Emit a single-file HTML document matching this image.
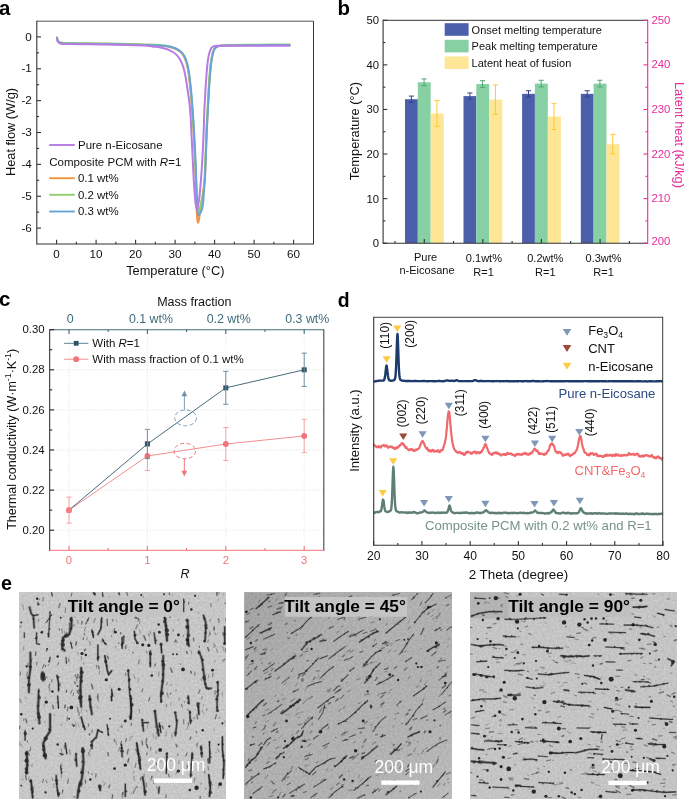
<!DOCTYPE html>
<html><head><meta charset="utf-8"><title>Figure</title>
<style>
html,body{margin:0;padding:0;background:#fff}
svg{display:block}
text{font-family:"Liberation Sans",sans-serif}
</style></head><body>
<svg width="685" height="800" viewBox="0 0 685 800">
<rect x="0" y="0" width="685" height="800" fill="#fff"/>
<g id="panel-a">
<text x="-1.10" y="14.60" font-size="20.4" fill="#000" text-anchor="start" font-weight="bold" font-style="normal" >a</text>
<path d="M56.90,37.70 C57.03,38.30 57.11,38.91 57.30,39.50 C57.50,40.11 57.72,40.79 58.10,41.30 C58.46,41.79 58.91,42.19 59.50,42.50 C60.24,42.88 61.12,43.03 62.30,43.20 C64.27,43.48 67.03,43.42 70.30,43.50 C75.47,43.62 83.63,43.62 90.30,43.70 C96.97,43.78 103.63,43.87 110.30,44.00 C116.97,44.13 124.11,44.34 130.30,44.50 C135.66,44.64 140.34,44.70 145.30,44.90 C150.18,45.10 155.42,45.31 159.80,45.70 C163.45,46.03 166.89,46.25 169.80,46.95 C172.16,47.52 174.14,48.23 176.05,49.20 C177.87,50.13 179.67,51.26 181.05,52.60 C182.35,53.86 183.30,55.26 184.20,56.95 C185.24,58.91 186.00,61.31 186.70,63.80 C187.50,66.66 188.04,70.01 188.55,73.20 C189.08,76.47 189.40,79.68 189.80,83.20 C190.24,87.13 190.67,91.53 191.05,95.70 C191.42,99.86 191.74,104.03 192.05,108.20 C192.36,112.37 192.64,116.77 192.90,120.70 C193.13,124.22 193.32,126.62 193.55,130.70 C193.92,137.16 194.42,147.37 194.80,155.70 C195.17,164.03 195.50,172.83 195.80,180.70 C196.07,187.74 196.38,194.91 196.55,200.70 C196.68,205.15 196.64,209.08 196.80,212.50 C196.92,215.14 197.06,217.61 197.30,219.50 C197.47,220.81 197.62,222.77 197.90,222.80 C198.12,222.83 198.47,221.81 198.70,221.00 C199.12,219.53 199.27,216.84 199.60,214.50 C199.99,211.74 200.45,208.50 200.90,205.50 C201.35,202.50 201.78,199.92 202.30,196.50 C203.00,191.95 204.13,186.51 204.70,180.60 C205.42,173.22 205.47,163.93 205.80,155.60 C206.13,147.27 206.35,138.33 206.70,130.60 C207.00,123.90 207.37,118.10 207.70,111.85 C208.03,105.60 208.33,99.35 208.70,93.10 C209.08,86.85 209.44,80.11 209.95,74.35 C210.38,69.41 210.80,64.65 211.45,60.60 C211.97,57.34 212.50,54.12 213.30,51.85 C213.85,50.30 214.37,49.02 215.20,48.10 C215.90,47.33 216.74,46.88 217.70,46.50 C218.79,46.07 219.93,45.98 221.45,45.80 C223.77,45.52 226.76,45.43 230.30,45.30 C235.62,45.11 243.63,45.07 250.30,45.00 C256.97,44.93 263.69,44.92 270.30,44.90 C276.79,44.88 283.17,44.90 289.60,44.90" stroke="#F5943A" stroke-width="2.0" fill="none" stroke-linejoin="round" stroke-linecap="round"/>
<path d="M56.90,37.30 C57.03,37.90 57.11,38.51 57.30,39.10 C57.50,39.71 57.72,40.39 58.10,40.90 C58.46,41.39 58.91,41.79 59.50,42.10 C60.24,42.48 61.12,42.63 62.30,42.80 C64.27,43.08 67.03,43.02 70.30,43.10 C75.47,43.22 83.63,43.22 90.30,43.30 C96.97,43.38 103.63,43.47 110.30,43.60 C116.97,43.73 124.11,43.94 130.30,44.10 C135.66,44.24 140.33,44.33 145.30,44.50 C150.23,44.67 155.58,44.73 160.00,45.10 C163.66,45.40 167.09,45.65 170.00,46.35 C172.36,46.92 174.34,47.63 176.25,48.60 C178.07,49.53 179.87,50.66 181.25,52.00 C182.55,53.26 183.50,54.66 184.40,56.35 C185.44,58.31 186.20,60.71 186.90,63.20 C187.70,66.06 188.24,69.41 188.75,72.60 C189.28,75.87 189.60,79.08 190.00,82.60 C190.44,86.53 190.87,90.93 191.25,95.10 C191.62,99.26 191.94,103.43 192.25,107.60 C192.56,111.77 192.84,116.17 193.10,120.10 C193.33,123.62 193.52,126.02 193.75,130.10 C194.12,136.56 194.62,146.77 195.00,155.10 C195.37,163.43 195.70,172.23 196.00,180.10 C196.27,187.14 196.43,195.06 196.75,200.10 C196.94,203.17 197.08,205.50 197.40,207.50 C197.62,208.89 197.74,210.80 198.20,211.00 C198.45,211.11 198.83,210.83 199.10,210.50 C199.64,209.83 199.92,207.98 200.30,206.50 C200.76,204.71 201.12,202.62 201.60,200.50 C202.14,198.11 202.95,195.77 203.40,192.90 C203.97,189.27 204.10,185.28 204.40,180.40 C204.83,173.50 205.17,163.73 205.50,155.40 C205.83,147.07 206.05,138.13 206.40,130.40 C206.70,123.70 207.07,117.90 207.40,111.65 C207.73,105.40 208.03,99.15 208.40,92.90 C208.78,86.65 209.14,79.91 209.65,74.15 C210.08,69.21 210.50,64.45 211.15,60.40 C211.67,57.14 212.20,53.92 213.00,51.65 C213.55,50.10 214.07,48.82 214.90,47.90 C215.60,47.13 216.44,46.68 217.40,46.30 C218.49,45.87 219.62,45.78 221.15,45.60 C223.52,45.31 226.66,45.23 230.30,45.10 C235.68,44.91 243.63,44.88 250.30,44.80 C256.97,44.72 263.69,44.65 270.30,44.60 C276.79,44.55 283.17,44.53 289.60,44.50" stroke="#8FCF6E" stroke-width="2.0" fill="none" stroke-linejoin="round" stroke-linecap="round"/>
<path d="M56.90,37.90 C57.03,38.50 57.11,39.11 57.30,39.70 C57.50,40.31 57.72,40.99 58.10,41.50 C58.46,41.99 58.91,42.39 59.50,42.70 C60.24,43.08 61.12,43.23 62.30,43.40 C64.27,43.68 67.03,43.62 70.30,43.70 C75.47,43.82 83.63,43.82 90.30,43.90 C96.97,43.98 103.63,44.07 110.30,44.20 C116.97,44.33 124.11,44.54 130.30,44.70 C135.66,44.84 140.30,44.97 145.30,45.10 C150.30,45.23 155.81,45.16 160.30,45.50 C163.98,45.78 167.39,46.05 170.30,46.75 C172.66,47.32 174.64,48.03 176.55,49.00 C178.37,49.93 180.17,51.06 181.55,52.40 C182.85,53.66 183.80,55.06 184.70,56.75 C185.74,58.71 186.50,61.11 187.20,63.60 C188.00,66.46 188.54,69.81 189.05,73.00 C189.58,76.27 189.90,79.48 190.30,83.00 C190.74,86.93 191.17,91.33 191.55,95.50 C191.92,99.66 192.24,103.83 192.55,108.00 C192.86,112.17 193.14,116.57 193.40,120.50 C193.63,124.02 193.82,126.42 194.05,130.50 C194.42,136.96 194.92,147.17 195.30,155.50 C195.67,163.83 196.00,172.63 196.30,180.50 C196.57,187.54 196.81,194.98 197.05,200.50 C197.22,204.41 197.25,207.75 197.55,210.50 C197.76,212.46 197.83,215.35 198.40,215.50 C198.81,215.61 199.55,214.27 200.05,213.50 C200.62,212.63 201.12,211.65 201.55,210.50 C202.08,209.07 202.46,207.56 202.80,205.50 C203.33,202.29 203.47,197.17 203.80,193.00 C204.13,188.83 204.50,185.38 204.80,180.50 C205.23,173.60 205.57,163.83 205.90,155.50 C206.23,147.17 206.45,138.23 206.80,130.50 C207.10,123.80 207.47,118.00 207.80,111.75 C208.13,105.50 208.43,99.25 208.80,93.00 C209.18,86.75 209.54,80.01 210.05,74.25 C210.48,69.31 210.90,64.55 211.55,60.50 C212.07,57.24 212.60,54.02 213.40,51.75 C213.95,50.20 214.47,48.92 215.30,48.00 C216.00,47.23 216.84,46.78 217.80,46.40 C218.89,45.97 220.03,45.87 221.55,45.70 C223.85,45.45 226.79,45.48 230.30,45.40 C235.61,45.28 243.63,45.25 250.30,45.20 C256.97,45.15 263.69,45.12 270.30,45.10 C276.79,45.08 283.17,45.10 289.60,45.10" stroke="#6AA3D8" stroke-width="2.0" fill="none" stroke-linejoin="round" stroke-linecap="round"/>
<path d="M56.90,38.30 C57.03,38.90 57.11,39.51 57.30,40.10 C57.50,40.71 57.72,41.39 58.10,41.90 C58.46,42.39 58.91,42.79 59.50,43.10 C60.24,43.48 61.12,43.63 62.30,43.80 C64.27,44.08 67.03,44.02 70.30,44.10 C75.47,44.22 83.63,44.22 90.30,44.30 C96.97,44.38 103.63,44.47 110.30,44.60 C116.97,44.73 124.11,44.94 130.30,45.10 C135.66,45.24 141.25,45.16 145.30,45.50 C148.08,45.73 149.89,46.19 152.30,46.50 C154.88,46.83 157.81,46.94 160.30,47.40 C162.53,47.81 164.50,48.25 166.55,49.00 C168.67,49.77 171.03,50.91 172.80,52.00 C174.26,52.90 175.38,53.71 176.55,54.90 C177.90,56.27 179.21,57.99 180.30,59.90 C181.54,62.08 182.57,64.82 183.40,67.40 C184.24,70.02 184.74,72.74 185.30,75.50 C185.88,78.35 186.31,81.15 186.80,84.25 C187.35,87.76 187.90,91.86 188.40,95.50 C188.87,98.93 189.33,101.98 189.70,105.50 C190.11,109.43 190.43,113.83 190.70,118.00 C190.97,122.16 191.06,125.62 191.30,130.50 C191.64,137.40 192.13,147.17 192.55,155.50 C192.97,163.83 193.34,172.91 193.80,180.50 C194.19,186.85 194.62,193.39 195.05,198.00 C195.33,201.03 195.52,203.40 195.90,205.50 C196.18,207.05 196.54,209.49 196.90,209.50 C197.26,209.51 197.70,207.05 198.05,205.50 C198.52,203.40 198.91,201.03 199.30,198.00 C199.89,193.39 200.40,186.86 200.90,180.50 C201.50,172.91 202.08,163.84 202.55,155.50 C203.02,147.17 203.40,138.24 203.70,130.50 C203.96,123.80 204.03,118.00 204.30,111.75 C204.57,105.50 204.93,99.25 205.30,93.00 C205.68,86.75 206.06,80.15 206.55,74.25 C206.99,68.97 207.39,63.38 208.05,59.25 C208.52,56.30 209.00,53.83 209.70,51.75 C210.23,50.18 210.72,48.72 211.55,47.75 C212.24,46.95 213.08,46.45 214.05,46.10 C215.13,45.71 216.18,45.79 217.80,45.70 C220.75,45.54 225.65,45.70 230.30,45.70 C236.19,45.70 243.63,45.70 250.30,45.70 C256.97,45.70 263.69,45.70 270.30,45.70 C276.79,45.70 283.17,45.70 289.60,45.70" stroke="#B77BE3" stroke-width="2.0" fill="none" stroke-linejoin="round" stroke-linecap="round"/>
<line x1="36.80" y1="21.20" x2="313.50" y2="21.20" stroke="#555" stroke-width="1" />
<line x1="313.50" y1="21.20" x2="313.50" y2="244.00" stroke="#333" stroke-width="1" />
<line x1="36.80" y1="20.70" x2="36.80" y2="244.50" stroke="#333333" stroke-width="1.1" />
<line x1="36.80" y1="244.00" x2="314.00" y2="244.00" stroke="#333333" stroke-width="1.1" />
<line x1="36.80" y1="228.12" x2="41.00" y2="228.12" stroke="#333333" stroke-width="1.1" />
<text x="31.80" y="231.72" font-size="11.7" fill="#111" text-anchor="end" font-weight="normal" font-style="normal" >-6</text>
<line x1="36.80" y1="196.25" x2="41.00" y2="196.25" stroke="#333333" stroke-width="1.1" />
<text x="31.80" y="199.85" font-size="11.7" fill="#111" text-anchor="end" font-weight="normal" font-style="normal" >-5</text>
<line x1="36.80" y1="164.38" x2="41.00" y2="164.38" stroke="#333333" stroke-width="1.1" />
<text x="31.80" y="167.98" font-size="11.7" fill="#111" text-anchor="end" font-weight="normal" font-style="normal" >-4</text>
<line x1="36.80" y1="132.51" x2="41.00" y2="132.51" stroke="#333333" stroke-width="1.1" />
<text x="31.80" y="136.11" font-size="11.7" fill="#111" text-anchor="end" font-weight="normal" font-style="normal" >-3</text>
<line x1="36.80" y1="100.64" x2="41.00" y2="100.64" stroke="#333333" stroke-width="1.1" />
<text x="31.80" y="104.24" font-size="11.7" fill="#111" text-anchor="end" font-weight="normal" font-style="normal" >-2</text>
<line x1="36.80" y1="68.77" x2="41.00" y2="68.77" stroke="#333333" stroke-width="1.1" />
<text x="31.80" y="72.37" font-size="11.7" fill="#111" text-anchor="end" font-weight="normal" font-style="normal" >-1</text>
<line x1="36.80" y1="36.90" x2="41.00" y2="36.90" stroke="#333333" stroke-width="1.1" />
<text x="31.80" y="40.50" font-size="11.7" fill="#111" text-anchor="end" font-weight="normal" font-style="normal" >0</text>
<line x1="36.80" y1="212.19" x2="39.10" y2="212.19" stroke="#333333" stroke-width="1.1" />
<line x1="36.80" y1="180.31" x2="39.10" y2="180.31" stroke="#333333" stroke-width="1.1" />
<line x1="36.80" y1="148.44" x2="39.10" y2="148.44" stroke="#333333" stroke-width="1.1" />
<line x1="36.80" y1="116.57" x2="39.10" y2="116.57" stroke="#333333" stroke-width="1.1" />
<line x1="36.80" y1="84.70" x2="39.10" y2="84.70" stroke="#333333" stroke-width="1.1" />
<line x1="36.80" y1="52.84" x2="39.10" y2="52.84" stroke="#333333" stroke-width="1.1" />
<line x1="56.60" y1="244.00" x2="56.60" y2="239.80" stroke="#333333" stroke-width="1.1" />
<text x="56.60" y="258.00" font-size="11.7" fill="#111" text-anchor="middle" font-weight="normal" font-style="normal" >0</text>
<line x1="96.10" y1="244.00" x2="96.10" y2="239.80" stroke="#333333" stroke-width="1.1" />
<text x="96.10" y="258.00" font-size="11.7" fill="#111" text-anchor="middle" font-weight="normal" font-style="normal" >10</text>
<line x1="135.60" y1="244.00" x2="135.60" y2="239.80" stroke="#333333" stroke-width="1.1" />
<text x="135.60" y="258.00" font-size="11.7" fill="#111" text-anchor="middle" font-weight="normal" font-style="normal" >20</text>
<line x1="175.10" y1="244.00" x2="175.10" y2="239.80" stroke="#333333" stroke-width="1.1" />
<text x="175.10" y="258.00" font-size="11.7" fill="#111" text-anchor="middle" font-weight="normal" font-style="normal" >30</text>
<line x1="214.60" y1="244.00" x2="214.60" y2="239.80" stroke="#333333" stroke-width="1.1" />
<text x="214.60" y="258.00" font-size="11.7" fill="#111" text-anchor="middle" font-weight="normal" font-style="normal" >40</text>
<line x1="254.10" y1="244.00" x2="254.10" y2="239.80" stroke="#333333" stroke-width="1.1" />
<text x="254.10" y="258.00" font-size="11.7" fill="#111" text-anchor="middle" font-weight="normal" font-style="normal" >50</text>
<line x1="293.60" y1="244.00" x2="293.60" y2="239.80" stroke="#333333" stroke-width="1.1" />
<text x="293.60" y="258.00" font-size="11.7" fill="#111" text-anchor="middle" font-weight="normal" font-style="normal" >60</text>
<line x1="76.35" y1="244.00" x2="76.35" y2="241.70" stroke="#333333" stroke-width="1.1" />
<line x1="115.85" y1="244.00" x2="115.85" y2="241.70" stroke="#333333" stroke-width="1.1" />
<line x1="155.35" y1="244.00" x2="155.35" y2="241.70" stroke="#333333" stroke-width="1.1" />
<line x1="194.85" y1="244.00" x2="194.85" y2="241.70" stroke="#333333" stroke-width="1.1" />
<line x1="234.35" y1="244.00" x2="234.35" y2="241.70" stroke="#333333" stroke-width="1.1" />
<line x1="273.85" y1="244.00" x2="273.85" y2="241.70" stroke="#333333" stroke-width="1.1" />
<text x="175.30" y="274.70" font-size="12.8" fill="#111" text-anchor="middle" font-weight="normal" font-style="normal" >Temperature (°C)</text>
<text x="14.60" y="132.00" font-size="12.8" fill="#111" text-anchor="middle" font-weight="normal" font-style="normal" transform="rotate(-90 14.60 132.00)" >Heat flow (W/g)</text>
<line x1="49.20" y1="145.00" x2="74.80" y2="145.00" stroke="#B77BE3" stroke-width="1.9" />
<text x="78.00" y="148.70" font-size="11.45" fill="#111" text-anchor="start" font-weight="normal" font-style="normal" >Pure n-Eicosane</text>
<line x1="49.20" y1="178.20" x2="74.80" y2="178.20" stroke="#F5943A" stroke-width="1.9" />
<text x="78.00" y="181.90" font-size="11.45" fill="#111" text-anchor="start" font-weight="normal" font-style="normal" >0.1 wt%</text>
<line x1="49.20" y1="194.80" x2="74.80" y2="194.80" stroke="#8FCF6E" stroke-width="1.9" />
<text x="78.00" y="198.50" font-size="11.45" fill="#111" text-anchor="start" font-weight="normal" font-style="normal" >0.2 wt%</text>
<line x1="49.20" y1="211.50" x2="74.80" y2="211.50" stroke="#6AA3D8" stroke-width="1.9" />
<text x="78.00" y="215.20" font-size="11.45" fill="#111" text-anchor="start" font-weight="normal" font-style="normal" >0.3 wt%</text>
<text x="49.30" y="165.50" font-size="11.5" fill="#111" text-anchor="start" font-weight="normal" font-style="normal" >Composite PCM with <tspan font-style="italic">R</tspan>=1</text>
</g>
<g id="panel-b">
<text x="337.60" y="14.80" font-size="20.4" fill="#000" text-anchor="start" font-weight="bold" font-style="normal" >b</text>
<rect x="405.00" y="99.21" width="12.80" height="143.99" fill="#4C5FAB" />
<rect x="417.80" y="82.27" width="12.90" height="160.93" fill="#86D0A4" />
<rect x="430.70" y="113.47" width="13.10" height="129.73" fill="#FDE695" />
<line x1="411.40" y1="96.09" x2="411.40" y2="102.33" stroke="#2F4583" stroke-width="1" />
<line x1="408.80" y1="96.09" x2="414.00" y2="96.09" stroke="#2F4583" stroke-width="1" />
<line x1="408.80" y1="102.33" x2="414.00" y2="102.33" stroke="#2F4583" stroke-width="1" />
<line x1="424.10" y1="78.92" x2="424.10" y2="85.61" stroke="#4FA877" stroke-width="1" />
<line x1="421.50" y1="78.92" x2="426.70" y2="78.92" stroke="#4FA877" stroke-width="1" />
<line x1="421.50" y1="85.61" x2="426.70" y2="85.61" stroke="#4FA877" stroke-width="1" />
<line x1="436.90" y1="100.54" x2="436.90" y2="126.40" stroke="#FFC832" stroke-width="1" />
<line x1="434.30" y1="100.54" x2="439.50" y2="100.54" stroke="#FFC832" stroke-width="1" />
<line x1="434.30" y1="126.40" x2="439.50" y2="126.40" stroke="#FFC832" stroke-width="1" />
<rect x="463.50" y="96.09" width="12.80" height="147.11" fill="#4C5FAB" />
<rect x="476.30" y="84.05" width="12.90" height="159.15" fill="#86D0A4" />
<rect x="489.20" y="99.65" width="13.10" height="143.55" fill="#FDE695" />
<line x1="469.90" y1="92.97" x2="469.90" y2="99.21" stroke="#2F4583" stroke-width="1" />
<line x1="467.30" y1="92.97" x2="472.50" y2="92.97" stroke="#2F4583" stroke-width="1" />
<line x1="467.30" y1="99.21" x2="472.50" y2="99.21" stroke="#2F4583" stroke-width="1" />
<line x1="482.60" y1="80.71" x2="482.60" y2="87.39" stroke="#4FA877" stroke-width="1" />
<line x1="480.00" y1="80.71" x2="485.20" y2="80.71" stroke="#4FA877" stroke-width="1" />
<line x1="480.00" y1="87.39" x2="485.20" y2="87.39" stroke="#4FA877" stroke-width="1" />
<line x1="495.40" y1="84.94" x2="495.40" y2="114.36" stroke="#FFC832" stroke-width="1" />
<line x1="492.80" y1="84.94" x2="498.00" y2="84.94" stroke="#FFC832" stroke-width="1" />
<line x1="492.80" y1="114.36" x2="498.00" y2="114.36" stroke="#FFC832" stroke-width="1" />
<rect x="522.10" y="93.86" width="12.80" height="149.34" fill="#4C5FAB" />
<rect x="534.90" y="83.60" width="12.90" height="159.60" fill="#86D0A4" />
<rect x="547.80" y="116.59" width="13.10" height="126.61" fill="#FDE695" />
<line x1="528.50" y1="90.74" x2="528.50" y2="96.98" stroke="#2F4583" stroke-width="1" />
<line x1="525.90" y1="90.74" x2="531.10" y2="90.74" stroke="#2F4583" stroke-width="1" />
<line x1="525.90" y1="96.98" x2="531.10" y2="96.98" stroke="#2F4583" stroke-width="1" />
<line x1="541.20" y1="80.26" x2="541.20" y2="86.95" stroke="#4FA877" stroke-width="1" />
<line x1="538.60" y1="80.26" x2="543.80" y2="80.26" stroke="#4FA877" stroke-width="1" />
<line x1="538.60" y1="86.95" x2="543.80" y2="86.95" stroke="#4FA877" stroke-width="1" />
<line x1="554.00" y1="103.66" x2="554.00" y2="129.52" stroke="#FFC832" stroke-width="1" />
<line x1="551.40" y1="103.66" x2="556.60" y2="103.66" stroke="#FFC832" stroke-width="1" />
<line x1="551.40" y1="129.52" x2="556.60" y2="129.52" stroke="#FFC832" stroke-width="1" />
<rect x="580.80" y="93.86" width="12.80" height="149.34" fill="#4C5FAB" />
<rect x="593.60" y="83.60" width="12.90" height="159.60" fill="#86D0A4" />
<rect x="606.50" y="144.23" width="13.10" height="98.97" fill="#FDE695" />
<line x1="587.20" y1="90.74" x2="587.20" y2="96.98" stroke="#2F4583" stroke-width="1" />
<line x1="584.60" y1="90.74" x2="589.80" y2="90.74" stroke="#2F4583" stroke-width="1" />
<line x1="584.60" y1="96.98" x2="589.80" y2="96.98" stroke="#2F4583" stroke-width="1" />
<line x1="599.90" y1="80.26" x2="599.90" y2="86.95" stroke="#4FA877" stroke-width="1" />
<line x1="597.30" y1="80.26" x2="602.50" y2="80.26" stroke="#4FA877" stroke-width="1" />
<line x1="597.30" y1="86.95" x2="602.50" y2="86.95" stroke="#4FA877" stroke-width="1" />
<line x1="612.70" y1="134.42" x2="612.70" y2="154.04" stroke="#FFC832" stroke-width="1" />
<line x1="610.10" y1="134.42" x2="615.30" y2="134.42" stroke="#FFC832" stroke-width="1" />
<line x1="610.10" y1="154.04" x2="615.30" y2="154.04" stroke="#FFC832" stroke-width="1" />
<line x1="383.10" y1="20.30" x2="647.70" y2="20.30" stroke="#333" stroke-width="1" />
<line x1="383.10" y1="19.80" x2="383.10" y2="243.70" stroke="#333333" stroke-width="1.1" />
<line x1="383.10" y1="243.20" x2="647.70" y2="243.20" stroke="#333333" stroke-width="1.1" />
<line x1="647.70" y1="19.80" x2="647.70" y2="243.70" stroke="#E62E9A" stroke-width="1.1" />
<line x1="383.10" y1="243.20" x2="387.30" y2="243.20" stroke="#333333" stroke-width="1.1" />
<text x="379.00" y="247.20" font-size="11.3" fill="#111" text-anchor="end" font-weight="normal" font-style="normal" >0</text>
<line x1="647.70" y1="243.20" x2="643.50" y2="243.20" stroke="#E62E9A" stroke-width="1.1" />
<text x="651.40" y="244.60" font-size="11.3" fill="#E62E9A" text-anchor="start" font-weight="normal" font-style="normal" >200</text>
<line x1="383.10" y1="198.62" x2="387.30" y2="198.62" stroke="#333333" stroke-width="1.1" />
<text x="379.00" y="202.62" font-size="11.3" fill="#111" text-anchor="end" font-weight="normal" font-style="normal" >10</text>
<line x1="647.70" y1="198.62" x2="643.50" y2="198.62" stroke="#E62E9A" stroke-width="1.1" />
<text x="651.40" y="201.80" font-size="11.3" fill="#E62E9A" text-anchor="start" font-weight="normal" font-style="normal" >210</text>
<line x1="383.10" y1="154.04" x2="387.30" y2="154.04" stroke="#333333" stroke-width="1.1" />
<text x="379.00" y="158.04" font-size="11.3" fill="#111" text-anchor="end" font-weight="normal" font-style="normal" >20</text>
<line x1="647.70" y1="154.04" x2="643.50" y2="154.04" stroke="#E62E9A" stroke-width="1.1" />
<text x="651.40" y="158.40" font-size="11.3" fill="#E62E9A" text-anchor="start" font-weight="normal" font-style="normal" >220</text>
<line x1="383.10" y1="109.46" x2="387.30" y2="109.46" stroke="#333333" stroke-width="1.1" />
<text x="379.00" y="113.46" font-size="11.3" fill="#111" text-anchor="end" font-weight="normal" font-style="normal" >30</text>
<line x1="647.70" y1="109.46" x2="643.50" y2="109.46" stroke="#E62E9A" stroke-width="1.1" />
<text x="651.40" y="113.00" font-size="11.3" fill="#E62E9A" text-anchor="start" font-weight="normal" font-style="normal" >230</text>
<line x1="383.10" y1="64.88" x2="387.30" y2="64.88" stroke="#333333" stroke-width="1.1" />
<text x="379.00" y="68.88" font-size="11.3" fill="#111" text-anchor="end" font-weight="normal" font-style="normal" >40</text>
<line x1="647.70" y1="64.88" x2="643.50" y2="64.88" stroke="#E62E9A" stroke-width="1.1" />
<text x="651.40" y="68.40" font-size="11.3" fill="#E62E9A" text-anchor="start" font-weight="normal" font-style="normal" >240</text>
<line x1="383.10" y1="20.30" x2="387.30" y2="20.30" stroke="#333333" stroke-width="1.1" />
<text x="379.00" y="24.30" font-size="11.3" fill="#111" text-anchor="end" font-weight="normal" font-style="normal" >50</text>
<line x1="647.70" y1="20.30" x2="643.50" y2="20.30" stroke="#E62E9A" stroke-width="1.1" />
<text x="651.40" y="24.10" font-size="11.3" fill="#E62E9A" text-anchor="start" font-weight="normal" font-style="normal" >250</text>
<line x1="383.10" y1="220.91" x2="385.40" y2="220.91" stroke="#333333" stroke-width="1.1" />
<line x1="647.70" y1="220.91" x2="645.40" y2="220.91" stroke="#E62E9A" stroke-width="1.1" />
<line x1="383.10" y1="176.33" x2="385.40" y2="176.33" stroke="#333333" stroke-width="1.1" />
<line x1="647.70" y1="176.33" x2="645.40" y2="176.33" stroke="#E62E9A" stroke-width="1.1" />
<line x1="383.10" y1="131.75" x2="385.40" y2="131.75" stroke="#333333" stroke-width="1.1" />
<line x1="647.70" y1="131.75" x2="645.40" y2="131.75" stroke="#E62E9A" stroke-width="1.1" />
<line x1="383.10" y1="87.17" x2="385.40" y2="87.17" stroke="#333333" stroke-width="1.1" />
<line x1="647.70" y1="87.17" x2="645.40" y2="87.17" stroke="#E62E9A" stroke-width="1.1" />
<line x1="383.10" y1="42.59" x2="385.40" y2="42.59" stroke="#333333" stroke-width="1.1" />
<line x1="647.70" y1="42.59" x2="645.40" y2="42.59" stroke="#E62E9A" stroke-width="1.1" />
<line x1="424.30" y1="243.20" x2="424.30" y2="239.00" stroke="#333333" stroke-width="1.1" />
<line x1="482.80" y1="243.20" x2="482.80" y2="239.00" stroke="#333333" stroke-width="1.1" />
<line x1="541.40" y1="243.20" x2="541.40" y2="239.00" stroke="#333333" stroke-width="1.1" />
<line x1="600.10" y1="243.20" x2="600.10" y2="239.00" stroke="#333333" stroke-width="1.1" />
<line x1="395.00" y1="243.20" x2="395.00" y2="240.90" stroke="#333333" stroke-width="1.1" />
<line x1="453.50" y1="243.20" x2="453.50" y2="240.90" stroke="#333333" stroke-width="1.1" />
<line x1="512.10" y1="243.20" x2="512.10" y2="240.90" stroke="#333333" stroke-width="1.1" />
<line x1="570.70" y1="243.20" x2="570.70" y2="240.90" stroke="#333333" stroke-width="1.1" />
<line x1="629.40" y1="243.20" x2="629.40" y2="240.90" stroke="#333333" stroke-width="1.1" />
<text x="425.60" y="260.70" font-size="11.0" fill="#111" text-anchor="middle" font-weight="normal" font-style="normal" >Pure</text>
<text x="427.00" y="274.10" font-size="11.0" fill="#111" text-anchor="middle" font-weight="normal" font-style="normal" >n-Eicosane</text>
<text x="483.90" y="261.80" font-size="11.0" fill="#111" text-anchor="middle" font-weight="normal" font-style="normal" >0.1wt%</text>
<text x="483.60" y="275.70" font-size="11.0" fill="#111" text-anchor="middle" font-weight="normal" font-style="normal" >R=1</text>
<text x="545.30" y="261.90" font-size="11.0" fill="#111" text-anchor="middle" font-weight="normal" font-style="normal" >0.2wt%</text>
<text x="545.30" y="275.70" font-size="11.0" fill="#111" text-anchor="middle" font-weight="normal" font-style="normal" >R=1</text>
<text x="603.60" y="261.90" font-size="11.0" fill="#111" text-anchor="middle" font-weight="normal" font-style="normal" >0.3wt%</text>
<text x="603.60" y="275.70" font-size="11.0" fill="#111" text-anchor="middle" font-weight="normal" font-style="normal" >R=1</text>
<text x="359.20" y="131.00" font-size="12.8" fill="#111" text-anchor="middle" font-weight="normal" font-style="normal" transform="rotate(-90 359.20 131.00)" >Temperature (°C)</text>
<text x="674.80" y="135.00" font-size="12.8" fill="#E62E9A" text-anchor="middle" font-weight="normal" font-style="normal" transform="rotate(90 674.80 135.00)" >Latent heat (kJ/kg)</text>
<rect x="444.70" y="23.20" width="23.90" height="12.60" fill="#4C5FAB" />
<text x="471.60" y="33.60" font-size="11" fill="#111" text-anchor="start" font-weight="normal" font-style="normal" >Onset melting temperature</text>
<rect x="444.70" y="39.80" width="23.90" height="12.60" fill="#86D0A4" />
<text x="471.60" y="50.20" font-size="11" fill="#111" text-anchor="start" font-weight="normal" font-style="normal" >Peak melting temperature</text>
<rect x="444.70" y="56.40" width="23.90" height="12.60" fill="#FDE695" />
<text x="471.60" y="66.80" font-size="11" fill="#111" text-anchor="start" font-weight="normal" font-style="normal" >Latent heat of fusion</text>
</g>
<g id="panel-c">
<text x="-1.10" y="305.70" font-size="20.4" fill="#000" text-anchor="start" font-weight="bold" font-style="normal" >c</text>
<line x1="49.90" y1="530.20" x2="323.80" y2="530.20" stroke="#dedede" stroke-width="0.7" stroke-dasharray="1.6,1.6"/>
<line x1="49.90" y1="490.10" x2="323.80" y2="490.10" stroke="#dedede" stroke-width="0.7" stroke-dasharray="1.6,1.6"/>
<line x1="49.90" y1="450.00" x2="323.80" y2="450.00" stroke="#dedede" stroke-width="0.7" stroke-dasharray="1.6,1.6"/>
<line x1="49.90" y1="409.90" x2="323.80" y2="409.90" stroke="#dedede" stroke-width="0.7" stroke-dasharray="1.6,1.6"/>
<line x1="49.90" y1="369.80" x2="323.80" y2="369.80" stroke="#dedede" stroke-width="0.7" stroke-dasharray="1.6,1.6"/>
<line x1="69.00" y1="329.70" x2="69.00" y2="550.30" stroke="#e2e2e2" stroke-width="0.7" stroke-dasharray="1.6,1.6"/>
<line x1="147.40" y1="329.70" x2="147.40" y2="550.30" stroke="#e2e2e2" stroke-width="0.7" stroke-dasharray="1.6,1.6"/>
<line x1="225.80" y1="329.70" x2="225.80" y2="550.30" stroke="#e2e2e2" stroke-width="0.7" stroke-dasharray="1.6,1.6"/>
<line x1="304.20" y1="329.70" x2="304.20" y2="550.30" stroke="#e2e2e2" stroke-width="0.7" stroke-dasharray="1.6,1.6"/>
<path d="M69.00,510.15 L147.40,456.02 L225.80,443.99 L304.20,435.97" stroke="#F58E90" stroke-width="1" fill="none" />
<line x1="69.00" y1="497.12" x2="69.00" y2="523.18" stroke="#F5A3A5" stroke-width="1" />
<line x1="66.40" y1="497.12" x2="71.60" y2="497.12" stroke="#F5A3A5" stroke-width="1" />
<line x1="66.40" y1="523.18" x2="71.60" y2="523.18" stroke="#F5A3A5" stroke-width="1" />
<circle cx="69.00" cy="510.15" r="2.9" fill="#F0747A"/>
<line x1="147.40" y1="441.58" x2="147.40" y2="470.45" stroke="#F5A3A5" stroke-width="1" />
<line x1="144.80" y1="441.58" x2="150.00" y2="441.58" stroke="#F5A3A5" stroke-width="1" />
<line x1="144.80" y1="470.45" x2="150.00" y2="470.45" stroke="#F5A3A5" stroke-width="1" />
<circle cx="147.40" cy="456.02" r="2.9" fill="#F0747A"/>
<line x1="225.80" y1="427.54" x2="225.80" y2="460.43" stroke="#F5A3A5" stroke-width="1" />
<line x1="223.20" y1="427.54" x2="228.40" y2="427.54" stroke="#F5A3A5" stroke-width="1" />
<line x1="223.20" y1="460.43" x2="228.40" y2="460.43" stroke="#F5A3A5" stroke-width="1" />
<circle cx="225.80" cy="443.99" r="2.9" fill="#F0747A"/>
<line x1="304.20" y1="419.32" x2="304.20" y2="452.61" stroke="#F5A3A5" stroke-width="1" />
<line x1="301.60" y1="419.32" x2="306.80" y2="419.32" stroke="#F5A3A5" stroke-width="1" />
<line x1="301.60" y1="452.61" x2="306.80" y2="452.61" stroke="#F5A3A5" stroke-width="1" />
<circle cx="304.20" cy="435.97" r="2.9" fill="#F0747A"/>
<path d="M69.00,510.15 L147.40,443.99 L225.80,387.85 L304.20,369.80" stroke="#456C7B" stroke-width="1.0" fill="none" />
<rect x="144.90" y="441.49" width="5.00" height="5.00" fill="#2E5363" />
<line x1="147.40" y1="429.35" x2="147.40" y2="458.62" stroke="#6F92A1" stroke-width="1" />
<line x1="144.80" y1="429.35" x2="150.00" y2="429.35" stroke="#6F92A1" stroke-width="1" />
<line x1="144.80" y1="458.62" x2="150.00" y2="458.62" stroke="#6F92A1" stroke-width="1" />
<rect x="223.30" y="385.35" width="5.00" height="5.00" fill="#2E5363" />
<line x1="225.80" y1="371.40" x2="225.80" y2="404.29" stroke="#6F92A1" stroke-width="1" />
<line x1="223.20" y1="371.40" x2="228.40" y2="371.40" stroke="#6F92A1" stroke-width="1" />
<line x1="223.20" y1="404.29" x2="228.40" y2="404.29" stroke="#6F92A1" stroke-width="1" />
<rect x="301.70" y="367.30" width="5.00" height="5.00" fill="#2E5363" />
<line x1="304.20" y1="353.16" x2="304.20" y2="386.44" stroke="#6F92A1" stroke-width="1" />
<line x1="301.60" y1="353.16" x2="306.80" y2="353.16" stroke="#6F92A1" stroke-width="1" />
<line x1="301.60" y1="386.44" x2="306.80" y2="386.44" stroke="#6F92A1" stroke-width="1" />
<rect x="66.50" y="507.75" width="5.0" height="5.0" rx="0.9" fill="#F27F84"/>
<ellipse cx="185.6" cy="417.9" rx="10.9" ry="7.9" fill="none" stroke="#7FA0B5" stroke-width="1" stroke-dasharray="4,2.5"/>
<line x1="184.40" y1="410.30" x2="184.40" y2="395.00" stroke="#7FA0B5" stroke-width="1" />
<path d="M181.6,396.2 L187.2,396.2 L184.4,390.6 Z" fill="#6F91A8"/>
<ellipse cx="184.8" cy="451" rx="10.8" ry="7.7" fill="none" stroke="#F0747A" stroke-width="1" stroke-dasharray="4,2.5"/>
<line x1="184.30" y1="458.50" x2="184.30" y2="472.00" stroke="#F0747A" stroke-width="1" />
<path d="M181.5,470.7 L187.1,470.7 L184.3,476.4 Z" fill="#F0747A"/>
<line x1="49.90" y1="329.70" x2="323.80" y2="329.70" stroke="#3F6B7B" stroke-width="1.1" />
<line x1="323.80" y1="329.20" x2="323.80" y2="550.80" stroke="#444" stroke-width="1.1" />
<line x1="49.70" y1="329.20" x2="49.70" y2="550.80" stroke="#222" stroke-width="1.0" />
<line x1="49.90" y1="550.30" x2="324.30" y2="550.30" stroke="#F0747A" stroke-width="1.0" />
<line x1="49.90" y1="530.20" x2="54.10" y2="530.20" stroke="#222" stroke-width="1.1" />
<text x="44.70" y="533.80" font-size="11.4" fill="#111" text-anchor="end" font-weight="normal" font-style="normal" >0.20</text>
<line x1="49.90" y1="490.10" x2="54.10" y2="490.10" stroke="#222" stroke-width="1.1" />
<text x="44.70" y="493.70" font-size="11.4" fill="#111" text-anchor="end" font-weight="normal" font-style="normal" >0.22</text>
<line x1="49.90" y1="450.00" x2="54.10" y2="450.00" stroke="#222" stroke-width="1.1" />
<text x="44.70" y="453.60" font-size="11.4" fill="#111" text-anchor="end" font-weight="normal" font-style="normal" >0.24</text>
<line x1="49.90" y1="409.90" x2="54.10" y2="409.90" stroke="#222" stroke-width="1.1" />
<text x="44.70" y="413.50" font-size="11.4" fill="#111" text-anchor="end" font-weight="normal" font-style="normal" >0.26</text>
<line x1="49.90" y1="369.80" x2="54.10" y2="369.80" stroke="#222" stroke-width="1.1" />
<text x="44.70" y="373.40" font-size="11.4" fill="#111" text-anchor="end" font-weight="normal" font-style="normal" >0.28</text>
<line x1="49.90" y1="329.70" x2="54.10" y2="329.70" stroke="#222" stroke-width="1.1" />
<text x="44.70" y="333.30" font-size="11.4" fill="#111" text-anchor="end" font-weight="normal" font-style="normal" >0.30</text>
<line x1="49.90" y1="510.15" x2="52.20" y2="510.15" stroke="#222" stroke-width="1.1" />
<line x1="49.90" y1="470.05" x2="52.20" y2="470.05" stroke="#222" stroke-width="1.1" />
<line x1="49.90" y1="429.95" x2="52.20" y2="429.95" stroke="#222" stroke-width="1.1" />
<line x1="49.90" y1="389.85" x2="52.20" y2="389.85" stroke="#222" stroke-width="1.1" />
<line x1="49.90" y1="349.75" x2="52.20" y2="349.75" stroke="#222" stroke-width="1.1" />
<line x1="69.00" y1="329.70" x2="69.00" y2="333.90" stroke="#3F6B7B" stroke-width="1.1" />
<line x1="69.00" y1="550.30" x2="69.00" y2="546.10" stroke="#F0747A" stroke-width="1.1" />
<text x="69.00" y="564.40" font-size="11.3" fill="#F0747A" text-anchor="middle" font-weight="normal" font-style="normal" >0</text>
<line x1="147.40" y1="329.70" x2="147.40" y2="333.90" stroke="#3F6B7B" stroke-width="1.1" />
<line x1="147.40" y1="550.30" x2="147.40" y2="546.10" stroke="#F0747A" stroke-width="1.1" />
<text x="147.40" y="564.40" font-size="11.3" fill="#F0747A" text-anchor="middle" font-weight="normal" font-style="normal" >1</text>
<line x1="225.80" y1="329.70" x2="225.80" y2="333.90" stroke="#3F6B7B" stroke-width="1.1" />
<line x1="225.80" y1="550.30" x2="225.80" y2="546.10" stroke="#F0747A" stroke-width="1.1" />
<text x="225.80" y="564.40" font-size="11.3" fill="#F0747A" text-anchor="middle" font-weight="normal" font-style="normal" >2</text>
<line x1="304.20" y1="329.70" x2="304.20" y2="333.90" stroke="#3F6B7B" stroke-width="1.1" />
<line x1="304.20" y1="550.30" x2="304.20" y2="546.10" stroke="#F0747A" stroke-width="1.1" />
<text x="304.20" y="564.40" font-size="11.3" fill="#F0747A" text-anchor="middle" font-weight="normal" font-style="normal" >3</text>
<line x1="108.20" y1="329.70" x2="108.20" y2="332.00" stroke="#3F6B7B" stroke-width="1.1" />
<line x1="108.20" y1="550.30" x2="108.20" y2="548.00" stroke="#F0747A" stroke-width="1.1" />
<line x1="186.60" y1="329.70" x2="186.60" y2="332.00" stroke="#3F6B7B" stroke-width="1.1" />
<line x1="186.60" y1="550.30" x2="186.60" y2="548.00" stroke="#F0747A" stroke-width="1.1" />
<line x1="265.00" y1="329.70" x2="265.00" y2="332.00" stroke="#3F6B7B" stroke-width="1.1" />
<line x1="265.00" y1="550.30" x2="265.00" y2="548.00" stroke="#F0747A" stroke-width="1.1" />
<text x="70.10" y="322.70" font-size="12.4" fill="#3F6B7B" text-anchor="middle" font-weight="normal" font-style="normal" >0</text>
<text x="151.00" y="322.70" font-size="12.4" fill="#3F6B7B" text-anchor="middle" font-weight="normal" font-style="normal" >0.1 wt%</text>
<text x="228.70" y="322.70" font-size="12.4" fill="#3F6B7B" text-anchor="middle" font-weight="normal" font-style="normal" >0.2 wt%</text>
<text x="307.30" y="322.70" font-size="12.4" fill="#3F6B7B" text-anchor="middle" font-weight="normal" font-style="normal" >0.3 wt%</text>
<text x="194.30" y="305.80" font-size="12.5" fill="#111" text-anchor="middle" font-weight="normal" font-style="normal" >Mass fraction</text>
<text x="185.00" y="578.20" font-size="12.4" fill="#111" text-anchor="middle" font-weight="normal" font-style="italic" >R</text>
<text x="16.00" y="439.30" font-size="12.5" fill="#111" text-anchor="middle" font-weight="normal" font-style="normal" transform="rotate(-90 16.00 439.30)" >Thermal conductivity (W·m<tspan font-size="8.8" dy="-5.3">-1</tspan><tspan dy="5.3">·K</tspan><tspan font-size="8.8" dy="-5.3">-1</tspan><tspan dy="5.3">)</tspan></text>
<line x1="64.00" y1="343.30" x2="88.40" y2="343.30" stroke="#5D8494" stroke-width="1" />
<rect x="73.80" y="340.90" width="4.80" height="4.80" fill="#2E5363" />
<text x="92.30" y="347.40" font-size="11.5" fill="#111" text-anchor="start" font-weight="normal" font-style="normal" >With <tspan font-style="italic">R</tspan>=1</text>
<line x1="64.00" y1="359.20" x2="88.40" y2="359.20" stroke="#F28C90" stroke-width="1" />
<circle cx="76.2" cy="359.2" r="2.9" fill="#F0747A"/>
<text x="92.30" y="363.30" font-size="11.5" fill="#111" text-anchor="start" font-weight="normal" font-style="normal" >With mass fraction of 0.1 wt%</text>
</g>
<g id="panel-d">
<text x="337.80" y="306.80" font-size="19.4" fill="#000" text-anchor="start" font-weight="bold" font-style="normal" >d</text>
<path d="M373.70,381.63 L374.02,381.53 L374.34,381.52 L374.67,381.42 L374.99,381.38 L375.31,381.29 L375.63,381.32 L375.95,381.19 L376.27,381.14 L376.60,381.06 L376.92,381.01 L377.24,380.94 L377.56,380.91 L377.88,380.89 L378.21,380.86 L378.53,380.79 L378.85,380.79 L379.17,380.72 L379.49,380.68 L379.81,380.59 L380.14,380.56 L380.46,380.63 L380.78,380.62 L381.10,380.62 L381.42,380.62 L381.75,380.59 L382.07,380.61 L382.39,380.62 L382.71,380.61 L383.03,380.60 L383.35,380.56 L383.68,380.41 L384.00,380.08 L384.32,379.46 L384.64,378.41 L384.96,376.81 L385.29,374.47 L385.61,371.60 L385.93,368.61 L386.25,366.28 L386.57,365.54 L386.89,366.82 L387.22,369.45 L387.54,372.47 L387.86,375.15 L388.18,377.27 L388.50,378.73 L388.83,379.63 L389.15,380.10 L389.47,380.38 L389.79,380.51 L390.11,380.59 L390.43,380.62 L390.76,380.70 L391.08,380.72 L391.40,380.72 L391.72,380.70 L392.04,380.65 L392.37,380.62 L392.69,380.60 L393.01,380.56 L393.33,380.46 L393.65,380.28 L393.97,380.11 L394.30,379.90 L394.62,379.55 L394.94,378.90 L395.26,377.54 L395.58,375.03 L395.91,370.65 L396.23,363.94 L396.55,354.96 L396.87,344.94 L397.19,336.69 L397.51,333.98 L397.84,338.47 L398.16,347.59 L398.48,357.58 L398.80,366.05 L399.12,372.14 L399.45,375.91 L399.77,378.04 L400.09,379.16 L400.41,379.72 L400.73,380.01 L401.06,380.20 L401.38,380.35 L401.70,380.49 L402.02,380.56 L402.34,380.64 L402.66,380.66 L402.99,380.70 L403.31,380.73 L403.63,380.80 L403.95,380.86 L404.27,380.89 L404.60,380.88 L404.92,380.92 L405.24,380.95 L405.56,380.96 L405.88,380.95 L406.20,380.98 L406.53,380.93 L406.85,380.94 L407.17,380.95 L407.49,380.96 L407.81,380.98 L408.14,380.93 L408.46,380.96 L408.78,380.94 L409.10,380.97 L409.42,381.01 L409.74,381.01 L410.07,380.97 L410.39,381.03 L410.71,381.07 L411.03,381.06 L411.35,381.09 L411.68,381.17 L412.00,381.15 L412.32,381.12 L412.64,381.14 L412.96,381.16 L413.28,381.11 L413.61,381.04 L413.93,381.10 L414.25,381.09 L414.57,381.04 L414.89,381.04 L415.22,381.04 L415.54,381.04 L415.86,381.05 L416.18,381.06 L416.50,381.09 L416.82,381.10 L417.15,381.09 L417.47,381.12 L417.79,381.11 L418.11,381.14 L418.43,381.14 L418.76,381.14 L419.08,381.16 L419.40,381.16 L419.72,381.08 L420.04,381.09 L420.36,381.13 L420.69,381.13 L421.01,381.13 L421.33,381.11 L421.65,381.10 L421.97,381.09 L422.30,381.07 L422.62,381.12 L422.94,381.07 L423.26,381.02 L423.58,381.01 L423.90,381.02 L424.23,381.02 L424.55,381.05 L424.87,381.05 L425.19,381.13 L425.51,381.10 L425.84,381.11 L426.16,381.13 L426.48,381.19 L426.80,381.18 L427.12,381.18 L427.44,381.15 L427.77,381.18 L428.09,381.12 L428.41,381.18 L428.73,381.19 L429.05,381.14 L429.38,381.09 L429.70,381.11 L430.02,381.14 L430.34,381.14 L430.66,381.10 L430.98,381.12 L431.31,381.11 L431.63,381.12 L431.95,381.15 L432.27,381.17 L432.59,381.17 L432.92,381.18 L433.24,381.21 L433.56,381.24 L433.88,381.19 L434.20,381.20 L434.52,381.20 L434.85,381.23 L435.17,381.22 L435.49,381.21 L435.81,381.18 L436.13,381.14 L436.46,381.17 L436.78,381.18 L437.10,381.13 L437.42,381.08 L437.74,381.04 L438.06,380.99 L438.39,381.04 L438.71,381.02 L439.03,381.00 L439.35,380.98 L439.67,381.00 L440.00,381.01 L440.32,381.07 L440.64,381.11 L440.96,381.12 L441.28,381.11 L441.60,381.12 L441.93,381.19 L442.25,381.17 L442.57,381.22 L442.89,381.25 L443.21,381.19 L443.54,381.21 L443.86,381.18 L444.18,381.11 L444.50,381.04 L444.82,380.93 L445.14,380.84 L445.47,380.71 L445.79,380.63 L446.11,380.62 L446.43,380.49 L446.75,380.43 L447.08,380.40 L447.40,380.43 L447.72,380.45 L448.04,380.54 L448.36,380.62 L448.69,380.69 L449.01,380.73 L449.33,380.77 L449.65,380.82 L449.97,380.88 L450.29,380.89 L450.62,380.87 L450.94,380.83 L451.26,380.74 L451.58,380.70 L451.90,380.68 L452.23,380.68 L452.55,380.81 L452.87,380.88 L453.19,380.91 L453.51,381.01 L453.83,381.00 L454.16,381.01 L454.48,380.95 L454.80,380.86 L455.12,380.77 L455.44,380.60 L455.77,380.44 L456.09,380.35 L456.41,380.26 L456.73,380.24 L457.05,380.28 L457.37,380.40 L457.70,380.52 L458.02,380.72 L458.34,380.87 L458.66,381.01 L458.98,381.11 L459.31,381.12 L459.63,381.13 L459.95,381.12 L460.27,381.15 L460.59,381.17 L460.91,381.18 L461.24,381.13 L461.56,381.10 L461.88,381.08 L462.20,381.13 L462.52,381.15 L462.85,381.19 L463.17,381.16 L463.49,381.17 L463.81,381.11 L464.13,381.13 L464.45,381.14 L464.78,381.13 L465.10,381.12 L465.42,381.11 L465.74,381.10 L466.06,381.09 L466.39,381.10 L466.71,381.14 L467.03,381.12 L467.35,381.14 L467.67,381.19 L467.99,381.14 L468.32,381.14 L468.64,381.12 L468.96,381.12 L469.28,381.15 L469.60,381.13 L469.93,381.14 L470.25,381.14 L470.57,381.07 L470.89,381.12 L471.21,381.13 L471.53,381.16 L471.86,381.11 L472.18,381.09 L472.50,381.03 L472.82,380.96 L473.14,380.83 L473.47,380.69 L473.79,380.51 L474.11,380.38 L474.43,380.24 L474.75,380.20 L475.07,380.11 L475.40,380.14 L475.72,380.23 L476.04,380.33 L476.36,380.51 L476.68,380.66 L477.01,380.81 L477.33,380.95 L477.65,381.05 L477.97,381.11 L478.29,381.14 L478.61,381.18 L478.94,381.20 L479.26,381.14 L479.58,381.10 L479.90,381.02 L480.22,380.96 L480.55,380.93 L480.87,380.98 L481.19,380.98 L481.51,380.95 L481.83,380.96 L482.15,381.01 L482.48,381.05 L482.80,381.11 L483.12,381.17 L483.44,381.15 L483.76,381.14 L484.09,381.17 L484.41,381.16 L484.73,381.18 L485.05,381.17 L485.37,381.16 L485.69,381.17 L486.02,381.15 L486.34,381.17 L486.66,381.13 L486.98,381.10 L487.30,381.12 L487.63,381.06 L487.95,381.08 L488.27,381.09 L488.59,381.11 L488.91,381.12 L489.23,381.07 L489.56,381.10 L489.88,381.12 L490.20,381.10 L490.52,381.13 L490.84,381.14 L491.17,381.14 L491.49,381.17 L491.81,381.17 L492.13,381.28 L492.45,381.25 L492.77,381.20 L493.10,381.22 L493.42,381.25 L493.74,381.23 L494.06,381.21 L494.38,381.15 L494.71,381.15 L495.03,381.10 L495.35,381.12 L495.67,381.15 L495.99,381.12 L496.32,381.08 L496.64,381.05 L496.96,381.13 L497.28,381.13 L497.60,381.12 L497.92,381.10 L498.25,381.13 L498.57,381.09 L498.89,381.13 L499.21,381.14 L499.53,381.22 L499.86,381.15 L500.18,381.17 L500.50,381.16 L500.82,381.22 L501.14,381.19 L501.46,381.24 L501.79,381.16 L502.11,381.15 L502.43,381.11 L502.75,381.16 L503.07,381.16 L503.40,381.20 L503.72,381.21 L504.04,381.22 L504.36,381.16 L504.68,381.17 L505.00,381.17 L505.33,381.18 L505.65,381.17 L505.97,381.12 L506.29,381.07 L506.61,381.07 L506.94,381.06 L507.26,381.10 L507.58,381.19 L507.90,381.21 L508.22,381.17 L508.54,381.17 L508.87,381.22 L509.19,381.22 L509.51,381.21 L509.83,381.24 L510.15,381.28 L510.48,381.23 L510.80,381.26 L511.12,381.27 L511.44,381.27 L511.76,381.30 L512.08,381.32 L512.41,381.34 L512.73,381.32 L513.05,381.26 L513.37,381.24 L513.69,381.24 L514.02,381.24 L514.34,381.24 L514.66,381.19 L514.98,381.20 L515.30,381.15 L515.62,381.17 L515.95,381.20 L516.27,381.25 L516.59,381.24 L516.91,381.23 L517.23,381.24 L517.56,381.24 L517.88,381.20 L518.20,381.23 L518.52,381.18 L518.84,381.18 L519.16,381.14 L519.49,381.11 L519.81,381.15 L520.13,381.14 L520.45,381.16 L520.77,381.17 L521.10,381.17 L521.42,381.22 L521.74,381.26 L522.06,381.25 L522.38,381.29 L522.70,381.27 L523.03,381.25 L523.35,381.29 L523.67,381.29 L523.99,381.27 L524.31,381.18 L524.64,381.13 L524.96,381.15 L525.28,381.12 L525.60,381.13 L525.92,381.11 L526.24,381.05 L526.57,381.07 L526.89,381.12 L527.21,381.18 L527.53,381.24 L527.85,381.27 L528.18,381.31 L528.50,381.28 L528.82,381.30 L529.14,381.33 L529.46,381.31 L529.78,381.29 L530.11,381.24 L530.43,381.19 L530.75,381.16 L531.07,381.09 L531.39,381.08 L531.72,381.08 L532.04,381.03 L532.36,381.04 L532.68,381.01 L533.00,381.04 L533.32,381.06 L533.65,381.05 L533.97,381.09 L534.29,381.11 L534.61,381.10 L534.93,381.15 L535.26,381.19 L535.58,381.22 L535.90,381.23 L536.22,381.21 L536.54,381.22 L536.86,381.21 L537.19,381.19 L537.51,381.22 L537.83,381.21 L538.15,381.20 L538.47,381.23 L538.80,381.21 L539.12,381.24 L539.44,381.27 L539.76,381.31 L540.08,381.34 L540.40,381.36 L540.73,381.34 L541.05,381.33 L541.37,381.33 L541.69,381.38 L542.01,381.36 L542.34,381.32 L542.66,381.30 L542.98,381.28 L543.30,381.24 L543.62,381.27 L543.95,381.25 L544.27,381.17 L544.59,381.14 L544.91,381.15 L545.23,381.14 L545.55,381.10 L545.88,381.13 L546.20,381.08 L546.52,381.03 L546.84,381.03 L547.16,381.10 L547.49,381.12 L547.81,381.11 L548.13,381.12 L548.45,381.12 L548.77,381.12 L549.09,381.14 L549.42,381.18 L549.74,381.21 L550.06,381.17 L550.38,381.18 L550.70,381.19 L551.03,381.20 L551.35,381.25 L551.67,381.23 L551.99,381.29 L552.31,381.31 L552.63,381.25 L552.96,381.35 L553.28,381.33 L553.60,381.35 L553.92,381.31 L554.24,381.29 L554.57,381.28 L554.89,381.27 L555.21,381.26 L555.53,381.35 L555.85,381.26 L556.17,381.25 L556.50,381.26 L556.82,381.29 L557.14,381.28 L557.46,381.32 L557.78,381.32 L558.11,381.30 L558.43,381.23 L558.75,381.23 L559.07,381.24 L559.39,381.23 L559.71,381.28 L560.04,381.26 L560.36,381.24 L560.68,381.17 L561.00,381.17 L561.32,381.19 L561.65,381.20 L561.97,381.21 L562.29,381.21 L562.61,381.21 L562.93,381.24 L563.25,381.26 L563.58,381.31 L563.90,381.36 L564.22,381.34 L564.54,381.34 L564.86,381.28 L565.19,381.26 L565.51,381.20 L565.83,381.17 L566.15,381.15 L566.47,381.16 L566.79,381.10 L567.12,381.16 L567.44,381.16 L567.76,381.20 L568.08,381.23 L568.40,381.25 L568.73,381.22 L569.05,381.19 L569.37,381.22 L569.69,381.23 L570.01,381.21 L570.33,381.19 L570.66,381.18 L570.98,381.12 L571.30,381.16 L571.62,381.20 L571.94,381.25 L572.27,381.22 L572.59,381.27 L572.91,381.24 L573.23,381.28 L573.55,381.23 L573.87,381.25 L574.20,381.24 L574.52,381.24 L574.84,381.21 L575.16,381.21 L575.48,381.20 L575.81,381.19 L576.13,381.18 L576.45,381.20 L576.77,381.21 L577.09,381.22 L577.41,381.25 L577.74,381.23 L578.06,381.25 L578.38,381.21 L578.70,381.25 L579.02,381.19 L579.35,381.18 L579.67,381.18 L579.99,381.16 L580.31,381.16 L580.63,381.21 L580.95,381.23 L581.28,381.28 L581.60,381.26 L581.92,381.30 L582.24,381.35 L582.56,381.36 L582.89,381.36 L583.21,381.30 L583.53,381.27 L583.85,381.17 L584.17,381.13 L584.49,381.12 L584.82,381.14 L585.14,381.10 L585.46,381.10 L585.78,381.13 L586.10,381.14 L586.43,381.15 L586.75,381.17 L587.07,381.18 L587.39,381.22 L587.71,381.22 L588.03,381.21 L588.36,381.23 L588.68,381.20 L589.00,381.23 L589.32,381.22 L589.64,381.28 L589.97,381.29 L590.29,381.25 L590.61,381.21 L590.93,381.29 L591.25,381.32 L591.58,381.28 L591.90,381.29 L592.22,381.31 L592.54,381.31 L592.86,381.31 L593.18,381.31 L593.51,381.33 L593.83,381.26 L594.15,381.22 L594.47,381.25 L594.79,381.23 L595.12,381.24 L595.44,381.26 L595.76,381.23 L596.08,381.24 L596.40,381.22 L596.72,381.26 L597.05,381.26 L597.37,381.30 L597.69,381.29 L598.01,381.27 L598.33,381.21 L598.66,381.27 L598.98,381.27 L599.30,381.25 L599.62,381.21 L599.94,381.16 L600.26,381.12 L600.59,381.14 L600.91,381.14 L601.23,381.21 L601.55,381.17 L601.87,381.20 L602.20,381.24 L602.52,381.25 L602.84,381.26 L603.16,381.28 L603.48,381.27 L603.80,381.26 L604.13,381.20 L604.45,381.21 L604.77,381.20 L605.09,381.19 L605.41,381.19 L605.74,381.26 L606.06,381.27 L606.38,381.29 L606.70,381.37 L607.02,381.39 L607.34,381.37 L607.67,381.35 L607.99,381.36 L608.31,381.34 L608.63,381.26 L608.95,381.21 L609.28,381.19 L609.60,381.14 L609.92,381.11 L610.24,381.11 L610.56,381.13 L610.88,381.10 L611.21,381.13 L611.53,381.20 L611.85,381.23 L612.17,381.21 L612.49,381.23 L612.82,381.26 L613.14,381.31 L613.46,381.30 L613.78,381.33 L614.10,381.30 L614.42,381.28 L614.75,381.26 L615.07,381.27 L615.39,381.23 L615.71,381.27 L616.03,381.21 L616.36,381.20 L616.68,381.22 L617.00,381.25 L617.32,381.23 L617.64,381.26 L617.96,381.27 L618.29,381.22 L618.61,381.18 L618.93,381.21 L619.25,381.25 L619.57,381.23 L619.90,381.22 L620.22,381.29 L620.54,381.27 L620.86,381.25 L621.18,381.28 L621.50,381.30 L621.83,381.25 L622.15,381.25 L622.47,381.20 L622.79,381.19 L623.11,381.18 L623.44,381.21 L623.76,381.19 L624.08,381.19 L624.40,381.18 L624.72,381.21 L625.04,381.22 L625.37,381.19 L625.69,381.21 L626.01,381.21 L626.33,381.18 L626.65,381.25 L626.98,381.24 L627.30,381.27 L627.62,381.27 L627.94,381.26 L628.26,381.31 L628.58,381.32 L628.91,381.33 L629.23,381.29 L629.55,381.26 L629.87,381.29 L630.19,381.26 L630.52,381.26 L630.84,381.28 L631.16,381.30 L631.48,381.31 L631.80,381.28 L632.12,381.29 L632.45,381.30 L632.77,381.29 L633.09,381.35 L633.41,381.37 L633.73,381.36 L634.06,381.35 L634.38,381.30 L634.70,381.32 L635.02,381.35 L635.34,381.37 L635.66,381.38 L635.99,381.31 L636.31,381.28 L636.63,381.25 L636.95,381.27 L637.27,381.28 L637.60,381.28 L637.92,381.26 L638.24,381.25 L638.56,381.26 L638.88,381.28 L639.21,381.31 L639.53,381.30 L639.85,381.31 L640.17,381.29 L640.49,381.30 L640.81,381.32 L641.14,381.33 L641.46,381.36 L641.78,381.37 L642.10,381.39 L642.42,381.35 L642.75,381.35 L643.07,381.41 L643.39,381.39 L643.71,381.36 L644.03,381.33 L644.35,381.32 L644.68,381.32 L645.00,381.29 L645.32,381.33 L645.64,381.34 L645.96,381.30 L646.29,381.38 L646.61,381.43 L646.93,381.44 L647.25,381.43 L647.57,381.41 L647.89,381.40 L648.22,381.40 L648.54,381.39 L648.86,381.34 L649.18,381.27 L649.50,381.24 L649.83,381.24 L650.15,381.22 L650.47,381.24 L650.79,381.26 L651.11,381.29 L651.43,381.23 L651.76,381.31 L652.08,381.35 L652.40,381.36 L652.72,381.37 L653.04,381.39 L653.37,381.36 L653.69,381.37 L654.01,381.36 L654.33,381.41 L654.65,381.39 L654.97,381.36 L655.30,381.36 L655.62,381.33 L655.94,381.31 L656.26,381.31 L656.58,381.35 L656.91,381.34 L657.23,381.31 L657.55,381.29 L657.87,381.29 L658.19,381.21 L658.51,381.24 L658.84,381.22 L659.16,381.24 L659.48,381.18 L659.80,381.14 L660.12,381.17 L660.45,381.13 L660.77,381.12 L661.09,381.20 L661.41,381.20 L661.73,381.26 L662.05,381.24 L662.38,381.25 L662.70,381.33 L663.02,381.30" stroke="#1C3A6B" stroke-width="2.4" fill="none" stroke-linejoin="round"/>
<path d="M373.70,445.27 L374.02,444.99 L374.34,444.91 L374.67,445.44 L374.99,445.89 L375.31,445.85 L375.63,446.03 L375.95,446.29 L376.27,446.85 L376.60,446.79 L376.92,447.10 L377.24,447.36 L377.56,447.50 L377.88,447.16 L378.21,446.38 L378.53,446.13 L378.85,446.45 L379.17,446.30 L379.49,446.85 L379.81,446.68 L380.14,447.01 L380.46,447.62 L380.78,447.43 L381.10,446.85 L381.42,446.47 L381.75,445.70 L382.07,445.72 L382.39,445.76 L382.71,445.56 L383.03,445.67 L383.35,445.67 L383.68,445.72 L384.00,444.93 L384.32,445.48 L384.64,445.89 L384.96,446.24 L385.29,446.46 L385.61,446.48 L385.93,445.92 L386.25,445.44 L386.57,445.41 L386.89,445.96 L387.22,446.43 L387.54,446.86 L387.86,447.45 L388.18,447.55 L388.50,447.85 L388.83,447.19 L389.15,446.94 L389.47,446.79 L389.79,446.49 L390.11,446.78 L390.43,446.51 L390.76,446.68 L391.08,446.74 L391.40,446.74 L391.72,447.37 L392.04,446.72 L392.37,446.90 L392.69,447.34 L393.01,447.79 L393.33,447.75 L393.65,447.61 L393.97,448.52 L394.30,448.21 L394.62,448.90 L394.94,448.40 L395.26,448.57 L395.58,448.55 L395.91,448.63 L396.23,447.32 L396.55,447.95 L396.87,447.64 L397.19,447.45 L397.51,447.32 L397.84,447.65 L398.16,447.32 L398.48,446.99 L398.80,446.16 L399.12,446.19 L399.45,445.47 L399.77,445.80 L400.09,445.47 L400.41,444.94 L400.73,444.81 L401.06,444.32 L401.38,443.75 L401.70,443.10 L402.02,443.30 L402.34,443.98 L402.66,444.25 L402.99,443.48 L403.31,443.78 L403.63,444.13 L403.95,444.58 L404.27,445.40 L404.60,446.21 L404.92,446.20 L405.24,447.17 L405.56,447.89 L405.88,447.27 L406.20,447.08 L406.53,447.76 L406.85,448.35 L407.17,448.39 L407.49,448.67 L407.81,449.42 L408.14,449.87 L408.46,449.87 L408.78,450.24 L409.10,450.21 L409.42,450.27 L409.74,450.17 L410.07,449.68 L410.39,449.06 L410.71,449.34 L411.03,449.31 L411.35,449.45 L411.68,449.21 L412.00,449.87 L412.32,449.36 L412.64,450.12 L412.96,449.69 L413.28,450.40 L413.61,450.75 L413.93,450.99 L414.25,450.74 L414.57,450.93 L414.89,450.15 L415.22,450.16 L415.54,449.62 L415.86,449.65 L416.18,449.62 L416.50,449.97 L416.82,449.38 L417.15,449.32 L417.47,449.60 L417.79,449.09 L418.11,448.76 L418.43,448.88 L418.76,448.49 L419.08,448.26 L419.40,447.38 L419.72,446.60 L420.04,445.44 L420.36,445.32 L420.69,444.14 L421.01,443.52 L421.33,442.56 L421.65,442.04 L421.97,441.27 L422.30,441.37 L422.62,440.96 L422.94,441.42 L423.26,442.33 L423.58,442.78 L423.90,442.92 L424.23,444.10 L424.55,444.66 L424.87,445.67 L425.19,446.50 L425.51,447.12 L425.84,447.49 L426.16,447.66 L426.48,448.77 L426.80,447.87 L427.12,447.87 L427.44,448.43 L427.77,449.28 L428.09,450.09 L428.41,450.71 L428.73,450.71 L429.05,451.05 L429.38,450.77 L429.70,450.10 L430.02,450.21 L430.34,450.58 L430.66,451.13 L430.98,451.57 L431.31,451.31 L431.63,450.98 L431.95,450.23 L432.27,449.97 L432.59,450.17 L432.92,449.95 L433.24,450.30 L433.56,450.98 L433.88,451.66 L434.20,451.06 L434.52,451.02 L434.85,450.74 L435.17,451.12 L435.49,451.23 L435.81,451.44 L436.13,451.56 L436.46,451.64 L436.78,451.62 L437.10,450.86 L437.42,450.59 L437.74,450.12 L438.06,450.04 L438.39,450.91 L438.71,451.08 L439.03,451.90 L439.35,452.13 L439.67,452.17 L440.00,451.86 L440.32,451.10 L440.64,450.83 L440.96,450.22 L441.28,450.21 L441.60,450.06 L441.93,449.77 L442.25,450.40 L442.57,449.55 L442.89,449.38 L443.21,448.33 L443.54,447.06 L443.86,445.97 L444.18,444.82 L444.50,444.14 L444.82,442.57 L445.14,441.07 L445.47,439.75 L445.79,437.92 L446.11,435.44 L446.43,432.10 L446.75,428.89 L447.08,425.26 L447.40,420.95 L447.72,417.35 L448.04,414.86 L448.36,412.93 L448.69,411.48 L449.01,411.58 L449.33,412.70 L449.65,415.27 L449.97,418.83 L450.29,423.17 L450.62,426.89 L450.94,430.82 L451.26,433.57 L451.58,435.94 L451.90,438.67 L452.23,440.71 L452.55,442.91 L452.87,444.30 L453.19,445.65 L453.51,446.97 L453.83,447.99 L454.16,448.76 L454.48,449.01 L454.80,450.06 L455.12,450.62 L455.44,450.78 L455.77,451.09 L456.09,451.17 L456.41,451.49 L456.73,452.19 L457.05,452.02 L457.37,452.49 L457.70,452.63 L458.02,452.83 L458.34,452.70 L458.66,452.12 L458.98,452.28 L459.31,452.09 L459.63,451.97 L459.95,452.03 L460.27,452.19 L460.59,452.98 L460.91,452.86 L461.24,453.49 L461.56,452.88 L461.88,453.17 L462.20,453.49 L462.52,453.24 L462.85,453.13 L463.17,453.67 L463.49,454.11 L463.81,454.96 L464.13,454.89 L464.45,454.81 L464.78,454.39 L465.10,454.35 L465.42,453.23 L465.74,452.55 L466.06,452.05 L466.39,452.53 L466.71,452.90 L467.03,452.10 L467.35,451.55 L467.67,451.73 L467.99,452.25 L468.32,452.13 L468.64,452.02 L468.96,452.15 L469.28,452.35 L469.60,452.41 L469.93,452.43 L470.25,452.59 L470.57,453.27 L470.89,453.62 L471.21,453.79 L471.53,453.35 L471.86,452.84 L472.18,453.42 L472.50,452.77 L472.82,452.48 L473.14,452.07 L473.47,452.02 L473.79,451.90 L474.11,451.98 L474.43,452.54 L474.75,452.05 L475.07,451.48 L475.40,451.87 L475.72,451.84 L476.04,452.29 L476.36,452.80 L476.68,453.55 L477.01,452.70 L477.33,452.67 L477.65,452.62 L477.97,452.20 L478.29,452.18 L478.61,452.54 L478.94,452.65 L479.26,453.13 L479.58,452.72 L479.90,453.04 L480.22,452.21 L480.55,452.54 L480.87,452.55 L481.19,452.23 L481.51,451.23 L481.83,451.61 L482.15,450.52 L482.48,450.18 L482.80,449.63 L483.12,448.91 L483.44,447.89 L483.76,447.78 L484.09,446.97 L484.41,446.13 L484.73,444.91 L485.05,444.60 L485.37,443.84 L485.69,444.61 L486.02,444.57 L486.34,445.41 L486.66,446.85 L486.98,447.89 L487.30,448.29 L487.63,449.40 L487.95,450.19 L488.27,450.99 L488.59,451.48 L488.91,452.58 L489.23,453.07 L489.56,453.37 L489.88,453.55 L490.20,453.63 L490.52,453.96 L490.84,454.24 L491.17,454.41 L491.49,454.47 L491.81,454.87 L492.13,454.81 L492.45,453.74 L492.77,453.67 L493.10,453.64 L493.42,453.21 L493.74,452.96 L494.06,453.38 L494.38,452.88 L494.71,452.83 L495.03,452.81 L495.35,452.33 L495.67,452.67 L495.99,453.07 L496.32,453.40 L496.64,452.56 L496.96,452.55 L497.28,452.37 L497.60,452.72 L497.92,453.55 L498.25,453.98 L498.57,454.14 L498.89,454.00 L499.21,454.16 L499.53,453.73 L499.86,454.36 L500.18,454.75 L500.50,454.90 L500.82,455.01 L501.14,455.52 L501.46,454.81 L501.79,454.68 L502.11,454.48 L502.43,454.43 L502.75,454.42 L503.07,454.46 L503.40,454.26 L503.72,454.71 L504.04,454.84 L504.36,454.45 L504.68,454.04 L505.00,454.02 L505.33,454.10 L505.65,455.10 L505.97,454.95 L506.29,454.85 L506.61,454.23 L506.94,453.71 L507.26,452.94 L507.58,452.78 L507.90,452.93 L508.22,453.58 L508.54,453.68 L508.87,453.95 L509.19,454.01 L509.51,453.82 L509.83,453.86 L510.15,453.64 L510.48,453.77 L510.80,453.57 L511.12,453.55 L511.44,454.01 L511.76,453.99 L512.08,454.86 L512.41,454.66 L512.73,454.64 L513.05,454.99 L513.37,454.66 L513.69,454.83 L514.02,454.91 L514.34,455.47 L514.66,455.51 L514.98,456.09 L515.30,455.53 L515.62,454.87 L515.95,455.10 L516.27,454.74 L516.59,454.01 L516.91,454.64 L517.23,454.05 L517.56,454.50 L517.88,454.27 L518.20,454.27 L518.52,453.95 L518.84,454.49 L519.16,454.45 L519.49,454.60 L519.81,454.18 L520.13,454.35 L520.45,454.58 L520.77,454.61 L521.10,454.65 L521.42,454.79 L521.74,454.72 L522.06,454.77 L522.38,454.03 L522.70,453.62 L523.03,453.56 L523.35,453.91 L523.67,454.01 L523.99,454.02 L524.31,453.27 L524.64,453.01 L524.96,452.87 L525.28,453.07 L525.60,453.18 L525.92,453.52 L526.24,454.26 L526.57,453.57 L526.89,453.78 L527.21,454.09 L527.53,454.19 L527.85,454.34 L528.18,454.81 L528.50,454.73 L528.82,454.40 L529.14,454.21 L529.46,453.47 L529.78,453.77 L530.11,454.13 L530.43,453.75 L530.75,453.12 L531.07,452.91 L531.39,453.13 L531.72,452.55 L532.04,452.76 L532.36,452.00 L532.68,451.80 L533.00,451.49 L533.32,450.43 L533.65,449.86 L533.97,449.39 L534.29,448.90 L534.61,449.43 L534.93,448.68 L535.26,449.20 L535.58,449.93 L535.90,450.17 L536.22,450.80 L536.54,451.13 L536.86,450.72 L537.19,450.46 L537.51,450.73 L537.83,451.59 L538.15,452.08 L538.47,452.96 L538.80,453.90 L539.12,453.47 L539.44,453.15 L539.76,452.93 L540.08,453.78 L540.40,453.80 L540.73,453.52 L541.05,453.78 L541.37,453.80 L541.69,453.69 L542.01,453.71 L542.34,453.58 L542.66,453.81 L542.98,454.17 L543.30,454.45 L543.62,454.67 L543.95,454.79 L544.27,454.99 L544.59,454.73 L544.91,454.37 L545.23,453.46 L545.55,453.54 L545.88,453.57 L546.20,453.85 L546.52,453.35 L546.84,453.01 L547.16,451.75 L547.49,451.51 L547.81,451.18 L548.13,450.59 L548.45,450.54 L548.77,449.80 L549.09,449.14 L549.42,448.17 L549.74,446.67 L550.06,445.21 L550.38,445.34 L550.70,444.39 L551.03,443.92 L551.35,443.57 L551.67,444.01 L551.99,443.47 L552.31,443.56 L552.63,443.70 L552.96,444.28 L553.28,445.32 L553.60,445.69 L553.92,445.57 L554.24,446.64 L554.57,448.02 L554.89,449.33 L555.21,450.32 L555.53,451.16 L555.85,451.25 L556.17,452.29 L556.50,452.16 L556.82,451.62 L557.14,452.03 L557.46,452.88 L557.78,452.85 L558.11,452.60 L558.43,452.96 L558.75,452.33 L559.07,451.94 L559.39,451.97 L559.71,451.90 L560.04,452.14 L560.36,452.41 L560.68,452.53 L561.00,453.32 L561.32,453.08 L561.65,453.64 L561.97,453.80 L562.29,454.74 L562.61,455.26 L562.93,455.76 L563.25,455.37 L563.58,455.15 L563.90,455.32 L564.22,454.87 L564.54,454.44 L564.86,454.83 L565.19,454.33 L565.51,454.90 L565.83,454.83 L566.15,454.91 L566.47,454.45 L566.79,454.46 L567.12,453.93 L567.44,453.79 L567.76,453.77 L568.08,453.49 L568.40,454.56 L568.73,454.78 L569.05,454.69 L569.37,454.80 L569.69,455.53 L570.01,456.22 L570.33,455.71 L570.66,455.27 L570.98,455.19 L571.30,455.11 L571.62,455.14 L571.94,454.55 L572.27,454.91 L572.59,454.16 L572.91,454.15 L573.23,453.42 L573.55,453.69 L573.87,453.36 L574.20,453.50 L574.52,453.09 L574.84,452.93 L575.16,452.67 L575.48,451.91 L575.81,451.13 L576.13,450.93 L576.45,450.15 L576.77,449.71 L577.09,448.94 L577.41,447.92 L577.74,446.22 L578.06,444.92 L578.38,442.93 L578.70,440.96 L579.02,439.49 L579.35,438.16 L579.67,437.10 L579.99,436.19 L580.31,435.99 L580.63,436.40 L580.95,437.82 L581.28,439.50 L581.60,441.15 L581.92,443.68 L582.24,444.90 L582.56,446.34 L582.89,447.45 L583.21,448.54 L583.53,448.81 L583.85,450.19 L584.17,451.68 L584.49,451.99 L584.82,452.11 L585.14,452.98 L585.46,452.69 L585.78,453.08 L586.10,453.08 L586.43,453.66 L586.75,454.08 L587.07,454.92 L587.39,454.90 L587.71,454.74 L588.03,454.86 L588.36,454.88 L588.68,454.23 L589.00,455.39 L589.32,455.26 L589.64,454.44 L589.97,454.32 L590.29,454.28 L590.61,453.15 L590.93,453.36 L591.25,453.82 L591.58,453.84 L591.90,453.48 L592.22,453.47 L592.54,453.18 L592.86,453.64 L593.18,454.36 L593.51,454.31 L593.83,454.27 L594.15,454.96 L594.47,454.79 L594.79,454.33 L595.12,453.86 L595.44,453.92 L595.76,453.80 L596.08,453.97 L596.40,453.59 L596.72,454.17 L597.05,455.30 L597.37,456.15 L597.69,455.70 L598.01,455.68 L598.33,455.83 L598.66,455.94 L598.98,455.67 L599.30,455.96 L599.62,456.22 L599.94,456.33 L600.26,456.15 L600.59,455.74 L600.91,456.00 L601.23,456.23 L601.55,456.30 L601.87,456.09 L602.20,456.41 L602.52,456.84 L602.84,456.24 L603.16,456.49 L603.48,456.95 L603.80,456.68 L604.13,455.75 L604.45,455.90 L604.77,455.72 L605.09,455.23 L605.41,455.80 L605.74,455.97 L606.06,455.17 L606.38,454.77 L606.70,454.55 L607.02,454.86 L607.34,455.04 L607.67,455.60 L607.99,455.69 L608.31,455.66 L608.63,455.43 L608.95,455.47 L609.28,455.44 L609.60,454.91 L609.92,454.95 L610.24,455.30 L610.56,454.90 L610.88,455.18 L611.21,455.16 L611.53,455.37 L611.85,455.67 L612.17,456.17 L612.49,454.96 L612.82,455.49 L613.14,455.17 L613.46,455.34 L613.78,454.85 L614.10,455.63 L614.42,455.35 L614.75,456.03 L615.07,455.39 L615.39,455.15 L615.71,454.11 L616.03,454.74 L616.36,454.52 L616.68,455.34 L617.00,455.06 L617.32,455.27 L617.64,455.14 L617.96,454.78 L618.29,454.32 L618.61,455.28 L618.93,455.29 L619.25,455.62 L619.57,455.74 L619.90,455.58 L620.22,455.42 L620.54,455.85 L620.86,455.65 L621.18,455.06 L621.50,455.31 L621.83,455.72 L622.15,455.90 L622.47,455.70 L622.79,455.73 L623.11,455.31 L623.44,455.13 L623.76,454.99 L624.08,454.87 L624.40,455.20 L624.72,455.29 L625.04,455.46 L625.37,455.39 L625.69,455.16 L626.01,455.24 L626.33,455.20 L626.65,455.33 L626.98,455.31 L627.30,454.83 L627.62,455.21 L627.94,454.84 L628.26,454.49 L628.58,454.30 L628.91,453.15 L629.23,453.61 L629.55,453.94 L629.87,454.42 L630.19,454.33 L630.52,454.66 L630.84,454.62 L631.16,454.39 L631.48,453.99 L631.80,454.04 L632.12,454.28 L632.45,454.39 L632.77,454.15 L633.09,454.20 L633.41,454.11 L633.73,453.75 L634.06,454.04 L634.38,455.04 L634.70,455.11 L635.02,454.76 L635.34,454.62 L635.66,454.42 L635.99,454.60 L636.31,454.15 L636.63,454.33 L636.95,453.56 L637.27,454.10 L637.60,453.93 L637.92,454.26 L638.24,454.36 L638.56,455.60 L638.88,456.20 L639.21,456.02 L639.53,455.95 L639.85,456.43 L640.17,456.15 L640.49,456.44 L640.81,456.33 L641.14,456.68 L641.46,456.50 L641.78,455.92 L642.10,455.77 L642.42,455.63 L642.75,455.93 L643.07,455.62 L643.39,455.76 L643.71,456.63 L644.03,456.29 L644.35,455.96 L644.68,455.26 L645.00,455.34 L645.32,455.32 L645.64,455.10 L645.96,455.29 L646.29,455.19 L646.61,455.40 L646.93,455.57 L647.25,455.34 L647.57,455.59 L647.89,455.69 L648.22,456.09 L648.54,455.81 L648.86,455.65 L649.18,455.84 L649.50,456.26 L649.83,456.64 L650.15,456.58 L650.47,456.27 L650.79,456.48 L651.11,456.01 L651.43,455.94 L651.76,454.88 L652.08,455.36 L652.40,456.14 L652.72,456.33 L653.04,456.88 L653.37,457.36 L653.69,457.58 L654.01,457.82 L654.33,457.27 L654.65,457.22 L654.97,457.54 L655.30,457.89 L655.62,458.07 L655.94,458.31 L656.26,458.07 L656.58,457.78 L656.91,457.17 L657.23,457.16 L657.55,456.47 L657.87,456.84 L658.19,456.80 L658.51,456.70 L658.84,457.56 L659.16,457.80 L659.48,457.41 L659.80,457.69 L660.12,457.89 L660.45,458.43 L660.77,458.06 L661.09,458.43 L661.41,458.75 L661.73,459.51 L662.05,458.61 L662.38,458.15 L662.70,458.24 L663.02,458.53" stroke="#F0686C" stroke-width="2.2" fill="none" stroke-linejoin="round"/>
<path d="M373.70,512.95 L374.02,513.02 L374.34,512.92 L374.67,512.57 L374.99,512.57 L375.31,512.48 L375.63,512.15 L375.95,512.17 L376.27,512.15 L376.60,512.13 L376.92,511.95 L377.24,511.94 L377.56,512.02 L377.88,512.22 L378.21,511.98 L378.53,512.18 L378.85,512.12 L379.17,511.88 L379.49,511.56 L379.81,511.58 L380.14,511.49 L380.46,511.44 L380.78,511.13 L381.10,510.47 L381.42,509.35 L381.75,507.55 L382.07,505.36 L382.39,502.85 L382.71,500.71 L383.03,499.56 L383.35,500.02 L383.68,501.77 L384.00,504.23 L384.32,506.70 L384.64,508.61 L384.96,510.12 L385.29,510.93 L385.61,511.36 L385.93,511.49 L386.25,511.67 L386.57,511.60 L386.89,511.79 L387.22,511.95 L387.54,511.98 L387.86,511.90 L388.18,511.83 L388.50,511.81 L388.83,511.67 L389.15,511.42 L389.47,511.30 L389.79,511.13 L390.11,510.92 L390.43,510.60 L390.76,510.42 L391.08,509.53 L391.40,507.58 L391.72,503.79 L392.04,498.02 L392.37,489.57 L392.69,479.80 L393.01,471.09 L393.33,466.81 L393.65,469.45 L393.97,477.44 L394.30,486.94 L394.62,495.71 L394.94,502.06 L395.26,506.30 L395.58,508.88 L395.91,510.38 L396.23,510.84 L396.55,511.25 L396.87,511.41 L397.19,511.38 L397.51,511.49 L397.84,511.68 L398.16,512.11 L398.48,512.13 L398.80,512.28 L399.12,512.47 L399.45,512.65 L399.77,512.59 L400.09,512.52 L400.41,512.46 L400.73,512.34 L401.06,512.20 L401.38,512.23 L401.70,512.27 L402.02,512.31 L402.34,512.34 L402.66,512.37 L402.99,512.35 L403.31,512.36 L403.63,512.34 L403.95,512.46 L404.27,512.58 L404.60,512.59 L404.92,512.66 L405.24,512.54 L405.56,512.56 L405.88,512.57 L406.20,512.60 L406.53,512.51 L406.85,512.94 L407.17,512.76 L407.49,512.79 L407.81,512.70 L408.14,512.74 L408.46,512.58 L408.78,512.68 L409.10,512.38 L409.42,512.27 L409.74,512.36 L410.07,512.51 L410.39,512.40 L410.71,512.63 L411.03,512.89 L411.35,512.91 L411.68,512.66 L412.00,512.67 L412.32,512.50 L412.64,512.29 L412.96,512.19 L413.28,512.01 L413.61,511.99 L413.93,512.20 L414.25,512.24 L414.57,512.20 L414.89,512.39 L415.22,512.48 L415.54,512.54 L415.86,512.74 L416.18,513.02 L416.50,513.14 L416.82,513.29 L417.15,513.35 L417.47,513.36 L417.79,513.30 L418.11,513.35 L418.43,513.21 L418.76,512.91 L419.08,512.83 L419.40,512.67 L419.72,512.54 L420.04,512.51 L420.36,512.52 L420.69,512.55 L421.01,512.56 L421.33,512.39 L421.65,512.41 L421.97,512.42 L422.30,512.13 L422.62,512.05 L422.94,511.85 L423.26,511.36 L423.58,511.02 L423.90,510.65 L424.23,510.36 L424.55,510.41 L424.87,510.75 L425.19,510.97 L425.51,511.40 L425.84,511.62 L426.16,511.94 L426.48,512.12 L426.80,512.25 L427.12,512.39 L427.44,512.47 L427.77,512.62 L428.09,512.74 L428.41,512.92 L428.73,512.90 L429.05,512.97 L429.38,512.60 L429.70,512.69 L430.02,512.57 L430.34,512.65 L430.66,512.60 L430.98,512.83 L431.31,512.69 L431.63,512.67 L431.95,512.56 L432.27,512.67 L432.59,512.65 L432.92,512.55 L433.24,512.59 L433.56,512.64 L433.88,512.71 L434.20,512.83 L434.52,512.98 L434.85,512.94 L435.17,513.01 L435.49,512.90 L435.81,512.79 L436.13,512.86 L436.46,513.02 L436.78,512.98 L437.10,512.86 L437.42,512.82 L437.74,512.57 L438.06,512.53 L438.39,512.48 L438.71,512.68 L439.03,512.77 L439.35,512.90 L439.67,513.08 L440.00,512.98 L440.32,512.76 L440.64,512.67 L440.96,512.76 L441.28,512.52 L441.60,512.57 L441.93,512.59 L442.25,512.79 L442.57,512.68 L442.89,512.60 L443.21,512.63 L443.54,512.65 L443.86,512.48 L444.18,512.67 L444.50,512.72 L444.82,512.71 L445.14,512.74 L445.47,512.73 L445.79,512.65 L446.11,512.72 L446.43,512.63 L446.75,512.48 L447.08,512.31 L447.40,511.98 L447.72,511.38 L448.04,510.56 L448.36,509.34 L448.69,508.12 L449.01,506.60 L449.33,505.62 L449.65,505.56 L449.97,506.55 L450.29,507.73 L450.62,509.14 L450.94,510.39 L451.26,511.23 L451.58,511.62 L451.90,511.93 L452.23,512.13 L452.55,512.31 L452.87,512.41 L453.19,512.72 L453.51,512.84 L453.83,513.02 L454.16,513.11 L454.48,513.21 L454.80,513.11 L455.12,513.18 L455.44,513.01 L455.77,512.89 L456.09,512.92 L456.41,512.91 L456.73,512.85 L457.05,512.87 L457.37,512.82 L457.70,512.79 L458.02,512.90 L458.34,512.95 L458.66,513.02 L458.98,513.11 L459.31,513.12 L459.63,513.10 L459.95,512.85 L460.27,512.80 L460.59,512.92 L460.91,512.74 L461.24,512.75 L461.56,512.84 L461.88,513.00 L462.20,512.78 L462.52,512.91 L462.85,512.65 L463.17,512.69 L463.49,512.70 L463.81,512.63 L464.13,512.74 L464.45,512.87 L464.78,512.87 L465.10,512.49 L465.42,512.75 L465.74,512.54 L466.06,512.56 L466.39,512.44 L466.71,512.62 L467.03,512.63 L467.35,512.66 L467.67,512.80 L467.99,512.91 L468.32,513.05 L468.64,512.88 L468.96,512.98 L469.28,513.14 L469.60,513.23 L469.93,513.24 L470.25,513.25 L470.57,513.30 L470.89,513.18 L471.21,512.95 L471.53,512.77 L471.86,513.02 L472.18,512.96 L472.50,512.84 L472.82,513.07 L473.14,513.31 L473.47,513.18 L473.79,513.12 L474.11,513.31 L474.43,513.26 L474.75,513.06 L475.07,512.93 L475.40,512.94 L475.72,512.70 L476.04,512.68 L476.36,512.79 L476.68,512.52 L477.01,512.46 L477.33,512.59 L477.65,512.66 L477.97,512.56 L478.29,512.82 L478.61,513.01 L478.94,512.89 L479.26,512.78 L479.58,513.03 L479.90,513.05 L480.22,513.00 L480.55,513.01 L480.87,513.06 L481.19,512.78 L481.51,512.72 L481.83,512.76 L482.15,512.63 L482.48,512.61 L482.80,512.52 L483.12,512.48 L483.44,512.20 L483.76,511.94 L484.09,511.74 L484.41,511.49 L484.73,511.23 L485.05,510.72 L485.37,510.57 L485.69,510.39 L486.02,510.30 L486.34,510.20 L486.66,510.60 L486.98,510.91 L487.30,511.09 L487.63,511.47 L487.95,511.84 L488.27,512.14 L488.59,512.31 L488.91,512.41 L489.23,512.62 L489.56,512.73 L489.88,513.00 L490.20,513.04 L490.52,513.08 L490.84,512.96 L491.17,513.02 L491.49,512.70 L491.81,512.61 L492.13,512.84 L492.45,512.78 L492.77,512.90 L493.10,512.98 L493.42,513.01 L493.74,513.01 L494.06,513.12 L494.38,512.87 L494.71,512.87 L495.03,513.10 L495.35,513.01 L495.67,513.11 L495.99,513.38 L496.32,513.40 L496.64,513.31 L496.96,513.22 L497.28,513.00 L497.60,512.82 L497.92,512.96 L498.25,512.75 L498.57,512.91 L498.89,513.08 L499.21,513.00 L499.53,512.85 L499.86,513.20 L500.18,513.01 L500.50,513.06 L500.82,513.26 L501.14,513.17 L501.46,513.06 L501.79,513.17 L502.11,513.05 L502.43,513.00 L502.75,513.06 L503.07,512.94 L503.40,512.76 L503.72,512.85 L504.04,512.74 L504.36,512.72 L504.68,512.67 L505.00,512.65 L505.33,512.54 L505.65,512.66 L505.97,512.63 L506.29,512.89 L506.61,513.06 L506.94,513.16 L507.26,512.97 L507.58,513.24 L507.90,512.96 L508.22,512.97 L508.54,513.12 L508.87,513.22 L509.19,512.96 L509.51,513.10 L509.83,513.14 L510.15,513.11 L510.48,513.19 L510.80,513.15 L511.12,513.09 L511.44,513.02 L511.76,512.76 L512.08,512.68 L512.41,513.00 L512.73,512.97 L513.05,513.06 L513.37,513.10 L513.69,513.09 L514.02,512.86 L514.34,512.82 L514.66,512.69 L514.98,512.91 L515.30,513.02 L515.62,513.09 L515.95,513.16 L516.27,513.16 L516.59,513.05 L516.91,513.05 L517.23,513.11 L517.56,513.09 L517.88,513.28 L518.20,513.23 L518.52,513.14 L518.84,512.89 L519.16,512.98 L519.49,512.79 L519.81,512.70 L520.13,512.70 L520.45,512.83 L520.77,512.80 L521.10,512.90 L521.42,512.92 L521.74,513.04 L522.06,513.01 L522.38,513.09 L522.70,512.83 L523.03,512.95 L523.35,512.86 L523.67,512.97 L523.99,512.82 L524.31,513.13 L524.64,513.02 L524.96,513.15 L525.28,513.12 L525.60,513.16 L525.92,513.24 L526.24,513.23 L526.57,513.08 L526.89,513.05 L527.21,513.17 L527.53,512.98 L527.85,513.18 L528.18,513.24 L528.50,513.22 L528.82,513.07 L529.14,513.02 L529.46,513.02 L529.78,512.86 L530.11,512.86 L530.43,512.74 L530.75,512.69 L531.07,512.42 L531.39,512.62 L531.72,512.36 L532.04,512.45 L532.36,512.45 L532.68,512.47 L533.00,512.17 L533.32,512.14 L533.65,511.85 L533.97,511.50 L534.29,511.10 L534.61,510.79 L534.93,510.44 L535.26,510.52 L535.58,510.83 L535.90,511.11 L536.22,511.37 L536.54,511.90 L536.86,512.30 L537.19,512.55 L537.51,512.66 L537.83,512.95 L538.15,512.96 L538.47,512.94 L538.80,512.64 L539.12,512.90 L539.44,512.83 L539.76,512.93 L540.08,512.90 L540.40,513.02 L540.73,512.99 L541.05,512.99 L541.37,512.91 L541.69,512.99 L542.01,513.09 L542.34,512.97 L542.66,513.12 L542.98,513.13 L543.30,513.06 L543.62,513.15 L543.95,513.31 L544.27,513.34 L544.59,513.56 L544.91,513.57 L545.23,513.42 L545.55,513.49 L545.88,513.51 L546.20,513.32 L546.52,513.38 L546.84,513.42 L547.16,513.10 L547.49,513.07 L547.81,513.13 L548.13,513.06 L548.45,513.26 L548.77,513.55 L549.09,513.37 L549.42,513.21 L549.74,512.98 L550.06,512.77 L550.38,512.52 L550.70,512.49 L551.03,512.42 L551.35,512.27 L551.67,511.86 L551.99,511.28 L552.31,510.83 L552.63,510.23 L552.96,509.89 L553.28,509.57 L553.60,509.71 L553.92,509.91 L554.24,510.39 L554.57,510.79 L554.89,511.63 L555.21,512.08 L555.53,512.46 L555.85,512.77 L556.17,512.98 L556.50,513.02 L556.82,513.16 L557.14,513.19 L557.46,513.01 L557.78,513.14 L558.11,513.11 L558.43,513.11 L558.75,513.08 L559.07,513.43 L559.39,513.43 L559.71,513.41 L560.04,513.49 L560.36,513.61 L560.68,513.37 L561.00,513.38 L561.32,513.25 L561.65,512.96 L561.97,512.89 L562.29,512.85 L562.61,512.78 L562.93,512.61 L563.25,512.71 L563.58,512.64 L563.90,512.81 L564.22,512.81 L564.54,512.97 L564.86,512.98 L565.19,513.18 L565.51,513.14 L565.83,513.18 L566.15,513.46 L566.47,513.38 L566.79,513.03 L567.12,512.98 L567.44,512.95 L567.76,512.65 L568.08,512.82 L568.40,513.02 L568.73,512.97 L569.05,513.02 L569.37,512.99 L569.69,513.07 L570.01,513.10 L570.33,513.47 L570.66,513.53 L570.98,513.66 L571.30,513.62 L571.62,513.61 L571.94,513.32 L572.27,513.10 L572.59,513.23 L572.91,513.34 L573.23,513.28 L573.55,513.32 L573.87,513.42 L574.20,513.41 L574.52,513.37 L574.84,513.33 L575.16,513.31 L575.48,513.30 L575.81,513.21 L576.13,513.16 L576.45,513.33 L576.77,513.31 L577.09,513.23 L577.41,513.19 L577.74,513.07 L578.06,512.76 L578.38,512.55 L578.70,512.30 L579.02,511.81 L579.35,511.10 L579.67,510.43 L579.99,509.64 L580.31,508.80 L580.63,508.33 L580.95,508.26 L581.28,508.65 L581.60,509.15 L581.92,509.95 L582.24,510.70 L582.56,511.23 L582.89,511.69 L583.21,512.19 L583.53,512.53 L583.85,512.68 L584.17,512.76 L584.49,512.85 L584.82,512.96 L585.14,513.13 L585.46,513.33 L585.78,513.60 L586.10,513.70 L586.43,513.47 L586.75,513.43 L587.07,513.41 L587.39,513.47 L587.71,513.41 L588.03,513.61 L588.36,513.53 L588.68,513.43 L589.00,513.39 L589.32,513.43 L589.64,513.46 L589.97,513.38 L590.29,513.56 L590.61,513.44 L590.93,513.12 L591.25,513.27 L591.58,513.50 L591.90,513.34 L592.22,513.53 L592.54,513.84 L592.86,513.62 L593.18,513.53 L593.51,513.39 L593.83,513.24 L594.15,513.11 L594.47,513.21 L594.79,513.31 L595.12,513.37 L595.44,513.48 L595.76,513.36 L596.08,513.24 L596.40,513.19 L596.72,513.35 L597.05,513.40 L597.37,513.72 L597.69,513.67 L598.01,513.56 L598.33,513.22 L598.66,513.11 L598.98,513.03 L599.30,513.16 L599.62,513.12 L599.94,513.42 L600.26,513.49 L600.59,513.49 L600.91,513.46 L601.23,513.56 L601.55,513.53 L601.87,513.50 L602.20,513.55 L602.52,513.61 L602.84,513.47 L603.16,513.44 L603.48,513.45 L603.80,513.35 L604.13,513.37 L604.45,513.45 L604.77,513.61 L605.09,513.62 L605.41,513.67 L605.74,513.73 L606.06,513.87 L606.38,513.75 L606.70,513.81 L607.02,513.87 L607.34,513.82 L607.67,513.74 L607.99,513.63 L608.31,513.55 L608.63,513.51 L608.95,513.40 L609.28,513.54 L609.60,513.65 L609.92,513.53 L610.24,513.47 L610.56,513.55 L610.88,513.42 L611.21,513.34 L611.53,513.45 L611.85,513.35 L612.17,513.32 L612.49,513.37 L612.82,513.38 L613.14,513.44 L613.46,513.66 L613.78,513.65 L614.10,513.37 L614.42,513.53 L614.75,513.60 L615.07,513.37 L615.39,513.45 L615.71,513.72 L616.03,513.47 L616.36,513.29 L616.68,513.57 L617.00,513.58 L617.32,513.55 L617.64,513.83 L617.96,513.82 L618.29,513.53 L618.61,513.64 L618.93,513.57 L619.25,513.45 L619.57,513.63 L619.90,513.84 L620.22,513.72 L620.54,513.74 L620.86,513.80 L621.18,513.91 L621.50,513.83 L621.83,513.70 L622.15,513.80 L622.47,513.67 L622.79,513.47 L623.11,513.53 L623.44,513.69 L623.76,513.68 L624.08,513.79 L624.40,513.91 L624.72,513.81 L625.04,513.77 L625.37,513.78 L625.69,513.63 L626.01,513.42 L626.33,513.48 L626.65,513.43 L626.98,513.51 L627.30,513.64 L627.62,514.03 L627.94,514.03 L628.26,514.05 L628.58,514.16 L628.91,514.10 L629.23,514.03 L629.55,513.76 L629.87,513.73 L630.19,513.65 L630.52,513.86 L630.84,513.69 L631.16,513.94 L631.48,513.99 L631.80,513.93 L632.12,513.81 L632.45,513.86 L632.77,513.86 L633.09,513.95 L633.41,514.01 L633.73,514.28 L634.06,514.26 L634.38,514.40 L634.70,514.24 L635.02,513.99 L635.34,513.46 L635.66,513.44 L635.99,513.57 L636.31,513.64 L636.63,513.53 L636.95,513.78 L637.27,513.72 L637.60,513.48 L637.92,513.67 L638.24,514.04 L638.56,514.17 L638.88,514.11 L639.21,514.19 L639.53,513.91 L639.85,513.90 L640.17,513.65 L640.49,513.85 L640.81,513.84 L641.14,513.97 L641.46,513.72 L641.78,513.90 L642.10,513.60 L642.42,513.46 L642.75,513.34 L643.07,513.69 L643.39,513.63 L643.71,513.75 L644.03,513.92 L644.35,514.25 L644.68,514.03 L645.00,513.92 L645.32,513.88 L645.64,513.83 L645.96,513.76 L646.29,513.76 L646.61,513.84 L646.93,513.86 L647.25,513.75 L647.57,513.69 L647.89,513.74 L648.22,513.81 L648.54,513.77 L648.86,513.94 L649.18,513.87 L649.50,513.99 L649.83,514.05 L650.15,514.17 L650.47,514.15 L650.79,514.15 L651.11,513.99 L651.43,513.80 L651.76,513.91 L652.08,514.11 L652.40,514.07 L652.72,514.24 L653.04,514.30 L653.37,514.17 L653.69,513.95 L654.01,513.93 L654.33,513.87 L654.65,514.02 L654.97,513.80 L655.30,513.88 L655.62,513.96 L655.94,514.03 L656.26,513.83 L656.58,514.10 L656.91,514.14 L657.23,514.19 L657.55,514.18 L657.87,514.19 L658.19,514.11 L658.51,514.05 L658.84,513.83 L659.16,513.72 L659.48,513.90 L659.80,514.00 L660.12,513.81 L660.45,513.89 L660.77,513.82 L661.09,513.77 L661.41,513.76 L661.73,513.85 L662.05,513.74 L662.38,513.59 L662.70,513.45 L663.02,513.33" stroke="#5F7F76" stroke-width="2.4" fill="none" stroke-linejoin="round"/>
<path d="M382.60,356.15 L390.80,356.15 L386.70,362.65 Z" fill="#FBCB45"/>
<path d="M393.20,325.55 L401.40,325.55 L397.30,332.05 Z" fill="#FBCB45"/>
<path d="M399.20,433.55 L407.40,433.55 L403.30,440.05 Z" fill="#9C4A3A"/>
<path d="M418.50,431.15 L426.70,431.15 L422.60,437.65 Z" fill="#7E97B8"/>
<path d="M444.70,402.85 L452.90,402.85 L448.80,409.35 Z" fill="#7E97B8"/>
<path d="M481.30,435.75 L489.50,435.75 L485.40,442.25 Z" fill="#7E97B8"/>
<path d="M530.80,440.55 L539.00,440.55 L534.90,447.05 Z" fill="#7E97B8"/>
<path d="M548.10,435.75 L556.30,435.75 L552.20,442.25 Z" fill="#7E97B8"/>
<path d="M575.20,428.95 L583.40,428.95 L579.30,435.45 Z" fill="#7E97B8"/>
<path d="M378.60,489.95 L386.80,489.95 L382.70,496.45 Z" fill="#FBCB45"/>
<path d="M389.10,458.25 L397.30,458.25 L393.20,464.75 Z" fill="#FBCB45"/>
<path d="M420.00,499.95 L428.20,499.95 L424.10,506.45 Z" fill="#7E97B8"/>
<path d="M444.70,496.05 L452.90,496.05 L448.80,502.55 Z" fill="#7E97B8"/>
<path d="M481.30,500.85 L489.50,500.85 L485.40,507.35 Z" fill="#7E97B8"/>
<path d="M530.40,500.95 L538.60,500.95 L534.50,507.45 Z" fill="#7E97B8"/>
<path d="M549.80,500.05 L558.00,500.05 L553.90,506.55 Z" fill="#7E97B8"/>
<path d="M575.70,497.85 L583.90,497.85 L579.80,504.35 Z" fill="#7E97B8"/>
<path d="M562.70,329.00 L571.30,329.00 L567.00,335.80 Z" fill="#7E97B8"/>
<path d="M562.70,345.10 L571.30,345.10 L567.00,351.90 Z" fill="#9C4A3A"/>
<path d="M562.70,362.80 L571.30,362.80 L567.00,369.60 Z" fill="#FBCB45"/>
<text x="588.20" y="335.00" font-size="13.0" fill="#111" text-anchor="start" font-weight="normal" font-style="normal" >Fe<tspan font-size="8.7" dy="2.8">3</tspan><tspan dy="-2.8">O</tspan><tspan font-size="8.7" dy="2.8">4</tspan></text>
<text x="588.20" y="353.40" font-size="13.0" fill="#111" text-anchor="start" font-weight="normal" font-style="normal" >CNT</text>
<text x="588.20" y="370.50" font-size="13.0" fill="#111" text-anchor="start" font-weight="normal" font-style="normal" >n-Eicosane</text>
<text x="558.50" y="397.60" font-size="13.1" fill="#2C4A80" text-anchor="start" font-weight="normal" font-style="normal" >Pure n-Eicosane</text>
<text x="574.60" y="475.40" font-size="13.1" fill="#F0686C" text-anchor="start" font-weight="normal" font-style="normal" >CNT&amp;Fe<tspan font-size="8.7" dy="2.8">3</tspan><tspan dy="-2.8">O</tspan><tspan font-size="8.7" dy="2.8">4</tspan></text>
<text x="424.90" y="529.90" font-size="13.15" fill="#76928A" text-anchor="start" font-weight="normal" font-style="normal" >Composite PCM with 0.2 wt% and R=1</text>
<text x="389.50" y="335.40" font-size="11.9" fill="#111" text-anchor="middle" font-weight="normal" font-style="normal" transform="rotate(-90 389.50 335.40)" >(110)</text>
<text x="413.60" y="333.80" font-size="11.9" fill="#111" text-anchor="middle" font-weight="normal" font-style="normal" transform="rotate(-90 413.60 333.80)" >(200)</text>
<text x="405.90" y="413.30" font-size="11.9" fill="#111" text-anchor="middle" font-weight="normal" font-style="normal" transform="rotate(-90 405.90 413.30)" >(002)</text>
<text x="425.40" y="410.40" font-size="11.9" fill="#111" text-anchor="middle" font-weight="normal" font-style="normal" transform="rotate(-90 425.40 410.40)" >(220)</text>
<text x="464.20" y="402.70" font-size="11.9" fill="#111" text-anchor="middle" font-weight="normal" font-style="normal" transform="rotate(-90 464.20 402.70)" >(311)</text>
<text x="488.20" y="414.80" font-size="11.9" fill="#111" text-anchor="middle" font-weight="normal" font-style="normal" transform="rotate(-90 488.20 414.80)" >(400)</text>
<text x="537.20" y="420.60" font-size="11.9" fill="#111" text-anchor="middle" font-weight="normal" font-style="normal" transform="rotate(-90 537.20 420.60)" >(422)</text>
<text x="555.00" y="419.40" font-size="11.9" fill="#111" text-anchor="middle" font-weight="normal" font-style="normal" transform="rotate(-90 555.00 419.40)" >(511)</text>
<text x="594.50" y="422.40" font-size="11.9" fill="#111" text-anchor="middle" font-weight="normal" font-style="normal" transform="rotate(-90 594.50 422.40)" >(440)</text>
<line x1="373.70" y1="317.30" x2="663.00" y2="317.30" stroke="#444" stroke-width="1" />
<line x1="662.70" y1="316.80" x2="662.70" y2="545.80" stroke="#3a3a3a" stroke-width="1" />
<line x1="373.70" y1="316.80" x2="373.70" y2="545.80" stroke="#333" stroke-width="1.1" />
<line x1="373.70" y1="545.30" x2="663.50" y2="545.30" stroke="#333" stroke-width="1.1" />
<line x1="373.70" y1="545.30" x2="373.70" y2="541.10" stroke="#333" stroke-width="1.1" />
<text x="373.70" y="559.50" font-size="12.1" fill="#111" text-anchor="middle" font-weight="normal" font-style="normal" >20</text>
<line x1="421.92" y1="545.30" x2="421.92" y2="541.10" stroke="#333" stroke-width="1.1" />
<text x="421.92" y="559.50" font-size="12.1" fill="#111" text-anchor="middle" font-weight="normal" font-style="normal" >30</text>
<line x1="470.14" y1="545.30" x2="470.14" y2="541.10" stroke="#333" stroke-width="1.1" />
<text x="470.14" y="559.50" font-size="12.1" fill="#111" text-anchor="middle" font-weight="normal" font-style="normal" >40</text>
<line x1="518.36" y1="545.30" x2="518.36" y2="541.10" stroke="#333" stroke-width="1.1" />
<text x="518.36" y="559.50" font-size="12.1" fill="#111" text-anchor="middle" font-weight="normal" font-style="normal" >50</text>
<line x1="566.58" y1="545.30" x2="566.58" y2="541.10" stroke="#333" stroke-width="1.1" />
<text x="566.58" y="559.50" font-size="12.1" fill="#111" text-anchor="middle" font-weight="normal" font-style="normal" >60</text>
<line x1="614.80" y1="545.30" x2="614.80" y2="541.10" stroke="#333" stroke-width="1.1" />
<text x="614.80" y="559.50" font-size="12.1" fill="#111" text-anchor="middle" font-weight="normal" font-style="normal" >70</text>
<line x1="663.02" y1="545.30" x2="663.02" y2="541.10" stroke="#333" stroke-width="1.1" />
<text x="663.02" y="559.50" font-size="12.1" fill="#111" text-anchor="middle" font-weight="normal" font-style="normal" >80</text>
<line x1="397.81" y1="545.30" x2="397.81" y2="543.00" stroke="#333" stroke-width="1.1" />
<line x1="446.03" y1="545.30" x2="446.03" y2="543.00" stroke="#333" stroke-width="1.1" />
<line x1="494.25" y1="545.30" x2="494.25" y2="543.00" stroke="#333" stroke-width="1.1" />
<line x1="542.47" y1="545.30" x2="542.47" y2="543.00" stroke="#333" stroke-width="1.1" />
<line x1="590.69" y1="545.30" x2="590.69" y2="543.00" stroke="#333" stroke-width="1.1" />
<line x1="638.91" y1="545.30" x2="638.91" y2="543.00" stroke="#333" stroke-width="1.1" />
<text x="518.40" y="579.40" font-size="13.4" fill="#111" text-anchor="middle" font-weight="normal" font-style="normal" >2 Theta (degree)</text>
<text x="359.00" y="430.60" font-size="13.0" fill="#111" text-anchor="middle" font-weight="normal" font-style="normal" transform="rotate(-90 359.00 430.60)" >Intensity (a.u.)</text>
</g>
<g id="panel-e">
<text x="1.00" y="589.70" font-size="19.8" fill="#000" text-anchor="start" font-weight="bold" font-style="normal" >e</text>
<defs>
<clipPath id="clip0"><rect x="19.1" y="592.2" width="206.90" height="206.20"/></clipPath>
<filter id="grain0" x="0" y="0" width="100%" height="100%" color-interpolation-filters="sRGB"><feTurbulence type="fractalNoise" baseFrequency="0.45" numOctaves="2" seed="11"/><feColorMatrix type="matrix" values="0.13 0 0 0 0.715  0.13 0 0 0 0.715  0.13 0 0 0 0.715  0 0 0 0 1"/></filter>
<clipPath id="clip1"><rect x="244.8" y="592.6" width="207.20" height="206.40"/></clipPath>
<filter id="grain1" x="0" y="0" width="100%" height="100%" color-interpolation-filters="sRGB"><feTurbulence type="fractalNoise" baseFrequency="0.45" numOctaves="2" seed="12"/><feColorMatrix type="matrix" values="0.13 0 0 0 0.625  0.13 0 0 0 0.625  0.13 0 0 0 0.625  0 0 0 0 1"/></filter>
<clipPath id="clip2"><rect x="470.1" y="592.5" width="206.90" height="206.50"/></clipPath>
<filter id="grain2" x="0" y="0" width="100%" height="100%" color-interpolation-filters="sRGB"><feTurbulence type="fractalNoise" baseFrequency="0.45" numOctaves="2" seed="13"/><feColorMatrix type="matrix" values="0.13 0 0 0 0.705  0.13 0 0 0 0.705  0.13 0 0 0 0.705  0 0 0 0 1"/></filter>
<linearGradient id="gr2" x1="0" y1="0" x2="1" y2="1"><stop offset="0" stop-color="#000" stop-opacity="0.09"/><stop offset="0.45" stop-color="#888" stop-opacity="0"/><stop offset="1" stop-color="#fff" stop-opacity="0.16"/></linearGradient>
<filter id="blur1" x="-5%" y="-5%" width="110%" height="110%"><feGaussianBlur stdDeviation="0.55"/></filter>
</defs>
<rect x="19.10" y="592.20" width="206.90" height="206.20" fill="#c6c6c6" />
<rect x="19.10" y="592.20" width="206.90" height="206.20" fill="#c6c6c6" filter="url(#grain0)"/>
<g clip-path="url(#clip0)"><g filter="url(#blur1)" stroke-linecap="round" stroke-linejoin="round" fill="none">
<path d="M49.6,684.2 L48.9,687.8" stroke="#444" stroke-width="1.4" opacity="0.52"/>
<path d="M184.6,701.7 L184.6,702.5" stroke="#444" stroke-width="0.7" opacity="0.77"/>
<path d="M215.3,660.5 L214.8,662.2" stroke="#444" stroke-width="0.9" opacity="0.39"/>
<path d="M58.7,662.4 L57.5,665.1" stroke="#444" stroke-width="0.9" opacity="0.78"/>
<path d="M133.5,776.2 L134.6,779.8" stroke="#444" stroke-width="1.3" opacity="0.36"/>
<path d="M20.4,672.0 L20.2,675.5" stroke="#444" stroke-width="0.9" opacity="0.72"/>
<path d="M208.3,640.0 L208.0,642.3" stroke="#444" stroke-width="1.5" opacity="0.36"/>
<path d="M134.0,790.5 L133.4,793.4" stroke="#444" stroke-width="1.4" opacity="0.55"/>
<path d="M78.9,712.6 L79.2,715.2" stroke="#444" stroke-width="1.5" opacity="0.48"/>
<path d="M119.8,747.5 L118.5,751.0" stroke="#444" stroke-width="1.3" opacity="0.43"/>
<path d="M194.8,778.1 L194.0,781.3" stroke="#444" stroke-width="1.2" opacity="0.55"/>
<path d="M140.2,621.0 L139.2,624.1" stroke="#444" stroke-width="0.8" opacity="0.68"/>
<path d="M165.2,616.8 L165.2,617.5" stroke="#444" stroke-width="0.9" opacity="0.45"/>
<path d="M147.7,724.7 L147.5,728.1" stroke="#444" stroke-width="1.0" opacity="0.31"/>
<path d="M42.9,630.7 L42.4,633.2" stroke="#444" stroke-width="0.9" opacity="0.49"/>
<path d="M213.0,673.1 L212.7,676.5" stroke="#444" stroke-width="1.3" opacity="0.54"/>
<path d="M132.0,736.2 L131.7,737.3" stroke="#444" stroke-width="1.5" opacity="0.32"/>
<path d="M60.0,643.1 L60.2,643.9" stroke="#444" stroke-width="1.3" opacity="0.36"/>
<path d="M33.0,786.2 L32.9,788.3" stroke="#444" stroke-width="1.1" opacity="0.47"/>
<path d="M112.8,630.9 L113.4,633.6" stroke="#444" stroke-width="0.8" opacity="0.40"/>
<path d="M105.1,782.7 L103.9,785.4" stroke="#444" stroke-width="1.1" opacity="0.43"/>
<path d="M165.9,629.2 L166.4,633.7" stroke="#444" stroke-width="0.9" opacity="0.44"/>
<path d="M82.2,783.1 L82.0,787.6" stroke="#444" stroke-width="0.9" opacity="0.30"/>
<path d="M35.8,652.1 L35.5,655.2" stroke="#444" stroke-width="1.5" opacity="0.71"/>
<path d="M92.3,730.0 L91.8,732.3" stroke="#444" stroke-width="0.9" opacity="0.79"/>
<path d="M24.1,718.6 L23.6,720.5" stroke="#444" stroke-width="0.8" opacity="0.75"/>
<path d="M19.8,742.1 L19.8,745.5" stroke="#444" stroke-width="0.9" opacity="0.49"/>
<path d="M111.7,635.5 L111.3,636.6" stroke="#444" stroke-width="1.2" opacity="0.44"/>
<path d="M148.5,722.2 L148.5,723.2" stroke="#444" stroke-width="1.2" opacity="0.36"/>
<path d="M81.0,768.8 L81.7,771.6" stroke="#444" stroke-width="1.1" opacity="0.53"/>
<path d="M165.5,769.3 L165.8,770.1" stroke="#444" stroke-width="1.1" opacity="0.31"/>
<path d="M51.1,613.7 L51.0,614.5" stroke="#444" stroke-width="0.8" opacity="0.58"/>
<path d="M219.1,619.4 L218.9,622.9" stroke="#444" stroke-width="0.9" opacity="0.77"/>
<path d="M170.8,668.5 L172.2,672.3" stroke="#444" stroke-width="1.5" opacity="0.72"/>
<path d="M43.7,779.2 L42.5,782.6" stroke="#444" stroke-width="1.0" opacity="0.67"/>
<path d="M180.3,663.7 L180.6,664.3" stroke="#444" stroke-width="1.2" opacity="0.57"/>
<path d="M45.0,721.9 L45.0,722.7" stroke="#444" stroke-width="1.2" opacity="0.40"/>
<path d="M29.1,776.5 L28.8,780.4" stroke="#444" stroke-width="0.7" opacity="0.56"/>
<path d="M217.7,748.9 L219.0,751.9" stroke="#444" stroke-width="1.2" opacity="0.42"/>
<path d="M223.4,593.8 L223.0,595.1" stroke="#444" stroke-width="0.8" opacity="0.45"/>
<path d="M83.1,772.5 L81.9,775.5" stroke="#444" stroke-width="0.9" opacity="0.34"/>
<path d="M90.7,748.8 L89.6,751.6" stroke="#444" stroke-width="1.3" opacity="0.34"/>
<path d="M84.4,633.4 L84.2,635.0" stroke="#444" stroke-width="1.1" opacity="0.68"/>
<path d="M22.5,779.0 L22.3,780.1" stroke="#444" stroke-width="1.5" opacity="0.32"/>
<path d="M131.3,793.0 L131.3,793.5" stroke="#444" stroke-width="1.1" opacity="0.49"/>
<path d="M59.1,628.6 L59.5,630.2" stroke="#444" stroke-width="1.0" opacity="0.75"/>
<path d="M215.4,645.5 L215.5,646.1" stroke="#444" stroke-width="1.5" opacity="0.39"/>
<path d="M155.8,610.4 L156.3,612.3" stroke="#444" stroke-width="1.3" opacity="0.49"/>
<path d="M178.8,698.1 L179.6,700.0" stroke="#444" stroke-width="1.5" opacity="0.32"/>
<path d="M122.1,794.1 L122.6,797.7" stroke="#444" stroke-width="1.5" opacity="0.43"/>
<path d="M139.1,709.2 L139.7,712.5" stroke="#444" stroke-width="1.1" opacity="0.46"/>
<path d="M209.4,743.5 L209.0,745.3" stroke="#444" stroke-width="1.3" opacity="0.42"/>
<path d="M122.1,611.7 L122.6,613.0" stroke="#444" stroke-width="0.8" opacity="0.61"/>
<path d="M191.1,763.7 L190.5,764.9" stroke="#444" stroke-width="1.0" opacity="0.65"/>
<path d="M142.9,688.8 L141.8,691.9" stroke="#444" stroke-width="1.3" opacity="0.55"/>
<path d="M197.7,745.1 L196.9,747.0" stroke="#444" stroke-width="1.1" opacity="0.32"/>
<path d="M218.8,785.3 L218.2,787.9" stroke="#444" stroke-width="1.3" opacity="0.35"/>
<path d="M183.7,719.5 L183.8,723.9" stroke="#444" stroke-width="1.0" opacity="0.68"/>
<path d="M133.6,771.8 L133.5,772.5" stroke="#444" stroke-width="1.5" opacity="0.39"/>
<path d="M38.1,691.8 L37.7,694.9" stroke="#444" stroke-width="1.2" opacity="0.47"/>
<path d="M166.0,794.7 L166.2,797.2" stroke="#444" stroke-width="1.6" opacity="0.39"/>
<path d="M135.9,763.5 L135.1,767.1" stroke="#444" stroke-width="1.3" opacity="0.52"/>
<path d="M218.9,591.4 L219.0,593.6" stroke="#444" stroke-width="1.3" opacity="0.44"/>
<path d="M60.1,683.0 L60.0,686.1" stroke="#444" stroke-width="1.5" opacity="0.54"/>
<path d="M61.1,723.7 L61.9,725.5" stroke="#444" stroke-width="1.1" opacity="0.36"/>
<path d="M152.0,776.9 L150.7,780.0" stroke="#444" stroke-width="0.8" opacity="0.72"/>
<path d="M176.7,640.6 L177.4,642.9" stroke="#444" stroke-width="1.0" opacity="0.56"/>
<path d="M99.7,670.8 L99.2,674.1" stroke="#444" stroke-width="0.8" opacity="0.59"/>
<path d="M179.3,597.2 L180.7,600.4" stroke="#444" stroke-width="1.1" opacity="0.49"/>
<path d="M23.0,606.0 L23.6,609.1" stroke="#444" stroke-width="1.2" opacity="0.38"/>
<path d="M146.3,783.3 L146.7,786.7" stroke="#444" stroke-width="1.6" opacity="0.48"/>
<path d="M76.5,677.0 L76.9,681.5" stroke="#444" stroke-width="1.0" opacity="0.57"/>
<path d="M151.0,747.0 L150.5,750.3" stroke="#444" stroke-width="1.1" opacity="0.52"/>
<path d="M222.0,692.4 L222.4,695.9" stroke="#444" stroke-width="0.7" opacity="0.50"/>
<path d="M126.9,673.8 L127.3,675.1" stroke="#444" stroke-width="0.7" opacity="0.65"/>
<path d="M128.7,758.5 L127.8,762.4" stroke="#444" stroke-width="1.4" opacity="0.75"/>
<path d="M207.9,759.3 L208.5,763.3" stroke="#444" stroke-width="1.6" opacity="0.75"/>
<path d="M187.4,765.6 L187.2,769.1" stroke="#444" stroke-width="1.2" opacity="0.77"/>
<path d="M78.0,723.1 L78.9,727.2" stroke="#444" stroke-width="0.8" opacity="0.46"/>
<path d="M110.4,696.2 L110.7,697.6" stroke="#444" stroke-width="0.8" opacity="0.54"/>
<path d="M48.5,664.3 L48.3,665.5" stroke="#444" stroke-width="1.3" opacity="0.41"/>
<path d="M225.5,648.8 L226.2,652.9" stroke="#444" stroke-width="1.2" opacity="0.60"/>
<path d="M139.0,660.2 L138.6,663.8" stroke="#444" stroke-width="1.2" opacity="0.54"/>
<path d="M78.0,674.6 L77.4,678.0" stroke="#444" stroke-width="1.6" opacity="0.66"/>
<path d="M224.7,659.1 L224.0,660.6" stroke="#444" stroke-width="1.1" opacity="0.59"/>
<path d="M198.8,617.5 L198.9,618.5" stroke="#444" stroke-width="0.9" opacity="0.33"/>
<path d="M166.6,704.6 L166.3,706.9" stroke="#444" stroke-width="1.0" opacity="0.50"/>
<path d="M88.5,723.9 L88.3,726.2" stroke="#444" stroke-width="1.2" opacity="0.58"/>
<path d="M27.7,751.1 L29.2,755.0" stroke="#444" stroke-width="1.4" opacity="0.59"/>
<path d="M172.4,595.2 L172.3,595.8" stroke="#444" stroke-width="1.2" opacity="0.35"/>
<path d="M180.2,610.4 L179.2,614.4" stroke="#444" stroke-width="1.4" opacity="0.73"/>
<path d="M79.5,718.0 L79.4,718.6" stroke="#444" stroke-width="0.9" opacity="0.33"/>
<path d="M177.0,603.4 L175.8,606.2" stroke="#444" stroke-width="1.2" opacity="0.57"/>
<path d="M176.0,744.3 L176.9,746.6" stroke="#444" stroke-width="1.6" opacity="0.66"/>
<path d="M117.8,729.1 L118.2,730.6" stroke="#444" stroke-width="0.7" opacity="0.50"/>
<path d="M136.1,612.6 L136.2,613.8" stroke="#444" stroke-width="0.7" opacity="0.70"/>
<path d="M52.3,777.8 L52.7,780.5" stroke="#444" stroke-width="0.8" opacity="0.61"/>
<path d="M31.9,658.8 L30.7,663.1" stroke="#444" stroke-width="1.3" opacity="0.59"/>
<path d="M146.4,743.9 L147.8,747.7" stroke="#444" stroke-width="1.5" opacity="0.79"/>
<path d="M139.7,660.1 L139.7,660.8" stroke="#444" stroke-width="0.7" opacity="0.64"/>
<path d="M141.9,741.0 L142.5,744.9" stroke="#444" stroke-width="1.4" opacity="0.67"/>
<path d="M134.7,603.1 L134.5,607.1" stroke="#444" stroke-width="1.1" opacity="0.73"/>
<path d="M43.4,597.7 L42.8,600.8" stroke="#444" stroke-width="1.2" opacity="0.58"/>
<path d="M179.1,760.8 L178.5,763.9" stroke="#444" stroke-width="1.2" opacity="0.38"/>
<path d="M184.6,601.4 L184.5,602.6" stroke="#444" stroke-width="1.0" opacity="0.74"/>
<path d="M81.4,693.0 L81.1,694.2" stroke="#444" stroke-width="1.0" opacity="0.66"/>
<path d="M171.5,684.5 L171.1,685.4" stroke="#444" stroke-width="0.7" opacity="0.71"/>
<path d="M51.7,679.7 L51.8,681.9" stroke="#444" stroke-width="1.2" opacity="0.64"/>
<path d="M159.1,604.9 L159.6,606.8" stroke="#444" stroke-width="1.6" opacity="0.57"/>
<path d="M223.9,634.0 L223.9,637.2" stroke="#444" stroke-width="1.0" opacity="0.40"/>
<path d="M144.2,774.4 L144.1,776.8" stroke="#444" stroke-width="1.6" opacity="0.43"/>
<path d="M91.9,773.8 L92.2,774.5" stroke="#444" stroke-width="1.3" opacity="0.54"/>
<path d="M206.8,708.9 L206.6,710.5" stroke="#444" stroke-width="1.1" opacity="0.61"/>
<path d="M60.5,603.4 L59.3,607.3" stroke="#444" stroke-width="0.8" opacity="0.35"/>
<path d="M190.8,737.2 L190.1,739.4" stroke="#444" stroke-width="1.4" opacity="0.71"/>
<path d="M208.2,758.8 L208.2,759.3" stroke="#444" stroke-width="0.8" opacity="0.75"/>
<path d="M189.7,716.1 L189.3,718.4" stroke="#444" stroke-width="1.0" opacity="0.64"/>
<path d="M218.4,599.1 L217.8,601.1" stroke="#444" stroke-width="0.9" opacity="0.48"/>
<path d="M188.1,709.3 L188.2,710.8" stroke="#444" stroke-width="1.0" opacity="0.55"/>
<path d="M224.9,642.5 L224.3,644.2" stroke="#444" stroke-width="1.1" opacity="0.62"/>
<path d="M198.4,612.4 L198.8,613.5" stroke="#444" stroke-width="0.9" opacity="0.33"/>
<path d="M68.4,779.1 L67.7,783.1" stroke="#444" stroke-width="1.2" opacity="0.67"/>
<path d="M216.4,648.9 L217.5,652.1" stroke="#444" stroke-width="1.0" opacity="0.56"/>
<path d="M148.6,633.9 L149.2,635.9" stroke="#444" stroke-width="1.0" opacity="0.70"/>
<path d="M68.4,658.7 L69.1,661.5" stroke="#444" stroke-width="1.5" opacity="0.46"/>
<path d="M81.4,656.9 L81.5,659.2" stroke="#444" stroke-width="1.1" opacity="0.51"/>
<path d="M59.9,603.7 L58.8,607.5" stroke="#444" stroke-width="1.4" opacity="0.54"/>
<path d="M218.5,618.6 L218.3,619.3" stroke="#444" stroke-width="1.2" opacity="0.57"/>
<path d="M126.3,738.5 L125.6,741.6" stroke="#444" stroke-width="1.2" opacity="0.69"/>
<path d="M155.8,762.0 L157.0,765.5" stroke="#444" stroke-width="1.1" opacity="0.64"/>
<path d="M167.5,682.4 L166.5,685.1" stroke="#444" stroke-width="0.9" opacity="0.43"/>
<path d="M82.0,621.2 L81.8,624.1" stroke="#444" stroke-width="1.6" opacity="0.56"/>
<path d="M67.7,612.3 L68.6,615.1" stroke="#444" stroke-width="0.8" opacity="0.53"/>
<path d="M186.7,651.7 L187.3,653.2" stroke="#444" stroke-width="1.6" opacity="0.70"/>
<path d="M128.2,605.6 L127.9,609.9" stroke="#444" stroke-width="1.3" opacity="0.63"/>
<path d="M133.7,675.2 L134.9,678.5" stroke="#444" stroke-width="0.9" opacity="0.58"/>
<path d="M113.5,694.7 L114.5,697.3" stroke="#444" stroke-width="0.9" opacity="0.30"/>
<path d="M156.8,724.2 L156.9,724.8" stroke="#444" stroke-width="1.0" opacity="0.70"/>
<path d="M173.2,629.1 L173.1,631.4" stroke="#444" stroke-width="1.4" opacity="0.39"/>
<path d="M61.4,749.3 L62.0,752.5" stroke="#444" stroke-width="0.9" opacity="0.52"/>
<path d="M25.9,719.1 L26.8,722.6" stroke="#444" stroke-width="1.5" opacity="0.72"/>
<path d="M30.6,746.8 L30.3,750.4" stroke="#444" stroke-width="0.9" opacity="0.54"/>
<path d="M216.4,714.7 L215.2,718.9" stroke="#444" stroke-width="1.2" opacity="0.71"/>
<path d="M116.2,619.7 L116.9,622.3" stroke="#444" stroke-width="1.0" opacity="0.34"/>
<path d="M128.2,749.4 L127.2,753.8" stroke="#444" stroke-width="1.3" opacity="0.68"/>
<path d="M67.4,716.8 L66.9,720.9" stroke="#444" stroke-width="1.0" opacity="0.67"/>
<path d="M201.4,678.9 L201.6,680.3" stroke="#444" stroke-width="1.4" opacity="0.40"/>
<path d="M62.7,790.2 L62.9,790.8" stroke="#444" stroke-width="1.4" opacity="0.63"/>
<path d="M201.3,783.0 L201.1,784.2" stroke="#444" stroke-width="0.9" opacity="0.64"/>
<path d="M30.1,749.7 L29.9,751.0" stroke="#444" stroke-width="1.1" opacity="0.63"/>
<path d="M102.8,596.3 L103.2,597.9" stroke="#444" stroke-width="1.6" opacity="0.32"/>
<path d="M178.7,618.9 L178.4,620.7" stroke="#444" stroke-width="1.2" opacity="0.32"/>
<path d="M77.8,652.1 L77.8,655.1" stroke="#444" stroke-width="1.1" opacity="0.31"/>
<path d="M110.2,686.8 L110.1,687.9" stroke="#444" stroke-width="0.8" opacity="0.49"/>
<path d="M45.4,665.6 L45.4,666.5" stroke="#444" stroke-width="1.2" opacity="0.77"/>
<path d="M83.0,614.9 L82.6,616.9" stroke="#444" stroke-width="0.9" opacity="0.78"/>
<path d="M72.3,724.0 L72.2,724.9" stroke="#444" stroke-width="1.4" opacity="0.55"/>
<path d="M77.3,707.3 L78.2,711.6" stroke="#444" stroke-width="1.4" opacity="0.57"/>
<path d="M222.6,647.0 L224.1,650.5" stroke="#444" stroke-width="1.5" opacity="0.32"/>
<path d="M87.3,638.0 L86.8,639.6" stroke="#444" stroke-width="0.9" opacity="0.59"/>
<path d="M144.2,602.7 L142.8,605.9" stroke="#444" stroke-width="1.2" opacity="0.40"/>
<path d="M82.0,708.8 L81.1,713.0" stroke="#444" stroke-width="1.0" opacity="0.37"/>
<path d="M170.9,692.8 L170.4,694.5" stroke="#444" stroke-width="1.0" opacity="0.68"/>
<path d="M177.7,754.0 L177.7,755.5" stroke="#444" stroke-width="1.5" opacity="0.44"/>
<path d="M37.8,602.1 L37.9,605.2" stroke="#444" stroke-width="1.3" opacity="0.77"/>
<path d="M138.8,678.0 L138.2,682.0" stroke="#444" stroke-width="0.8" opacity="0.43"/>
<path d="M143.9,635.8 L145.6,640.0" stroke="#444" stroke-width="1.5" opacity="0.77"/>
<path d="M98.4,665.9 L99.0,668.6" stroke="#444" stroke-width="1.6" opacity="0.62"/>
<path d="M125.8,645.8 L125.6,648.6" stroke="#444" stroke-width="1.4" opacity="0.66"/>
<path d="M170.5,608.8 L170.7,611.2" stroke="#444" stroke-width="1.4" opacity="0.41"/>
<path d="M85.2,649.2 L84.6,650.8" stroke="#444" stroke-width="1.5" opacity="0.79"/>
<path d="M91.4,683.2 L91.4,683.9" stroke="#444" stroke-width="1.1" opacity="0.48"/>
<path d="M200.4,796.7 L199.7,799.8" stroke="#444" stroke-width="1.3" opacity="0.70"/>
<path d="M137.6,786.7 L137.4,788.0" stroke="#444" stroke-width="1.1" opacity="0.46"/>
<path d="M162.9,599.6 L161.9,603.6" stroke="#444" stroke-width="0.8" opacity="0.74"/>
<path d="M90.7,741.7 L90.6,742.4" stroke="#444" stroke-width="1.4" opacity="0.50"/>
<path d="M97.8,695.9 L97.4,696.8" stroke="#444" stroke-width="1.2" opacity="0.61"/>
<path d="M137.3,625.3 L136.0,628.4" stroke="#444" stroke-width="1.6" opacity="0.52"/>
<path d="M112.7,794.8 L112.1,798.4" stroke="#444" stroke-width="1.3" opacity="0.74"/>
<path d="M83.4,662.8 L83.9,664.6" stroke="#444" stroke-width="1.2" opacity="0.30"/>
<path d="M146.5,651.2 L147.1,653.2" stroke="#444" stroke-width="1.4" opacity="0.40"/>
<path d="M27.7,758.4 L27.8,759.0" stroke="#444" stroke-width="1.6" opacity="0.38"/>
<path d="M130.2,737.3 L130.1,740.0" stroke="#444" stroke-width="1.4" opacity="0.33"/>
<path d="M85.9,626.7 L84.4,630.9" stroke="#444" stroke-width="0.9" opacity="0.57"/>
<path d="M171.2,702.1 L170.4,705.5" stroke="#444" stroke-width="0.8" opacity="0.36"/>
<path d="M65.0,636.0 L65.1,637.0" stroke="#444" stroke-width="1.1" opacity="0.52"/>
<path d="M52.8,705.5 L53.4,708.5" stroke="#444" stroke-width="1.6" opacity="0.63"/>
<path d="M215.3,690.8 L214.9,694.3" stroke="#444" stroke-width="1.5" opacity="0.46"/>
<path d="M102.8,781.1 L102.9,782.6" stroke="#444" stroke-width="0.9" opacity="0.32"/>
<path d="M217.0,592.5 L216.9,595.2" stroke="#444" stroke-width="1.5" opacity="0.79"/>
<path d="M167.1,693.0 L168.2,697.0" stroke="#444" stroke-width="1.3" opacity="0.46"/>
<path d="M210.8,603.8 L211.3,606.6" stroke="#444" stroke-width="1.6" opacity="0.39"/>
<path d="M169.3,593.2 L169.5,594.6" stroke="#444" stroke-width="1.3" opacity="0.69"/>
<path d="M112.4,619.4 L113.0,621.1" stroke="#444" stroke-width="1.5" opacity="0.52"/>
<path d="M114.3,738.7 L114.3,741.7" stroke="#444" stroke-width="1.1" opacity="0.60"/>
<path d="M27.4,740.6 L27.6,742.2" stroke="#444" stroke-width="0.8" opacity="0.78"/>
<path d="M110.4,597.1 L109.2,601.4" stroke="#444" stroke-width="1.4" opacity="0.36"/>
<path d="M64.8,745.4 L64.3,748.1" stroke="#444" stroke-width="1.3" opacity="0.64"/>
<path d="M204.1,770.0 L205.1,773.0" stroke="#444" stroke-width="1.2" opacity="0.55"/>
<path d="M109.8,785.1 L108.9,787.6" stroke="#444" stroke-width="1.5" opacity="0.69"/>
<path d="M36.0,718.3 L35.6,720.2" stroke="#444" stroke-width="0.8" opacity="0.30"/>
<path d="M162.1,725.7 L163.2,728.6" stroke="#444" stroke-width="1.3" opacity="0.75"/>
<path d="M197.4,703.1 L196.8,704.9" stroke="#444" stroke-width="1.5" opacity="0.69"/>
<path d="M113.9,611.7 L113.4,613.8" stroke="#444" stroke-width="0.9" opacity="0.49"/>
<path d="M88.9,752.4 L88.8,754.2" stroke="#444" stroke-width="0.9" opacity="0.77"/>
<path d="M61.2,763.9 L60.8,766.0" stroke="#444" stroke-width="1.5" opacity="0.35"/>
<path d="M62.6,631.7 L62.3,632.9" stroke="#444" stroke-width="1.0" opacity="0.57"/>
<path d="M45.7,697.2 L45.3,698.8" stroke="#444" stroke-width="1.0" opacity="0.35"/>
<path d="M118.8,642.8 L118.9,643.4" stroke="#444" stroke-width="1.3" opacity="0.68"/>
<path d="M169.3,598.1 L169.6,600.2" stroke="#444" stroke-width="1.5" opacity="0.63"/>
<path d="M67.9,707.1 L67.3,710.8" stroke="#444" stroke-width="1.3" opacity="0.58"/>
<path d="M224.4,773.8 L223.5,775.8" stroke="#444" stroke-width="1.5" opacity="0.50"/>
<path d="M109.5,597.0 L110.7,600.6" stroke="#444" stroke-width="1.0" opacity="0.75"/>
<path d="M209.8,632.0 L210.2,634.7" stroke="#444" stroke-width="1.3" opacity="0.54"/>
<path d="M153.1,733.5 L153.7,737.9" stroke="#444" stroke-width="0.7" opacity="0.44"/>
<path d="M22.4,604.8 L22.5,605.4" stroke="#444" stroke-width="1.2" opacity="0.36"/>
<path d="M108.0,752.8 L108.3,755.5" stroke="#444" stroke-width="1.4" opacity="0.75"/>
<path d="M208.8,674.9 L208.2,678.3" stroke="#444" stroke-width="1.0" opacity="0.40"/>
<path d="M160.5,600.5 L160.2,601.1" stroke="#444" stroke-width="1.2" opacity="0.49"/>
<path d="M120.6,632.6 L120.7,633.8" stroke="#444" stroke-width="1.4" opacity="0.73"/>
<path d="M28.0,663.5 L27.9,667.1" stroke="#444" stroke-width="1.5" opacity="0.50"/>
<path d="M157.9,769.7 L158.7,772.1" stroke="#444" stroke-width="0.7" opacity="0.36"/>
<path d="M141.1,787.4 L141.2,788.6" stroke="#444" stroke-width="0.7" opacity="0.44"/>
<path d="M71.9,593.1 L71.1,596.2" stroke="#444" stroke-width="1.0" opacity="0.75"/>
<path d="M208.1,766.8 L208.6,769.7" stroke="#444" stroke-width="1.4" opacity="0.47"/>
<path d="M223.4,778.1 L222.9,779.6" stroke="#444" stroke-width="0.8" opacity="0.45"/>
<path d="M96.1,773.7 L95.6,777.0" stroke="#444" stroke-width="1.4" opacity="0.54"/>
<path d="M77.7,620.0 L78.1,623.5" stroke="#444" stroke-width="1.1" opacity="0.40"/>
<path d="M222.3,631.9 L222.4,632.4" stroke="#444" stroke-width="0.9" opacity="0.44"/>
<path d="M32.3,764.4 L31.8,766.7" stroke="#444" stroke-width="1.3" opacity="0.33"/>
<path d="M191.3,650.5 L191.6,654.1" stroke="#444" stroke-width="1.0" opacity="0.33"/>
<path d="M38.9,619.1 L38.1,621.5" stroke="#444" stroke-width="0.8" opacity="0.73"/>
<path d="M88.2,771.5 L88.7,773.2" stroke="#444" stroke-width="0.9" opacity="0.75"/>
<path d="M188.7,601.8 L188.4,604.2" stroke="#444" stroke-width="1.2" opacity="0.58"/>
<path d="M147.8,616.5 L148.2,617.3" stroke="#444" stroke-width="0.7" opacity="0.48"/>
<path d="M114.5,628.5 L114.3,631.6" stroke="#444" stroke-width="1.2" opacity="0.67"/>
<path d="M225.6,618.4 L226.3,622.6" stroke="#444" stroke-width="1.3" opacity="0.50"/>
<path d="M211.7,784.3 L212.2,785.3" stroke="#444" stroke-width="1.2" opacity="0.50"/>
<path d="M166.5,731.8 L165.8,735.6" stroke="#444" stroke-width="1.3" opacity="0.32"/>
<path d="M121.5,741.6 L120.8,744.6" stroke="#444" stroke-width="1.2" opacity="0.78"/>
<path d="M156.7,786.7 L158.1,790.4" stroke="#444" stroke-width="1.5" opacity="0.37"/>
<path d="M151.9,776.2 L151.7,777.8" stroke="#444" stroke-width="1.2" opacity="0.71"/>
<path d="M183.5,635.5 L183.2,636.5" stroke="#444" stroke-width="0.8" opacity="0.74"/>
<path d="M19.8,699.0 L21.0,702.4" stroke="#444" stroke-width="1.1" opacity="0.56"/>
<path d="M86.6,710.7 L87.0,711.8" stroke="#444" stroke-width="0.9" opacity="0.68"/>
<path d="M199.3,646.4 L199.4,647.1" stroke="#444" stroke-width="1.3" opacity="0.80"/>
<path d="M91.7,685.0 L92.9,688.4" stroke="#444" stroke-width="1.5" opacity="0.77"/>
<path d="M195.2,671.9 L194.6,675.4" stroke="#444" stroke-width="1.4" opacity="0.45"/>
<path d="M197.3,743.0 L196.8,745.3" stroke="#444" stroke-width="1.0" opacity="0.74"/>
<path d="M188.5,722.4 L188.5,725.2" stroke="#444" stroke-width="1.3" opacity="0.56"/>
<path d="M101.2,640.2 L101.1,642.9" stroke="#444" stroke-width="1.1" opacity="0.30"/>
<path d="M25.6,775.4 L26.3,779.6" stroke="#444" stroke-width="1.5" opacity="0.65"/>
<path d="M46.9,677.2 L47.0,677.9" stroke="#444" stroke-width="1.2" opacity="0.66"/>
<path d="M197.0,714.6 L197.4,718.9" stroke="#444" stroke-width="1.2" opacity="0.72"/>
<path d="M74.2,796.6 L74.1,797.5" stroke="#444" stroke-width="1.2" opacity="0.70"/>
<path d="M107.4,656.3 L108.4,658.6" stroke="#444" stroke-width="1.5" opacity="0.71"/>
<path d="M176.3,690.2 L175.9,691.3" stroke="#444" stroke-width="0.8" opacity="0.71"/>
<path d="M150.6,662.5 L150.2,666.6" stroke="#444" stroke-width="0.7" opacity="0.76"/>
<path d="M214.1,729.1 L214.4,730.5" stroke="#444" stroke-width="1.0" opacity="0.40"/>
<path d="M103.3,609.3 L102.5,612.2" stroke="#444" stroke-width="1.0" opacity="0.41"/>
<path d="M210.2,619.2 L210.3,621.4" stroke="#444" stroke-width="0.7" opacity="0.66"/>
<path d="M147.1,753.0 L146.6,754.6" stroke="#444" stroke-width="1.3" opacity="0.67"/>
<path d="M121.7,725.1 L121.9,727.5" stroke="#444" stroke-width="1.6" opacity="0.43"/>
<path d="M74.0,625.1 L74.1,625.8" stroke="#444" stroke-width="1.6" opacity="0.42"/>
<path d="M193.9,717.0 L194.1,718.9" stroke="#444" stroke-width="1.2" opacity="0.49"/>
<path d="M224.6,721.2 L224.8,721.9" stroke="#444" stroke-width="1.5" opacity="0.32"/>
<path d="M44.9,675.6 L45.5,679.7" stroke="#444" stroke-width="1.0" opacity="0.69"/>
<path d="M156.0,751.4 L156.5,753.2" stroke="#444" stroke-width="1.4" opacity="0.42"/>
<path d="M170.8,759.1 L170.7,760.8" stroke="#444" stroke-width="0.9" opacity="0.61"/>
<path d="M37.0,662.2 L36.6,665.0" stroke="#444" stroke-width="1.2" opacity="0.59"/>
<path d="M143.2,597.1 L141.7,600.5" stroke="#444" stroke-width="1.4" opacity="0.75"/>
<path d="M217.9,632.9 L217.3,634.4" stroke="#444" stroke-width="0.7" opacity="0.49"/>
<path d="M74.9,681.9 L75.0,683.8" stroke="#444" stroke-width="1.5" opacity="0.65"/>
<path d="M168.4,774.3 L169.4,776.9" stroke="#444" stroke-width="1.2" opacity="0.65"/>
<path d="M23.9,646.1 L23.7,650.0" stroke="#444" stroke-width="0.9" opacity="0.46"/>
<path d="M124.5,774.1 L124.5,774.8" stroke="#444" stroke-width="0.9" opacity="0.37"/>
<path d="M25.7,697.1 L25.1,699.1" stroke="#444" stroke-width="0.8" opacity="0.37"/>
<path d="M66.5,690.2 L66.4,692.3" stroke="#444" stroke-width="1.4" opacity="0.72"/>
<path d="M146.6,738.6 L146.2,742.3" stroke="#444" stroke-width="1.5" opacity="0.62"/>
<path d="M216.9,691.1 L216.4,692.5" stroke="#444" stroke-width="1.1" opacity="0.49"/>
<path d="M131.6,723.3 L131.1,725.7" stroke="#444" stroke-width="1.1" opacity="0.72"/>
<path d="M64.6,631.5 L65.2,635.7" stroke="#444" stroke-width="0.9" opacity="0.52"/>
<path d="M20.9,625.9 L20.3,627.3" stroke="#444" stroke-width="1.2" opacity="0.56"/>
<path d="M29.4,687.5 L29.2,690.3" stroke="#444" stroke-width="0.8" opacity="0.73"/>
<path d="M161.0,760.5 L160.7,761.9" stroke="#444" stroke-width="0.8" opacity="0.38"/>
<path d="M126.7,591.9 L127.5,595.4" stroke="#444" stroke-width="1.3" opacity="0.63"/>
<path d="M214.1,643.1 L214.0,647.6" stroke="#444" stroke-width="0.7" opacity="0.77"/>
<path d="M141.1,777.2 L140.5,779.9" stroke="#444" stroke-width="1.1" opacity="0.76"/>
<path d="M181.5,704.3 L182.2,707.2" stroke="#444" stroke-width="0.9" opacity="0.77"/>
<path d="M83.2,637.7 L83.4,639.4" stroke="#444" stroke-width="1.4" opacity="0.60"/>
<path d="M154.0,780.9 L153.8,783.6" stroke="#444" stroke-width="1.2" opacity="0.52"/>
<path d="M199.9,689.9 L198.6,693.2" stroke="#444" stroke-width="1.3" opacity="0.61"/>
<path d="M139.0,619.1 L138.3,620.7" stroke="#444" stroke-width="1.5" opacity="0.63"/>
<path d="M89.5,734.0 L89.4,734.9" stroke="#444" stroke-width="1.6" opacity="0.78"/>
<path d="M193.4,638.3 L193.9,640.7" stroke="#444" stroke-width="1.5" opacity="0.68"/>
<path d="M223.4,659.7 L222.7,661.9" stroke="#444" stroke-width="1.2" opacity="0.43"/>
<path d="M39.5,599.5 L39.6,600.0" stroke="#444" stroke-width="1.0" opacity="0.60"/>
<path d="M225.0,602.9 L225.2,603.5" stroke="#444" stroke-width="1.4" opacity="0.64"/>
<path d="M97.4,697.3 L98.5,701.1" stroke="#444" stroke-width="1.5" opacity="0.40"/>
<path d="M177.9,779.0 L178.1,779.8" stroke="#444" stroke-width="1.0" opacity="0.77"/>
<path d="M46.2,780.4 L47.1,782.8" stroke="#444" stroke-width="1.4" opacity="0.44"/>
<path d="M26.0,733.0 L25.1,735.2" stroke="#444" stroke-width="1.5" opacity="0.74"/>
<path d="M27.2,672.1 L26.7,676.2" stroke="#444" stroke-width="1.1" opacity="0.57"/>
<path d="M210.1,784.1 L209.3,786.0" stroke="#444" stroke-width="1.2" opacity="0.79"/>
<path d="M136.5,786.4 L135.1,789.6" stroke="#444" stroke-width="1.2" opacity="0.53"/>
<path d="M139.3,629.7 L140.9,633.9" stroke="#444" stroke-width="1.1" opacity="0.35"/>
<path d="M190.7,671.1 L191.2,673.4" stroke="#444" stroke-width="1.4" opacity="0.75"/>
<path d="M216.3,751.9 L215.9,753.2" stroke="#444" stroke-width="1.0" opacity="0.36"/>
<path d="M65.1,607.3 L65.5,609.0" stroke="#444" stroke-width="0.9" opacity="0.54"/>
<path d="M65.5,609.1 L65.1,612.6" stroke="#444" stroke-width="0.8" opacity="0.71"/>
<path d="M61.8,774.0 L61.3,778.1" stroke="#444" stroke-width="1.3" opacity="0.30"/>
<path d="M69.3,623.0 L69.5,626.4" stroke="#444" stroke-width="1.3" opacity="0.76"/>
<path d="M19.8,726.4 L19.3,728.5" stroke="#444" stroke-width="1.5" opacity="0.67"/>
<path d="M175.5,640.5 L175.5,641.9" stroke="#444" stroke-width="1.4" opacity="0.46"/>
<path d="M177.4,770.1 L176.0,774.1" stroke="#444" stroke-width="0.7" opacity="0.64"/>
<path d="M135.9,749.1 L136.6,752.0" stroke="#444" stroke-width="1.6" opacity="0.48"/>
<path d="M209.5,633.3 L208.8,636.6" stroke="#444" stroke-width="0.7" opacity="0.60"/>
<path d="M66.7,632.2 L66.7,634.3" stroke="#444" stroke-width="1.3" opacity="0.51"/>
<path d="M158.8,788.9 L158.6,792.0" stroke="#444" stroke-width="1.0" opacity="0.75"/>
<path d="M170.7,613.8 L170.0,617.6" stroke="#444" stroke-width="1.3" opacity="0.74"/>
<path d="M21.6,744.3 L22.1,746.9" stroke="#444" stroke-width="0.7" opacity="0.38"/>
<path d="M62.0,629.1 L61.7,630.8" stroke="#444" stroke-width="1.6" opacity="0.37"/>
<path d="M96.4,665.1 L96.8,668.1" stroke="#444" stroke-width="1.0" opacity="0.50"/>
<path d="M97.9,694.2 L98.1,698.7" stroke="#444" stroke-width="1.3" opacity="0.58"/>
<path d="M122.1,603.8 L122.8,606.7" stroke="#444" stroke-width="1.0" opacity="0.39"/>
<path d="M149.9,697.6 L148.6,700.8" stroke="#444" stroke-width="1.3" opacity="0.65"/>
<path d="M122.7,792.4 L123.0,794.3" stroke="#444" stroke-width="1.4" opacity="0.79"/>
<path d="M85.2,780.1 L85.5,783.0" stroke="#444" stroke-width="1.2" opacity="0.80"/>
<path d="M73.9,692.9 L72.9,695.8" stroke="#444" stroke-width="1.0" opacity="0.60"/>
<path d="M171.9,734.1 L172.1,737.8" stroke="#444" stroke-width="0.9" opacity="0.46"/>
<path d="M54.5,714.8 L54.8,715.4" stroke="#444" stroke-width="0.9" opacity="0.72"/>
<path d="M158.9,671.8 L158.9,675.9" stroke="#444" stroke-width="1.1" opacity="0.44"/>
<path d="M89.4,641.5 L90.4,644.7" stroke="#444" stroke-width="1.2" opacity="0.46"/>
<path d="M102.3,595.2 L103.8,598.7" stroke="#444" stroke-width="1.1" opacity="0.36"/>
<path d="M196.0,731.1 L196.6,733.0" stroke="#444" stroke-width="1.2" opacity="0.59"/>
<path d="M202.2,696.4 L201.6,699.3" stroke="#444" stroke-width="0.8" opacity="0.69"/>
<path d="M156.9,731.9 L156.3,733.5" stroke="#444" stroke-width="0.8" opacity="0.71"/>
<path d="M207.6,647.6 L209.0,650.9" stroke="#444" stroke-width="1.4" opacity="0.78"/>
<path d="M74.0,609.3 L72.8,612.4" stroke="#444" stroke-width="1.3" opacity="0.40"/>
<path d="M166.0,796.7 L165.6,797.8" stroke="#444" stroke-width="0.9" opacity="0.59"/>
<path d="M75.7,674.7 L75.1,676.6" stroke="#444" stroke-width="1.2" opacity="0.61"/>
<path d="M72.2,690.0 L70.7,693.3" stroke="#444" stroke-width="1.0" opacity="0.68"/>
<path d="M164.9,665.3 L164.9,666.0" stroke="#444" stroke-width="1.4" opacity="0.33"/>
<path d="M125.7,672.9 L125.2,675.8" stroke="#444" stroke-width="0.9" opacity="0.62"/>
<path d="M75.5,722.3 L76.0,726.6" stroke="#444" stroke-width="0.8" opacity="0.46"/>
<path d="M175.4,640.0 L174.6,642.0" stroke="#444" stroke-width="1.4" opacity="0.46"/>
<path d="M140.3,756.3 L140.5,760.2" stroke="#444" stroke-width="1.5" opacity="0.52"/>
<path d="M209.2,758.2 L208.4,760.2" stroke="#444" stroke-width="1.5" opacity="0.65"/>
<path d="M133.0,652.3 L133.1,653.1" stroke="#444" stroke-width="1.4" opacity="0.60"/>
<path d="M44.0,664.3 L42.6,668.1" stroke="#444" stroke-width="1.1" opacity="0.60"/>
<path d="M182.9,598.5 L183.8,601.0" stroke="#444" stroke-width="1.3" opacity="0.65"/>
<path d="M120.3,726.7 L120.1,727.2" stroke="#444" stroke-width="1.0" opacity="0.61"/>
<path d="M95.3,618.3 L93.8,622.3" stroke="#444" stroke-width="1.3" opacity="0.46"/>
<path d="M65.3,705.3 L64.6,707.7" stroke="#444" stroke-width="1.5" opacity="0.74"/>
<path d="M187.8,725.9 L186.9,729.5" stroke="#444" stroke-width="1.2" opacity="0.34"/>
<path d="M69.6,749.9 L70.2,754.2" stroke="#444" stroke-width="1.2" opacity="0.48"/>
<path d="M77.1,690.7 L78.4,693.5" stroke="#444" stroke-width="1.3" opacity="0.70"/>
<path d="M75.4,614.6 L74.8,617.7" stroke="#444" stroke-width="0.7" opacity="0.61"/>
<path d="M49.7,688.7 L49.6,691.0" stroke="#444" stroke-width="1.5" opacity="0.36"/>
<path d="M47.0,649.9 L46.4,651.2" stroke="#444" stroke-width="1.1" opacity="0.75"/>
<path d="M214.7,632.8 L215.4,634.4" stroke="#444" stroke-width="0.9" opacity="0.65"/>
<path d="M76.5,642.0 L75.7,645.1" stroke="#444" stroke-width="1.5" opacity="0.74"/>
<path d="M89.7,754.5 L89.9,756.6" stroke="#444" stroke-width="1.0" opacity="0.41"/>
<path d="M187.0,753.1 L185.8,755.9" stroke="#444" stroke-width="1.1" opacity="0.77"/>
<path d="M219.5,716.8 L218.7,718.6" stroke="#444" stroke-width="0.9" opacity="0.57"/>
<path d="M156.2,725.3 L155.4,727.4" stroke="#444" stroke-width="1.2" opacity="0.50"/>
<path d="M156.0,737.4 L156.0,739.1" stroke="#444" stroke-width="1.3" opacity="0.36"/>
<path d="M150.5,631.5 L150.5,633.2" stroke="#444" stroke-width="1.5" opacity="0.36"/>
<path d="M54.0,783.6 L53.6,787.3" stroke="#444" stroke-width="0.9" opacity="0.40"/>
<path d="M63.4,615.6 L64.1,617.3" stroke="#444" stroke-width="0.8" opacity="0.34"/>
<path d="M155.5,664.1 L154.9,665.6" stroke="#444" stroke-width="1.5" opacity="0.65"/>
<path d="M128.6,649.9 L128.7,650.4" stroke="#444" stroke-width="0.8" opacity="0.38"/>
<path d="M115.8,740.4 L116.5,744.5" stroke="#444" stroke-width="0.9" opacity="0.55"/>
<path d="M96.8,706.2 L97.7,708.9" stroke="#444" stroke-width="0.9" opacity="0.32"/>
<path d="M44.8,704.1 L44.1,707.3" stroke="#444" stroke-width="0.7" opacity="0.38"/>
<path d="M62.6,790.9 L62.2,793.2" stroke="#444" stroke-width="1.1" opacity="0.68"/>
<path d="M115.6,646.8 L115.6,647.5" stroke="#444" stroke-width="1.4" opacity="0.37"/>
<path d="M205.7,788.5 L206.0,789.0" stroke="#444" stroke-width="1.0" opacity="0.75"/>
<path d="M203.4,704.3 L203.5,705.9" stroke="#444" stroke-width="1.1" opacity="0.32"/>
<path d="M202.1,709.4 L203.6,713.6" stroke="#444" stroke-width="0.8" opacity="0.46"/>
<path d="M29.6,607.2 L31.1,613.3 L33.4,616.3 L34.2,627.7" stroke="#333" stroke-width="2.96" opacity="0.3"/>
<path d="M29.6,607.2 L31.1,613.3 L33.4,616.3 L34.2,627.7" stroke="#2a2a2a" stroke-width="1.58" opacity="0.81"/>
<circle cx="33.3" cy="619.1" r="1.04" fill="#262626" stroke="none" opacity="0.52"/>
<path d="M33.4,615.5 L38.0,614.8" stroke="#333" stroke-width="2.07" opacity="0.3"/>
<path d="M33.4,615.5 L38.0,614.8" stroke="#1c1c1c" stroke-width="1.11" opacity="0.95"/>
<path d="M50.1,611.7 L49.4,622.4 L48.6,636.8" stroke="#333" stroke-width="1.78" opacity="0.3"/>
<path d="M50.1,611.7 L49.4,622.4 L48.6,636.8" stroke="#2a2a2a" stroke-width="0.95" opacity="0.85"/>
<circle cx="49.9" cy="619.5" r="0.72" fill="#262626" stroke="none" opacity="0.55"/>
<circle cx="49.4" cy="612.6" r="0.67" fill="#262626" stroke="none" opacity="0.65"/>
<circle cx="49.7" cy="628.9" r="0.92" fill="#262626" stroke="none" opacity="0.73"/>
<circle cx="48.5" cy="636.1" r="1.06" fill="#262626" stroke="none" opacity="0.78"/>
<circle cx="48.3" cy="633.8" r="1.12" fill="#262626" stroke="none" opacity="0.81"/>
<path d="M71.4,617.8 L71.4,626.9 L69.1,634.5 L63.0,637.5 L62.3,648.2 L64.5,650.4" stroke="#333" stroke-width="3.55" opacity="0.3"/>
<path d="M71.4,617.8 L71.4,626.9 L69.1,634.5 L63.0,637.5 L62.3,648.2 L64.5,650.4" stroke="#2a2a2a" stroke-width="1.89" opacity="0.89"/>
<circle cx="71.1" cy="620.0" r="1.45" fill="#262626" stroke="none" opacity="0.85"/>
<circle cx="70.7" cy="619.0" r="1.22" fill="#262626" stroke="none" opacity="0.64"/>
<circle cx="70.3" cy="628.5" r="1.85" fill="#262626" stroke="none" opacity="0.56"/>
<circle cx="66.7" cy="635.5" r="2.25" fill="#262626" stroke="none" opacity="0.54"/>
<circle cx="65.6" cy="635.9" r="1.73" fill="#262626" stroke="none" opacity="0.52"/>
<circle cx="62.5" cy="641.0" r="1.62" fill="#262626" stroke="none" opacity="0.80"/>
<circle cx="63.4" cy="639.9" r="1.55" fill="#262626" stroke="none" opacity="0.71"/>
<circle cx="62.9" cy="644.8" r="2.16" fill="#262626" stroke="none" opacity="0.77"/>
<circle cx="62.2" cy="649.2" r="1.28" fill="#262626" stroke="none" opacity="0.57"/>
<path d="M36.5,633.0 L36.5,643.6 L39.5,644.4" stroke="#333" stroke-width="2.07" opacity="0.3"/>
<path d="M36.5,633.0 L36.5,643.6 L39.5,644.4" stroke="#333" stroke-width="1.11" opacity="0.83"/>
<circle cx="36.8" cy="633.4" r="0.78" fill="#262626" stroke="none" opacity="0.56"/>
<circle cx="36.9" cy="637.1" r="0.73" fill="#262626" stroke="none" opacity="0.79"/>
<circle cx="36.2" cy="638.4" r="0.87" fill="#262626" stroke="none" opacity="0.61"/>
<circle cx="36.2" cy="638.3" r="1.27" fill="#262626" stroke="none" opacity="0.61"/>
<path d="M91.9,630.0 L93.4,637.5" stroke="#333" stroke-width="2.07" opacity="0.3"/>
<path d="M91.9,630.0 L93.4,637.5" stroke="#1c1c1c" stroke-width="1.11" opacity="0.94"/>
<circle cx="92.9" cy="632.3" r="1.26" fill="#262626" stroke="none" opacity="0.58"/>
<circle cx="93.3" cy="634.9" r="0.89" fill="#262626" stroke="none" opacity="0.86"/>
<circle cx="92.3" cy="631.8" r="0.79" fill="#262626" stroke="none" opacity="0.67"/>
<path d="M101.7,617.8 L101.0,628.4 L97.9,634.5" stroke="#333" stroke-width="2.37" opacity="0.3"/>
<path d="M101.7,617.8 L101.0,628.4 L97.9,634.5" stroke="#2a2a2a" stroke-width="1.26" opacity="0.90"/>
<circle cx="101.4" cy="620.5" r="0.97" fill="#262626" stroke="none" opacity="0.59"/>
<circle cx="100.7" cy="627.1" r="0.89" fill="#262626" stroke="none" opacity="0.58"/>
<circle cx="101.6" cy="622.0" r="1.06" fill="#262626" stroke="none" opacity="0.74"/>
<path d="M107.1,619.3 L107.4,625.4" stroke="#333" stroke-width="1.48" opacity="0.3"/>
<path d="M107.1,619.3 L107.4,625.4" stroke="#333" stroke-width="0.79" opacity="0.84"/>
<path d="M122.2,637.5 L122.2,648.2" stroke="#333" stroke-width="2.37" opacity="0.3"/>
<path d="M122.2,637.5 L122.2,648.2" stroke="#1c1c1c" stroke-width="1.26" opacity="0.83"/>
<circle cx="121.8" cy="645.0" r="0.88" fill="#262626" stroke="none" opacity="0.82"/>
<circle cx="122.8" cy="643.3" r="1.21" fill="#262626" stroke="none" opacity="0.85"/>
<circle cx="121.7" cy="644.8" r="1.07" fill="#262626" stroke="none" opacity="0.63"/>
<path d="M30.4,652.7 L30.4,667.9 L28.9,680.1 L28.9,692.2" stroke="#333" stroke-width="3.26" opacity="0.3"/>
<path d="M30.4,652.7 L30.4,667.9 L28.9,680.1 L28.9,692.2" stroke="#2a2a2a" stroke-width="1.74" opacity="0.84"/>
<circle cx="30.4" cy="666.8" r="1.68" fill="#262626" stroke="none" opacity="0.76"/>
<circle cx="30.4" cy="670.0" r="1.12" fill="#262626" stroke="none" opacity="0.58"/>
<circle cx="28.5" cy="677.8" r="1.76" fill="#262626" stroke="none" opacity="0.72"/>
<circle cx="29.5" cy="684.6" r="1.46" fill="#262626" stroke="none" opacity="0.75"/>
<circle cx="28.7" cy="684.9" r="1.73" fill="#262626" stroke="none" opacity="0.88"/>
<path d="M97.9,645.1 L97.9,660.3" stroke="#333" stroke-width="2.37" opacity="0.3"/>
<path d="M97.9,645.1 L97.9,660.3" stroke="#1c1c1c" stroke-width="1.26" opacity="0.81"/>
<circle cx="98.3" cy="657.4" r="1.38" fill="#262626" stroke="none" opacity="0.76"/>
<circle cx="97.5" cy="658.6" r="0.86" fill="#262626" stroke="none" opacity="0.81"/>
<path d="M102.5,639.1 L104.0,642.1 L106.3,644.4" stroke="#333" stroke-width="2.07" opacity="0.3"/>
<path d="M102.5,639.1 L104.0,642.1 L106.3,644.4" stroke="#2a2a2a" stroke-width="1.11" opacity="0.84"/>
<circle cx="103.1" cy="640.7" r="1.07" fill="#262626" stroke="none" opacity="0.71"/>
<circle cx="105.0" cy="643.5" r="1.12" fill="#262626" stroke="none" opacity="0.73"/>
<path d="M104.8,655.8 L107.1,669.4 L108.6,674.7 L111.6,670.9" stroke="#333" stroke-width="2.66" opacity="0.3"/>
<path d="M104.8,655.8 L107.1,669.4 L108.6,674.7 L111.6,670.9" stroke="#222" stroke-width="1.42" opacity="0.90"/>
<circle cx="105.7" cy="661.5" r="1.53" fill="#262626" stroke="none" opacity="0.71"/>
<circle cx="105.8" cy="661.1" r="1.26" fill="#262626" stroke="none" opacity="0.63"/>
<circle cx="106.9" cy="665.7" r="0.92" fill="#262626" stroke="none" opacity="0.85"/>
<path d="M81.2,667.9 L81.2,677.0 L80.5,686.1 L80.5,696.0" stroke="#333" stroke-width="3.55" opacity="0.3"/>
<path d="M81.2,667.9 L81.2,677.0 L80.5,686.1 L80.5,696.0" stroke="#2a2a2a" stroke-width="1.89" opacity="0.89"/>
<circle cx="81.4" cy="675.9" r="1.23" fill="#262626" stroke="none" opacity="0.51"/>
<circle cx="81.8" cy="672.5" r="1.96" fill="#262626" stroke="none" opacity="0.79"/>
<circle cx="80.7" cy="677.3" r="1.88" fill="#262626" stroke="none" opacity="0.53"/>
<circle cx="81.3" cy="681.0" r="1.80" fill="#262626" stroke="none" opacity="0.74"/>
<circle cx="81.2" cy="696.7" r="1.79" fill="#262626" stroke="none" opacity="0.66"/>
<circle cx="79.9" cy="690.7" r="1.82" fill="#262626" stroke="none" opacity="0.56"/>
<path d="M57.0,675.5 L58.5,683.1 L58.5,690.7" stroke="#333" stroke-width="2.37" opacity="0.3"/>
<path d="M57.0,675.5 L58.5,683.1 L58.5,690.7" stroke="#222" stroke-width="1.26" opacity="0.95"/>
<circle cx="58.1" cy="677.3" r="1.38" fill="#262626" stroke="none" opacity="0.68"/>
<circle cx="58.9" cy="688.8" r="0.86" fill="#262626" stroke="none" opacity="0.63"/>
<circle cx="58.7" cy="685.0" r="0.89" fill="#262626" stroke="none" opacity="0.87"/>
<path d="M42.5,672.5 L43.3,680.1" stroke="#333" stroke-width="4.14" opacity="0.3"/>
<path d="M42.5,672.5 L43.3,680.1" stroke="#333" stroke-width="2.21" opacity="0.83"/>
<circle cx="42.8" cy="677.8" r="2.59" fill="#262626" stroke="none" opacity="0.74"/>
<circle cx="42.8" cy="674.9" r="2.42" fill="#262626" stroke="none" opacity="0.89"/>
<path d="M50.1,657.3 L49.4,661.8" stroke="#333" stroke-width="1.78" opacity="0.3"/>
<path d="M50.1,657.3 L49.4,661.8" stroke="#2a2a2a" stroke-width="0.95" opacity="0.94"/>
<circle cx="48.9" cy="661.3" r="0.92" fill="#262626" stroke="none" opacity="0.86"/>
<path d="M66.1,657.3 L66.4,663.4" stroke="#333" stroke-width="1.48" opacity="0.3"/>
<path d="M66.1,657.3 L66.4,663.4" stroke="#333" stroke-width="0.79" opacity="0.93"/>
<circle cx="66.7" cy="662.0" r="0.83" fill="#262626" stroke="none" opacity="0.65"/>
<path d="M24.3,633.0 L24.3,637.5" stroke="#333" stroke-width="1.78" opacity="0.3"/>
<path d="M24.3,633.0 L24.3,637.5" stroke="#2a2a2a" stroke-width="0.95" opacity="0.92"/>
<path d="M38.7,689.2 L38.7,696.0" stroke="#333" stroke-width="2.07" opacity="0.3"/>
<path d="M38.7,689.2 L38.7,696.0" stroke="#2a2a2a" stroke-width="1.11" opacity="0.93"/>
<circle cx="38.7" cy="691.4" r="1.13" fill="#262626" stroke="none" opacity="0.77"/>
<path d="M111.6,689.2 L112.4,696.0" stroke="#333" stroke-width="2.07" opacity="0.3"/>
<path d="M111.6,689.2 L112.4,696.0" stroke="#1c1c1c" stroke-width="1.11" opacity="0.90"/>
<circle cx="111.9" cy="693.8" r="0.99" fill="#262626" stroke="none" opacity="0.82"/>
<path d="M70.6,642.1 L72.1,648.2" stroke="#333" stroke-width="1.78" opacity="0.3"/>
<path d="M70.6,642.1 L72.1,648.2" stroke="#2a2a2a" stroke-width="0.95" opacity="0.94"/>
<circle cx="71.8" cy="643.6" r="0.67" fill="#262626" stroke="none" opacity="0.82"/>
<path d="M51.6,592.8 L52.4,595.8" stroke="#333" stroke-width="1.78" opacity="0.3"/>
<path d="M51.6,592.8 L52.4,595.8" stroke="#2a2a2a" stroke-width="0.95" opacity="0.94"/>
<path d="M93.4,592.8 L94.9,595.0" stroke="#333" stroke-width="2.07" opacity="0.3"/>
<path d="M93.4,592.8 L94.9,595.0" stroke="#1c1c1c" stroke-width="1.11" opacity="0.83"/>
<circle cx="94.7" cy="593.6" r="1.18" fill="#262626" stroke="none" opacity="0.81"/>
<path d="M102.5,592.8 L102.8,595.8" stroke="#333" stroke-width="1.78" opacity="0.3"/>
<path d="M102.5,592.8 L102.8,595.8" stroke="#2a2a2a" stroke-width="0.95" opacity="0.90"/>
<path d="M119.2,592.8 L119.5,595.0" stroke="#333" stroke-width="1.48" opacity="0.3"/>
<path d="M119.2,592.8 L119.5,595.0" stroke="#2a2a2a" stroke-width="0.79" opacity="0.84"/>
<circle cx="118.6" cy="593.6" r="0.78" fill="#262626" stroke="none" opacity="0.76"/>
<path d="M88.8,617.8 L85.8,623.9" stroke="#333" stroke-width="1.48" opacity="0.3"/>
<path d="M88.8,617.8 L85.8,623.9" stroke="#333" stroke-width="0.79" opacity="0.81"/>
<circle cx="87.9" cy="620.2" r="0.79" fill="#262626" stroke="none" opacity="0.90"/>
<path d="M46.3,622.4 L51.6,614.8" stroke="#333" stroke-width="1.48" opacity="0.3"/>
<path d="M46.3,622.4 L51.6,614.8" stroke="#2a2a2a" stroke-width="0.79" opacity="0.92"/>
<circle cx="51.1" cy="615.4" r="0.65" fill="#262626" stroke="none" opacity="0.77"/>
<circle cx="49.8" cy="618.5" r="0.60" fill="#262626" stroke="none" opacity="0.79"/>
<circle cx="37.2" cy="598.8" r="1.24" fill="#1e1e1e" stroke="none" opacity="0.95"/>
<circle cx="115.4" cy="632.2" r="1.40" fill="#1e1e1e" stroke="none" opacity="0.95"/>
<circle cx="82.0" cy="653.5" r="1.56" fill="#1e1e1e" stroke="none" opacity="0.95"/>
<circle cx="85.8" cy="655.0" r="1.24" fill="#1e1e1e" stroke="none" opacity="0.95"/>
<circle cx="57.7" cy="656.5" r="1.24" fill="#1e1e1e" stroke="none" opacity="0.95"/>
<circle cx="41.8" cy="632.2" r="1.24" fill="#1e1e1e" stroke="none" opacity="0.95"/>
<circle cx="106.3" cy="679.7" r="1.56" fill="#1e1e1e" stroke="none" opacity="0.95"/>
<circle cx="52.4" cy="691.4" r="1.24" fill="#1e1e1e" stroke="none" opacity="0.95"/>
<circle cx="119.2" cy="689.2" r="1.56" fill="#1e1e1e" stroke="none" opacity="0.95"/>
<circle cx="26.6" cy="666.4" r="1.09" fill="#1e1e1e" stroke="none" opacity="0.95"/>
<circle cx="21.3" cy="622.4" r="0.93" fill="#1e1e1e" stroke="none" opacity="0.95"/>
<circle cx="38.7" cy="604.1" r="0.93" fill="#1e1e1e" stroke="none" opacity="0.95"/>
<circle cx="60.7" cy="617.8" r="0.93" fill="#1e1e1e" stroke="none" opacity="0.95"/>
<circle cx="47.1" cy="648.9" r="0.93" fill="#1e1e1e" stroke="none" opacity="0.95"/>
<circle cx="77.4" cy="686.1" r="0.93" fill="#1e1e1e" stroke="none" opacity="0.95"/>
<path d="M183.7,599.6 L183.7,611.7" stroke="#333" stroke-width="1.78" opacity="0.3"/>
<path d="M183.7,599.6 L183.7,611.7" stroke="#222" stroke-width="0.95" opacity="0.87"/>
<circle cx="183.2" cy="608.9" r="1.11" fill="#262626" stroke="none" opacity="0.59"/>
<path d="M164.7,617.8 L166.3,628.4 L167.0,640.6" stroke="#333" stroke-width="3.55" opacity="0.3"/>
<path d="M164.7,617.8 L166.3,628.4 L167.0,640.6" stroke="#222" stroke-width="1.89" opacity="0.88"/>
<circle cx="164.5" cy="621.7" r="1.64" fill="#262626" stroke="none" opacity="0.64"/>
<circle cx="165.4" cy="619.1" r="1.60" fill="#262626" stroke="none" opacity="0.53"/>
<circle cx="166.0" cy="625.9" r="1.50" fill="#262626" stroke="none" opacity="0.52"/>
<circle cx="167.2" cy="634.6" r="1.96" fill="#262626" stroke="none" opacity="0.86"/>
<circle cx="166.9" cy="630.4" r="2.08" fill="#262626" stroke="none" opacity="0.86"/>
<path d="M187.5,620.1 L188.3,631.5 L187.5,640.6 L189.0,645.9" stroke="#333" stroke-width="3.26" opacity="0.3"/>
<path d="M187.5,620.1 L188.3,631.5 L187.5,640.6 L189.0,645.9" stroke="#333" stroke-width="1.74" opacity="0.86"/>
<circle cx="187.3" cy="627.0" r="1.99" fill="#262626" stroke="none" opacity="0.90"/>
<circle cx="187.0" cy="620.3" r="1.68" fill="#262626" stroke="none" opacity="0.66"/>
<circle cx="188.6" cy="635.4" r="1.87" fill="#262626" stroke="none" opacity="0.58"/>
<circle cx="188.1" cy="642.0" r="1.43" fill="#262626" stroke="none" opacity="0.56"/>
<circle cx="187.7" cy="644.0" r="1.71" fill="#262626" stroke="none" opacity="0.81"/>
<circle cx="187.5" cy="639.8" r="1.87" fill="#1e1e1e" stroke="none" opacity="0.95"/>
<path d="M203.5,615.5 L205.7,622.4 L205.7,631.5 L205.0,641.3" stroke="#333" stroke-width="2.96" opacity="0.3"/>
<path d="M203.5,615.5 L205.7,622.4 L205.7,631.5 L205.0,641.3" stroke="#2a2a2a" stroke-width="1.58" opacity="0.82"/>
<circle cx="204.4" cy="618.5" r="1.41" fill="#262626" stroke="none" opacity="0.51"/>
<circle cx="206.4" cy="627.9" r="1.25" fill="#262626" stroke="none" opacity="0.89"/>
<circle cx="205.9" cy="625.5" r="1.83" fill="#262626" stroke="none" opacity="0.52"/>
<circle cx="204.4" cy="641.1" r="1.32" fill="#262626" stroke="none" opacity="0.76"/>
<circle cx="205.3" cy="632.8" r="1.22" fill="#262626" stroke="none" opacity="0.58"/>
<path d="M224.7,626.9 L224.7,643.6" stroke="#333" stroke-width="2.66" opacity="0.3"/>
<path d="M224.7,626.9 L224.7,643.6" stroke="#333" stroke-width="1.42" opacity="0.94"/>
<circle cx="224.3" cy="643.7" r="1.24" fill="#262626" stroke="none" opacity="0.64"/>
<circle cx="224.0" cy="633.9" r="1.61" fill="#262626" stroke="none" opacity="0.64"/>
<circle cx="224.9" cy="643.4" r="1.40" fill="#262626" stroke="none" opacity="0.52"/>
<path d="M154.1,633.0 L155.6,643.6" stroke="#333" stroke-width="2.37" opacity="0.3"/>
<path d="M154.1,633.0 L155.6,643.6" stroke="#333" stroke-width="1.26" opacity="0.84"/>
<circle cx="155.9" cy="640.5" r="1.31" fill="#262626" stroke="none" opacity="0.58"/>
<circle cx="154.8" cy="638.1" r="0.80" fill="#262626" stroke="none" opacity="0.79"/>
<path d="M161.0,643.6 L161.7,652.7" stroke="#333" stroke-width="2.66" opacity="0.3"/>
<path d="M161.0,643.6 L161.7,652.7" stroke="#2a2a2a" stroke-width="1.42" opacity="0.95"/>
<circle cx="161.1" cy="644.3" r="1.53" fill="#262626" stroke="none" opacity="0.79"/>
<path d="M134.4,631.5 L135.1,639.1 L137.4,642.9" stroke="#333" stroke-width="2.37" opacity="0.3"/>
<path d="M134.4,631.5 L135.1,639.1 L137.4,642.9" stroke="#222" stroke-width="1.26" opacity="0.81"/>
<circle cx="135.5" cy="635.0" r="1.21" fill="#262626" stroke="none" opacity="0.72"/>
<circle cx="134.8" cy="635.5" r="1.18" fill="#262626" stroke="none" opacity="0.70"/>
<circle cx="137.4" cy="643.1" r="1.31" fill="#262626" stroke="none" opacity="0.80"/>
<circle cx="142.7" cy="644.8" r="1.56" fill="#1e1e1e" stroke="none" opacity="0.95"/>
<circle cx="148.8" cy="645.4" r="1.56" fill="#1e1e1e" stroke="none" opacity="0.95"/>
<path d="M150.3,651.2 L150.3,666.4" stroke="#333" stroke-width="2.66" opacity="0.3"/>
<path d="M150.3,651.2 L150.3,666.4" stroke="#2a2a2a" stroke-width="1.42" opacity="0.83"/>
<circle cx="150.4" cy="653.9" r="1.54" fill="#262626" stroke="none" opacity="0.85"/>
<circle cx="149.9" cy="652.9" r="0.99" fill="#262626" stroke="none" opacity="0.83"/>
<circle cx="150.1" cy="663.4" r="1.09" fill="#262626" stroke="none" opacity="0.73"/>
<path d="M163.2,655.8 L163.2,677.0 L161.7,689.2 L161.0,696.0" stroke="#333" stroke-width="3.26" opacity="0.3"/>
<path d="M163.2,655.8 L163.2,677.0 L161.7,689.2 L161.0,696.0" stroke="#222" stroke-width="1.74" opacity="0.82"/>
<circle cx="162.9" cy="674.4" r="1.29" fill="#262626" stroke="none" opacity="0.64"/>
<circle cx="162.7" cy="661.3" r="1.67" fill="#262626" stroke="none" opacity="0.87"/>
<circle cx="163.8" cy="668.3" r="1.19" fill="#262626" stroke="none" opacity="0.61"/>
<circle cx="163.3" cy="664.8" r="1.97" fill="#262626" stroke="none" opacity="0.79"/>
<circle cx="162.9" cy="681.7" r="1.28" fill="#262626" stroke="none" opacity="0.62"/>
<circle cx="162.2" cy="681.0" r="1.14" fill="#262626" stroke="none" opacity="0.55"/>
<circle cx="161.9" cy="693.2" r="1.95" fill="#262626" stroke="none" opacity="0.78"/>
<path d="M198.9,651.2 L201.9,658.8 L203.5,670.9 L205.0,683.1 L206.5,688.4 L211.1,688.4" stroke="#333" stroke-width="2.96" opacity="0.3"/>
<path d="M198.9,651.2 L201.9,658.8 L203.5,670.9 L205.0,683.1 L206.5,688.4 L211.1,688.4" stroke="#333" stroke-width="1.58" opacity="0.83"/>
<circle cx="201.3" cy="658.3" r="1.13" fill="#262626" stroke="none" opacity="0.50"/>
<circle cx="199.0" cy="652.7" r="1.50" fill="#262626" stroke="none" opacity="0.81"/>
<circle cx="202.6" cy="660.1" r="1.28" fill="#262626" stroke="none" opacity="0.82"/>
<circle cx="202.8" cy="669.8" r="1.38" fill="#262626" stroke="none" opacity="0.83"/>
<circle cx="203.6" cy="677.7" r="1.35" fill="#262626" stroke="none" opacity="0.85"/>
<circle cx="204.6" cy="678.9" r="1.62" fill="#262626" stroke="none" opacity="0.71"/>
<circle cx="204.6" cy="676.3" r="1.43" fill="#262626" stroke="none" opacity="0.54"/>
<circle cx="205.5" cy="684.0" r="1.18" fill="#262626" stroke="none" opacity="0.76"/>
<circle cx="206.5" cy="687.5" r="1.31" fill="#262626" stroke="none" opacity="0.57"/>
<circle cx="208.3" cy="688.9" r="1.01" fill="#262626" stroke="none" opacity="0.79"/>
<path d="M128.3,670.2 L129.1,683.1 L129.8,696.0" stroke="#333" stroke-width="2.37" opacity="0.3"/>
<path d="M128.3,670.2 L129.1,683.1 L129.8,696.0" stroke="#333" stroke-width="1.26" opacity="0.81"/>
<circle cx="129.0" cy="680.3" r="1.00" fill="#262626" stroke="none" opacity="0.77"/>
<circle cx="129.4" cy="679.4" r="1.22" fill="#262626" stroke="none" opacity="0.87"/>
<circle cx="128.2" cy="670.7" r="1.44" fill="#262626" stroke="none" opacity="0.72"/>
<circle cx="129.0" cy="680.8" r="1.12" fill="#262626" stroke="none" opacity="0.50"/>
<circle cx="130.2" cy="689.4" r="1.29" fill="#262626" stroke="none" opacity="0.68"/>
<circle cx="128.8" cy="687.3" r="0.91" fill="#262626" stroke="none" opacity="0.52"/>
<circle cx="130.0" cy="689.2" r="1.09" fill="#262626" stroke="none" opacity="0.62"/>
<path d="M217.9,681.6 L217.9,696.0" stroke="#333" stroke-width="2.37" opacity="0.3"/>
<path d="M217.9,681.6 L217.9,696.0" stroke="#2a2a2a" stroke-width="1.26" opacity="0.90"/>
<circle cx="218.2" cy="690.5" r="0.97" fill="#262626" stroke="none" opacity="0.90"/>
<circle cx="217.3" cy="682.5" r="1.18" fill="#262626" stroke="none" opacity="0.84"/>
<path d="M214.1,626.9 L214.1,630.0" stroke="#333" stroke-width="1.48" opacity="0.3"/>
<path d="M214.1,626.9 L214.1,630.0" stroke="#2a2a2a" stroke-width="0.79" opacity="0.94"/>
<circle cx="158.7" cy="624.6" r="1.24" fill="#1e1e1e" stroke="none" opacity="0.95"/>
<circle cx="159.4" cy="632.2" r="1.40" fill="#1e1e1e" stroke="none" opacity="0.95"/>
<circle cx="178.4" cy="635.0" r="1.40" fill="#1e1e1e" stroke="none" opacity="0.95"/>
<circle cx="191.3" cy="609.5" r="1.24" fill="#1e1e1e" stroke="none" opacity="0.95"/>
<circle cx="195.1" cy="595.8" r="1.09" fill="#1e1e1e" stroke="none" opacity="0.95"/>
<circle cx="183.0" cy="669.4" r="1.87" fill="#1e1e1e" stroke="none" opacity="0.95"/>
<circle cx="212.6" cy="670.2" r="1.40" fill="#1e1e1e" stroke="none" opacity="0.95"/>
<circle cx="151.8" cy="675.5" r="1.24" fill="#1e1e1e" stroke="none" opacity="0.95"/>
<circle cx="173.1" cy="654.2" r="0.93" fill="#1e1e1e" stroke="none" opacity="0.95"/>
<circle cx="176.9" cy="654.2" r="0.93" fill="#1e1e1e" stroke="none" opacity="0.95"/>
<circle cx="141.2" cy="595.0" r="0.93" fill="#1e1e1e" stroke="none" opacity="0.95"/>
<circle cx="164.0" cy="594.3" r="0.93" fill="#1e1e1e" stroke="none" opacity="0.95"/>
<path d="M123.8,636.0 L123.8,642.1" stroke="#333" stroke-width="1.48" opacity="0.3"/>
<path d="M123.8,636.0 L123.8,642.1" stroke="#2a2a2a" stroke-width="0.79" opacity="0.94"/>
<circle cx="123.3" cy="636.1" r="0.49" fill="#262626" stroke="none" opacity="0.58"/>
<circle cx="124.0" cy="636.5" r="0.72" fill="#262626" stroke="none" opacity="0.78"/>
<path d="M135.1,617.8 L138.2,618.6" stroke="#333" stroke-width="1.48" opacity="0.3"/>
<path d="M135.1,617.8 L138.2,618.6" stroke="#333" stroke-width="0.79" opacity="0.86"/>
<circle cx="135.9" cy="617.2" r="0.87" fill="#262626" stroke="none" opacity="0.52"/>
<path d="M38.7,696.0 L38.0,709.7 L39.5,723.3" stroke="#333" stroke-width="3.55" opacity="0.3"/>
<path d="M38.7,696.0 L38.0,709.7 L39.5,723.3" stroke="#333" stroke-width="1.89" opacity="0.88"/>
<circle cx="39.4" cy="697.7" r="1.61" fill="#262626" stroke="none" opacity="0.65"/>
<circle cx="38.0" cy="705.9" r="1.37" fill="#262626" stroke="none" opacity="0.62"/>
<circle cx="38.3" cy="713.7" r="1.61" fill="#262626" stroke="none" opacity="0.72"/>
<circle cx="39.2" cy="717.0" r="1.94" fill="#262626" stroke="none" opacity="0.66"/>
<circle cx="38.6" cy="716.9" r="1.39" fill="#262626" stroke="none" opacity="0.61"/>
<path d="M57.7,696.0 L58.5,708.1" stroke="#333" stroke-width="2.07" opacity="0.3"/>
<path d="M57.7,696.0 L58.5,708.1" stroke="#1c1c1c" stroke-width="1.11" opacity="0.89"/>
<circle cx="57.6" cy="702.6" r="0.80" fill="#262626" stroke="none" opacity="0.66"/>
<path d="M80.5,696.0 L81.2,706.6" stroke="#333" stroke-width="3.55" opacity="0.3"/>
<path d="M80.5,696.0 L81.2,706.6" stroke="#333" stroke-width="1.89" opacity="0.93"/>
<circle cx="79.9" cy="697.9" r="2.03" fill="#262626" stroke="none" opacity="0.69"/>
<circle cx="80.8" cy="701.7" r="1.77" fill="#262626" stroke="none" opacity="0.50"/>
<circle cx="80.4" cy="698.5" r="1.72" fill="#262626" stroke="none" opacity="0.59"/>
<path d="M89.6,696.0 L90.4,705.1 L91.9,714.2" stroke="#333" stroke-width="3.26" opacity="0.3"/>
<path d="M89.6,696.0 L90.4,705.1 L91.9,714.2" stroke="#333" stroke-width="1.74" opacity="0.93"/>
<circle cx="90.3" cy="699.6" r="1.24" fill="#262626" stroke="none" opacity="0.72"/>
<circle cx="89.8" cy="699.4" r="1.69" fill="#262626" stroke="none" opacity="0.76"/>
<circle cx="90.3" cy="706.9" r="1.45" fill="#262626" stroke="none" opacity="0.52"/>
<path d="M111.6,696.0 L111.6,700.6" stroke="#333" stroke-width="2.37" opacity="0.3"/>
<path d="M111.6,696.0 L111.6,700.6" stroke="#1c1c1c" stroke-width="1.26" opacity="0.95"/>
<path d="M50.1,714.2 L50.1,730.9 L46.3,737.0 L43.3,743.1 L44.0,750.7 L45.6,758.2" stroke="#333" stroke-width="3.55" opacity="0.3"/>
<path d="M50.1,714.2 L50.1,730.9 L46.3,737.0 L43.3,743.1 L44.0,750.7 L45.6,758.2" stroke="#2a2a2a" stroke-width="1.89" opacity="0.88"/>
<circle cx="49.5" cy="729.6" r="1.38" fill="#262626" stroke="none" opacity="0.77"/>
<circle cx="45.7" cy="738.6" r="2.16" fill="#262626" stroke="none" opacity="0.78"/>
<circle cx="43.9" cy="747.1" r="1.38" fill="#262626" stroke="none" opacity="0.75"/>
<circle cx="43.2" cy="745.6" r="1.20" fill="#262626" stroke="none" opacity="0.83"/>
<circle cx="43.8" cy="749.7" r="1.83" fill="#262626" stroke="none" opacity="0.61"/>
<circle cx="45.2" cy="755.3" r="1.69" fill="#262626" stroke="none" opacity="0.55"/>
<circle cx="45.1" cy="755.2" r="1.94" fill="#262626" stroke="none" opacity="0.73"/>
<circle cx="44.8" cy="755.4" r="2.19" fill="#262626" stroke="none" opacity="0.69"/>
<circle cx="71.4" cy="707.4" r="1.87" fill="#1e1e1e" stroke="none" opacity="0.95"/>
<circle cx="46.3" cy="702.1" r="1.71" fill="#1e1e1e" stroke="none" opacity="0.95"/>
<path d="M81.2,717.3 L82.8,723.3 L85.0,729.4" stroke="#333" stroke-width="2.66" opacity="0.3"/>
<path d="M81.2,717.3 L82.8,723.3 L85.0,729.4" stroke="#222" stroke-width="1.42" opacity="0.89"/>
<circle cx="83.5" cy="726.4" r="1.31" fill="#262626" stroke="none" opacity="0.63"/>
<path d="M97.9,730.2 L96.4,737.0 L91.9,741.5 L91.9,748.4" stroke="#333" stroke-width="2.66" opacity="0.3"/>
<path d="M97.9,730.2 L96.4,737.0 L91.9,741.5 L91.9,748.4" stroke="#333" stroke-width="1.42" opacity="0.94"/>
<circle cx="92.4" cy="741.3" r="1.16" fill="#262626" stroke="none" opacity="0.57"/>
<circle cx="96.1" cy="738.3" r="0.93" fill="#262626" stroke="none" opacity="0.56"/>
<circle cx="91.4" cy="745.4" r="1.48" fill="#262626" stroke="none" opacity="0.86"/>
<path d="M97.9,730.2 L102.5,732.4" stroke="#333" stroke-width="2.07" opacity="0.3"/>
<path d="M97.9,730.2 L102.5,732.4" stroke="#222" stroke-width="1.11" opacity="0.81"/>
<circle cx="101.6" cy="731.8" r="0.72" fill="#262626" stroke="none" opacity="0.51"/>
<circle cx="98.6" cy="730.0" r="0.81" fill="#262626" stroke="none" opacity="0.89"/>
<path d="M107.1,724.8 L108.6,735.5" stroke="#333" stroke-width="2.07" opacity="0.3"/>
<path d="M107.1,724.8 L108.6,735.5" stroke="#333" stroke-width="1.11" opacity="0.94"/>
<circle cx="107.7" cy="734.3" r="0.77" fill="#262626" stroke="none" opacity="0.72"/>
<circle cx="108.1" cy="728.9" r="1.10" fill="#262626" stroke="none" opacity="0.58"/>
<path d="M25.1,730.9 L25.1,740.0" stroke="#333" stroke-width="2.37" opacity="0.3"/>
<path d="M25.1,730.9 L25.1,740.0" stroke="#333" stroke-width="1.26" opacity="0.88"/>
<circle cx="24.5" cy="733.2" r="1.04" fill="#262626" stroke="none" opacity="0.65"/>
<circle cx="25.5" cy="733.9" r="1.47" fill="#262626" stroke="none" opacity="0.65"/>
<circle cx="25.3" cy="732.4" r="0.81" fill="#262626" stroke="none" opacity="0.51"/>
<path d="M26.6,752.2 L27.3,762.8 L26.6,773.4" stroke="#333" stroke-width="3.26" opacity="0.3"/>
<path d="M26.6,752.2 L27.3,762.8 L26.6,773.4" stroke="#222" stroke-width="1.74" opacity="0.87"/>
<circle cx="26.4" cy="753.2" r="1.68" fill="#262626" stroke="none" opacity="0.74"/>
<circle cx="26.7" cy="761.1" r="2.05" fill="#262626" stroke="none" opacity="0.76"/>
<circle cx="26.4" cy="760.4" r="1.85" fill="#262626" stroke="none" opacity="0.76"/>
<circle cx="26.7" cy="754.2" r="1.62" fill="#262626" stroke="none" opacity="0.83"/>
<circle cx="26.5" cy="771.5" r="1.57" fill="#262626" stroke="none" opacity="0.63"/>
<circle cx="26.6" cy="772.4" r="1.91" fill="#262626" stroke="none" opacity="0.75"/>
<circle cx="27.7" cy="765.2" r="1.22" fill="#262626" stroke="none" opacity="0.64"/>
<circle cx="26.4" cy="769.0" r="1.73" fill="#262626" stroke="none" opacity="0.82"/>
<path d="M82.8,748.4 L83.5,762.8 L82.0,778.0 L79.0,787.1 L77.4,797.7" stroke="#333" stroke-width="3.55" opacity="0.3"/>
<path d="M82.8,748.4 L83.5,762.8 L82.0,778.0 L79.0,787.1 L77.4,797.7" stroke="#222" stroke-width="1.89" opacity="0.80"/>
<circle cx="83.2" cy="751.1" r="2.04" fill="#262626" stroke="none" opacity="0.67"/>
<circle cx="82.8" cy="761.7" r="1.50" fill="#262626" stroke="none" opacity="0.61"/>
<circle cx="82.6" cy="751.6" r="1.94" fill="#262626" stroke="none" opacity="0.55"/>
<circle cx="82.5" cy="748.9" r="1.37" fill="#262626" stroke="none" opacity="0.70"/>
<circle cx="81.9" cy="772.5" r="1.81" fill="#262626" stroke="none" opacity="0.85"/>
<circle cx="80.7" cy="782.9" r="2.11" fill="#262626" stroke="none" opacity="0.51"/>
<circle cx="80.2" cy="784.8" r="2.14" fill="#262626" stroke="none" opacity="0.57"/>
<circle cx="78.9" cy="791.0" r="1.66" fill="#262626" stroke="none" opacity="0.86"/>
<path d="M75.9,753.7 L76.7,765.8" stroke="#333" stroke-width="2.66" opacity="0.3"/>
<path d="M75.9,753.7 L76.7,765.8" stroke="#2a2a2a" stroke-width="1.42" opacity="0.90"/>
<circle cx="76.7" cy="754.4" r="0.94" fill="#262626" stroke="none" opacity="0.55"/>
<circle cx="75.6" cy="759.9" r="1.37" fill="#262626" stroke="none" opacity="0.78"/>
<path d="M65.3,743.1 L66.8,753.7" stroke="#333" stroke-width="2.07" opacity="0.3"/>
<path d="M65.3,743.1 L66.8,753.7" stroke="#222" stroke-width="1.11" opacity="0.93"/>
<path d="M60.0,753.7 L63.0,754.4" stroke="#333" stroke-width="1.78" opacity="0.3"/>
<path d="M60.0,753.7 L63.0,754.4" stroke="#1c1c1c" stroke-width="0.95" opacity="0.91"/>
<circle cx="61.7" cy="754.8" r="1.06" fill="#262626" stroke="none" opacity="0.55"/>
<path d="M56.2,775.7 L57.0,787.1 L58.5,796.2" stroke="#333" stroke-width="2.66" opacity="0.3"/>
<path d="M56.2,775.7 L57.0,787.1 L58.5,796.2" stroke="#333" stroke-width="1.42" opacity="0.89"/>
<circle cx="56.4" cy="780.3" r="1.61" fill="#262626" stroke="none" opacity="0.67"/>
<circle cx="57.0" cy="783.8" r="1.28" fill="#262626" stroke="none" opacity="0.73"/>
<circle cx="56.5" cy="781.9" r="0.90" fill="#262626" stroke="none" opacity="0.80"/>
<circle cx="58.3" cy="794.2" r="1.11" fill="#262626" stroke="none" opacity="0.75"/>
<circle cx="58.7" cy="793.7" r="1.68" fill="#262626" stroke="none" opacity="0.76"/>
<circle cx="57.5" cy="790.7" r="1.00" fill="#262626" stroke="none" opacity="0.69"/>
<path d="M31.1,780.3 L31.9,790.1 L32.7,797.7" stroke="#333" stroke-width="2.96" opacity="0.3"/>
<path d="M31.1,780.3 L31.9,790.1 L32.7,797.7" stroke="#1c1c1c" stroke-width="1.58" opacity="0.84"/>
<circle cx="30.6" cy="781.1" r="1.55" fill="#262626" stroke="none" opacity="0.67"/>
<circle cx="32.1" cy="789.1" r="1.87" fill="#262626" stroke="none" opacity="0.59"/>
<circle cx="32.9" cy="791.4" r="1.02" fill="#262626" stroke="none" opacity="0.72"/>
<circle cx="32.6" cy="792.2" r="1.07" fill="#262626" stroke="none" opacity="0.63"/>
<path d="M121.5,744.6 L122.2,756.7" stroke="#333" stroke-width="2.37" opacity="0.3"/>
<path d="M121.5,744.6 L122.2,756.7" stroke="#2a2a2a" stroke-width="1.26" opacity="0.88"/>
<circle cx="121.2" cy="751.0" r="1.11" fill="#262626" stroke="none" opacity="0.84"/>
<circle cx="121.7" cy="748.2" r="1.20" fill="#262626" stroke="none" opacity="0.83"/>
<circle cx="122.7" cy="751.2" r="1.41" fill="#262626" stroke="none" opacity="0.59"/>
<path d="M99.5,785.6 L100.2,790.1" stroke="#333" stroke-width="3.55" opacity="0.3"/>
<path d="M99.5,785.6 L100.2,790.1" stroke="#2a2a2a" stroke-width="1.89" opacity="0.89"/>
<circle cx="99.9" cy="786.8" r="1.93" fill="#262626" stroke="none" opacity="0.64"/>
<path d="M60.7,765.8 L61.5,773.4" stroke="#333" stroke-width="1.78" opacity="0.3"/>
<path d="M60.7,765.8 L61.5,773.4" stroke="#2a2a2a" stroke-width="0.95" opacity="0.91"/>
<circle cx="61.9" cy="772.6" r="0.82" fill="#262626" stroke="none" opacity="0.64"/>
<circle cx="61.4" cy="768.7" r="1.03" fill="#262626" stroke="none" opacity="0.59"/>
<circle cx="57.7" cy="744.6" r="1.24" fill="#1e1e1e" stroke="none" opacity="0.95"/>
<circle cx="114.6" cy="768.6" r="1.40" fill="#1e1e1e" stroke="none" opacity="0.95"/>
<circle cx="32.7" cy="728.6" r="1.09" fill="#1e1e1e" stroke="none" opacity="0.95"/>
<circle cx="90.4" cy="779.5" r="1.24" fill="#1e1e1e" stroke="none" opacity="0.95"/>
<circle cx="21.3" cy="714.2" r="1.24" fill="#1e1e1e" stroke="none" opacity="0.95"/>
<circle cx="45.6" cy="792.4" r="1.09" fill="#1e1e1e" stroke="none" opacity="0.95"/>
<circle cx="73.7" cy="725.6" r="1.09" fill="#1e1e1e" stroke="none" opacity="0.95"/>
<circle cx="69.1" cy="718.8" r="0.93" fill="#1e1e1e" stroke="none" opacity="0.95"/>
<circle cx="21.3" cy="785.6" r="0.93" fill="#1e1e1e" stroke="none" opacity="0.95"/>
<circle cx="110.1" cy="718.8" r="0.93" fill="#1e1e1e" stroke="none" opacity="0.95"/>
<path d="M130.6,696.0 L131.3,711.2 L130.6,718.8" stroke="#333" stroke-width="3.26" opacity="0.3"/>
<path d="M130.6,696.0 L131.3,711.2 L130.6,718.8" stroke="#1c1c1c" stroke-width="1.74" opacity="0.94"/>
<circle cx="130.9" cy="698.8" r="1.36" fill="#262626" stroke="none" opacity="0.76"/>
<circle cx="131.8" cy="704.8" r="1.80" fill="#262626" stroke="none" opacity="0.90"/>
<circle cx="131.9" cy="705.3" r="1.09" fill="#262626" stroke="none" opacity="0.56"/>
<circle cx="130.7" cy="718.2" r="1.18" fill="#262626" stroke="none" opacity="0.55"/>
<circle cx="130.4" cy="716.8" r="1.70" fill="#262626" stroke="none" opacity="0.55"/>
<path d="M161.0,696.0 L161.0,702.1" stroke="#333" stroke-width="2.37" opacity="0.3"/>
<path d="M161.0,696.0 L161.0,702.1" stroke="#1c1c1c" stroke-width="1.26" opacity="0.93"/>
<circle cx="161.3" cy="700.6" r="1.31" fill="#262626" stroke="none" opacity="0.59"/>
<circle cx="161.6" cy="702.1" r="1.00" fill="#262626" stroke="none" opacity="0.51"/>
<path d="M188.3,696.0 L189.0,703.6" stroke="#333" stroke-width="2.66" opacity="0.3"/>
<path d="M188.3,696.0 L189.0,703.6" stroke="#333" stroke-width="1.42" opacity="0.88"/>
<circle cx="188.3" cy="703.0" r="0.93" fill="#262626" stroke="none" opacity="0.89"/>
<circle cx="188.4" cy="701.9" r="1.00" fill="#262626" stroke="none" opacity="0.57"/>
<circle cx="187.9" cy="697.9" r="1.41" fill="#262626" stroke="none" opacity="0.61"/>
<path d="M198.1,703.6 L198.9,714.2" stroke="#333" stroke-width="2.96" opacity="0.3"/>
<path d="M198.1,703.6 L198.9,714.2" stroke="#2a2a2a" stroke-width="1.58" opacity="0.90"/>
<circle cx="198.8" cy="703.6" r="1.44" fill="#262626" stroke="none" opacity="0.53"/>
<circle cx="198.1" cy="706.5" r="1.26" fill="#262626" stroke="none" opacity="0.81"/>
<path d="M217.1,696.0 L217.1,711.2" stroke="#333" stroke-width="2.66" opacity="0.3"/>
<path d="M217.1,696.0 L217.1,711.2" stroke="#333" stroke-width="1.42" opacity="0.84"/>
<circle cx="216.6" cy="699.1" r="0.99" fill="#262626" stroke="none" opacity="0.58"/>
<circle cx="217.8" cy="710.6" r="1.28" fill="#262626" stroke="none" opacity="0.73"/>
<circle cx="216.8" cy="699.1" r="1.59" fill="#262626" stroke="none" opacity="0.64"/>
<circle cx="217.0" cy="707.4" r="1.03" fill="#262626" stroke="none" opacity="0.78"/>
<path d="M154.9,711.2 L156.4,723.3 L158.7,735.5" stroke="#333" stroke-width="3.26" opacity="0.3"/>
<path d="M154.9,711.2 L156.4,723.3 L158.7,735.5" stroke="#333" stroke-width="1.74" opacity="0.94"/>
<circle cx="154.9" cy="711.0" r="1.58" fill="#262626" stroke="none" opacity="0.61"/>
<circle cx="158.2" cy="730.0" r="1.33" fill="#262626" stroke="none" opacity="0.73"/>
<path d="M159.4,723.3 L161.0,732.4" stroke="#333" stroke-width="2.07" opacity="0.3"/>
<path d="M159.4,723.3 L161.0,732.4" stroke="#1c1c1c" stroke-width="1.11" opacity="0.90"/>
<circle cx="159.6" cy="726.5" r="1.27" fill="#262626" stroke="none" opacity="0.84"/>
<circle cx="159.5" cy="725.8" r="0.72" fill="#262626" stroke="none" opacity="0.57"/>
<path d="M175.4,712.7 L176.9,723.3 L175.4,735.5" stroke="#333" stroke-width="2.66" opacity="0.3"/>
<path d="M175.4,712.7 L176.9,723.3 L175.4,735.5" stroke="#2a2a2a" stroke-width="1.42" opacity="0.81"/>
<circle cx="177.2" cy="720.8" r="1.18" fill="#262626" stroke="none" opacity="0.54"/>
<circle cx="175.1" cy="712.5" r="1.31" fill="#262626" stroke="none" opacity="0.75"/>
<circle cx="176.7" cy="720.0" r="1.11" fill="#262626" stroke="none" opacity="0.56"/>
<circle cx="175.4" cy="732.8" r="1.66" fill="#262626" stroke="none" opacity="0.60"/>
<path d="M189.8,711.2 L190.6,723.3" stroke="#333" stroke-width="2.37" opacity="0.3"/>
<path d="M189.8,711.2 L190.6,723.3" stroke="#2a2a2a" stroke-width="1.26" opacity="0.85"/>
<circle cx="190.0" cy="712.6" r="1.28" fill="#262626" stroke="none" opacity="0.72"/>
<circle cx="191.0" cy="720.9" r="1.39" fill="#262626" stroke="none" opacity="0.51"/>
<circle cx="190.8" cy="720.6" r="1.23" fill="#262626" stroke="none" opacity="0.61"/>
<path d="M142.0,719.5 L143.5,730.9" stroke="#333" stroke-width="2.66" opacity="0.3"/>
<path d="M142.0,719.5 L143.5,730.9" stroke="#2a2a2a" stroke-width="1.42" opacity="0.82"/>
<circle cx="142.8" cy="723.6" r="0.98" fill="#262626" stroke="none" opacity="0.57"/>
<circle cx="142.7" cy="725.6" r="1.25" fill="#262626" stroke="none" opacity="0.62"/>
<circle cx="142.5" cy="720.0" r="1.04" fill="#262626" stroke="none" opacity="0.88"/>
<path d="M143.5,722.6 L148.0,722.6" stroke="#333" stroke-width="2.07" opacity="0.3"/>
<path d="M143.5,722.6 L148.0,722.6" stroke="#333" stroke-width="1.11" opacity="0.94"/>
<path d="M136.7,743.1 L138.9,756.7 L140.5,768.9" stroke="#333" stroke-width="2.96" opacity="0.3"/>
<path d="M136.7,743.1 L138.9,756.7 L140.5,768.9" stroke="#1c1c1c" stroke-width="1.58" opacity="0.90"/>
<circle cx="137.4" cy="750.5" r="0.99" fill="#262626" stroke="none" opacity="0.73"/>
<circle cx="138.2" cy="753.9" r="1.39" fill="#262626" stroke="none" opacity="0.74"/>
<circle cx="139.3" cy="762.9" r="1.30" fill="#262626" stroke="none" opacity="0.60"/>
<circle cx="139.8" cy="760.1" r="1.32" fill="#262626" stroke="none" opacity="0.68"/>
<circle cx="139.0" cy="760.6" r="1.00" fill="#262626" stroke="none" opacity="0.73"/>
<path d="M201.2,746.1 L201.9,756.7" stroke="#333" stroke-width="2.66" opacity="0.3"/>
<path d="M201.2,746.1 L201.9,756.7" stroke="#333" stroke-width="1.42" opacity="0.82"/>
<circle cx="201.2" cy="749.0" r="1.45" fill="#262626" stroke="none" opacity="0.57"/>
<circle cx="200.7" cy="747.4" r="1.14" fill="#262626" stroke="none" opacity="0.79"/>
<circle cx="201.6" cy="753.2" r="1.57" fill="#262626" stroke="none" opacity="0.77"/>
<path d="M209.5,741.5 L209.8,762.8" stroke="#333" stroke-width="2.07" opacity="0.3"/>
<path d="M209.5,741.5 L209.8,762.8" stroke="#222" stroke-width="1.11" opacity="0.89"/>
<circle cx="210.5" cy="757.0" r="1.29" fill="#262626" stroke="none" opacity="0.55"/>
<circle cx="209.5" cy="742.1" r="1.00" fill="#262626" stroke="none" opacity="0.64"/>
<circle cx="210.0" cy="751.2" r="0.97" fill="#262626" stroke="none" opacity="0.56"/>
<circle cx="210.4" cy="753.4" r="0.90" fill="#262626" stroke="none" opacity="0.74"/>
<path d="M222.4,737.0 L222.4,749.1 L224.0,762.8 L223.2,778.0" stroke="#333" stroke-width="2.66" opacity="0.3"/>
<path d="M222.4,737.0 L222.4,749.1 L224.0,762.8 L223.2,778.0" stroke="#222" stroke-width="1.42" opacity="0.88"/>
<circle cx="222.8" cy="744.3" r="0.99" fill="#262626" stroke="none" opacity="0.80"/>
<circle cx="223.1" cy="756.0" r="1.39" fill="#262626" stroke="none" opacity="0.60"/>
<circle cx="223.9" cy="760.5" r="1.33" fill="#262626" stroke="none" opacity="0.65"/>
<circle cx="223.0" cy="769.6" r="1.08" fill="#262626" stroke="none" opacity="0.66"/>
<path d="M167.0,752.9 L166.3,773.4" stroke="#333" stroke-width="2.07" opacity="0.3"/>
<path d="M167.0,752.9 L166.3,773.4" stroke="#1c1c1c" stroke-width="1.11" opacity="0.92"/>
<circle cx="167.2" cy="753.9" r="1.03" fill="#262626" stroke="none" opacity="0.57"/>
<circle cx="166.7" cy="756.9" r="1.25" fill="#262626" stroke="none" opacity="0.59"/>
<circle cx="166.8" cy="766.0" r="0.72" fill="#262626" stroke="none" opacity="0.53"/>
<circle cx="166.2" cy="754.0" r="0.99" fill="#262626" stroke="none" opacity="0.69"/>
<path d="M192.1,752.9 L191.3,767.4 L190.6,776.5" stroke="#333" stroke-width="2.37" opacity="0.3"/>
<path d="M192.1,752.9 L191.3,767.4 L190.6,776.5" stroke="#2a2a2a" stroke-width="1.26" opacity="0.83"/>
<circle cx="192.3" cy="757.8" r="1.27" fill="#262626" stroke="none" opacity="0.79"/>
<circle cx="192.6" cy="754.5" r="1.36" fill="#262626" stroke="none" opacity="0.56"/>
<circle cx="192.2" cy="756.1" r="1.16" fill="#262626" stroke="none" opacity="0.70"/>
<circle cx="191.0" cy="775.0" r="1.48" fill="#262626" stroke="none" opacity="0.68"/>
<path d="M142.7,777.2 L144.3,787.1 L145.0,794.7" stroke="#333" stroke-width="2.96" opacity="0.3"/>
<path d="M142.7,777.2 L144.3,787.1 L145.0,794.7" stroke="#1c1c1c" stroke-width="1.58" opacity="0.80"/>
<circle cx="145.2" cy="791.7" r="1.73" fill="#262626" stroke="none" opacity="0.82"/>
<path d="M208.8,774.9 L210.3,787.1 L209.5,796.2" stroke="#333" stroke-width="2.96" opacity="0.3"/>
<path d="M208.8,774.9 L210.3,787.1 L209.5,796.2" stroke="#222" stroke-width="1.58" opacity="0.89"/>
<circle cx="210.1" cy="782.8" r="1.64" fill="#262626" stroke="none" opacity="0.80"/>
<circle cx="210.5" cy="792.5" r="1.83" fill="#262626" stroke="none" opacity="0.67"/>
<path d="M125.3,784.1 L125.3,796.2" stroke="#333" stroke-width="2.37" opacity="0.3"/>
<path d="M125.3,784.1 L125.3,796.2" stroke="#1c1c1c" stroke-width="1.26" opacity="0.83"/>
<circle cx="126.0" cy="791.3" r="1.26" fill="#262626" stroke="none" opacity="0.67"/>
<path d="M159.4,787.1 L158.7,793.2" stroke="#333" stroke-width="2.37" opacity="0.3"/>
<path d="M159.4,787.1 L158.7,793.2" stroke="#333" stroke-width="1.26" opacity="0.81"/>
<circle cx="160.2" cy="749.9" r="1.87" fill="#1e1e1e" stroke="none" opacity="0.95"/>
<circle cx="125.3" cy="765.1" r="1.71" fill="#1e1e1e" stroke="none" opacity="0.95"/>
<circle cx="125.3" cy="721.0" r="1.40" fill="#1e1e1e" stroke="none" opacity="0.95"/>
<circle cx="202.7" cy="730.2" r="1.24" fill="#1e1e1e" stroke="none" opacity="0.95"/>
<circle cx="218.6" cy="744.6" r="1.09" fill="#1e1e1e" stroke="none" opacity="0.95"/>
<circle cx="220.2" cy="784.1" r="1.87" fill="#1e1e1e" stroke="none" opacity="0.95"/>
<circle cx="196.6" cy="787.8" r="2.18" fill="#1e1e1e" stroke="none" opacity="0.95"/>
<circle cx="169.3" cy="726.4" r="1.09" fill="#1e1e1e" stroke="none" opacity="0.95"/>
<circle cx="178.4" cy="771.1" r="1.56" fill="#1e1e1e" stroke="none" opacity="0.95"/>
<circle cx="189.8" cy="790.1" r="1.24" fill="#1e1e1e" stroke="none" opacity="0.95"/>
<circle cx="222.4" cy="723.3" r="1.09" fill="#1e1e1e" stroke="none" opacity="0.95"/>
</g></g>
<rect x="244.80" y="592.60" width="207.20" height="206.40" fill="#b0b0b0" />
<rect x="244.80" y="592.60" width="207.20" height="206.40" fill="#b0b0b0" filter="url(#grain1)"/>
<rect x="244.80" y="592.60" width="207.20" height="206.40" fill="url(#gr2)" />
<g clip-path="url(#clip1)"><g filter="url(#blur1)" stroke-linecap="round" stroke-linejoin="round" fill="none">
<path d="M363.1,633.4 L367.3,632.2" stroke="#444" stroke-width="1.1" opacity="0.63"/>
<path d="M288.5,638.8 L290.0,638.0" stroke="#444" stroke-width="0.9" opacity="0.79"/>
<path d="M259.0,632.7 L259.8,632.3" stroke="#444" stroke-width="1.0" opacity="0.54"/>
<path d="M311.7,725.0 L313.0,723.3" stroke="#444" stroke-width="1.1" opacity="0.45"/>
<path d="M266.4,763.3 L269.2,761.7" stroke="#444" stroke-width="1.5" opacity="0.50"/>
<path d="M322.5,680.4 L324.3,679.4" stroke="#444" stroke-width="0.7" opacity="0.53"/>
<path d="M355.4,664.1 L355.9,663.8" stroke="#444" stroke-width="0.7" opacity="0.58"/>
<path d="M276.3,600.3 L276.9,599.2" stroke="#444" stroke-width="0.8" opacity="0.64"/>
<path d="M394.5,668.5 L396.9,666.5" stroke="#444" stroke-width="1.1" opacity="0.74"/>
<path d="M307.9,773.0 L310.7,771.4" stroke="#444" stroke-width="0.7" opacity="0.34"/>
<path d="M249.4,664.7 L253.5,663.3" stroke="#444" stroke-width="1.5" opacity="0.36"/>
<path d="M389.3,753.2 L392.7,751.7" stroke="#444" stroke-width="0.8" opacity="0.39"/>
<path d="M407.5,746.3 L410.6,743.6" stroke="#444" stroke-width="1.5" opacity="0.37"/>
<path d="M442.6,776.0 L443.6,774.4" stroke="#444" stroke-width="1.2" opacity="0.64"/>
<path d="M316.6,604.8 L318.1,604.2" stroke="#444" stroke-width="0.8" opacity="0.77"/>
<path d="M296.1,634.9 L297.1,634.7" stroke="#444" stroke-width="1.5" opacity="0.46"/>
<path d="M263.7,729.2 L265.6,725.6" stroke="#444" stroke-width="1.3" opacity="0.73"/>
<path d="M338.7,711.6 L341.0,708.7" stroke="#444" stroke-width="0.9" opacity="0.63"/>
<path d="M358.4,703.4 L360.1,702.8" stroke="#444" stroke-width="1.0" opacity="0.64"/>
<path d="M429.8,675.6 L430.3,675.0" stroke="#444" stroke-width="0.8" opacity="0.37"/>
<path d="M269.0,663.9 L270.5,662.6" stroke="#444" stroke-width="1.3" opacity="0.64"/>
<path d="M385.9,668.7 L388.5,666.9" stroke="#444" stroke-width="0.8" opacity="0.57"/>
<path d="M309.7,733.4 L311.8,730.8" stroke="#444" stroke-width="1.1" opacity="0.53"/>
<path d="M306.0,601.0 L306.7,600.9" stroke="#444" stroke-width="1.4" opacity="0.52"/>
<path d="M381.3,648.6 L384.5,647.7" stroke="#444" stroke-width="1.4" opacity="0.53"/>
<path d="M448.3,783.2 L448.9,782.7" stroke="#444" stroke-width="1.1" opacity="0.44"/>
<path d="M370.9,622.8 L374.2,621.6" stroke="#444" stroke-width="0.8" opacity="0.65"/>
<path d="M298.3,724.7 L301.5,723.9" stroke="#444" stroke-width="1.4" opacity="0.47"/>
<path d="M394.8,624.0 L397.3,621.8" stroke="#444" stroke-width="0.9" opacity="0.42"/>
<path d="M289.4,757.3 L290.0,756.6" stroke="#444" stroke-width="0.9" opacity="0.38"/>
<path d="M394.6,714.3 L397.6,713.3" stroke="#444" stroke-width="1.1" opacity="0.32"/>
<path d="M282.4,699.7 L285.6,698.7" stroke="#444" stroke-width="1.2" opacity="0.41"/>
<path d="M366.7,785.8 L368.5,785.3" stroke="#444" stroke-width="1.5" opacity="0.59"/>
<path d="M344.2,619.6 L344.7,618.8" stroke="#444" stroke-width="1.3" opacity="0.66"/>
<path d="M449.0,718.5 L452.3,715.4" stroke="#444" stroke-width="0.8" opacity="0.33"/>
<path d="M303.0,703.8 L306.0,700.5" stroke="#444" stroke-width="0.9" opacity="0.66"/>
<path d="M324.8,708.0 L325.8,707.7" stroke="#444" stroke-width="1.5" opacity="0.68"/>
<path d="M438.5,661.5 L438.9,661.0" stroke="#444" stroke-width="1.5" opacity="0.53"/>
<path d="M285.9,624.2 L286.8,623.4" stroke="#444" stroke-width="1.5" opacity="0.74"/>
<path d="M401.2,748.9 L402.4,748.4" stroke="#444" stroke-width="0.9" opacity="0.56"/>
<path d="M251.3,777.1 L252.2,776.5" stroke="#444" stroke-width="1.3" opacity="0.62"/>
<path d="M384.4,669.3 L387.9,668.3" stroke="#444" stroke-width="1.3" opacity="0.79"/>
<path d="M420.1,605.4 L421.7,602.7" stroke="#444" stroke-width="1.3" opacity="0.49"/>
<path d="M420.8,603.7 L422.9,600.0" stroke="#444" stroke-width="0.8" opacity="0.30"/>
<path d="M269.0,796.7 L272.6,795.6" stroke="#444" stroke-width="0.9" opacity="0.64"/>
<path d="M408.8,742.8 L410.3,742.4" stroke="#444" stroke-width="1.4" opacity="0.64"/>
<path d="M302.4,675.7 L305.2,673.5" stroke="#444" stroke-width="1.1" opacity="0.76"/>
<path d="M331.6,770.1 L332.2,769.7" stroke="#444" stroke-width="1.3" opacity="0.31"/>
<path d="M387.8,652.4 L390.4,650.8" stroke="#444" stroke-width="0.8" opacity="0.77"/>
<path d="M294.5,621.7 L295.6,619.8" stroke="#444" stroke-width="0.8" opacity="0.68"/>
<path d="M263.5,705.6 L266.6,703.0" stroke="#444" stroke-width="1.4" opacity="0.72"/>
<path d="M277.2,609.0 L280.6,607.8" stroke="#444" stroke-width="1.5" opacity="0.66"/>
<path d="M348.9,791.0 L352.0,789.6" stroke="#444" stroke-width="1.5" opacity="0.33"/>
<path d="M398.2,713.4 L398.6,713.0" stroke="#444" stroke-width="1.3" opacity="0.56"/>
<path d="M360.0,652.3 L362.6,651.4" stroke="#444" stroke-width="1.6" opacity="0.58"/>
<path d="M395.9,610.9 L396.8,610.3" stroke="#444" stroke-width="1.4" opacity="0.36"/>
<path d="M274.9,696.5 L275.8,695.1" stroke="#444" stroke-width="0.8" opacity="0.51"/>
<path d="M408.1,629.6 L410.0,626.4" stroke="#444" stroke-width="0.9" opacity="0.63"/>
<path d="M245.9,659.5 L246.6,658.6" stroke="#444" stroke-width="1.5" opacity="0.38"/>
<path d="M393.3,780.7 L394.7,780.2" stroke="#444" stroke-width="1.0" opacity="0.69"/>
<path d="M363.4,665.9 L366.9,664.0" stroke="#444" stroke-width="1.0" opacity="0.59"/>
<path d="M303.7,652.1 L307.9,651.1" stroke="#444" stroke-width="0.8" opacity="0.76"/>
<path d="M392.4,595.2 L393.1,594.6" stroke="#444" stroke-width="1.5" opacity="0.74"/>
<path d="M295.5,686.2 L298.1,682.9" stroke="#444" stroke-width="0.8" opacity="0.51"/>
<path d="M384.9,774.5 L386.8,771.0" stroke="#444" stroke-width="0.9" opacity="0.36"/>
<path d="M366.5,677.5 L370.0,675.2" stroke="#444" stroke-width="1.3" opacity="0.64"/>
<path d="M285.4,778.0 L289.1,776.6" stroke="#444" stroke-width="1.4" opacity="0.39"/>
<path d="M254.8,669.3 L256.8,666.6" stroke="#444" stroke-width="1.5" opacity="0.73"/>
<path d="M388.6,692.7 L389.7,692.3" stroke="#444" stroke-width="0.9" opacity="0.55"/>
<path d="M401.3,724.0 L402.6,723.5" stroke="#444" stroke-width="1.0" opacity="0.51"/>
<path d="M335.4,737.5 L335.9,737.2" stroke="#444" stroke-width="1.1" opacity="0.70"/>
<path d="M319.5,712.4 L321.7,708.6" stroke="#444" stroke-width="1.4" opacity="0.53"/>
<path d="M306.3,649.5 L307.6,649.0" stroke="#444" stroke-width="0.9" opacity="0.78"/>
<path d="M350.3,652.5 L353.3,650.4" stroke="#444" stroke-width="1.5" opacity="0.37"/>
<path d="M387.7,598.8 L388.6,597.9" stroke="#444" stroke-width="1.0" opacity="0.44"/>
<path d="M361.9,747.4 L363.6,746.1" stroke="#444" stroke-width="1.4" opacity="0.41"/>
<path d="M450.6,597.8 L452.5,597.1" stroke="#444" stroke-width="0.9" opacity="0.47"/>
<path d="M279.2,795.4 L281.2,792.0" stroke="#444" stroke-width="1.2" opacity="0.38"/>
<path d="M247.2,639.2 L249.9,637.2" stroke="#444" stroke-width="1.0" opacity="0.59"/>
<path d="M261.5,663.4 L262.3,663.1" stroke="#444" stroke-width="1.0" opacity="0.66"/>
<path d="M313.4,679.4 L315.2,677.3" stroke="#444" stroke-width="1.2" opacity="0.69"/>
<path d="M259.9,633.8 L260.4,633.4" stroke="#444" stroke-width="0.8" opacity="0.56"/>
<path d="M277.4,701.5 L278.9,700.8" stroke="#444" stroke-width="1.4" opacity="0.78"/>
<path d="M339.4,777.6 L342.2,774.8" stroke="#444" stroke-width="1.6" opacity="0.78"/>
<path d="M276.0,748.6 L278.8,746.9" stroke="#444" stroke-width="1.3" opacity="0.44"/>
<path d="M417.1,741.8 L418.2,741.4" stroke="#444" stroke-width="1.4" opacity="0.33"/>
<path d="M250.1,628.3 L252.9,626.8" stroke="#444" stroke-width="1.5" opacity="0.74"/>
<path d="M286.8,633.0 L287.5,632.4" stroke="#444" stroke-width="1.1" opacity="0.49"/>
<path d="M413.2,719.8 L416.7,718.5" stroke="#444" stroke-width="1.4" opacity="0.56"/>
<path d="M328.6,703.8 L330.6,702.7" stroke="#444" stroke-width="1.5" opacity="0.64"/>
<path d="M296.9,710.0 L298.1,708.1" stroke="#444" stroke-width="0.8" opacity="0.53"/>
<path d="M439.4,737.8 L440.1,737.6" stroke="#444" stroke-width="1.4" opacity="0.60"/>
<path d="M245.4,657.2 L246.8,656.1" stroke="#444" stroke-width="0.8" opacity="0.61"/>
<path d="M370.5,725.5 L372.6,724.1" stroke="#444" stroke-width="0.8" opacity="0.71"/>
<path d="M423.6,769.7 L425.8,766.9" stroke="#444" stroke-width="1.0" opacity="0.33"/>
<path d="M405.8,771.2 L409.3,768.9" stroke="#444" stroke-width="1.4" opacity="0.72"/>
<path d="M267.9,607.2 L271.8,606.2" stroke="#444" stroke-width="1.3" opacity="0.61"/>
<path d="M326.4,770.5 L327.3,769.1" stroke="#444" stroke-width="1.4" opacity="0.33"/>
<path d="M392.8,727.1 L393.5,726.5" stroke="#444" stroke-width="0.9" opacity="0.70"/>
<path d="M405.4,660.9 L406.2,660.1" stroke="#444" stroke-width="1.1" opacity="0.60"/>
<path d="M440.7,659.1 L441.7,658.6" stroke="#444" stroke-width="1.1" opacity="0.67"/>
<path d="M380.9,707.0 L383.1,704.0" stroke="#444" stroke-width="1.4" opacity="0.39"/>
<path d="M343.4,708.4 L344.9,706.2" stroke="#444" stroke-width="1.1" opacity="0.44"/>
<path d="M301.5,680.4 L302.8,678.7" stroke="#444" stroke-width="1.3" opacity="0.77"/>
<path d="M440.7,630.3 L441.7,629.3" stroke="#444" stroke-width="1.2" opacity="0.65"/>
<path d="M364.7,694.9 L369.1,693.8" stroke="#444" stroke-width="1.4" opacity="0.43"/>
<path d="M401.9,601.0 L405.7,599.0" stroke="#444" stroke-width="1.5" opacity="0.51"/>
<path d="M390.9,646.0 L393.4,642.6" stroke="#444" stroke-width="0.7" opacity="0.44"/>
<path d="M380.9,704.4 L384.1,702.6" stroke="#444" stroke-width="1.4" opacity="0.77"/>
<path d="M258.1,615.1 L259.0,613.8" stroke="#444" stroke-width="1.2" opacity="0.66"/>
<path d="M282.1,695.7 L282.8,694.4" stroke="#444" stroke-width="0.9" opacity="0.43"/>
<path d="M387.0,792.8 L387.6,792.3" stroke="#444" stroke-width="1.1" opacity="0.61"/>
<path d="M274.9,790.4 L276.2,789.5" stroke="#444" stroke-width="1.1" opacity="0.58"/>
<path d="M426.3,720.3 L428.1,719.9" stroke="#444" stroke-width="0.9" opacity="0.78"/>
<path d="M382.3,643.8 L386.5,642.3" stroke="#444" stroke-width="1.2" opacity="0.70"/>
<path d="M263.1,649.7 L265.4,649.0" stroke="#444" stroke-width="1.0" opacity="0.80"/>
<path d="M363.9,742.3 L366.0,739.3" stroke="#444" stroke-width="1.5" opacity="0.60"/>
<path d="M268.6,624.8 L271.6,622.7" stroke="#444" stroke-width="1.5" opacity="0.73"/>
<path d="M356.9,679.5 L360.3,678.6" stroke="#444" stroke-width="1.0" opacity="0.56"/>
<path d="M269.1,602.0 L269.6,601.5" stroke="#444" stroke-width="1.3" opacity="0.73"/>
<path d="M399.5,791.8 L400.9,791.3" stroke="#444" stroke-width="1.0" opacity="0.49"/>
<path d="M356.8,799.3 L358.0,797.3" stroke="#444" stroke-width="1.0" opacity="0.58"/>
<path d="M385.9,625.0 L386.8,623.6" stroke="#444" stroke-width="1.2" opacity="0.50"/>
<path d="M309.4,698.5 L312.4,696.6" stroke="#444" stroke-width="1.4" opacity="0.50"/>
<path d="M436.5,617.0 L436.9,616.4" stroke="#444" stroke-width="1.1" opacity="0.46"/>
<path d="M285.0,595.7 L286.9,592.5" stroke="#444" stroke-width="1.3" opacity="0.78"/>
<path d="M295.5,715.5 L298.6,712.8" stroke="#444" stroke-width="1.5" opacity="0.32"/>
<path d="M362.2,753.6 L364.5,752.7" stroke="#444" stroke-width="1.6" opacity="0.72"/>
<path d="M342.3,736.3 L345.7,734.2" stroke="#444" stroke-width="0.7" opacity="0.40"/>
<path d="M370.8,616.6 L371.9,616.3" stroke="#444" stroke-width="1.2" opacity="0.79"/>
<path d="M417.7,755.0 L419.0,753.3" stroke="#444" stroke-width="0.8" opacity="0.41"/>
<path d="M347.4,718.6 L348.2,717.9" stroke="#444" stroke-width="1.0" opacity="0.74"/>
<path d="M305.2,765.9 L308.1,765.1" stroke="#444" stroke-width="1.0" opacity="0.44"/>
<path d="M344.3,646.8 L347.1,646.0" stroke="#444" stroke-width="1.2" opacity="0.40"/>
<path d="M255.2,723.6 L256.3,721.6" stroke="#444" stroke-width="1.0" opacity="0.70"/>
<path d="M372.5,662.3 L376.7,661.2" stroke="#444" stroke-width="0.7" opacity="0.41"/>
<path d="M370.6,663.0 L371.8,662.5" stroke="#444" stroke-width="1.5" opacity="0.55"/>
<path d="M443.4,712.3 L445.8,710.5" stroke="#444" stroke-width="1.4" opacity="0.75"/>
<path d="M346.9,691.8 L350.4,690.5" stroke="#444" stroke-width="1.3" opacity="0.38"/>
<path d="M271.3,668.0 L271.8,667.5" stroke="#444" stroke-width="1.0" opacity="0.36"/>
<path d="M273.4,725.8 L275.9,722.6" stroke="#444" stroke-width="1.4" opacity="0.51"/>
<path d="M246.6,785.4 L247.4,784.8" stroke="#444" stroke-width="0.7" opacity="0.44"/>
<path d="M316.8,671.2 L319.3,670.6" stroke="#444" stroke-width="1.3" opacity="0.53"/>
<path d="M416.2,687.6 L418.7,685.5" stroke="#444" stroke-width="1.4" opacity="0.35"/>
<path d="M279.4,737.8 L281.9,735.4" stroke="#444" stroke-width="0.7" opacity="0.61"/>
<path d="M264.8,673.2 L268.2,671.8" stroke="#444" stroke-width="1.4" opacity="0.35"/>
<path d="M394.5,599.8 L398.5,597.8" stroke="#444" stroke-width="1.4" opacity="0.73"/>
<path d="M413.7,751.6 L415.9,748.0" stroke="#444" stroke-width="0.8" opacity="0.65"/>
<path d="M268.3,758.8 L270.2,757.9" stroke="#444" stroke-width="0.8" opacity="0.58"/>
<path d="M393.3,745.4 L394.0,744.5" stroke="#444" stroke-width="1.5" opacity="0.69"/>
<path d="M348.7,597.2 L351.8,595.8" stroke="#444" stroke-width="1.3" opacity="0.79"/>
<path d="M375.5,761.6 L376.5,760.5" stroke="#444" stroke-width="1.6" opacity="0.80"/>
<path d="M265.7,722.1 L268.4,720.4" stroke="#444" stroke-width="1.0" opacity="0.48"/>
<path d="M435.5,621.6 L436.2,621.3" stroke="#444" stroke-width="0.7" opacity="0.49"/>
<path d="M360.1,733.0 L361.4,732.2" stroke="#444" stroke-width="1.3" opacity="0.71"/>
<path d="M341.4,785.3 L343.6,784.6" stroke="#444" stroke-width="1.1" opacity="0.66"/>
<path d="M304.3,723.7 L306.1,720.6" stroke="#444" stroke-width="1.4" opacity="0.34"/>
<path d="M407.9,622.7 L408.9,621.7" stroke="#444" stroke-width="0.9" opacity="0.60"/>
<path d="M316.2,762.7 L318.1,761.9" stroke="#444" stroke-width="1.0" opacity="0.57"/>
<path d="M365.0,666.1 L368.1,664.1" stroke="#444" stroke-width="1.2" opacity="0.63"/>
<path d="M290.4,659.8 L293.9,657.9" stroke="#444" stroke-width="1.1" opacity="0.80"/>
<path d="M439.9,739.3 L440.6,738.6" stroke="#444" stroke-width="1.1" opacity="0.58"/>
<path d="M305.2,690.1 L307.4,686.7" stroke="#444" stroke-width="0.8" opacity="0.57"/>
<path d="M247.5,668.0 L248.9,667.4" stroke="#444" stroke-width="0.9" opacity="0.56"/>
<path d="M424.3,732.7 L425.5,731.1" stroke="#444" stroke-width="1.6" opacity="0.68"/>
<path d="M386.8,645.7 L388.2,645.2" stroke="#444" stroke-width="1.4" opacity="0.72"/>
<path d="M306.1,740.9 L309.6,739.7" stroke="#444" stroke-width="1.3" opacity="0.33"/>
<path d="M254.5,652.2 L257.1,649.5" stroke="#444" stroke-width="0.7" opacity="0.53"/>
<path d="M277.1,678.9 L279.7,676.8" stroke="#444" stroke-width="1.2" opacity="0.56"/>
<path d="M443.6,785.2 L445.0,783.1" stroke="#444" stroke-width="1.3" opacity="0.37"/>
<path d="M245.7,612.4 L247.8,611.6" stroke="#444" stroke-width="1.1" opacity="0.69"/>
<path d="M353.6,742.5 L355.9,741.3" stroke="#444" stroke-width="1.0" opacity="0.43"/>
<path d="M408.1,755.7 L411.3,754.0" stroke="#444" stroke-width="1.4" opacity="0.59"/>
<path d="M381.8,736.4 L382.8,734.6" stroke="#444" stroke-width="1.5" opacity="0.74"/>
<path d="M311.5,681.8 L312.4,681.6" stroke="#444" stroke-width="0.8" opacity="0.52"/>
<path d="M248.6,771.0 L251.6,769.6" stroke="#444" stroke-width="1.2" opacity="0.64"/>
<path d="M432.0,611.5 L432.9,610.2" stroke="#444" stroke-width="1.1" opacity="0.34"/>
<path d="M375.4,718.3 L378.5,717.0" stroke="#444" stroke-width="0.8" opacity="0.32"/>
<path d="M335.8,701.1 L338.1,698.7" stroke="#444" stroke-width="1.5" opacity="0.57"/>
<path d="M344.2,733.3 L347.9,731.5" stroke="#444" stroke-width="1.5" opacity="0.39"/>
<path d="M266.0,598.1 L268.6,596.8" stroke="#444" stroke-width="0.9" opacity="0.60"/>
<path d="M285.9,715.5 L290.0,714.0" stroke="#444" stroke-width="0.9" opacity="0.33"/>
<path d="M294.6,703.6 L296.0,702.4" stroke="#444" stroke-width="1.2" opacity="0.76"/>
<path d="M317.4,677.2 L318.9,676.2" stroke="#444" stroke-width="0.8" opacity="0.56"/>
<path d="M350.5,758.2 L353.1,757.4" stroke="#444" stroke-width="1.0" opacity="0.54"/>
<path d="M316.1,594.0 L319.1,592.4" stroke="#444" stroke-width="1.6" opacity="0.33"/>
<path d="M421.6,753.5 L423.9,750.2" stroke="#444" stroke-width="0.9" opacity="0.67"/>
<path d="M384.5,613.2 L385.2,613.1" stroke="#444" stroke-width="1.3" opacity="0.49"/>
<path d="M341.3,626.9 L342.9,626.5" stroke="#444" stroke-width="0.8" opacity="0.77"/>
<path d="M404.1,670.1 L407.0,668.0" stroke="#444" stroke-width="1.3" opacity="0.59"/>
<path d="M330.4,789.5 L333.0,787.1" stroke="#444" stroke-width="1.2" opacity="0.44"/>
<path d="M270.5,651.2 L272.9,648.1" stroke="#444" stroke-width="0.9" opacity="0.32"/>
<path d="M447.3,646.8 L448.4,646.2" stroke="#444" stroke-width="0.8" opacity="0.70"/>
<path d="M392.7,602.1 L394.9,599.2" stroke="#444" stroke-width="0.8" opacity="0.68"/>
<path d="M437.1,667.8 L438.4,666.8" stroke="#444" stroke-width="1.4" opacity="0.79"/>
<path d="M384.4,672.1 L386.6,671.3" stroke="#444" stroke-width="0.9" opacity="0.49"/>
<path d="M282.9,797.1 L285.2,794.2" stroke="#444" stroke-width="1.4" opacity="0.77"/>
<path d="M307.1,661.1 L308.6,660.5" stroke="#444" stroke-width="1.1" opacity="0.73"/>
<path d="M324.2,748.6 L327.5,745.9" stroke="#444" stroke-width="0.9" opacity="0.74"/>
<path d="M442.2,676.8 L446.2,675.9" stroke="#444" stroke-width="1.6" opacity="0.74"/>
<path d="M338.6,660.4 L339.5,659.3" stroke="#444" stroke-width="0.9" opacity="0.38"/>
<path d="M244.6,658.1 L245.5,657.7" stroke="#444" stroke-width="1.1" opacity="0.79"/>
<path d="M385.2,644.1 L388.0,642.3" stroke="#444" stroke-width="1.6" opacity="0.66"/>
<path d="M300.4,629.7 L301.9,628.1" stroke="#444" stroke-width="0.9" opacity="0.70"/>
<path d="M306.6,700.0 L308.3,699.0" stroke="#444" stroke-width="0.9" opacity="0.48"/>
<path d="M300.5,713.0 L303.2,712.0" stroke="#444" stroke-width="1.3" opacity="0.30"/>
<path d="M399.0,768.7 L401.6,765.4" stroke="#444" stroke-width="1.2" opacity="0.39"/>
<path d="M372.6,744.3 L375.8,741.9" stroke="#444" stroke-width="1.2" opacity="0.45"/>
<path d="M264.1,680.4 L265.2,679.8" stroke="#444" stroke-width="0.9" opacity="0.49"/>
<path d="M246.3,657.9 L248.4,654.7" stroke="#444" stroke-width="1.2" opacity="0.67"/>
<path d="M439.9,725.8 L440.5,725.5" stroke="#444" stroke-width="1.5" opacity="0.72"/>
<path d="M407.0,741.7 L409.6,739.4" stroke="#444" stroke-width="0.8" opacity="0.41"/>
<path d="M340.6,698.3 L343.8,695.1" stroke="#444" stroke-width="1.1" opacity="0.68"/>
<path d="M304.6,671.0 L305.6,670.3" stroke="#444" stroke-width="0.8" opacity="0.61"/>
<path d="M337.0,632.5 L338.3,631.7" stroke="#444" stroke-width="1.0" opacity="0.79"/>
<path d="M444.2,674.7 L446.3,672.2" stroke="#444" stroke-width="0.9" opacity="0.69"/>
<path d="M437.7,643.2 L439.1,642.3" stroke="#444" stroke-width="0.8" opacity="0.40"/>
<path d="M345.9,683.3 L347.2,682.3" stroke="#444" stroke-width="1.0" opacity="0.50"/>
<path d="M406.2,714.8 L408.0,713.4" stroke="#444" stroke-width="1.6" opacity="0.78"/>
<path d="M425.4,748.9 L427.2,747.6" stroke="#444" stroke-width="0.8" opacity="0.78"/>
<path d="M280.4,608.9 L282.0,606.4" stroke="#444" stroke-width="1.4" opacity="0.45"/>
<path d="M397.4,706.3 L398.2,705.6" stroke="#444" stroke-width="1.3" opacity="0.30"/>
<path d="M271.2,670.6 L273.3,668.7" stroke="#444" stroke-width="1.1" opacity="0.63"/>
<path d="M293.8,654.2 L296.0,653.5" stroke="#444" stroke-width="1.1" opacity="0.34"/>
<path d="M290.6,701.3 L294.4,699.1" stroke="#444" stroke-width="1.2" opacity="0.42"/>
<path d="M312.7,774.8 L315.9,771.7" stroke="#444" stroke-width="1.3" opacity="0.65"/>
<path d="M394.8,651.7 L395.9,650.7" stroke="#444" stroke-width="1.1" opacity="0.41"/>
<path d="M251.3,782.9 L252.8,781.7" stroke="#444" stroke-width="1.0" opacity="0.77"/>
<path d="M379.9,770.5 L381.2,769.9" stroke="#444" stroke-width="1.1" opacity="0.42"/>
<path d="M377.2,615.5 L379.6,611.9" stroke="#444" stroke-width="1.4" opacity="0.52"/>
<path d="M273.9,752.6 L274.6,752.2" stroke="#444" stroke-width="0.9" opacity="0.44"/>
<path d="M249.9,609.7 L253.6,608.1" stroke="#444" stroke-width="1.1" opacity="0.71"/>
<path d="M302.1,681.6 L303.6,680.1" stroke="#444" stroke-width="1.2" opacity="0.54"/>
<path d="M392.9,750.9 L394.4,749.5" stroke="#444" stroke-width="1.2" opacity="0.38"/>
<path d="M258.2,602.7 L260.2,599.8" stroke="#444" stroke-width="0.8" opacity="0.68"/>
<path d="M383.4,683.8 L384.4,683.5" stroke="#444" stroke-width="0.9" opacity="0.36"/>
<path d="M395.5,640.9 L399.7,639.5" stroke="#444" stroke-width="1.1" opacity="0.68"/>
<path d="M276.6,732.7 L277.7,731.2" stroke="#444" stroke-width="1.3" opacity="0.77"/>
<path d="M357.1,755.4 L358.5,753.9" stroke="#444" stroke-width="1.3" opacity="0.63"/>
<path d="M245.9,637.1 L248.4,635.2" stroke="#444" stroke-width="0.8" opacity="0.48"/>
<path d="M436.7,618.5 L436.9,618.0" stroke="#444" stroke-width="1.2" opacity="0.78"/>
<path d="M443.9,709.3 L444.5,708.4" stroke="#444" stroke-width="1.5" opacity="0.69"/>
<path d="M373.1,789.9 L375.5,788.7" stroke="#444" stroke-width="1.1" opacity="0.30"/>
<path d="M431.5,687.9 L432.2,687.6" stroke="#444" stroke-width="0.8" opacity="0.43"/>
<path d="M413.5,734.6 L417.5,733.2" stroke="#444" stroke-width="1.0" opacity="0.49"/>
<path d="M276.1,758.9 L279.0,756.3" stroke="#444" stroke-width="1.4" opacity="0.80"/>
<path d="M377.5,695.3 L380.1,693.5" stroke="#444" stroke-width="1.0" opacity="0.55"/>
<path d="M420.9,648.7 L421.8,648.5" stroke="#444" stroke-width="0.9" opacity="0.40"/>
<path d="M303.7,792.5 L306.2,791.5" stroke="#444" stroke-width="1.3" opacity="0.71"/>
<path d="M246.8,614.4 L249.6,613.1" stroke="#444" stroke-width="1.4" opacity="0.49"/>
<path d="M321.3,781.3 L323.8,778.7" stroke="#444" stroke-width="1.3" opacity="0.34"/>
<path d="M404.7,651.8 L405.6,651.3" stroke="#444" stroke-width="1.2" opacity="0.59"/>
<path d="M291.1,769.3 L292.5,766.6" stroke="#444" stroke-width="1.6" opacity="0.42"/>
<path d="M261.4,731.4 L263.0,729.0" stroke="#444" stroke-width="0.9" opacity="0.49"/>
<path d="M422.2,629.1 L422.9,627.9" stroke="#444" stroke-width="1.0" opacity="0.34"/>
<path d="M339.0,686.5 L340.0,685.6" stroke="#444" stroke-width="1.2" opacity="0.65"/>
<path d="M432.4,619.7 L435.5,617.0" stroke="#444" stroke-width="0.8" opacity="0.46"/>
<path d="M295.9,769.5 L296.2,769.0" stroke="#444" stroke-width="1.2" opacity="0.41"/>
<path d="M421.6,612.7 L425.2,610.6" stroke="#444" stroke-width="1.5" opacity="0.55"/>
<path d="M255.1,761.3 L256.8,760.1" stroke="#444" stroke-width="1.4" opacity="0.37"/>
<path d="M293.5,658.6 L294.6,658.2" stroke="#444" stroke-width="1.3" opacity="0.46"/>
<path d="M398.2,750.5 L399.8,749.8" stroke="#444" stroke-width="1.4" opacity="0.69"/>
<path d="M412.4,598.9 L414.0,597.5" stroke="#444" stroke-width="1.1" opacity="0.79"/>
<path d="M367.0,778.5 L368.6,777.1" stroke="#444" stroke-width="1.0" opacity="0.62"/>
<path d="M414.2,740.3 L414.6,739.9" stroke="#444" stroke-width="0.7" opacity="0.44"/>
<path d="M287.5,638.1 L288.2,637.3" stroke="#444" stroke-width="1.5" opacity="0.33"/>
<path d="M407.7,766.8 L409.7,763.7" stroke="#444" stroke-width="1.5" opacity="0.79"/>
<path d="M410.6,784.9 L412.2,784.2" stroke="#444" stroke-width="1.1" opacity="0.31"/>
<path d="M358.2,617.0 L361.8,615.2" stroke="#444" stroke-width="1.2" opacity="0.73"/>
<path d="M435.2,649.3 L437.7,648.2" stroke="#444" stroke-width="0.7" opacity="0.41"/>
<path d="M442.2,688.0 L445.5,685.4" stroke="#444" stroke-width="1.5" opacity="0.76"/>
<path d="M392.4,766.3 L395.7,764.0" stroke="#444" stroke-width="1.0" opacity="0.68"/>
<path d="M433.1,766.7 L435.1,764.6" stroke="#444" stroke-width="1.4" opacity="0.37"/>
<path d="M274.2,740.4 L275.6,739.7" stroke="#444" stroke-width="1.4" opacity="0.45"/>
<path d="M447.5,639.8 L449.5,638.7" stroke="#444" stroke-width="0.7" opacity="0.53"/>
<path d="M359.9,782.0 L362.3,778.6" stroke="#444" stroke-width="0.9" opacity="0.47"/>
<path d="M291.8,606.0 L294.4,604.6" stroke="#444" stroke-width="0.7" opacity="0.76"/>
<path d="M375.5,735.0 L377.5,734.3" stroke="#444" stroke-width="1.4" opacity="0.50"/>
<path d="M358.2,777.7 L359.6,775.2" stroke="#444" stroke-width="0.7" opacity="0.73"/>
<path d="M389.8,690.9 L392.0,689.1" stroke="#444" stroke-width="0.8" opacity="0.64"/>
<path d="M255.7,641.0 L257.5,639.4" stroke="#444" stroke-width="1.3" opacity="0.71"/>
<path d="M336.1,700.4 L338.5,699.0" stroke="#444" stroke-width="0.9" opacity="0.47"/>
<path d="M419.8,667.1 L422.2,666.2" stroke="#444" stroke-width="1.2" opacity="0.76"/>
<path d="M342.4,656.7 L344.3,655.1" stroke="#444" stroke-width="1.2" opacity="0.76"/>
<path d="M420.1,682.2 L421.0,680.6" stroke="#444" stroke-width="0.8" opacity="0.71"/>
<path d="M341.5,734.8 L345.2,732.2" stroke="#444" stroke-width="1.5" opacity="0.53"/>
<path d="M286.8,747.4 L288.0,745.6" stroke="#444" stroke-width="1.5" opacity="0.76"/>
<path d="M291.3,738.8 L293.8,736.5" stroke="#444" stroke-width="1.1" opacity="0.75"/>
<path d="M254.4,649.5 L256.0,647.5" stroke="#444" stroke-width="1.4" opacity="0.78"/>
<path d="M327.2,691.0 L330.9,688.7" stroke="#444" stroke-width="1.3" opacity="0.52"/>
<path d="M375.4,680.3 L377.3,677.3" stroke="#444" stroke-width="1.5" opacity="0.60"/>
<path d="M439.4,696.2 L442.0,693.8" stroke="#444" stroke-width="1.6" opacity="0.38"/>
<path d="M297.8,787.7 L298.4,786.8" stroke="#444" stroke-width="1.4" opacity="0.73"/>
<path d="M390.0,643.9 L391.2,643.2" stroke="#444" stroke-width="1.5" opacity="0.36"/>
<path d="M332.6,601.6 L334.8,597.9" stroke="#444" stroke-width="1.5" opacity="0.64"/>
<path d="M284.2,684.6 L286.9,682.2" stroke="#444" stroke-width="0.7" opacity="0.70"/>
<path d="M323.0,610.4 L323.5,610.1" stroke="#444" stroke-width="1.2" opacity="0.45"/>
<path d="M409.6,729.6 L411.6,727.4" stroke="#444" stroke-width="1.6" opacity="0.73"/>
<path d="M346.9,651.6 L350.1,649.9" stroke="#444" stroke-width="0.9" opacity="0.70"/>
<path d="M262.9,715.7 L264.9,715.0" stroke="#444" stroke-width="1.3" opacity="0.73"/>
<path d="M408.3,678.7 L409.9,676.4" stroke="#444" stroke-width="1.2" opacity="0.41"/>
<path d="M394.7,617.3 L395.5,617.0" stroke="#444" stroke-width="1.0" opacity="0.34"/>
<path d="M258.9,745.6 L261.9,742.6" stroke="#444" stroke-width="1.3" opacity="0.75"/>
<path d="M265.4,710.5 L269.2,709.0" stroke="#444" stroke-width="0.9" opacity="0.50"/>
<path d="M297.8,717.9 L299.5,717.5" stroke="#444" stroke-width="1.4" opacity="0.31"/>
<path d="M364.7,723.5 L367.2,721.4" stroke="#444" stroke-width="1.5" opacity="0.51"/>
<path d="M319.4,596.8 L319.8,596.4" stroke="#444" stroke-width="1.2" opacity="0.58"/>
<path d="M427.9,614.3 L429.3,612.9" stroke="#444" stroke-width="1.5" opacity="0.58"/>
<path d="M263.3,734.1 L264.1,732.9" stroke="#444" stroke-width="1.6" opacity="0.42"/>
<path d="M269.7,767.0 L271.2,765.8" stroke="#444" stroke-width="1.4" opacity="0.67"/>
<path d="M437.6,786.5 L440.1,783.4" stroke="#444" stroke-width="1.3" opacity="0.33"/>
<path d="M291.5,671.7 L293.1,668.5" stroke="#444" stroke-width="0.9" opacity="0.73"/>
<path d="M252.6,737.1 L253.6,736.7" stroke="#444" stroke-width="1.2" opacity="0.70"/>
<path d="M280.6,713.4 L283.4,710.2" stroke="#444" stroke-width="1.4" opacity="0.75"/>
<path d="M272.1,793.3 L273.9,790.9" stroke="#444" stroke-width="1.5" opacity="0.47"/>
<path d="M449.0,696.0 L450.2,694.8" stroke="#444" stroke-width="1.1" opacity="0.64"/>
<path d="M447.2,667.5 L448.2,666.4" stroke="#444" stroke-width="1.4" opacity="0.40"/>
<path d="M333.7,604.5 L336.5,602.9" stroke="#444" stroke-width="1.3" opacity="0.38"/>
<path d="M329.3,628.4 L333.0,626.3" stroke="#444" stroke-width="1.5" opacity="0.75"/>
<path d="M248.2,760.5 L249.0,759.0" stroke="#444" stroke-width="1.4" opacity="0.77"/>
<path d="M265.5,778.4 L267.7,775.0" stroke="#444" stroke-width="1.0" opacity="0.57"/>
<path d="M374.3,641.0 L375.1,639.4" stroke="#444" stroke-width="1.3" opacity="0.43"/>
<path d="M308.3,754.5 L309.4,752.8" stroke="#444" stroke-width="0.8" opacity="0.49"/>
<path d="M327.9,729.0 L328.9,727.0" stroke="#444" stroke-width="1.0" opacity="0.69"/>
<path d="M422.3,701.6 L424.2,698.1" stroke="#444" stroke-width="0.9" opacity="0.65"/>
<path d="M407.5,645.0 L408.1,644.2" stroke="#444" stroke-width="0.7" opacity="0.44"/>
<path d="M355.3,636.3 L357.0,634.9" stroke="#444" stroke-width="1.2" opacity="0.32"/>
<path d="M291.6,735.4 L294.3,733.7" stroke="#444" stroke-width="0.9" opacity="0.39"/>
<path d="M264.5,652.7 L266.6,648.9" stroke="#444" stroke-width="0.9" opacity="0.66"/>
<path d="M322.4,640.0 L323.4,639.0" stroke="#444" stroke-width="1.4" opacity="0.62"/>
<path d="M436.3,763.1 L438.2,759.5" stroke="#444" stroke-width="1.4" opacity="0.76"/>
<path d="M295.3,613.0 L296.5,611.3" stroke="#444" stroke-width="0.8" opacity="0.77"/>
<path d="M431.5,616.4 L432.9,615.5" stroke="#444" stroke-width="1.0" opacity="0.56"/>
<path d="M381.2,610.7 L381.7,610.2" stroke="#444" stroke-width="1.5" opacity="0.33"/>
<path d="M437.4,758.7 L438.6,756.2" stroke="#444" stroke-width="1.0" opacity="0.43"/>
<path d="M328.0,618.9 L330.0,616.7" stroke="#444" stroke-width="1.0" opacity="0.48"/>
<path d="M424.2,684.8 L426.3,682.1" stroke="#444" stroke-width="0.7" opacity="0.69"/>
<path d="M380.8,697.8 L383.9,694.9" stroke="#444" stroke-width="1.2" opacity="0.69"/>
<path d="M361.4,759.4 L363.1,758.5" stroke="#444" stroke-width="1.1" opacity="0.71"/>
<path d="M350.4,634.9 L354.1,633.8" stroke="#444" stroke-width="1.3" opacity="0.43"/>
<path d="M300.7,611.4 L302.7,609.6" stroke="#444" stroke-width="0.7" opacity="0.57"/>
<path d="M307.2,718.9 L309.7,717.4" stroke="#444" stroke-width="1.2" opacity="0.52"/>
<path d="M429.1,671.3 L431.2,670.6" stroke="#444" stroke-width="0.8" opacity="0.43"/>
<path d="M370.6,631.3 L374.6,629.8" stroke="#444" stroke-width="1.3" opacity="0.66"/>
<path d="M361.9,610.8 L364.2,608.6" stroke="#444" stroke-width="0.9" opacity="0.40"/>
<path d="M303.9,759.4 L304.3,759.1" stroke="#444" stroke-width="1.0" opacity="0.52"/>
<path d="M379.0,791.2 L380.5,789.2" stroke="#444" stroke-width="1.0" opacity="0.74"/>
<path d="M395.0,719.0 L395.4,718.2" stroke="#444" stroke-width="1.1" opacity="0.46"/>
<path d="M305.7,759.7 L308.5,758.1" stroke="#444" stroke-width="1.1" opacity="0.71"/>
<path d="M306.2,755.4 L307.2,755.2" stroke="#444" stroke-width="1.0" opacity="0.70"/>
<path d="M437.1,646.8 L439.6,644.9" stroke="#444" stroke-width="1.0" opacity="0.68"/>
<path d="M336.6,784.7 L339.4,782.8" stroke="#444" stroke-width="1.3" opacity="0.61"/>
<path d="M267.1,745.8 L269.7,742.7" stroke="#444" stroke-width="1.2" opacity="0.55"/>
<path d="M286.8,785.0 L290.5,783.1" stroke="#444" stroke-width="1.0" opacity="0.75"/>
<path d="M298.0,678.2 L299.7,675.5" stroke="#444" stroke-width="1.4" opacity="0.68"/>
<path d="M364.2,782.5 L366.9,779.6" stroke="#444" stroke-width="1.0" opacity="0.49"/>
<path d="M420.3,681.1 L422.0,678.2" stroke="#444" stroke-width="1.2" opacity="0.30"/>
<path d="M308.0,746.0 L311.2,743.6" stroke="#444" stroke-width="1.3" opacity="0.43"/>
<path d="M374.7,629.2 L375.4,629.0" stroke="#444" stroke-width="1.5" opacity="0.53"/>
<path d="M314.6,796.7 L315.7,795.1" stroke="#444" stroke-width="1.1" opacity="0.40"/>
<path d="M296.8,733.3 L298.7,730.4" stroke="#444" stroke-width="1.1" opacity="0.66"/>
<path d="M437.9,616.5 L440.2,613.0" stroke="#444" stroke-width="1.4" opacity="0.47"/>
<path d="M348.2,771.6 L348.6,770.7" stroke="#444" stroke-width="1.1" opacity="0.42"/>
<path d="M406.2,742.3 L406.8,741.4" stroke="#444" stroke-width="1.4" opacity="0.39"/>
<path d="M300.2,747.9 L302.1,746.4" stroke="#444" stroke-width="0.9" opacity="0.46"/>
<path d="M375.7,775.8 L379.3,774.2" stroke="#444" stroke-width="0.7" opacity="0.57"/>
<path d="M447.5,779.9 L448.4,778.8" stroke="#444" stroke-width="0.9" opacity="0.67"/>
<path d="M269.0,674.7 L270.7,673.7" stroke="#444" stroke-width="1.2" opacity="0.79"/>
<path d="M446.4,774.2 L450.2,772.6" stroke="#444" stroke-width="1.5" opacity="0.49"/>
<path d="M304.1,776.4 L305.0,775.5" stroke="#444" stroke-width="0.8" opacity="0.46"/>
<path d="M446.2,605.8 L449.0,604.4" stroke="#444" stroke-width="1.3" opacity="0.60"/>
<path d="M424.0,608.4 L426.2,606.4" stroke="#444" stroke-width="1.0" opacity="0.43"/>
<path d="M372.2,792.4 L375.1,790.2" stroke="#444" stroke-width="1.1" opacity="0.40"/>
<path d="M300.0,656.3 L302.5,654.5" stroke="#444" stroke-width="1.2" opacity="0.60"/>
<path d="M260.1,659.9 L262.5,657.9" stroke="#444" stroke-width="0.8" opacity="0.39"/>
<path d="M352.9,759.1 L355.7,756.5" stroke="#444" stroke-width="1.5" opacity="0.52"/>
<path d="M323.1,764.6 L324.7,762.9" stroke="#444" stroke-width="0.8" opacity="0.47"/>
<path d="M328.6,691.8 L330.2,690.9" stroke="#444" stroke-width="1.0" opacity="0.75"/>
<path d="M390.7,768.2 L392.6,766.4" stroke="#444" stroke-width="1.5" opacity="0.61"/>
<path d="M408.7,710.6 L410.4,709.6" stroke="#444" stroke-width="1.5" opacity="0.57"/>
<path d="M256.1,608.7 L263.7,601.9 L269.0,597.3" stroke="#333" stroke-width="2.00" opacity="0.3"/>
<path d="M256.1,608.7 L263.7,601.9 L269.0,597.3" stroke="#2a2a2a" stroke-width="1.07" opacity="0.90"/>
<circle cx="260.8" cy="604.5" r="0.78" fill="#262626" stroke="none" opacity="0.89"/>
<circle cx="261.6" cy="604.5" r="1.08" fill="#262626" stroke="none" opacity="0.79"/>
<circle cx="259.3" cy="606.3" r="1.00" fill="#262626" stroke="none" opacity="0.73"/>
<circle cx="246.3" cy="611.7" r="1.24" fill="#1e1e1e" stroke="none" opacity="0.95"/>
<path d="M272.8,614.8 L280.4,611.7" stroke="#333" stroke-width="1.46" opacity="0.3"/>
<path d="M272.8,614.8 L280.4,611.7" stroke="#222" stroke-width="0.78" opacity="0.95"/>
<circle cx="279.9" cy="612.2" r="0.81" fill="#262626" stroke="none" opacity="0.68"/>
<circle cx="277.4" cy="612.2" r="0.79" fill="#262626" stroke="none" opacity="0.63"/>
<circle cx="276.8" cy="612.9" r="0.68" fill="#262626" stroke="none" opacity="0.75"/>
<path d="M278.9,603.4 L283.5,602.6" stroke="#333" stroke-width="1.46" opacity="0.3"/>
<path d="M278.9,603.4 L283.5,602.6" stroke="#222" stroke-width="0.78" opacity="0.87"/>
<circle cx="281.8" cy="603.2" r="0.63" fill="#262626" stroke="none" opacity="0.57"/>
<path d="M245.5,622.4 L248.6,620.8" stroke="#333" stroke-width="1.09" opacity="0.3"/>
<path d="M245.5,622.4 L248.6,620.8" stroke="#2a2a2a" stroke-width="0.58" opacity="0.87"/>
<circle cx="246.2" cy="621.4" r="0.67" fill="#262626" stroke="none" opacity="0.85"/>
<path d="M245.5,637.5 L253.1,630.0 L259.2,624.6" stroke="#333" stroke-width="1.64" opacity="0.3"/>
<path d="M245.5,637.5 L253.1,630.0 L259.2,624.6" stroke="#1c1c1c" stroke-width="0.87" opacity="0.80"/>
<circle cx="246.2" cy="636.5" r="0.85" fill="#262626" stroke="none" opacity="0.60"/>
<circle cx="252.9" cy="630.4" r="0.98" fill="#262626" stroke="none" opacity="0.56"/>
<circle cx="257.6" cy="626.5" r="0.75" fill="#262626" stroke="none" opacity="0.59"/>
<path d="M260.7,633.0 L271.3,627.7" stroke="#333" stroke-width="2.00" opacity="0.3"/>
<path d="M260.7,633.0 L271.3,627.7" stroke="#2a2a2a" stroke-width="1.07" opacity="0.94"/>
<circle cx="269.4" cy="629.7" r="1.13" fill="#262626" stroke="none" opacity="0.78"/>
<path d="M245.5,649.7 L253.1,646.7" stroke="#333" stroke-width="1.46" opacity="0.3"/>
<path d="M245.5,649.7 L253.1,646.7" stroke="#2a2a2a" stroke-width="0.78" opacity="0.86"/>
<circle cx="249.4" cy="648.7" r="0.55" fill="#262626" stroke="none" opacity="0.62"/>
<circle cx="250.8" cy="642.9" r="1.24" fill="#1e1e1e" stroke="none" opacity="0.95"/>
<path d="M263.7,639.1 L274.4,634.5" stroke="#333" stroke-width="1.28" opacity="0.3"/>
<path d="M263.7,639.1 L274.4,634.5" stroke="#2a2a2a" stroke-width="0.68" opacity="0.83"/>
<circle cx="271.8" cy="635.4" r="0.65" fill="#262626" stroke="none" opacity="0.77"/>
<circle cx="274.5" cy="634.1" r="0.52" fill="#262626" stroke="none" opacity="0.63"/>
<path d="M291.1,633.7 L301.7,626.9 L307.8,620.1 L311.6,617.0" stroke="#333" stroke-width="1.64" opacity="0.3"/>
<path d="M291.1,633.7 L301.7,626.9 L307.8,620.1 L311.6,617.0" stroke="#2a2a2a" stroke-width="0.87" opacity="0.86"/>
<circle cx="292.4" cy="632.8" r="0.74" fill="#262626" stroke="none" opacity="0.60"/>
<circle cx="296.2" cy="630.0" r="0.62" fill="#262626" stroke="none" opacity="0.51"/>
<circle cx="302.5" cy="626.4" r="0.92" fill="#262626" stroke="none" opacity="0.66"/>
<circle cx="309.2" cy="618.8" r="0.81" fill="#262626" stroke="none" opacity="0.50"/>
<circle cx="311.0" cy="616.9" r="0.81" fill="#262626" stroke="none" opacity="0.70"/>
<path d="M301.7,649.7 L307.8,642.1 L315.4,638.3 L321.4,634.5" stroke="#333" stroke-width="2.19" opacity="0.3"/>
<path d="M301.7,649.7 L307.8,642.1 L315.4,638.3 L321.4,634.5" stroke="#333" stroke-width="1.17" opacity="0.80"/>
<circle cx="306.5" cy="644.1" r="0.82" fill="#262626" stroke="none" opacity="0.89"/>
<circle cx="301.6" cy="649.6" r="0.89" fill="#262626" stroke="none" opacity="0.60"/>
<circle cx="306.6" cy="642.5" r="1.22" fill="#262626" stroke="none" opacity="0.88"/>
<circle cx="310.3" cy="641.5" r="1.07" fill="#262626" stroke="none" opacity="0.78"/>
<circle cx="314.0" cy="638.2" r="1.28" fill="#262626" stroke="none" opacity="0.69"/>
<circle cx="309.5" cy="641.6" r="0.85" fill="#262626" stroke="none" opacity="0.74"/>
<circle cx="318.8" cy="636.1" r="0.82" fill="#262626" stroke="none" opacity="0.88"/>
<path d="M319.9,641.3 L326.0,640.3" stroke="#333" stroke-width="2.00" opacity="0.3"/>
<path d="M319.9,641.3 L326.0,640.3" stroke="#333" stroke-width="1.07" opacity="0.95"/>
<circle cx="311.6" cy="648.9" r="1.24" fill="#1e1e1e" stroke="none" opacity="0.95"/>
<path d="M333.6,641.3 L341.2,636.0 L348.0,631.5" stroke="#333" stroke-width="1.46" opacity="0.3"/>
<path d="M333.6,641.3 L341.2,636.0 L348.0,631.5" stroke="#1c1c1c" stroke-width="0.78" opacity="0.88"/>
<circle cx="338.9" cy="637.4" r="0.54" fill="#262626" stroke="none" opacity="0.87"/>
<circle cx="344.3" cy="633.9" r="0.75" fill="#262626" stroke="none" opacity="0.70"/>
<circle cx="346.3" cy="632.2" r="0.50" fill="#262626" stroke="none" opacity="0.55"/>
<circle cx="348.2" cy="631.8" r="0.76" fill="#262626" stroke="none" opacity="0.67"/>
<path d="M260.7,654.2 L265.3,653.5" stroke="#333" stroke-width="2.00" opacity="0.3"/>
<path d="M260.7,654.2 L265.3,653.5" stroke="#333" stroke-width="1.07" opacity="0.91"/>
<circle cx="264.3" cy="652.9" r="0.67" fill="#262626" stroke="none" opacity="0.80"/>
<circle cx="252.3" cy="661.1" r="1.24" fill="#1e1e1e" stroke="none" opacity="0.95"/>
<path d="M275.1,670.9 L283.5,664.9 L289.5,659.6 L295.6,655.8" stroke="#333" stroke-width="2.00" opacity="0.3"/>
<path d="M275.1,670.9 L283.5,664.9 L289.5,659.6 L295.6,655.8" stroke="#2a2a2a" stroke-width="1.07" opacity="0.80"/>
<circle cx="284.0" cy="663.7" r="1.21" fill="#262626" stroke="none" opacity="0.51"/>
<circle cx="288.2" cy="661.4" r="0.69" fill="#262626" stroke="none" opacity="0.66"/>
<circle cx="293.5" cy="657.1" r="1.23" fill="#262626" stroke="none" opacity="0.56"/>
<path d="M263.7,670.9 L274.4,663.4" stroke="#333" stroke-width="1.28" opacity="0.3"/>
<path d="M263.7,670.9 L274.4,663.4" stroke="#333" stroke-width="0.68" opacity="0.94"/>
<circle cx="266.5" cy="669.4" r="0.71" fill="#262626" stroke="none" opacity="0.73"/>
<circle cx="263.7" cy="670.8" r="0.75" fill="#262626" stroke="none" opacity="0.51"/>
<path d="M245.5,689.2 L251.6,684.6 L257.7,680.1" stroke="#333" stroke-width="1.82" opacity="0.3"/>
<path d="M245.5,689.2 L251.6,684.6 L257.7,680.1" stroke="#222" stroke-width="0.97" opacity="0.82"/>
<circle cx="247.4" cy="688.8" r="0.88" fill="#262626" stroke="none" opacity="0.77"/>
<circle cx="245.8" cy="688.8" r="1.08" fill="#262626" stroke="none" opacity="0.61"/>
<circle cx="255.6" cy="681.9" r="1.10" fill="#262626" stroke="none" opacity="0.90"/>
<path d="M265.3,679.3 L271.3,676.3" stroke="#333" stroke-width="1.46" opacity="0.3"/>
<path d="M265.3,679.3 L271.3,676.3" stroke="#333" stroke-width="0.78" opacity="0.91"/>
<circle cx="265.5" cy="678.3" r="0.76" fill="#262626" stroke="none" opacity="0.55"/>
<circle cx="269.2" cy="677.6" r="0.83" fill="#262626" stroke="none" opacity="0.77"/>
<path d="M298.7,674.7 L304.7,672.5 L310.8,666.4 L318.4,658.0" stroke="#333" stroke-width="1.64" opacity="0.3"/>
<path d="M298.7,674.7 L304.7,672.5 L310.8,666.4 L318.4,658.0" stroke="#2a2a2a" stroke-width="0.87" opacity="0.83"/>
<circle cx="306.6" cy="669.9" r="0.55" fill="#262626" stroke="none" opacity="0.59"/>
<circle cx="306.5" cy="670.8" r="1.03" fill="#262626" stroke="none" opacity="0.79"/>
<circle cx="305.9" cy="671.6" r="0.77" fill="#262626" stroke="none" opacity="0.60"/>
<circle cx="316.1" cy="660.7" r="0.85" fill="#262626" stroke="none" opacity="0.79"/>
<circle cx="312.8" cy="663.6" r="0.63" fill="#262626" stroke="none" opacity="0.85"/>
<path d="M319.9,658.8 L327.5,655.8" stroke="#333" stroke-width="1.28" opacity="0.3"/>
<path d="M319.9,658.8 L327.5,655.8" stroke="#1c1c1c" stroke-width="0.68" opacity="0.89"/>
<circle cx="322.3" cy="657.1" r="0.53" fill="#262626" stroke="none" opacity="0.80"/>
<path d="M329.0,658.8 L336.6,652.7 L344.2,647.4" stroke="#333" stroke-width="1.64" opacity="0.3"/>
<path d="M329.0,658.8 L336.6,652.7 L344.2,647.4" stroke="#2a2a2a" stroke-width="0.87" opacity="0.82"/>
<circle cx="334.7" cy="654.7" r="0.80" fill="#262626" stroke="none" opacity="0.85"/>
<circle cx="340.9" cy="649.8" r="0.74" fill="#262626" stroke="none" opacity="0.56"/>
<path d="M319.9,678.5 L326.0,672.5 L333.6,666.4" stroke="#333" stroke-width="1.46" opacity="0.3"/>
<path d="M319.9,678.5 L326.0,672.5 L333.6,666.4" stroke="#2a2a2a" stroke-width="0.78" opacity="0.91"/>
<circle cx="325.0" cy="673.8" r="0.88" fill="#262626" stroke="none" opacity="0.50"/>
<circle cx="323.2" cy="675.4" r="0.57" fill="#262626" stroke="none" opacity="0.71"/>
<circle cx="328.9" cy="669.1" r="0.52" fill="#262626" stroke="none" opacity="0.70"/>
<circle cx="332.3" cy="667.9" r="0.54" fill="#262626" stroke="none" opacity="0.81"/>
<path d="M341.2,681.6 L348.0,674.7" stroke="#333" stroke-width="1.46" opacity="0.3"/>
<path d="M341.2,681.6 L348.0,674.7" stroke="#1c1c1c" stroke-width="0.78" opacity="0.93"/>
<circle cx="342.1" cy="680.6" r="0.88" fill="#262626" stroke="none" opacity="0.59"/>
<circle cx="342.0" cy="679.4" r="0.79" fill="#262626" stroke="none" opacity="0.62"/>
<path d="M282.0,683.1 L289.5,677.0" stroke="#333" stroke-width="1.09" opacity="0.3"/>
<path d="M282.0,683.1 L289.5,677.0" stroke="#2a2a2a" stroke-width="0.58" opacity="0.82"/>
<circle cx="288.9" cy="678.5" r="0.53" fill="#262626" stroke="none" opacity="0.67"/>
<path d="M307.8,686.1 L315.4,683.1 L321.4,681.6" stroke="#333" stroke-width="1.28" opacity="0.3"/>
<path d="M307.8,686.1 L315.4,683.1 L321.4,681.6" stroke="#222" stroke-width="0.68" opacity="0.88"/>
<circle cx="313.3" cy="684.8" r="0.48" fill="#262626" stroke="none" opacity="0.68"/>
<path d="M333.6,690.7 L338.1,686.1" stroke="#333" stroke-width="1.64" opacity="0.3"/>
<path d="M333.6,690.7 L338.1,686.1" stroke="#333" stroke-width="0.87" opacity="0.91"/>
<path d="M335.1,693.0 L341.2,689.2" stroke="#333" stroke-width="1.46" opacity="0.3"/>
<path d="M335.1,693.0 L341.2,689.2" stroke="#333" stroke-width="0.78" opacity="0.82"/>
<circle cx="337.9" cy="691.2" r="0.78" fill="#262626" stroke="none" opacity="0.64"/>
<circle cx="339.3" cy="690.0" r="0.78" fill="#262626" stroke="none" opacity="0.79"/>
<path d="M292.6,692.2 L298.7,689.2" stroke="#333" stroke-width="1.09" opacity="0.3"/>
<path d="M292.6,692.2 L298.7,689.2" stroke="#1c1c1c" stroke-width="0.58" opacity="0.82"/>
<circle cx="295.6" cy="690.9" r="0.42" fill="#262626" stroke="none" opacity="0.74"/>
<circle cx="293.9" cy="691.2" r="0.64" fill="#262626" stroke="none" opacity="0.84"/>
<path d="M344.2,660.3 L348.0,658.8" stroke="#333" stroke-width="1.09" opacity="0.3"/>
<path d="M344.2,660.3 L348.0,658.8" stroke="#222" stroke-width="0.58" opacity="0.81"/>
<circle cx="347.8" cy="659.7" r="0.56" fill="#262626" stroke="none" opacity="0.78"/>
<path d="M247.0,675.5 L251.6,670.9" stroke="#333" stroke-width="1.09" opacity="0.3"/>
<path d="M247.0,675.5 L251.6,670.9" stroke="#1c1c1c" stroke-width="0.58" opacity="0.91"/>
<circle cx="248.7" cy="673.8" r="0.65" fill="#262626" stroke="none" opacity="0.79"/>
<path d="M338.1,619.3 L344.2,617.0" stroke="#333" stroke-width="1.09" opacity="0.3"/>
<path d="M338.1,619.3 L344.2,617.0" stroke="#1c1c1c" stroke-width="0.58" opacity="0.81"/>
<circle cx="337.9" cy="619.3" r="0.61" fill="#262626" stroke="none" opacity="0.62"/>
<circle cx="344.6" cy="617.8" r="0.68" fill="#262626" stroke="none" opacity="0.59"/>
<path d="M266.8,595.0 L274.4,593.5" stroke="#333" stroke-width="1.09" opacity="0.3"/>
<path d="M266.8,595.0 L274.4,593.5" stroke="#333" stroke-width="0.58" opacity="0.80"/>
<circle cx="271.2" cy="594.8" r="0.67" fill="#262626" stroke="none" opacity="0.64"/>
<circle cx="271.4" cy="594.4" r="0.58" fill="#262626" stroke="none" opacity="0.63"/>
<path d="M313.8,594.3 L319.9,593.5" stroke="#333" stroke-width="0.91" opacity="0.3"/>
<path d="M313.8,594.3 L319.9,593.5" stroke="#333" stroke-width="0.49" opacity="0.91"/>
<circle cx="316.5" cy="594.3" r="0.39" fill="#262626" stroke="none" opacity="0.78"/>
<path d="M411.8,599.6 L417.8,593.5" stroke="#333" stroke-width="1.28" opacity="0.3"/>
<path d="M411.8,599.6 L417.8,593.5" stroke="#333" stroke-width="0.68" opacity="0.82"/>
<circle cx="414.0" cy="597.8" r="0.59" fill="#262626" stroke="none" opacity="0.64"/>
<circle cx="417.0" cy="593.4" r="0.69" fill="#262626" stroke="none" opacity="0.61"/>
<circle cx="413.7" cy="596.3" r="0.50" fill="#262626" stroke="none" opacity="0.81"/>
<path d="M425.4,602.6 L430.0,598.1 L433.0,593.5" stroke="#333" stroke-width="1.46" opacity="0.3"/>
<path d="M425.4,602.6 L430.0,598.1 L433.0,593.5" stroke="#333" stroke-width="0.78" opacity="0.92"/>
<circle cx="425.9" cy="602.9" r="0.64" fill="#262626" stroke="none" opacity="0.60"/>
<circle cx="430.9" cy="595.6" r="0.54" fill="#262626" stroke="none" opacity="0.88"/>
<path d="M414.8,622.4 L420.9,614.8 L426.9,608.7 L436.1,604.1" stroke="#333" stroke-width="1.64" opacity="0.3"/>
<path d="M414.8,622.4 L420.9,614.8 L426.9,608.7 L436.1,604.1" stroke="#333" stroke-width="0.87" opacity="0.89"/>
<circle cx="420.4" cy="616.3" r="0.63" fill="#262626" stroke="none" opacity="0.58"/>
<circle cx="414.7" cy="622.5" r="0.92" fill="#262626" stroke="none" opacity="0.81"/>
<circle cx="424.3" cy="612.3" r="0.55" fill="#262626" stroke="none" opacity="0.54"/>
<circle cx="426.9" cy="609.0" r="1.00" fill="#262626" stroke="none" opacity="0.67"/>
<circle cx="430.6" cy="606.6" r="0.90" fill="#262626" stroke="none" opacity="0.56"/>
<circle cx="430.4" cy="606.9" r="0.87" fill="#262626" stroke="none" opacity="0.90"/>
<circle cx="428.4" cy="608.2" r="0.70" fill="#262626" stroke="none" opacity="0.54"/>
<circle cx="428.5" cy="607.2" r="1.40" fill="#1e1e1e" stroke="none" opacity="0.95"/>
<path d="M386.0,633.0 L393.5,626.9 L401.1,620.8 L405.7,617.0" stroke="#333" stroke-width="1.82" opacity="0.3"/>
<path d="M386.0,633.0 L393.5,626.9 L401.1,620.8 L405.7,617.0" stroke="#1c1c1c" stroke-width="0.97" opacity="0.89"/>
<circle cx="387.0" cy="632.7" r="0.70" fill="#262626" stroke="none" opacity="0.51"/>
<circle cx="390.2" cy="629.6" r="0.66" fill="#262626" stroke="none" opacity="0.77"/>
<circle cx="398.2" cy="624.1" r="0.70" fill="#262626" stroke="none" opacity="0.64"/>
<circle cx="400.3" cy="621.2" r="0.66" fill="#262626" stroke="none" opacity="0.87"/>
<path d="M358.6,619.3 L366.2,617.0" stroke="#333" stroke-width="1.09" opacity="0.3"/>
<path d="M358.6,619.3 L366.2,617.0" stroke="#1c1c1c" stroke-width="0.58" opacity="0.82"/>
<circle cx="359.0" cy="620.0" r="0.47" fill="#262626" stroke="none" opacity="0.60"/>
<circle cx="361.8" cy="618.3" r="0.46" fill="#262626" stroke="none" opacity="0.82"/>
<circle cx="379.9" cy="619.3" r="1.09" fill="#1e1e1e" stroke="none" opacity="0.95"/>
<path d="M349.5,636.8 L355.6,634.5 L363.2,630.0" stroke="#333" stroke-width="1.28" opacity="0.3"/>
<path d="M349.5,636.8 L355.6,634.5 L363.2,630.0" stroke="#222" stroke-width="0.68" opacity="0.94"/>
<circle cx="355.0" cy="635.0" r="0.68" fill="#262626" stroke="none" opacity="0.67"/>
<circle cx="350.0" cy="635.8" r="0.70" fill="#262626" stroke="none" opacity="0.62"/>
<circle cx="355.1" cy="634.4" r="0.60" fill="#262626" stroke="none" opacity="0.69"/>
<path d="M359.4,642.1 L366.2,637.5 L373.8,633.0 L378.4,631.5" stroke="#333" stroke-width="2.00" opacity="0.3"/>
<path d="M359.4,642.1 L366.2,637.5 L373.8,633.0 L378.4,631.5" stroke="#2a2a2a" stroke-width="1.07" opacity="0.83"/>
<circle cx="361.7" cy="640.2" r="1.01" fill="#262626" stroke="none" opacity="0.87"/>
<circle cx="363.8" cy="639.4" r="0.76" fill="#262626" stroke="none" opacity="0.60"/>
<circle cx="372.9" cy="633.4" r="1.14" fill="#262626" stroke="none" opacity="0.57"/>
<circle cx="368.4" cy="636.4" r="0.89" fill="#262626" stroke="none" opacity="0.60"/>
<circle cx="368.7" cy="636.9" r="0.86" fill="#262626" stroke="none" opacity="0.71"/>
<circle cx="375.5" cy="632.3" r="0.79" fill="#262626" stroke="none" opacity="0.62"/>
<circle cx="376.9" cy="631.2" r="1.14" fill="#262626" stroke="none" opacity="0.77"/>
<path d="M372.3,646.7 L376.8,643.6" stroke="#333" stroke-width="1.28" opacity="0.3"/>
<path d="M372.3,646.7 L376.8,643.6" stroke="#333" stroke-width="0.68" opacity="0.90"/>
<circle cx="373.5" cy="646.1" r="0.71" fill="#262626" stroke="none" opacity="0.84"/>
<path d="M382.9,643.6 L386.0,641.3" stroke="#333" stroke-width="1.28" opacity="0.3"/>
<path d="M382.9,643.6 L386.0,641.3" stroke="#222" stroke-width="0.68" opacity="0.86"/>
<path d="M363.2,666.4 L370.8,657.3 L376.8,652.0 L381.4,650.4" stroke="#333" stroke-width="1.82" opacity="0.3"/>
<path d="M363.2,666.4 L370.8,657.3 L376.8,652.0 L381.4,650.4" stroke="#333" stroke-width="0.97" opacity="0.93"/>
<circle cx="366.4" cy="661.9" r="1.01" fill="#262626" stroke="none" opacity="0.63"/>
<circle cx="364.0" cy="664.2" r="0.94" fill="#262626" stroke="none" opacity="0.63"/>
<circle cx="366.7" cy="662.4" r="0.78" fill="#262626" stroke="none" opacity="0.64"/>
<circle cx="375.5" cy="652.8" r="0.79" fill="#262626" stroke="none" opacity="0.67"/>
<circle cx="379.8" cy="650.5" r="0.89" fill="#262626" stroke="none" opacity="0.75"/>
<path d="M399.6,654.2 L404.2,648.2 L408.7,640.6 L413.3,634.5" stroke="#333" stroke-width="1.64" opacity="0.3"/>
<path d="M399.6,654.2 L404.2,648.2 L408.7,640.6 L413.3,634.5" stroke="#333" stroke-width="0.87" opacity="0.85"/>
<circle cx="402.3" cy="652.1" r="0.73" fill="#262626" stroke="none" opacity="0.69"/>
<circle cx="406.7" cy="643.7" r="0.97" fill="#262626" stroke="none" opacity="0.63"/>
<circle cx="413.0" cy="635.0" r="0.69" fill="#262626" stroke="none" opacity="0.65"/>
<circle cx="404.2" cy="639.8" r="0.93" fill="#1e1e1e" stroke="none" opacity="0.95"/>
<circle cx="408.0" cy="639.1" r="0.93" fill="#1e1e1e" stroke="none" opacity="0.95"/>
<path d="M420.9,634.5 L423.9,628.4" stroke="#333" stroke-width="1.28" opacity="0.3"/>
<path d="M420.9,634.5 L423.9,628.4" stroke="#222" stroke-width="0.68" opacity="0.92"/>
<path d="M434.5,630.7 L440.6,627.7" stroke="#333" stroke-width="1.46" opacity="0.3"/>
<path d="M434.5,630.7 L440.6,627.7" stroke="#333" stroke-width="0.78" opacity="0.88"/>
<circle cx="436.3" cy="630.0" r="0.73" fill="#262626" stroke="none" opacity="0.70"/>
<circle cx="439.6" cy="627.7" r="0.50" fill="#262626" stroke="none" opacity="0.85"/>
<path d="M446.7,630.0 L451.2,626.9" stroke="#333" stroke-width="1.28" opacity="0.3"/>
<path d="M446.7,630.0 L451.2,626.9" stroke="#2a2a2a" stroke-width="0.68" opacity="0.81"/>
<circle cx="451.4" cy="627.5" r="0.53" fill="#262626" stroke="none" opacity="0.51"/>
<path d="M426.9,651.2 L433.0,647.4 L439.1,644.4" stroke="#333" stroke-width="2.00" opacity="0.3"/>
<path d="M426.9,651.2 L433.0,647.4 L439.1,644.4" stroke="#222" stroke-width="1.07" opacity="0.89"/>
<circle cx="428.3" cy="650.8" r="1.13" fill="#262626" stroke="none" opacity="0.88"/>
<circle cx="435.8" cy="646.9" r="1.17" fill="#262626" stroke="none" opacity="0.70"/>
<circle cx="436.4" cy="642.9" r="1.56" fill="#1e1e1e" stroke="none" opacity="0.95"/>
<path d="M431.5,655.8 L436.1,652.0" stroke="#333" stroke-width="1.28" opacity="0.3"/>
<path d="M431.5,655.8 L436.1,652.0" stroke="#333" stroke-width="0.68" opacity="0.86"/>
<circle cx="434.9" cy="652.2" r="0.51" fill="#262626" stroke="none" opacity="0.68"/>
<path d="M405.7,661.8 L411.8,657.3" stroke="#333" stroke-width="1.46" opacity="0.3"/>
<path d="M405.7,661.8 L411.8,657.3" stroke="#333" stroke-width="0.78" opacity="0.80"/>
<circle cx="410.1" cy="658.5" r="0.49" fill="#262626" stroke="none" opacity="0.75"/>
<circle cx="416.3" cy="663.4" r="1.09" fill="#1e1e1e" stroke="none" opacity="0.95"/>
<circle cx="417.8" cy="667.1" r="1.09" fill="#1e1e1e" stroke="none" opacity="0.95"/>
<circle cx="421.6" cy="667.1" r="1.09" fill="#1e1e1e" stroke="none" opacity="0.95"/>
<path d="M439.1,661.1 L445.2,660.3" stroke="#333" stroke-width="1.09" opacity="0.3"/>
<path d="M439.1,661.1 L445.2,660.3" stroke="#1c1c1c" stroke-width="0.58" opacity="0.80"/>
<path d="M349.5,670.9 L354.1,667.9" stroke="#333" stroke-width="1.46" opacity="0.3"/>
<path d="M349.5,670.9 L354.1,667.9" stroke="#1c1c1c" stroke-width="0.78" opacity="0.81"/>
<circle cx="350.5" cy="671.2" r="0.73" fill="#262626" stroke="none" opacity="0.51"/>
<circle cx="353.8" cy="667.7" r="0.55" fill="#262626" stroke="none" opacity="0.55"/>
<path d="M364.7,683.1 L369.3,677.0 L373.8,669.4 L379.9,663.4" stroke="#333" stroke-width="1.82" opacity="0.3"/>
<path d="M364.7,683.1 L369.3,677.0 L373.8,669.4 L379.9,663.4" stroke="#1c1c1c" stroke-width="0.97" opacity="0.85"/>
<circle cx="367.7" cy="680.5" r="0.87" fill="#262626" stroke="none" opacity="0.54"/>
<circle cx="368.7" cy="678.4" r="0.93" fill="#262626" stroke="none" opacity="0.79"/>
<circle cx="366.7" cy="679.3" r="1.13" fill="#262626" stroke="none" opacity="0.82"/>
<circle cx="372.9" cy="670.8" r="1.11" fill="#262626" stroke="none" opacity="0.56"/>
<circle cx="376.2" cy="667.1" r="0.99" fill="#262626" stroke="none" opacity="0.62"/>
<circle cx="373.5" cy="669.5" r="0.89" fill="#262626" stroke="none" opacity="0.70"/>
<circle cx="370.0" cy="676.3" r="1.56" fill="#1e1e1e" stroke="none" opacity="0.95"/>
<circle cx="389.7" cy="674.7" r="1.40" fill="#1e1e1e" stroke="none" opacity="0.95"/>
<circle cx="398.1" cy="680.1" r="1.24" fill="#1e1e1e" stroke="none" opacity="0.95"/>
<circle cx="445.2" cy="683.1" r="1.40" fill="#1e1e1e" stroke="none" opacity="0.95"/>
<path d="M376.8,684.6 L384.4,680.8 L393.5,675.5" stroke="#333" stroke-width="1.46" opacity="0.3"/>
<path d="M376.8,684.6 L384.4,680.8 L393.5,675.5" stroke="#2a2a2a" stroke-width="0.78" opacity="0.90"/>
<circle cx="379.5" cy="682.6" r="0.86" fill="#262626" stroke="none" opacity="0.77"/>
<circle cx="381.3" cy="682.6" r="0.74" fill="#262626" stroke="none" opacity="0.55"/>
<circle cx="387.8" cy="679.6" r="0.54" fill="#262626" stroke="none" opacity="0.81"/>
<circle cx="392.7" cy="675.4" r="0.90" fill="#262626" stroke="none" opacity="0.78"/>
<path d="M413.3,696.0 L420.9,690.7 L426.9,686.1" stroke="#333" stroke-width="1.64" opacity="0.3"/>
<path d="M413.3,696.0 L420.9,690.7 L426.9,686.1" stroke="#1c1c1c" stroke-width="0.87" opacity="0.87"/>
<circle cx="416.9" cy="693.6" r="0.57" fill="#262626" stroke="none" opacity="0.51"/>
<circle cx="426.0" cy="685.7" r="0.72" fill="#262626" stroke="none" opacity="0.69"/>
<circle cx="423.9" cy="688.4" r="0.99" fill="#262626" stroke="none" opacity="0.81"/>
<path d="M439.1,680.1 L446.7,674.0" stroke="#333" stroke-width="1.09" opacity="0.3"/>
<path d="M439.1,680.1 L446.7,674.0" stroke="#222" stroke-width="0.58" opacity="0.84"/>
<circle cx="445.8" cy="674.0" r="0.63" fill="#262626" stroke="none" opacity="0.65"/>
<circle cx="444.8" cy="675.6" r="0.50" fill="#262626" stroke="none" opacity="0.75"/>
<path d="M442.1,693.7 L448.2,686.1 L452.0,681.6" stroke="#333" stroke-width="1.28" opacity="0.3"/>
<path d="M442.1,693.7 L448.2,686.1 L452.0,681.6" stroke="#2a2a2a" stroke-width="0.68" opacity="0.80"/>
<circle cx="444.3" cy="691.0" r="0.58" fill="#262626" stroke="none" opacity="0.87"/>
<circle cx="447.6" cy="687.7" r="0.74" fill="#262626" stroke="none" opacity="0.88"/>
<circle cx="448.3" cy="685.3" r="0.50" fill="#262626" stroke="none" opacity="0.59"/>
<path d="M349.5,658.8 L352.6,656.5" stroke="#333" stroke-width="1.09" opacity="0.3"/>
<path d="M349.5,658.8 L352.6,656.5" stroke="#222" stroke-width="0.58" opacity="0.85"/>
<circle cx="351.7" cy="657.6" r="0.43" fill="#262626" stroke="none" opacity="0.84"/>
<path d="M381.4,693.7 L386.0,692.2" stroke="#333" stroke-width="1.09" opacity="0.3"/>
<path d="M381.4,693.7 L386.0,692.2" stroke="#333" stroke-width="0.58" opacity="0.85"/>
<circle cx="384.3" cy="693.2" r="0.38" fill="#262626" stroke="none" opacity="0.51"/>
<circle cx="367.7" cy="691.4" r="1.09" fill="#1e1e1e" stroke="none" opacity="0.95"/>
<path d="M445.2,598.1 L451.2,595.0" stroke="#333" stroke-width="0.91" opacity="0.3"/>
<path d="M445.2,598.1 L451.2,595.0" stroke="#2a2a2a" stroke-width="0.49" opacity="0.91"/>
<circle cx="446.1" cy="598.2" r="0.46" fill="#262626" stroke="none" opacity="0.64"/>
<circle cx="445.8" cy="597.9" r="0.54" fill="#262626" stroke="none" opacity="0.64"/>
<path d="M393.5,595.0 L399.6,593.5" stroke="#333" stroke-width="0.91" opacity="0.3"/>
<path d="M393.5,595.0 L399.6,593.5" stroke="#222" stroke-width="0.49" opacity="0.94"/>
<circle cx="397.3" cy="594.6" r="0.43" fill="#262626" stroke="none" opacity="0.84"/>
<circle cx="394.9" cy="595.3" r="0.50" fill="#262626" stroke="none" opacity="0.80"/>
<path d="M247.0,715.7 L253.1,709.7 L259.2,703.6 L263.7,699.8" stroke="#333" stroke-width="2.00" opacity="0.3"/>
<path d="M247.0,715.7 L253.1,709.7 L259.2,703.6 L263.7,699.8" stroke="#2a2a2a" stroke-width="1.07" opacity="0.93"/>
<circle cx="250.3" cy="712.1" r="0.78" fill="#262626" stroke="none" opacity="0.71"/>
<circle cx="256.6" cy="707.6" r="0.94" fill="#262626" stroke="none" opacity="0.51"/>
<circle cx="253.2" cy="709.7" r="0.68" fill="#262626" stroke="none" opacity="0.80"/>
<circle cx="253.7" cy="709.5" r="1.12" fill="#262626" stroke="none" opacity="0.58"/>
<circle cx="261.8" cy="701.6" r="0.69" fill="#262626" stroke="none" opacity="0.88"/>
<circle cx="261.8" cy="700.5" r="0.83" fill="#262626" stroke="none" opacity="0.55"/>
<circle cx="247.8" cy="716.5" r="1.71" fill="#1e1e1e" stroke="none" opacity="0.95"/>
<path d="M267.5,714.2 L274.4,709.7 L282.0,704.3" stroke="#333" stroke-width="1.28" opacity="0.3"/>
<path d="M267.5,714.2 L274.4,709.7 L282.0,704.3" stroke="#2a2a2a" stroke-width="0.68" opacity="0.81"/>
<circle cx="271.0" cy="712.7" r="0.64" fill="#262626" stroke="none" opacity="0.85"/>
<circle cx="276.0" cy="709.5" r="0.58" fill="#262626" stroke="none" opacity="0.81"/>
<circle cx="276.3" cy="707.8" r="0.43" fill="#262626" stroke="none" opacity="0.55"/>
<path d="M282.0,713.5 L288.0,708.9 L294.1,704.3 L300.2,699.8" stroke="#333" stroke-width="2.37" opacity="0.3"/>
<path d="M282.0,713.5 L288.0,708.9 L294.1,704.3 L300.2,699.8" stroke="#222" stroke-width="1.26" opacity="0.87"/>
<circle cx="290.7" cy="706.5" r="1.48" fill="#262626" stroke="none" opacity="0.87"/>
<circle cx="293.3" cy="705.3" r="1.24" fill="#262626" stroke="none" opacity="0.82"/>
<circle cx="297.7" cy="701.9" r="1.38" fill="#262626" stroke="none" opacity="0.86"/>
<circle cx="299.6" cy="699.8" r="1.33" fill="#262626" stroke="none" opacity="0.58"/>
<path d="M318.4,707.4 L324.5,702.8 L330.5,698.3 L334.3,696.8" stroke="#333" stroke-width="1.64" opacity="0.3"/>
<path d="M318.4,707.4 L324.5,702.8 L330.5,698.3 L334.3,696.8" stroke="#333" stroke-width="0.87" opacity="0.94"/>
<circle cx="318.0" cy="707.6" r="0.71" fill="#262626" stroke="none" opacity="0.85"/>
<circle cx="321.4" cy="705.8" r="0.63" fill="#262626" stroke="none" opacity="0.51"/>
<circle cx="328.3" cy="701.0" r="0.83" fill="#262626" stroke="none" opacity="0.55"/>
<circle cx="327.0" cy="701.5" r="0.65" fill="#262626" stroke="none" opacity="0.72"/>
<circle cx="333.4" cy="696.6" r="0.62" fill="#262626" stroke="none" opacity="0.89"/>
<path d="M324.5,705.1 L322.9,712.7 L318.4,719.5" stroke="#333" stroke-width="1.28" opacity="0.3"/>
<path d="M324.5,705.1 L322.9,712.7 L318.4,719.5" stroke="#2a2a2a" stroke-width="0.68" opacity="0.87"/>
<circle cx="324.5" cy="707.0" r="0.74" fill="#262626" stroke="none" opacity="0.74"/>
<circle cx="286.5" cy="721.0" r="1.40" fill="#1e1e1e" stroke="none" opacity="0.95"/>
<path d="M301.7,728.6 L306.2,723.3 L312.3,717.3" stroke="#333" stroke-width="1.46" opacity="0.3"/>
<path d="M301.7,728.6 L306.2,723.3 L312.3,717.3" stroke="#222" stroke-width="0.78" opacity="0.82"/>
<circle cx="305.1" cy="724.1" r="0.76" fill="#262626" stroke="none" opacity="0.68"/>
<circle cx="303.8" cy="727.0" r="0.55" fill="#262626" stroke="none" opacity="0.58"/>
<circle cx="311.9" cy="718.7" r="0.88" fill="#262626" stroke="none" opacity="0.57"/>
<circle cx="312.4" cy="717.6" r="0.83" fill="#262626" stroke="none" opacity="0.78"/>
<path d="M338.1,724.1 L344.2,721.0 L348.0,718.8" stroke="#333" stroke-width="1.46" opacity="0.3"/>
<path d="M338.1,724.1 L344.2,721.0 L348.0,718.8" stroke="#1c1c1c" stroke-width="0.78" opacity="0.80"/>
<circle cx="338.8" cy="723.5" r="0.86" fill="#262626" stroke="none" opacity="0.89"/>
<circle cx="345.8" cy="721.1" r="0.86" fill="#262626" stroke="none" opacity="0.77"/>
<circle cx="344.1" cy="721.4" r="0.73" fill="#262626" stroke="none" opacity="0.67"/>
<path d="M319.1,732.4 L322.2,728.6 L327.5,724.8" stroke="#333" stroke-width="1.64" opacity="0.3"/>
<path d="M319.1,732.4 L322.2,728.6 L327.5,724.8" stroke="#333" stroke-width="0.87" opacity="0.91"/>
<circle cx="319.6" cy="730.8" r="0.67" fill="#262626" stroke="none" opacity="0.56"/>
<circle cx="327.8" cy="724.6" r="0.83" fill="#262626" stroke="none" opacity="0.77"/>
<circle cx="320.7" cy="731.7" r="1.71" fill="#1e1e1e" stroke="none" opacity="0.95"/>
<path d="M271.3,731.7 L277.4,728.6" stroke="#333" stroke-width="1.28" opacity="0.3"/>
<path d="M271.3,731.7 L277.4,728.6" stroke="#222" stroke-width="0.68" opacity="0.93"/>
<circle cx="273.7" cy="730.1" r="0.59" fill="#262626" stroke="none" opacity="0.85"/>
<path d="M253.1,727.9 L256.1,727.1" stroke="#333" stroke-width="1.09" opacity="0.3"/>
<path d="M253.1,727.9 L256.1,727.1" stroke="#1c1c1c" stroke-width="0.58" opacity="0.82"/>
<circle cx="254.9" cy="727.5" r="0.49" fill="#262626" stroke="none" opacity="0.88"/>
<path d="M283.5,748.4 L289.5,744.6 L295.6,738.5 L301.7,735.5 L303.2,730.9" stroke="#333" stroke-width="2.00" opacity="0.3"/>
<path d="M283.5,748.4 L289.5,744.6 L295.6,738.5 L301.7,735.5 L303.2,730.9" stroke="#222" stroke-width="1.07" opacity="0.85"/>
<circle cx="286.5" cy="746.3" r="1.12" fill="#262626" stroke="none" opacity="0.73"/>
<circle cx="287.6" cy="745.7" r="1.09" fill="#262626" stroke="none" opacity="0.73"/>
<circle cx="291.3" cy="742.9" r="0.72" fill="#262626" stroke="none" opacity="0.71"/>
<circle cx="292.4" cy="741.3" r="0.81" fill="#262626" stroke="none" opacity="0.54"/>
<circle cx="299.2" cy="737.0" r="0.71" fill="#262626" stroke="none" opacity="0.84"/>
<circle cx="297.9" cy="736.4" r="0.82" fill="#262626" stroke="none" opacity="0.72"/>
<circle cx="301.9" cy="733.4" r="0.80" fill="#262626" stroke="none" opacity="0.51"/>
<circle cx="301.2" cy="734.6" r="0.76" fill="#262626" stroke="none" opacity="0.63"/>
<circle cx="292.9" cy="738.8" r="1.71" fill="#1e1e1e" stroke="none" opacity="0.95"/>
<path d="M302.4,740.8 L305.5,741.5" stroke="#333" stroke-width="2.19" opacity="0.3"/>
<path d="M302.4,740.8 L305.5,741.5" stroke="#1c1c1c" stroke-width="1.17" opacity="0.92"/>
<circle cx="304.6" cy="740.8" r="1.18" fill="#262626" stroke="none" opacity="0.71"/>
<path d="M263.7,744.6 L266.8,740.0 L270.6,737.7" stroke="#333" stroke-width="1.64" opacity="0.3"/>
<path d="M263.7,744.6 L266.8,740.0 L270.6,737.7" stroke="#1c1c1c" stroke-width="0.87" opacity="0.87"/>
<path d="M250.1,745.3 L254.6,743.8" stroke="#333" stroke-width="1.28" opacity="0.3"/>
<path d="M250.1,745.3 L254.6,743.8" stroke="#222" stroke-width="0.68" opacity="0.91"/>
<circle cx="250.8" cy="744.9" r="0.80" fill="#262626" stroke="none" opacity="0.82"/>
<circle cx="285.0" cy="741.2" r="1.09" fill="#1e1e1e" stroke="none" opacity="0.95"/>
<circle cx="301.7" cy="746.9" r="1.09" fill="#1e1e1e" stroke="none" opacity="0.95"/>
<path d="M245.5,767.4 L250.1,761.3 L255.4,757.5 L259.2,751.4 L262.2,746.9" stroke="#333" stroke-width="2.00" opacity="0.3"/>
<path d="M245.5,767.4 L250.1,761.3 L255.4,757.5 L259.2,751.4 L262.2,746.9" stroke="#2a2a2a" stroke-width="1.07" opacity="0.85"/>
<circle cx="247.3" cy="765.1" r="1.06" fill="#262626" stroke="none" opacity="0.74"/>
<circle cx="249.7" cy="762.6" r="0.88" fill="#262626" stroke="none" opacity="0.75"/>
<circle cx="249.8" cy="762.7" r="1.10" fill="#262626" stroke="none" opacity="0.68"/>
<circle cx="252.1" cy="759.5" r="0.94" fill="#262626" stroke="none" opacity="0.66"/>
<circle cx="257.7" cy="754.0" r="1.13" fill="#262626" stroke="none" opacity="0.72"/>
<circle cx="260.9" cy="748.0" r="1.19" fill="#262626" stroke="none" opacity="0.65"/>
<path d="M275.9,758.2 L280.4,754.4 L284.2,752.2" stroke="#333" stroke-width="1.64" opacity="0.3"/>
<path d="M275.9,758.2 L280.4,754.4 L284.2,752.2" stroke="#2a2a2a" stroke-width="0.87" opacity="0.83"/>
<circle cx="277.0" cy="756.8" r="0.78" fill="#262626" stroke="none" opacity="0.69"/>
<circle cx="279.3" cy="755.2" r="0.75" fill="#262626" stroke="none" opacity="0.68"/>
<circle cx="280.3" cy="753.6" r="0.90" fill="#262626" stroke="none" opacity="0.73"/>
<circle cx="283.8" cy="757.2" r="1.09" fill="#1e1e1e" stroke="none" opacity="0.95"/>
<path d="M263.7,768.9 L267.5,767.4" stroke="#333" stroke-width="1.64" opacity="0.3"/>
<path d="M263.7,768.9 L267.5,767.4" stroke="#222" stroke-width="0.87" opacity="0.83"/>
<circle cx="266.3" cy="768.4" r="0.63" fill="#262626" stroke="none" opacity="0.66"/>
<path d="M268.3,767.4 L275.9,762.8" stroke="#333" stroke-width="1.28" opacity="0.3"/>
<path d="M268.3,767.4 L275.9,762.8" stroke="#222" stroke-width="0.68" opacity="0.91"/>
<circle cx="275.5" cy="763.6" r="0.62" fill="#262626" stroke="none" opacity="0.84"/>
<circle cx="274.3" cy="763.3" r="0.50" fill="#262626" stroke="none" opacity="0.75"/>
<path d="M313.8,738.5 L318.4,735.5" stroke="#333" stroke-width="1.09" opacity="0.3"/>
<path d="M313.8,738.5 L318.4,735.5" stroke="#1c1c1c" stroke-width="0.58" opacity="0.95"/>
<circle cx="314.0" cy="738.9" r="0.59" fill="#262626" stroke="none" opacity="0.72"/>
<path d="M322.9,746.1 L329.0,743.1" stroke="#333" stroke-width="1.28" opacity="0.3"/>
<path d="M322.9,746.1 L329.0,743.1" stroke="#333" stroke-width="0.68" opacity="0.87"/>
<path d="M330.5,759.0 L335.1,758.2" stroke="#333" stroke-width="1.28" opacity="0.3"/>
<path d="M330.5,759.0 L335.1,758.2" stroke="#2a2a2a" stroke-width="0.68" opacity="0.91"/>
<path d="M335.1,766.6 L341.2,761.3 L346.5,756.0" stroke="#333" stroke-width="2.00" opacity="0.3"/>
<path d="M335.1,766.6 L341.2,761.3 L346.5,756.0" stroke="#2a2a2a" stroke-width="1.07" opacity="0.81"/>
<circle cx="340.9" cy="761.6" r="0.92" fill="#262626" stroke="none" opacity="0.63"/>
<circle cx="334.7" cy="766.0" r="1.08" fill="#262626" stroke="none" opacity="0.66"/>
<circle cx="341.8" cy="761.0" r="1.01" fill="#262626" stroke="none" opacity="0.70"/>
<circle cx="344.4" cy="757.9" r="1.17" fill="#262626" stroke="none" opacity="0.90"/>
<circle cx="342.7" cy="759.0" r="0.79" fill="#262626" stroke="none" opacity="0.61"/>
<path d="M309.3,774.2 L315.4,767.4 L321.4,764.3 L330.5,759.0" stroke="#333" stroke-width="1.46" opacity="0.3"/>
<path d="M309.3,774.2 L315.4,767.4 L321.4,764.3 L330.5,759.0" stroke="#1c1c1c" stroke-width="0.78" opacity="0.93"/>
<circle cx="312.0" cy="771.1" r="0.60" fill="#262626" stroke="none" opacity="0.81"/>
<circle cx="309.8" cy="774.0" r="0.86" fill="#262626" stroke="none" opacity="0.70"/>
<circle cx="313.9" cy="769.5" r="0.80" fill="#262626" stroke="none" opacity="0.55"/>
<circle cx="318.1" cy="766.4" r="0.63" fill="#262626" stroke="none" opacity="0.68"/>
<circle cx="327.0" cy="760.6" r="0.69" fill="#262626" stroke="none" opacity="0.81"/>
<circle cx="324.9" cy="762.9" r="0.78" fill="#262626" stroke="none" opacity="0.86"/>
<path d="M298.7,767.4 L304.7,771.1 L309.3,774.2" stroke="#333" stroke-width="1.46" opacity="0.3"/>
<path d="M298.7,767.4 L304.7,771.1 L309.3,774.2" stroke="#1c1c1c" stroke-width="0.78" opacity="0.85"/>
<circle cx="299.9" cy="768.5" r="0.51" fill="#262626" stroke="none" opacity="0.70"/>
<circle cx="301.0" cy="769.5" r="0.71" fill="#262626" stroke="none" opacity="0.83"/>
<circle cx="303.5" cy="771.3" r="0.55" fill="#262626" stroke="none" opacity="0.64"/>
<circle cx="306.5" cy="772.5" r="0.89" fill="#262626" stroke="none" opacity="0.90"/>
<path d="M245.5,784.1 L251.6,778.7 L259.2,773.4" stroke="#333" stroke-width="1.64" opacity="0.3"/>
<path d="M245.5,784.1 L251.6,778.7 L259.2,773.4" stroke="#333" stroke-width="0.87" opacity="0.85"/>
<circle cx="251.2" cy="778.6" r="0.57" fill="#262626" stroke="none" opacity="0.55"/>
<circle cx="247.6" cy="782.8" r="0.65" fill="#262626" stroke="none" opacity="0.71"/>
<circle cx="258.5" cy="774.3" r="1.03" fill="#262626" stroke="none" opacity="0.62"/>
<path d="M282.0,781.0 L286.5,774.9 L291.1,771.1" stroke="#333" stroke-width="1.46" opacity="0.3"/>
<path d="M282.0,781.0 L286.5,774.9 L291.1,771.1" stroke="#333" stroke-width="0.78" opacity="0.85"/>
<circle cx="284.7" cy="779.2" r="0.66" fill="#262626" stroke="none" opacity="0.67"/>
<circle cx="287.6" cy="773.4" r="0.84" fill="#262626" stroke="none" opacity="0.87"/>
<path d="M253.1,793.2 L259.2,789.4 L262.2,786.3" stroke="#333" stroke-width="1.28" opacity="0.3"/>
<path d="M253.1,793.2 L259.2,789.4 L262.2,786.3" stroke="#1c1c1c" stroke-width="0.68" opacity="0.84"/>
<circle cx="253.6" cy="793.2" r="0.51" fill="#262626" stroke="none" opacity="0.83"/>
<circle cx="257.6" cy="789.5" r="0.59" fill="#262626" stroke="none" opacity="0.65"/>
<circle cx="259.5" cy="789.0" r="0.76" fill="#262626" stroke="none" opacity="0.76"/>
<path d="M289.5,793.2 L297.1,788.6 L304.7,784.1" stroke="#333" stroke-width="1.28" opacity="0.3"/>
<path d="M289.5,793.2 L297.1,788.6 L304.7,784.1" stroke="#333" stroke-width="0.68" opacity="0.94"/>
<circle cx="296.3" cy="789.9" r="0.69" fill="#262626" stroke="none" opacity="0.61"/>
<circle cx="296.6" cy="789.7" r="0.76" fill="#262626" stroke="none" opacity="0.52"/>
<circle cx="301.4" cy="785.3" r="0.52" fill="#262626" stroke="none" opacity="0.77"/>
<circle cx="299.6" cy="787.7" r="0.63" fill="#262626" stroke="none" opacity="0.71"/>
<circle cx="300.6" cy="787.3" r="0.57" fill="#262626" stroke="none" opacity="0.57"/>
<path d="M310.8,797.7 L316.9,793.2" stroke="#333" stroke-width="1.28" opacity="0.3"/>
<path d="M310.8,797.7 L316.9,793.2" stroke="#2a2a2a" stroke-width="0.68" opacity="0.91"/>
<circle cx="313.7" cy="794.6" r="0.47" fill="#262626" stroke="none" opacity="0.78"/>
<path d="M329.0,797.7 L335.1,791.6 L342.7,786.3" stroke="#333" stroke-width="1.46" opacity="0.3"/>
<path d="M329.0,797.7 L335.1,791.6 L342.7,786.3" stroke="#222" stroke-width="0.78" opacity="0.85"/>
<circle cx="332.0" cy="794.7" r="0.85" fill="#262626" stroke="none" opacity="0.83"/>
<circle cx="342.8" cy="786.7" r="0.72" fill="#262626" stroke="none" opacity="0.70"/>
<circle cx="341.7" cy="786.7" r="0.59" fill="#262626" stroke="none" opacity="0.88"/>
<path d="M313.8,787.1 L319.9,783.3 L326.0,779.5" stroke="#333" stroke-width="1.09" opacity="0.3"/>
<path d="M313.8,787.1 L319.9,783.3 L326.0,779.5" stroke="#1c1c1c" stroke-width="0.58" opacity="0.95"/>
<circle cx="314.9" cy="785.8" r="0.52" fill="#262626" stroke="none" opacity="0.88"/>
<circle cx="320.8" cy="782.4" r="0.52" fill="#262626" stroke="none" opacity="0.60"/>
<circle cx="324.3" cy="780.2" r="0.65" fill="#262626" stroke="none" opacity="0.62"/>
<circle cx="325.1" cy="779.6" r="0.67" fill="#262626" stroke="none" opacity="0.88"/>
<circle cx="344.2" cy="779.5" r="1.24" fill="#1e1e1e" stroke="none" opacity="0.95"/>
<path d="M342.7,740.8 L348.0,739.3" stroke="#333" stroke-width="1.28" opacity="0.3"/>
<path d="M342.7,740.8 L348.0,739.3" stroke="#222" stroke-width="0.68" opacity="0.82"/>
<circle cx="345.4" cy="739.7" r="0.74" fill="#262626" stroke="none" opacity="0.80"/>
<path d="M291.1,796.2 L294.1,795.9" stroke="#333" stroke-width="1.82" opacity="0.3"/>
<path d="M291.1,796.2 L294.1,795.9" stroke="#222" stroke-width="0.97" opacity="0.86"/>
<circle cx="292.8" cy="795.3" r="0.80" fill="#262626" stroke="none" opacity="0.65"/>
<circle cx="250.8" cy="797.4" r="1.24" fill="#1e1e1e" stroke="none" opacity="0.95"/>
<circle cx="278.2" cy="797.4" r="1.09" fill="#1e1e1e" stroke="none" opacity="0.95"/>
<path d="M271.3,781.0 L274.4,784.1" stroke="#333" stroke-width="1.09" opacity="0.3"/>
<path d="M271.3,781.0 L274.4,784.1" stroke="#1c1c1c" stroke-width="0.58" opacity="0.88"/>
<circle cx="272.8" cy="783.3" r="0.46" fill="#262626" stroke="none" opacity="0.80"/>
<path d="M304.7,756.7 L312.3,754.4" stroke="#333" stroke-width="0.91" opacity="0.3"/>
<path d="M304.7,756.7 L312.3,754.4" stroke="#1c1c1c" stroke-width="0.49" opacity="0.85"/>
<circle cx="309.7" cy="754.9" r="0.57" fill="#262626" stroke="none" opacity="0.87"/>
<path d="M349.5,717.3 L355.6,711.9 L361.7,705.9 L367.7,700.6" stroke="#333" stroke-width="1.64" opacity="0.3"/>
<path d="M349.5,717.3 L355.6,711.9 L361.7,705.9 L367.7,700.6" stroke="#1c1c1c" stroke-width="0.87" opacity="0.94"/>
<circle cx="355.4" cy="712.4" r="0.90" fill="#262626" stroke="none" opacity="0.89"/>
<circle cx="359.0" cy="709.3" r="0.71" fill="#262626" stroke="none" opacity="0.67"/>
<circle cx="364.8" cy="702.9" r="1.01" fill="#262626" stroke="none" opacity="0.63"/>
<circle cx="366.9" cy="701.8" r="0.68" fill="#262626" stroke="none" opacity="0.56"/>
<path d="M370.8,705.4 L370.8,707.8" stroke="#333" stroke-width="2.19" opacity="0.3"/>
<path d="M370.8,705.4 L370.8,707.8" stroke="#2a2a2a" stroke-width="1.17" opacity="0.95"/>
<circle cx="371.3" cy="706.7" r="1.22" fill="#262626" stroke="none" opacity="0.66"/>
<circle cx="363.2" cy="721.0" r="1.40" fill="#1e1e1e" stroke="none" opacity="0.95"/>
<path d="M373.0,731.7 L376.8,725.6 L381.4,720.3 L386.0,716.5" stroke="#333" stroke-width="1.46" opacity="0.3"/>
<path d="M373.0,731.7 L376.8,725.6 L381.4,720.3 L386.0,716.5" stroke="#2a2a2a" stroke-width="0.78" opacity="0.80"/>
<circle cx="375.3" cy="726.8" r="0.77" fill="#262626" stroke="none" opacity="0.71"/>
<circle cx="378.3" cy="724.8" r="0.66" fill="#262626" stroke="none" opacity="0.70"/>
<circle cx="378.9" cy="723.0" r="0.70" fill="#262626" stroke="none" opacity="0.55"/>
<path d="M396.6,705.1 L401.1,701.3" stroke="#333" stroke-width="1.09" opacity="0.3"/>
<path d="M396.6,705.1 L401.1,701.3" stroke="#222" stroke-width="0.58" opacity="0.89"/>
<circle cx="400.8" cy="702.1" r="0.62" fill="#262626" stroke="none" opacity="0.54"/>
<circle cx="399.9" cy="701.4" r="0.65" fill="#262626" stroke="none" opacity="0.58"/>
<path d="M405.7,724.8 L411.8,717.3 L416.3,710.4 L422.4,703.6" stroke="#333" stroke-width="1.46" opacity="0.3"/>
<path d="M405.7,724.8 L411.8,717.3 L416.3,710.4 L422.4,703.6" stroke="#333" stroke-width="0.78" opacity="0.90"/>
<circle cx="408.5" cy="722.2" r="0.62" fill="#262626" stroke="none" opacity="0.80"/>
<circle cx="406.8" cy="724.0" r="0.72" fill="#262626" stroke="none" opacity="0.89"/>
<circle cx="412.9" cy="715.2" r="0.52" fill="#262626" stroke="none" opacity="0.77"/>
<circle cx="413.6" cy="715.6" r="0.81" fill="#262626" stroke="none" opacity="0.75"/>
<circle cx="419.1" cy="706.9" r="0.63" fill="#262626" stroke="none" opacity="0.87"/>
<circle cx="421.7" cy="704.5" r="0.60" fill="#262626" stroke="none" opacity="0.86"/>
<path d="M420.9,718.8 L426.9,715.7" stroke="#333" stroke-width="1.28" opacity="0.3"/>
<path d="M420.9,718.8 L426.9,715.7" stroke="#222" stroke-width="0.68" opacity="0.92"/>
<circle cx="421.6" cy="717.9" r="0.50" fill="#262626" stroke="none" opacity="0.69"/>
<circle cx="434.5" cy="720.3" r="1.09" fill="#1e1e1e" stroke="none" opacity="0.95"/>
<circle cx="430.0" cy="731.7" r="1.56" fill="#1e1e1e" stroke="none" opacity="0.95"/>
<path d="M433.0,709.7 L439.1,706.6 L445.2,702.1" stroke="#333" stroke-width="1.28" opacity="0.3"/>
<path d="M433.0,709.7 L439.1,706.6 L445.2,702.1" stroke="#1c1c1c" stroke-width="0.68" opacity="0.88"/>
<circle cx="434.0" cy="709.5" r="0.53" fill="#262626" stroke="none" opacity="0.55"/>
<circle cx="436.6" cy="707.8" r="0.48" fill="#262626" stroke="none" opacity="0.65"/>
<circle cx="439.1" cy="706.3" r="0.79" fill="#262626" stroke="none" opacity="0.89"/>
<circle cx="445.0" cy="702.6" r="0.58" fill="#262626" stroke="none" opacity="0.79"/>
<path d="M408.0,737.0 L413.3,734.0 L419.4,731.7" stroke="#333" stroke-width="2.00" opacity="0.3"/>
<path d="M408.0,737.0 L413.3,734.0 L419.4,731.7" stroke="#333" stroke-width="1.07" opacity="0.90"/>
<circle cx="411.8" cy="735.5" r="1.16" fill="#262626" stroke="none" opacity="0.64"/>
<circle cx="418.9" cy="732.2" r="0.96" fill="#262626" stroke="none" opacity="0.68"/>
<path d="M380.6,737.0 L385.2,735.2" stroke="#333" stroke-width="1.46" opacity="0.3"/>
<path d="M380.6,737.0 L385.2,735.2" stroke="#222" stroke-width="0.78" opacity="0.81"/>
<circle cx="381.3" cy="736.5" r="0.57" fill="#262626" stroke="none" opacity="0.73"/>
<circle cx="382.3" cy="735.8" r="0.52" fill="#262626" stroke="none" opacity="0.74"/>
<path d="M349.5,737.0 L355.6,734.7" stroke="#333" stroke-width="1.09" opacity="0.3"/>
<path d="M349.5,737.0 L355.6,734.7" stroke="#2a2a2a" stroke-width="0.58" opacity="0.87"/>
<circle cx="353.2" cy="735.0" r="0.59" fill="#262626" stroke="none" opacity="0.83"/>
<path d="M358.6,728.6 L364.7,727.9" stroke="#333" stroke-width="1.09" opacity="0.3"/>
<path d="M358.6,728.6 L364.7,727.9" stroke="#222" stroke-width="0.58" opacity="0.90"/>
<path d="M361.7,758.2 L367.7,754.4 L373.8,749.1 L377.6,746.1" stroke="#333" stroke-width="2.00" opacity="0.3"/>
<path d="M361.7,758.2 L367.7,754.4 L373.8,749.1 L377.6,746.1" stroke="#333" stroke-width="1.07" opacity="0.89"/>
<circle cx="362.5" cy="757.5" r="1.11" fill="#262626" stroke="none" opacity="0.63"/>
<circle cx="363.1" cy="757.3" r="1.24" fill="#262626" stroke="none" opacity="0.64"/>
<circle cx="371.9" cy="749.7" r="0.75" fill="#262626" stroke="none" opacity="0.72"/>
<circle cx="355.6" cy="750.7" r="1.71" fill="#1e1e1e" stroke="none" opacity="0.95"/>
<path d="M390.5,754.4 L396.6,749.1 L401.1,743.8" stroke="#333" stroke-width="2.00" opacity="0.3"/>
<path d="M390.5,754.4 L396.6,749.1 L401.1,743.8" stroke="#222" stroke-width="1.07" opacity="0.82"/>
<circle cx="394.7" cy="749.6" r="1.12" fill="#262626" stroke="none" opacity="0.68"/>
<circle cx="396.7" cy="749.9" r="1.11" fill="#262626" stroke="none" opacity="0.61"/>
<path d="M426.9,751.4 L433.0,746.9 L439.1,743.1 L446.7,740.0" stroke="#333" stroke-width="1.28" opacity="0.3"/>
<path d="M426.9,751.4 L433.0,746.9 L439.1,743.1 L446.7,740.0" stroke="#222" stroke-width="0.68" opacity="0.88"/>
<circle cx="428.3" cy="751.6" r="0.44" fill="#262626" stroke="none" opacity="0.87"/>
<circle cx="436.6" cy="745.4" r="0.64" fill="#262626" stroke="none" opacity="0.62"/>
<circle cx="439.9" cy="742.3" r="0.48" fill="#262626" stroke="none" opacity="0.76"/>
<circle cx="447.1" cy="740.4" r="0.49" fill="#262626" stroke="none" opacity="0.52"/>
<path d="M349.5,758.2 L354.1,756.0" stroke="#333" stroke-width="1.09" opacity="0.3"/>
<path d="M349.5,758.2 L354.1,756.0" stroke="#1c1c1c" stroke-width="0.58" opacity="0.94"/>
<circle cx="350.5" cy="757.4" r="0.47" fill="#262626" stroke="none" opacity="0.81"/>
<circle cx="352.6" cy="781.0" r="1.24" fill="#1e1e1e" stroke="none" opacity="0.95"/>
<path d="M354.1,790.1 L360.1,785.6 L366.2,780.3 L370.8,776.5" stroke="#333" stroke-width="1.46" opacity="0.3"/>
<path d="M354.1,790.1 L360.1,785.6 L366.2,780.3 L370.8,776.5" stroke="#1c1c1c" stroke-width="0.78" opacity="0.86"/>
<circle cx="355.7" cy="787.7" r="0.76" fill="#262626" stroke="none" opacity="0.80"/>
<circle cx="354.1" cy="790.0" r="0.61" fill="#262626" stroke="none" opacity="0.81"/>
<circle cx="357.9" cy="787.8" r="0.80" fill="#262626" stroke="none" opacity="0.59"/>
<circle cx="362.9" cy="783.9" r="0.81" fill="#262626" stroke="none" opacity="0.51"/>
<circle cx="365.0" cy="781.2" r="0.75" fill="#262626" stroke="none" opacity="0.59"/>
<circle cx="367.7" cy="778.7" r="0.55" fill="#262626" stroke="none" opacity="0.80"/>
<circle cx="366.5" cy="779.7" r="0.82" fill="#262626" stroke="none" opacity="0.83"/>
<path d="M358.6,797.7 L364.7,794.7" stroke="#333" stroke-width="1.46" opacity="0.3"/>
<path d="M358.6,797.7 L364.7,794.7" stroke="#2a2a2a" stroke-width="0.78" opacity="0.91"/>
<circle cx="364.5" cy="795.0" r="0.55" fill="#262626" stroke="none" opacity="0.87"/>
<path d="M386.0,794.7 L392.0,790.1 L396.6,786.3" stroke="#333" stroke-width="2.00" opacity="0.3"/>
<path d="M386.0,794.7 L392.0,790.1 L396.6,786.3" stroke="#2a2a2a" stroke-width="1.07" opacity="0.86"/>
<circle cx="388.0" cy="791.9" r="1.19" fill="#262626" stroke="none" opacity="0.75"/>
<circle cx="393.6" cy="788.7" r="1.03" fill="#262626" stroke="none" opacity="0.70"/>
<path d="M433.0,787.1 L439.1,779.5 L445.2,771.9" stroke="#333" stroke-width="1.82" opacity="0.3"/>
<path d="M433.0,787.1 L439.1,779.5 L445.2,771.9" stroke="#222" stroke-width="0.97" opacity="0.83"/>
<circle cx="437.0" cy="781.1" r="1.14" fill="#262626" stroke="none" opacity="0.72"/>
<circle cx="437.6" cy="781.0" r="0.83" fill="#262626" stroke="none" opacity="0.75"/>
<circle cx="420.9" cy="791.6" r="1.09" fill="#1e1e1e" stroke="none" opacity="0.95"/>
<path d="M445.2,715.0 L451.2,711.2" stroke="#333" stroke-width="1.09" opacity="0.3"/>
<path d="M445.2,715.0 L451.2,711.2" stroke="#2a2a2a" stroke-width="0.58" opacity="0.91"/>
<circle cx="449.6" cy="713.0" r="0.53" fill="#262626" stroke="none" opacity="0.78"/>
<circle cx="450.8" cy="712.0" r="0.53" fill="#262626" stroke="none" opacity="0.64"/>
<path d="M372.3,793.2 L378.4,788.6" stroke="#333" stroke-width="1.09" opacity="0.3"/>
<path d="M372.3,793.2 L378.4,788.6" stroke="#1c1c1c" stroke-width="0.58" opacity="0.90"/>
<circle cx="373.5" cy="792.3" r="0.39" fill="#262626" stroke="none" opacity="0.61"/>
<circle cx="375.1" cy="791.0" r="0.64" fill="#262626" stroke="none" opacity="0.86"/>
<circle cx="372.8" cy="792.7" r="0.56" fill="#262626" stroke="none" opacity="0.60"/>
<path d="M405.7,774.9 L408.7,771.9" stroke="#333" stroke-width="1.09" opacity="0.3"/>
<path d="M405.7,774.9 L408.7,771.9" stroke="#1c1c1c" stroke-width="0.58" opacity="0.81"/>
<path d="M442.1,797.7 L448.2,793.2" stroke="#333" stroke-width="1.09" opacity="0.3"/>
<path d="M442.1,797.7 L448.2,793.2" stroke="#2a2a2a" stroke-width="0.58" opacity="0.85"/>
<circle cx="444.5" cy="796.6" r="0.40" fill="#262626" stroke="none" opacity="0.56"/>
<circle cx="444.2" cy="796.8" r="0.62" fill="#262626" stroke="none" opacity="0.73"/>
<path d="M408.7,797.7 L416.3,793.2" stroke="#333" stroke-width="1.09" opacity="0.3"/>
<path d="M408.7,797.7 L416.3,793.2" stroke="#222" stroke-width="0.58" opacity="0.83"/>
<circle cx="414.3" cy="793.8" r="0.58" fill="#262626" stroke="none" opacity="0.88"/>
<circle cx="408.8" cy="797.1" r="0.49" fill="#262626" stroke="none" opacity="0.81"/>
<circle cx="408.8" cy="797.8" r="0.65" fill="#262626" stroke="none" opacity="0.67"/>
</g></g>
<rect x="470.10" y="592.50" width="206.90" height="206.50" fill="#c2c2c2" />
<rect x="470.10" y="592.50" width="206.90" height="206.50" fill="#c2c2c2" filter="url(#grain2)"/>
<g clip-path="url(#clip2)"><g filter="url(#blur1)" stroke-linecap="round" stroke-linejoin="round" fill="none">
<rect x="470.1" y="592.5" width="40" height="26" fill="#a8a8a8" opacity="0.6" stroke="none"/>
<path d="M500.2,719.6 L501.3,719.8" stroke="#444" stroke-width="1.2" opacity="0.49"/>
<path d="M597.5,709.4 L598.2,709.5" stroke="#444" stroke-width="1.3" opacity="0.56"/>
<path d="M651.1,744.5 L653.0,744.1" stroke="#444" stroke-width="0.8" opacity="0.71"/>
<path d="M611.7,718.3 L613.9,718.4" stroke="#444" stroke-width="0.9" opacity="0.57"/>
<path d="M498.7,720.5 L501.7,721.0" stroke="#444" stroke-width="0.9" opacity="0.35"/>
<path d="M537.8,734.2 L540.2,734.8" stroke="#444" stroke-width="1.1" opacity="0.50"/>
<path d="M657.2,626.9 L658.5,627.1" stroke="#444" stroke-width="1.3" opacity="0.52"/>
<path d="M584.1,682.9 L587.0,684.1" stroke="#444" stroke-width="1.4" opacity="0.62"/>
<path d="M566.2,788.0 L568.5,788.3" stroke="#444" stroke-width="1.5" opacity="0.64"/>
<path d="M549.6,745.4 L552.3,746.5" stroke="#444" stroke-width="1.3" opacity="0.57"/>
<path d="M670.7,701.0 L672.6,701.9" stroke="#444" stroke-width="1.5" opacity="0.39"/>
<path d="M483.1,769.8 L487.1,769.6" stroke="#444" stroke-width="0.9" opacity="0.64"/>
<path d="M663.5,636.3 L665.7,636.7" stroke="#444" stroke-width="0.9" opacity="0.51"/>
<path d="M499.0,691.8 L500.3,691.3" stroke="#444" stroke-width="1.1" opacity="0.38"/>
<path d="M493.6,623.7 L495.8,623.5" stroke="#444" stroke-width="1.4" opacity="0.51"/>
<path d="M519.6,631.1 L521.2,631.5" stroke="#444" stroke-width="0.9" opacity="0.53"/>
<path d="M635.9,763.5 L638.1,764.2" stroke="#444" stroke-width="1.3" opacity="0.41"/>
<path d="M487.5,627.7 L491.1,627.5" stroke="#444" stroke-width="1.5" opacity="0.78"/>
<path d="M660.1,689.4 L660.6,689.3" stroke="#444" stroke-width="0.9" opacity="0.62"/>
<path d="M613.8,782.1 L616.8,783.5" stroke="#444" stroke-width="1.3" opacity="0.54"/>
<path d="M641.5,648.7 L645.0,649.5" stroke="#444" stroke-width="1.5" opacity="0.33"/>
<path d="M508.6,788.6 L509.6,788.6" stroke="#444" stroke-width="1.2" opacity="0.54"/>
<path d="M651.1,790.1 L652.9,789.5" stroke="#444" stroke-width="1.5" opacity="0.53"/>
<path d="M521.3,621.0 L521.8,621.1" stroke="#444" stroke-width="1.0" opacity="0.58"/>
<path d="M659.3,693.2 L663.4,691.8" stroke="#444" stroke-width="1.4" opacity="0.68"/>
<path d="M667.2,598.8 L669.7,599.0" stroke="#444" stroke-width="1.2" opacity="0.54"/>
<path d="M524.6,778.5 L528.5,779.4" stroke="#444" stroke-width="1.6" opacity="0.58"/>
<path d="M486.1,735.7 L487.0,735.9" stroke="#444" stroke-width="1.3" opacity="0.40"/>
<path d="M501.1,606.2 L502.2,606.7" stroke="#444" stroke-width="0.9" opacity="0.74"/>
<path d="M496.7,662.5 L499.1,662.3" stroke="#444" stroke-width="1.6" opacity="0.42"/>
<path d="M569.7,634.8 L570.6,635.0" stroke="#444" stroke-width="1.0" opacity="0.54"/>
<path d="M613.1,610.8 L613.8,610.9" stroke="#444" stroke-width="1.6" opacity="0.31"/>
<path d="M562.0,797.0 L565.4,798.8" stroke="#444" stroke-width="1.2" opacity="0.79"/>
<path d="M479.7,690.1 L483.6,689.8" stroke="#444" stroke-width="1.1" opacity="0.52"/>
<path d="M546.5,760.8 L550.8,759.9" stroke="#444" stroke-width="1.0" opacity="0.70"/>
<path d="M622.5,760.0 L625.5,761.3" stroke="#444" stroke-width="1.5" opacity="0.62"/>
<path d="M526.9,609.4 L530.6,610.7" stroke="#444" stroke-width="1.5" opacity="0.43"/>
<path d="M622.3,784.9 L623.5,784.4" stroke="#444" stroke-width="0.9" opacity="0.41"/>
<path d="M608.9,761.7 L612.6,762.5" stroke="#444" stroke-width="1.6" opacity="0.79"/>
<path d="M559.4,783.1 L562.7,782.5" stroke="#444" stroke-width="1.2" opacity="0.39"/>
<path d="M552.6,760.4 L553.1,760.4" stroke="#444" stroke-width="1.1" opacity="0.44"/>
<path d="M482.6,700.9 L484.4,700.3" stroke="#444" stroke-width="1.1" opacity="0.64"/>
<path d="M486.2,754.6 L487.0,754.7" stroke="#444" stroke-width="1.0" opacity="0.73"/>
<path d="M654.0,744.8 L655.7,744.6" stroke="#444" stroke-width="1.4" opacity="0.55"/>
<path d="M600.9,742.0 L602.2,741.9" stroke="#444" stroke-width="1.6" opacity="0.47"/>
<path d="M645.4,624.4 L645.9,624.5" stroke="#444" stroke-width="1.0" opacity="0.60"/>
<path d="M628.2,600.6 L630.6,600.4" stroke="#444" stroke-width="1.5" opacity="0.72"/>
<path d="M652.2,745.5 L654.1,745.8" stroke="#444" stroke-width="1.2" opacity="0.48"/>
<path d="M528.1,726.9 L532.1,726.1" stroke="#444" stroke-width="1.0" opacity="0.38"/>
<path d="M545.2,672.7 L546.1,672.8" stroke="#444" stroke-width="1.0" opacity="0.70"/>
<path d="M518.2,744.6 L522.5,743.5" stroke="#444" stroke-width="1.0" opacity="0.79"/>
<path d="M553.0,660.2 L554.1,660.5" stroke="#444" stroke-width="1.0" opacity="0.74"/>
<path d="M583.5,628.8 L587.6,630.5" stroke="#444" stroke-width="1.4" opacity="0.60"/>
<path d="M625.4,788.3 L626.7,788.1" stroke="#444" stroke-width="1.4" opacity="0.51"/>
<path d="M672.7,765.0 L675.2,764.4" stroke="#444" stroke-width="1.3" opacity="0.60"/>
<path d="M589.0,752.9 L591.3,753.8" stroke="#444" stroke-width="1.2" opacity="0.38"/>
<path d="M638.0,626.5 L641.8,628.2" stroke="#444" stroke-width="0.9" opacity="0.40"/>
<path d="M614.4,686.6 L616.4,687.1" stroke="#444" stroke-width="1.0" opacity="0.37"/>
<path d="M582.1,774.3 L586.2,773.0" stroke="#444" stroke-width="1.4" opacity="0.46"/>
<path d="M670.5,673.1 L671.5,673.0" stroke="#444" stroke-width="1.2" opacity="0.39"/>
<path d="M627.7,660.9 L631.1,660.2" stroke="#444" stroke-width="1.1" opacity="0.63"/>
<path d="M510.9,652.3 L514.8,652.1" stroke="#444" stroke-width="1.0" opacity="0.61"/>
<path d="M611.8,770.5 L614.4,771.4" stroke="#444" stroke-width="1.5" opacity="0.76"/>
<path d="M658.7,736.0 L662.0,735.8" stroke="#444" stroke-width="0.8" opacity="0.76"/>
<path d="M554.5,661.9 L557.1,662.6" stroke="#444" stroke-width="1.4" opacity="0.36"/>
<path d="M630.3,785.9 L634.3,787.7" stroke="#444" stroke-width="1.2" opacity="0.74"/>
<path d="M590.1,767.9 L594.6,767.6" stroke="#444" stroke-width="0.8" opacity="0.68"/>
<path d="M663.0,779.3 L665.3,779.3" stroke="#444" stroke-width="0.8" opacity="0.73"/>
<path d="M525.9,617.5 L526.8,617.9" stroke="#444" stroke-width="1.1" opacity="0.70"/>
<path d="M483.0,691.4 L486.3,692.4" stroke="#444" stroke-width="0.9" opacity="0.54"/>
<path d="M637.8,781.1 L638.7,781.2" stroke="#444" stroke-width="1.5" opacity="0.61"/>
<path d="M631.4,654.4 L633.7,653.4" stroke="#444" stroke-width="1.4" opacity="0.58"/>
<path d="M506.9,787.1 L508.2,786.6" stroke="#444" stroke-width="1.4" opacity="0.34"/>
<path d="M606.1,620.6 L606.7,620.8" stroke="#444" stroke-width="1.3" opacity="0.63"/>
<path d="M616.1,740.6 L617.4,740.6" stroke="#444" stroke-width="1.2" opacity="0.73"/>
<path d="M601.9,692.6 L605.5,693.8" stroke="#444" stroke-width="0.9" opacity="0.39"/>
<path d="M470.6,772.5 L471.9,772.6" stroke="#444" stroke-width="1.2" opacity="0.63"/>
<path d="M663.6,728.2 L664.8,728.1" stroke="#444" stroke-width="0.9" opacity="0.49"/>
<path d="M621.9,726.6 L624.7,727.7" stroke="#444" stroke-width="1.6" opacity="0.43"/>
<path d="M615.0,725.7 L615.6,726.0" stroke="#444" stroke-width="1.1" opacity="0.64"/>
<path d="M517.1,679.7 L518.0,680.1" stroke="#444" stroke-width="0.7" opacity="0.34"/>
<path d="M619.6,711.1 L621.3,711.9" stroke="#444" stroke-width="1.3" opacity="0.52"/>
<path d="M615.4,786.1 L619.3,785.8" stroke="#444" stroke-width="1.4" opacity="0.41"/>
<path d="M548.3,797.6 L551.7,797.5" stroke="#444" stroke-width="1.2" opacity="0.52"/>
<path d="M615.3,700.4 L617.6,700.3" stroke="#444" stroke-width="1.5" opacity="0.71"/>
<path d="M518.3,674.2 L522.3,675.1" stroke="#444" stroke-width="1.2" opacity="0.61"/>
<path d="M510.0,709.8 L513.5,709.7" stroke="#444" stroke-width="1.1" opacity="0.52"/>
<path d="M592.3,638.4 L595.9,637.2" stroke="#444" stroke-width="1.4" opacity="0.56"/>
<path d="M521.2,644.6 L522.7,644.2" stroke="#444" stroke-width="1.6" opacity="0.44"/>
<path d="M485.4,728.7 L489.7,728.1" stroke="#444" stroke-width="0.9" opacity="0.59"/>
<path d="M536.3,686.8 L538.8,688.0" stroke="#444" stroke-width="1.0" opacity="0.48"/>
<path d="M614.6,710.4 L618.6,710.3" stroke="#444" stroke-width="1.3" opacity="0.55"/>
<path d="M594.4,693.7 L595.5,693.4" stroke="#444" stroke-width="1.1" opacity="0.80"/>
<path d="M574.4,695.3 L576.6,695.9" stroke="#444" stroke-width="1.0" opacity="0.50"/>
<path d="M538.4,710.5 L540.8,710.8" stroke="#444" stroke-width="1.5" opacity="0.47"/>
<path d="M597.7,796.9 L601.0,798.0" stroke="#444" stroke-width="1.4" opacity="0.40"/>
<path d="M600.2,664.1 L602.1,663.5" stroke="#444" stroke-width="1.4" opacity="0.76"/>
<path d="M646.5,681.9 L650.5,683.1" stroke="#444" stroke-width="1.3" opacity="0.70"/>
<path d="M629.4,594.6 L632.3,595.1" stroke="#444" stroke-width="1.0" opacity="0.70"/>
<path d="M621.9,611.7 L623.8,610.9" stroke="#444" stroke-width="1.0" opacity="0.36"/>
<path d="M468.8,654.5 L472.1,653.7" stroke="#444" stroke-width="1.6" opacity="0.39"/>
<path d="M639.7,648.2 L643.7,648.4" stroke="#444" stroke-width="1.5" opacity="0.52"/>
<path d="M527.7,775.5 L528.3,775.3" stroke="#444" stroke-width="0.8" opacity="0.58"/>
<path d="M625.9,642.8 L628.5,643.7" stroke="#444" stroke-width="0.7" opacity="0.68"/>
<path d="M497.3,598.1 L499.8,598.0" stroke="#444" stroke-width="1.1" opacity="0.62"/>
<path d="M472.7,717.1 L473.7,717.5" stroke="#444" stroke-width="1.1" opacity="0.41"/>
<path d="M578.2,677.6 L579.0,677.8" stroke="#444" stroke-width="1.1" opacity="0.72"/>
<path d="M624.9,763.4 L629.2,762.8" stroke="#444" stroke-width="1.2" opacity="0.59"/>
<path d="M596.2,746.2 L599.7,746.8" stroke="#444" stroke-width="1.2" opacity="0.57"/>
<path d="M498.9,648.6 L499.9,648.7" stroke="#444" stroke-width="1.2" opacity="0.41"/>
<path d="M547.8,771.3 L548.9,771.4" stroke="#444" stroke-width="1.2" opacity="0.54"/>
<path d="M527.7,789.1 L530.4,789.2" stroke="#444" stroke-width="0.8" opacity="0.32"/>
<path d="M565.7,646.8 L568.8,647.5" stroke="#444" stroke-width="0.8" opacity="0.49"/>
<path d="M533.2,726.1 L535.8,727.0" stroke="#444" stroke-width="0.7" opacity="0.54"/>
<path d="M620.3,626.6 L620.9,626.6" stroke="#444" stroke-width="0.9" opacity="0.32"/>
<path d="M644.3,745.0 L647.3,746.1" stroke="#444" stroke-width="1.4" opacity="0.52"/>
<path d="M626.3,783.8 L630.3,785.3" stroke="#444" stroke-width="1.4" opacity="0.78"/>
<path d="M664.3,722.4 L666.5,722.9" stroke="#444" stroke-width="1.6" opacity="0.35"/>
<path d="M559.4,621.0 L560.3,621.1" stroke="#444" stroke-width="0.9" opacity="0.35"/>
<path d="M589.0,707.5 L591.3,706.5" stroke="#444" stroke-width="0.8" opacity="0.57"/>
<path d="M482.4,614.7 L484.1,615.5" stroke="#444" stroke-width="1.4" opacity="0.74"/>
<path d="M630.2,613.5 L633.6,614.1" stroke="#444" stroke-width="1.5" opacity="0.33"/>
<path d="M504.8,619.2 L507.0,619.0" stroke="#444" stroke-width="0.9" opacity="0.69"/>
<path d="M663.6,786.3 L664.3,786.1" stroke="#444" stroke-width="1.1" opacity="0.69"/>
<path d="M627.3,765.7 L628.3,765.7" stroke="#444" stroke-width="0.7" opacity="0.64"/>
<path d="M640.8,657.9 L642.7,657.3" stroke="#444" stroke-width="1.5" opacity="0.47"/>
<path d="M527.4,671.1 L528.4,671.6" stroke="#444" stroke-width="1.5" opacity="0.57"/>
<path d="M550.6,693.7 L554.6,692.2" stroke="#444" stroke-width="0.9" opacity="0.64"/>
<path d="M534.4,695.2 L535.3,695.2" stroke="#444" stroke-width="1.5" opacity="0.65"/>
<path d="M592.7,768.1 L593.9,768.3" stroke="#444" stroke-width="1.6" opacity="0.49"/>
<path d="M471.3,718.5 L475.3,717.2" stroke="#444" stroke-width="0.9" opacity="0.65"/>
<path d="M578.2,797.4 L580.8,797.2" stroke="#444" stroke-width="1.0" opacity="0.55"/>
<path d="M630.8,749.5 L633.1,749.3" stroke="#444" stroke-width="1.3" opacity="0.39"/>
<path d="M570.5,663.9 L571.0,664.0" stroke="#444" stroke-width="0.8" opacity="0.45"/>
<path d="M593.1,770.7 L595.9,772.0" stroke="#444" stroke-width="0.7" opacity="0.70"/>
<path d="M621.0,739.2 L625.1,737.8" stroke="#444" stroke-width="0.8" opacity="0.78"/>
<path d="M652.8,615.8 L655.0,616.6" stroke="#444" stroke-width="1.2" opacity="0.32"/>
<path d="M514.4,764.9 L515.5,764.7" stroke="#444" stroke-width="1.4" opacity="0.39"/>
<path d="M590.8,627.7 L591.9,627.8" stroke="#444" stroke-width="1.4" opacity="0.49"/>
<path d="M519.2,739.3 L522.4,738.0" stroke="#444" stroke-width="1.3" opacity="0.56"/>
<path d="M672.8,717.3 L675.6,716.3" stroke="#444" stroke-width="1.1" opacity="0.33"/>
<path d="M503.6,695.8 L507.2,697.5" stroke="#444" stroke-width="1.5" opacity="0.55"/>
<path d="M562.0,736.4 L563.8,735.7" stroke="#444" stroke-width="1.4" opacity="0.77"/>
<path d="M652.0,725.1 L655.6,724.3" stroke="#444" stroke-width="0.9" opacity="0.73"/>
<path d="M575.2,639.1 L578.2,639.8" stroke="#444" stroke-width="1.5" opacity="0.36"/>
<path d="M530.7,697.5 L534.2,699.2" stroke="#444" stroke-width="0.8" opacity="0.46"/>
<path d="M554.6,784.8 L557.6,784.4" stroke="#444" stroke-width="1.2" opacity="0.40"/>
<path d="M647.2,678.8 L649.8,679.6" stroke="#444" stroke-width="1.2" opacity="0.33"/>
<path d="M541.5,594.2 L543.4,595.2" stroke="#444" stroke-width="1.4" opacity="0.79"/>
<path d="M498.4,733.6 L502.0,733.6" stroke="#444" stroke-width="1.4" opacity="0.35"/>
<path d="M656.3,790.9 L657.6,790.4" stroke="#444" stroke-width="1.5" opacity="0.59"/>
<path d="M673.2,706.4 L674.6,706.1" stroke="#444" stroke-width="1.3" opacity="0.47"/>
<path d="M671.8,752.3 L674.4,753.3" stroke="#444" stroke-width="1.4" opacity="0.49"/>
<path d="M595.4,681.1 L596.1,680.9" stroke="#444" stroke-width="0.9" opacity="0.31"/>
<path d="M649.3,696.9 L650.7,696.5" stroke="#444" stroke-width="1.3" opacity="0.51"/>
<path d="M648.1,721.3 L648.9,721.7" stroke="#444" stroke-width="1.5" opacity="0.48"/>
<path d="M634.4,723.4 L635.2,723.2" stroke="#444" stroke-width="1.0" opacity="0.58"/>
<path d="M573.9,709.5 L574.5,709.4" stroke="#444" stroke-width="0.8" opacity="0.49"/>
<path d="M675.9,613.1 L676.5,613.0" stroke="#444" stroke-width="1.0" opacity="0.34"/>
<path d="M646.2,757.7 L649.9,758.3" stroke="#444" stroke-width="1.2" opacity="0.58"/>
<path d="M505.3,596.5 L509.4,598.1" stroke="#444" stroke-width="1.0" opacity="0.56"/>
<path d="M492.5,761.8 L496.2,763.6" stroke="#444" stroke-width="0.8" opacity="0.79"/>
<path d="M489.3,749.0 L493.6,748.0" stroke="#444" stroke-width="1.2" opacity="0.70"/>
<path d="M632.9,762.1 L636.0,762.3" stroke="#444" stroke-width="1.2" opacity="0.68"/>
<path d="M623.1,730.4 L627.0,729.8" stroke="#444" stroke-width="1.0" opacity="0.50"/>
<path d="M524.2,739.4 L524.7,739.6" stroke="#444" stroke-width="0.8" opacity="0.63"/>
<path d="M623.7,649.4 L624.3,649.7" stroke="#444" stroke-width="1.5" opacity="0.55"/>
<path d="M517.5,694.0 L520.3,693.1" stroke="#444" stroke-width="1.3" opacity="0.65"/>
<path d="M513.9,665.2 L515.9,664.9" stroke="#444" stroke-width="1.1" opacity="0.36"/>
<path d="M537.2,772.0 L540.4,772.0" stroke="#444" stroke-width="0.8" opacity="0.47"/>
<path d="M616.5,690.5 L619.9,691.2" stroke="#444" stroke-width="1.1" opacity="0.65"/>
<path d="M571.9,662.6 L576.2,663.7" stroke="#444" stroke-width="1.0" opacity="0.30"/>
<path d="M564.5,660.6 L568.1,662.3" stroke="#444" stroke-width="1.3" opacity="0.32"/>
<path d="M609.6,632.9 L612.2,633.8" stroke="#444" stroke-width="0.8" opacity="0.79"/>
<path d="M641.4,679.7 L644.0,679.5" stroke="#444" stroke-width="1.5" opacity="0.78"/>
<path d="M566.1,754.7 L567.0,754.5" stroke="#444" stroke-width="1.5" opacity="0.39"/>
<path d="M622.1,743.4 L622.8,743.6" stroke="#444" stroke-width="1.2" opacity="0.55"/>
<path d="M615.8,676.1 L619.8,676.4" stroke="#444" stroke-width="1.4" opacity="0.51"/>
<path d="M556.1,662.3 L557.3,662.8" stroke="#444" stroke-width="1.2" opacity="0.76"/>
<path d="M600.5,749.9 L603.3,750.0" stroke="#444" stroke-width="1.5" opacity="0.36"/>
<path d="M597.9,594.2 L598.8,594.6" stroke="#444" stroke-width="0.7" opacity="0.70"/>
<path d="M673.6,737.3 L677.8,736.1" stroke="#444" stroke-width="1.3" opacity="0.61"/>
<path d="M574.4,608.0 L575.1,608.2" stroke="#444" stroke-width="0.9" opacity="0.64"/>
<path d="M499.7,725.2 L500.3,725.5" stroke="#444" stroke-width="1.3" opacity="0.41"/>
<path d="M669.5,625.2 L671.9,625.5" stroke="#444" stroke-width="0.8" opacity="0.65"/>
<path d="M523.2,757.4 L527.2,759.2" stroke="#444" stroke-width="0.8" opacity="0.54"/>
<path d="M612.7,599.8 L613.3,599.9" stroke="#444" stroke-width="1.3" opacity="0.40"/>
<path d="M622.2,759.3 L623.8,759.4" stroke="#444" stroke-width="1.4" opacity="0.33"/>
<path d="M616.1,790.6 L620.1,792.6" stroke="#444" stroke-width="1.4" opacity="0.77"/>
<path d="M548.0,653.7 L551.5,653.0" stroke="#444" stroke-width="0.9" opacity="0.61"/>
<path d="M552.5,784.0 L553.6,783.9" stroke="#444" stroke-width="1.5" opacity="0.45"/>
<path d="M617.7,699.9 L621.8,698.7" stroke="#444" stroke-width="1.2" opacity="0.46"/>
<path d="M616.3,786.6 L619.2,788.0" stroke="#444" stroke-width="1.5" opacity="0.53"/>
<path d="M521.7,603.3 L523.7,603.1" stroke="#444" stroke-width="1.2" opacity="0.79"/>
<path d="M576.8,633.3 L580.6,633.0" stroke="#444" stroke-width="1.3" opacity="0.63"/>
<path d="M603.3,612.8 L604.1,613.0" stroke="#444" stroke-width="1.1" opacity="0.63"/>
<path d="M655.1,660.2 L657.1,660.6" stroke="#444" stroke-width="0.9" opacity="0.56"/>
<path d="M487.6,749.3 L489.2,748.9" stroke="#444" stroke-width="1.1" opacity="0.69"/>
<path d="M601.1,677.8 L602.1,677.7" stroke="#444" stroke-width="0.7" opacity="0.54"/>
<path d="M489.4,732.0 L493.4,731.7" stroke="#444" stroke-width="1.6" opacity="0.60"/>
<path d="M560.9,705.9 L564.4,706.8" stroke="#444" stroke-width="1.5" opacity="0.76"/>
<path d="M508.8,778.2 L512.9,777.9" stroke="#444" stroke-width="1.3" opacity="0.52"/>
<path d="M540.1,686.1 L544.5,685.7" stroke="#444" stroke-width="0.7" opacity="0.71"/>
<path d="M517.0,596.1 L518.3,595.8" stroke="#444" stroke-width="1.2" opacity="0.35"/>
<path d="M652.5,738.7 L656.6,740.4" stroke="#444" stroke-width="1.5" opacity="0.77"/>
<path d="M537.2,768.1 L539.1,769.0" stroke="#444" stroke-width="0.7" opacity="0.62"/>
<path d="M570.4,769.8 L571.7,770.1" stroke="#444" stroke-width="1.0" opacity="0.79"/>
<path d="M575.2,673.6 L579.1,674.3" stroke="#444" stroke-width="1.3" opacity="0.63"/>
<path d="M587.0,744.1 L590.4,744.8" stroke="#444" stroke-width="0.7" opacity="0.63"/>
<path d="M675.3,738.8 L677.9,738.0" stroke="#444" stroke-width="1.2" opacity="0.52"/>
<path d="M505.2,655.3 L506.7,654.7" stroke="#444" stroke-width="1.1" opacity="0.70"/>
<path d="M595.9,784.9 L600.0,785.6" stroke="#444" stroke-width="0.9" opacity="0.32"/>
<path d="M590.5,608.6 L593.5,609.7" stroke="#444" stroke-width="1.0" opacity="0.43"/>
<path d="M511.5,794.9 L513.8,794.6" stroke="#444" stroke-width="1.2" opacity="0.64"/>
<path d="M558.1,717.2 L559.1,716.9" stroke="#444" stroke-width="1.0" opacity="0.60"/>
<path d="M569.8,656.0 L571.6,655.3" stroke="#444" stroke-width="1.3" opacity="0.73"/>
<path d="M618.9,747.7 L620.4,747.5" stroke="#444" stroke-width="1.1" opacity="0.38"/>
<path d="M481.6,760.7 L484.0,761.6" stroke="#444" stroke-width="1.4" opacity="0.50"/>
<path d="M504.2,645.8 L506.7,646.3" stroke="#444" stroke-width="1.0" opacity="0.48"/>
<path d="M520.6,662.6 L522.5,662.7" stroke="#444" stroke-width="0.7" opacity="0.69"/>
<path d="M629.7,716.2 L633.2,716.5" stroke="#444" stroke-width="1.1" opacity="0.75"/>
<path d="M660.8,783.5 L665.2,783.0" stroke="#444" stroke-width="1.0" opacity="0.68"/>
<path d="M543.6,683.0 L545.6,683.6" stroke="#444" stroke-width="0.9" opacity="0.31"/>
<path d="M656.5,715.5 L660.6,714.7" stroke="#444" stroke-width="0.7" opacity="0.32"/>
<path d="M569.4,660.2 L570.4,660.7" stroke="#444" stroke-width="1.6" opacity="0.42"/>
<path d="M639.0,791.4 L641.9,790.8" stroke="#444" stroke-width="0.8" opacity="0.46"/>
<path d="M479.6,779.8 L482.7,780.3" stroke="#444" stroke-width="1.5" opacity="0.48"/>
<path d="M504.6,745.2 L506.1,745.1" stroke="#444" stroke-width="1.5" opacity="0.79"/>
<path d="M542.3,667.5 L544.8,667.2" stroke="#444" stroke-width="0.7" opacity="0.35"/>
<path d="M559.0,686.8 L563.1,685.6" stroke="#444" stroke-width="0.8" opacity="0.31"/>
<path d="M528.5,615.8 L531.3,615.5" stroke="#444" stroke-width="1.5" opacity="0.44"/>
<path d="M563.7,683.0 L567.1,682.3" stroke="#444" stroke-width="0.7" opacity="0.69"/>
<path d="M515.2,729.7 L518.5,730.0" stroke="#444" stroke-width="1.3" opacity="0.44"/>
<path d="M647.2,644.3 L651.3,643.8" stroke="#444" stroke-width="1.3" opacity="0.54"/>
<path d="M528.8,633.5 L531.0,634.6" stroke="#444" stroke-width="1.1" opacity="0.68"/>
<path d="M654.7,651.1 L657.2,650.3" stroke="#444" stroke-width="1.5" opacity="0.68"/>
<path d="M509.5,779.5 L512.9,779.9" stroke="#444" stroke-width="1.2" opacity="0.57"/>
<path d="M635.0,675.0 L637.0,674.8" stroke="#444" stroke-width="0.8" opacity="0.75"/>
<path d="M523.2,621.8 L525.3,621.4" stroke="#444" stroke-width="1.5" opacity="0.37"/>
<path d="M629.1,722.9 L629.7,722.8" stroke="#444" stroke-width="1.4" opacity="0.60"/>
<path d="M567.0,731.4 L570.9,733.3" stroke="#444" stroke-width="1.0" opacity="0.41"/>
<path d="M616.1,704.0 L619.9,705.5" stroke="#444" stroke-width="1.5" opacity="0.31"/>
<path d="M531.5,774.6 L535.5,773.3" stroke="#444" stroke-width="0.7" opacity="0.77"/>
<path d="M487.9,739.6 L491.7,740.4" stroke="#444" stroke-width="1.1" opacity="0.54"/>
<path d="M509.6,601.9 L510.2,601.7" stroke="#444" stroke-width="1.5" opacity="0.35"/>
<path d="M651.9,650.8 L655.0,651.4" stroke="#444" stroke-width="0.9" opacity="0.31"/>
<path d="M508.9,746.3 L511.2,745.7" stroke="#444" stroke-width="1.0" opacity="0.54"/>
<path d="M672.0,694.1 L675.2,692.8" stroke="#444" stroke-width="1.5" opacity="0.56"/>
<path d="M536.6,773.0 L537.7,772.6" stroke="#444" stroke-width="1.5" opacity="0.75"/>
<path d="M522.6,655.0 L525.7,654.5" stroke="#444" stroke-width="1.2" opacity="0.39"/>
<path d="M653.1,641.8 L655.5,642.6" stroke="#444" stroke-width="1.5" opacity="0.63"/>
<path d="M519.9,609.9 L522.6,610.2" stroke="#444" stroke-width="1.4" opacity="0.55"/>
<path d="M589.1,716.5 L592.9,717.9" stroke="#444" stroke-width="0.8" opacity="0.75"/>
<path d="M545.0,623.0 L545.7,622.9" stroke="#444" stroke-width="1.1" opacity="0.50"/>
<path d="M591.0,766.8 L594.8,765.8" stroke="#444" stroke-width="0.8" opacity="0.65"/>
<path d="M618.6,741.6 L620.3,741.5" stroke="#444" stroke-width="1.5" opacity="0.52"/>
<path d="M545.7,712.3 L549.4,711.8" stroke="#444" stroke-width="1.1" opacity="0.72"/>
<path d="M605.5,616.5 L608.4,616.5" stroke="#444" stroke-width="1.1" opacity="0.58"/>
<path d="M491.3,737.2 L491.9,737.1" stroke="#444" stroke-width="1.1" opacity="0.37"/>
<path d="M565.9,603.6 L568.3,604.8" stroke="#444" stroke-width="0.7" opacity="0.79"/>
<path d="M609.5,746.8 L610.5,746.6" stroke="#444" stroke-width="1.2" opacity="0.68"/>
<path d="M485.0,601.9 L489.1,603.0" stroke="#444" stroke-width="1.4" opacity="0.30"/>
<path d="M492.3,716.6 L496.2,715.7" stroke="#444" stroke-width="1.4" opacity="0.66"/>
<path d="M591.4,713.9 L593.8,714.1" stroke="#444" stroke-width="1.2" opacity="0.46"/>
<path d="M598.3,773.6 L599.4,773.3" stroke="#444" stroke-width="1.5" opacity="0.69"/>
<path d="M516.1,637.1 L520.1,636.3" stroke="#444" stroke-width="0.7" opacity="0.37"/>
<path d="M504.7,797.3 L509.0,797.3" stroke="#444" stroke-width="1.2" opacity="0.79"/>
<path d="M492.6,656.2 L494.4,656.9" stroke="#444" stroke-width="1.4" opacity="0.74"/>
<path d="M643.9,606.9 L646.1,606.7" stroke="#444" stroke-width="0.7" opacity="0.79"/>
<path d="M525.2,627.0 L527.6,626.1" stroke="#444" stroke-width="1.2" opacity="0.56"/>
<path d="M655.0,667.1 L655.6,667.1" stroke="#444" stroke-width="1.5" opacity="0.63"/>
<path d="M621.0,687.4 L622.8,687.4" stroke="#444" stroke-width="1.2" opacity="0.60"/>
<path d="M530.9,741.3 L533.1,742.2" stroke="#444" stroke-width="1.5" opacity="0.54"/>
<path d="M533.6,707.4 L535.6,707.7" stroke="#444" stroke-width="1.0" opacity="0.41"/>
<path d="M486.4,633.5 L487.1,633.4" stroke="#444" stroke-width="1.3" opacity="0.38"/>
<path d="M667.0,694.9 L670.3,696.5" stroke="#444" stroke-width="1.4" opacity="0.62"/>
<path d="M503.6,701.7 L506.3,702.4" stroke="#444" stroke-width="1.6" opacity="0.46"/>
<path d="M559.5,784.2 L562.8,783.2" stroke="#444" stroke-width="0.9" opacity="0.60"/>
<path d="M669.6,721.5 L672.0,722.5" stroke="#444" stroke-width="1.5" opacity="0.76"/>
<path d="M588.5,727.6 L591.2,727.3" stroke="#444" stroke-width="1.1" opacity="0.35"/>
<path d="M630.2,747.3 L631.7,746.6" stroke="#444" stroke-width="1.3" opacity="0.42"/>
<path d="M500.8,605.1 L502.5,604.5" stroke="#444" stroke-width="1.0" opacity="0.72"/>
<path d="M635.1,768.4 L638.8,768.4" stroke="#444" stroke-width="1.1" opacity="0.76"/>
<path d="M560.0,716.8 L560.7,716.9" stroke="#444" stroke-width="0.7" opacity="0.65"/>
<path d="M588.6,701.8 L591.4,701.6" stroke="#444" stroke-width="1.0" opacity="0.36"/>
<path d="M591.5,782.4 L593.7,783.0" stroke="#444" stroke-width="1.2" opacity="0.56"/>
<path d="M643.4,676.1 L644.9,676.8" stroke="#444" stroke-width="1.0" opacity="0.50"/>
<path d="M548.6,674.6 L550.3,674.8" stroke="#444" stroke-width="1.5" opacity="0.73"/>
<path d="M672.8,795.2 L676.2,794.6" stroke="#444" stroke-width="1.3" opacity="0.57"/>
<path d="M581.3,627.5 L583.5,627.3" stroke="#444" stroke-width="1.1" opacity="0.65"/>
<path d="M548.7,656.5 L550.6,656.9" stroke="#444" stroke-width="0.7" opacity="0.40"/>
<path d="M629.7,629.0 L631.8,629.1" stroke="#444" stroke-width="1.2" opacity="0.64"/>
<path d="M566.1,690.4 L567.8,690.1" stroke="#444" stroke-width="0.7" opacity="0.34"/>
<path d="M504.2,592.8 L508.2,593.7" stroke="#444" stroke-width="1.2" opacity="0.54"/>
<path d="M468.9,626.8 L471.9,627.6" stroke="#444" stroke-width="1.1" opacity="0.71"/>
<path d="M484.5,701.5 L485.7,701.8" stroke="#444" stroke-width="1.2" opacity="0.52"/>
<path d="M495.0,613.4 L497.0,613.2" stroke="#444" stroke-width="0.9" opacity="0.44"/>
<path d="M649.4,742.1 L653.5,743.1" stroke="#444" stroke-width="0.7" opacity="0.38"/>
<path d="M516.6,663.7 L520.3,663.6" stroke="#444" stroke-width="1.6" opacity="0.63"/>
<path d="M626.5,751.9 L627.6,752.3" stroke="#444" stroke-width="1.6" opacity="0.50"/>
<path d="M626.4,794.2 L630.6,794.4" stroke="#444" stroke-width="1.1" opacity="0.67"/>
<path d="M485.9,638.7 L487.2,638.7" stroke="#444" stroke-width="0.7" opacity="0.73"/>
<path d="M653.0,594.0 L654.7,593.7" stroke="#444" stroke-width="1.3" opacity="0.47"/>
<path d="M535.0,671.0 L538.3,669.6" stroke="#444" stroke-width="1.0" opacity="0.41"/>
<path d="M614.9,779.5 L616.9,779.5" stroke="#444" stroke-width="1.4" opacity="0.64"/>
<path d="M644.2,663.4 L645.1,663.5" stroke="#444" stroke-width="0.9" opacity="0.76"/>
<path d="M674.2,640.7 L676.4,639.8" stroke="#444" stroke-width="1.5" opacity="0.67"/>
<path d="M562.4,728.5 L565.2,728.7" stroke="#444" stroke-width="1.5" opacity="0.70"/>
<path d="M565.7,626.5 L566.5,626.5" stroke="#444" stroke-width="1.3" opacity="0.48"/>
<path d="M536.2,741.5 L538.0,741.2" stroke="#444" stroke-width="1.6" opacity="0.34"/>
<path d="M529.0,721.2 L530.5,721.8" stroke="#444" stroke-width="0.9" opacity="0.42"/>
<path d="M558.1,682.4 L559.1,682.5" stroke="#444" stroke-width="0.9" opacity="0.64"/>
<path d="M670.7,626.6 L672.4,627.2" stroke="#444" stroke-width="1.0" opacity="0.54"/>
<path d="M520.4,670.7 L524.8,670.5" stroke="#444" stroke-width="0.9" opacity="0.55"/>
<path d="M485.7,724.9 L489.1,723.6" stroke="#444" stroke-width="1.0" opacity="0.35"/>
<path d="M484.3,603.2 L485.6,602.9" stroke="#444" stroke-width="1.0" opacity="0.38"/>
<path d="M540.5,666.9 L544.2,668.6" stroke="#444" stroke-width="1.6" opacity="0.30"/>
<path d="M501.5,713.6 L505.3,715.5" stroke="#444" stroke-width="1.5" opacity="0.37"/>
<path d="M492.9,647.4 L496.6,648.6" stroke="#444" stroke-width="1.3" opacity="0.57"/>
<path d="M527.9,612.5 L530.7,612.8" stroke="#444" stroke-width="1.4" opacity="0.36"/>
<path d="M631.1,598.3 L634.3,598.1" stroke="#444" stroke-width="1.3" opacity="0.74"/>
<path d="M617.0,744.7 L620.3,744.6" stroke="#444" stroke-width="1.0" opacity="0.66"/>
<path d="M481.0,763.8 L482.0,763.9" stroke="#444" stroke-width="1.4" opacity="0.45"/>
<path d="M635.7,703.8 L636.7,703.7" stroke="#444" stroke-width="1.4" opacity="0.32"/>
<path d="M543.7,766.4 L544.5,766.5" stroke="#444" stroke-width="0.8" opacity="0.77"/>
<path d="M650.0,663.5 L651.2,663.6" stroke="#444" stroke-width="1.5" opacity="0.57"/>
<path d="M514.6,650.6 L517.1,650.1" stroke="#444" stroke-width="0.9" opacity="0.49"/>
<path d="M496.1,659.3 L498.1,659.2" stroke="#444" stroke-width="1.2" opacity="0.31"/>
<path d="M612.6,594.4 L614.3,594.8" stroke="#444" stroke-width="1.3" opacity="0.40"/>
<path d="M507.9,758.6 L510.7,757.7" stroke="#444" stroke-width="1.1" opacity="0.46"/>
<path d="M471.5,616.3 L479.1,613.3 L489.7,611.7 L501.9,611.7" stroke="#333" stroke-width="2.25" opacity="0.3"/>
<path d="M471.5,616.3 L479.1,613.3 L489.7,611.7 L501.9,611.7" stroke="#2a2a2a" stroke-width="1.20" opacity="0.85"/>
<circle cx="472.0" cy="615.8" r="0.98" fill="#262626" stroke="none" opacity="0.55"/>
<circle cx="477.5" cy="613.9" r="0.87" fill="#262626" stroke="none" opacity="0.90"/>
<circle cx="473.0" cy="615.6" r="0.80" fill="#262626" stroke="none" opacity="0.63"/>
<circle cx="493.8" cy="611.3" r="1.00" fill="#262626" stroke="none" opacity="0.51"/>
<circle cx="495.8" cy="598.1" r="2.18" fill="#1e1e1e" stroke="none" opacity="0.95"/>
<circle cx="478.3" cy="603.4" r="1.40" fill="#1e1e1e" stroke="none" opacity="0.95"/>
<circle cx="520.1" cy="594.3" r="1.56" fill="#1e1e1e" stroke="none" opacity="0.95"/>
<path d="M559.6,594.3 L567.2,594.7" stroke="#333" stroke-width="2.00" opacity="0.3"/>
<path d="M559.6,594.3 L567.2,594.7" stroke="#333" stroke-width="1.07" opacity="0.82"/>
<circle cx="566.7" cy="594.5" r="0.91" fill="#262626" stroke="none" opacity="0.82"/>
<circle cx="566.4" cy="595.2" r="0.67" fill="#262626" stroke="none" opacity="0.90"/>
<circle cx="498.1" cy="618.6" r="1.71" fill="#1e1e1e" stroke="none" opacity="0.95"/>
<circle cx="482.9" cy="620.1" r="1.24" fill="#1e1e1e" stroke="none" opacity="0.95"/>
<circle cx="517.1" cy="621.6" r="2.18" fill="#1e1e1e" stroke="none" opacity="0.95"/>
<circle cx="564.1" cy="622.4" r="2.18" fill="#1e1e1e" stroke="none" opacity="0.95"/>
<path d="M504.9,619.3 L515.5,619.3 L530.7,618.6 L545.9,617.8" stroke="#333" stroke-width="1.75" opacity="0.3"/>
<path d="M504.9,619.3 L515.5,619.3 L530.7,618.6 L545.9,617.8" stroke="#333" stroke-width="0.94" opacity="0.80"/>
<circle cx="508.4" cy="619.2" r="0.65" fill="#262626" stroke="none" opacity="0.56"/>
<circle cx="511.1" cy="619.8" r="0.68" fill="#262626" stroke="none" opacity="0.78"/>
<circle cx="510.1" cy="618.8" r="1.10" fill="#262626" stroke="none" opacity="0.86"/>
<circle cx="525.3" cy="618.5" r="0.89" fill="#262626" stroke="none" opacity="0.72"/>
<circle cx="524.7" cy="619.6" r="0.95" fill="#262626" stroke="none" opacity="0.57"/>
<circle cx="540.4" cy="617.8" r="0.76" fill="#262626" stroke="none" opacity="0.88"/>
<circle cx="534.0" cy="619.2" r="1.01" fill="#262626" stroke="none" opacity="0.82"/>
<circle cx="544.2" cy="617.5" r="0.64" fill="#262626" stroke="none" opacity="0.64"/>
<circle cx="544.4" cy="618.3" r="0.80" fill="#262626" stroke="none" opacity="0.65"/>
<circle cx="544.0" cy="617.4" r="1.08" fill="#262626" stroke="none" opacity="0.63"/>
<path d="M503.4,636.0 L509.5,636.8 L515.5,636.8" stroke="#333" stroke-width="2.00" opacity="0.3"/>
<path d="M503.4,636.0 L509.5,636.8 L515.5,636.8" stroke="#333" stroke-width="1.07" opacity="0.92"/>
<circle cx="505.8" cy="636.5" r="1.18" fill="#262626" stroke="none" opacity="0.81"/>
<circle cx="511.7" cy="636.1" r="0.97" fill="#262626" stroke="none" opacity="0.86"/>
<path d="M471.5,644.4 L479.1,645.9 L488.2,645.1 L498.8,644.4 L503.4,645.1" stroke="#333" stroke-width="2.00" opacity="0.3"/>
<path d="M471.5,644.4 L479.1,645.9 L488.2,645.1 L498.8,644.4 L503.4,645.1" stroke="#333" stroke-width="1.07" opacity="0.93"/>
<circle cx="475.3" cy="645.2" r="0.96" fill="#262626" stroke="none" opacity="0.54"/>
<circle cx="478.9" cy="645.5" r="0.82" fill="#262626" stroke="none" opacity="0.82"/>
<circle cx="480.8" cy="646.4" r="1.21" fill="#262626" stroke="none" opacity="0.87"/>
<circle cx="482.6" cy="645.9" r="1.26" fill="#262626" stroke="none" opacity="0.63"/>
<circle cx="494.3" cy="644.6" r="1.22" fill="#262626" stroke="none" opacity="0.85"/>
<circle cx="490.1" cy="644.6" r="1.00" fill="#262626" stroke="none" opacity="0.66"/>
<circle cx="493.6" cy="645.2" r="0.81" fill="#262626" stroke="none" opacity="0.62"/>
<circle cx="490.5" cy="641.3" r="1.24" fill="#1e1e1e" stroke="none" opacity="0.95"/>
<circle cx="506.4" cy="648.9" r="1.24" fill="#1e1e1e" stroke="none" opacity="0.95"/>
<circle cx="477.6" cy="639.1" r="1.09" fill="#1e1e1e" stroke="none" opacity="0.95"/>
<circle cx="517.8" cy="628.4" r="1.09" fill="#1e1e1e" stroke="none" opacity="0.95"/>
<path d="M532.2,647.4 L541.4,647.4 L552.0,648.2 L562.6,648.2" stroke="#333" stroke-width="2.00" opacity="0.3"/>
<path d="M532.2,647.4 L541.4,647.4 L552.0,648.2 L562.6,648.2" stroke="#2a2a2a" stroke-width="1.07" opacity="0.82"/>
<circle cx="532.9" cy="647.2" r="0.87" fill="#262626" stroke="none" opacity="0.74"/>
<circle cx="540.8" cy="647.0" r="0.74" fill="#262626" stroke="none" opacity="0.57"/>
<circle cx="548.0" cy="648.5" r="1.21" fill="#262626" stroke="none" opacity="0.77"/>
<circle cx="543.6" cy="647.2" r="0.88" fill="#262626" stroke="none" opacity="0.70"/>
<circle cx="556.9" cy="647.5" r="0.93" fill="#262626" stroke="none" opacity="0.60"/>
<circle cx="558.8" cy="647.8" r="1.07" fill="#262626" stroke="none" opacity="0.83"/>
<circle cx="555.7" cy="648.6" r="0.85" fill="#262626" stroke="none" opacity="0.63"/>
<circle cx="539.1" cy="645.9" r="1.24" fill="#1e1e1e" stroke="none" opacity="0.95"/>
<circle cx="517.8" cy="652.7" r="1.40" fill="#1e1e1e" stroke="none" opacity="0.95"/>
<circle cx="547.4" cy="651.2" r="1.40" fill="#1e1e1e" stroke="none" opacity="0.95"/>
<path d="M492.8,657.3 L503.4,658.0" stroke="#333" stroke-width="1.75" opacity="0.3"/>
<path d="M492.8,657.3 L503.4,658.0" stroke="#1c1c1c" stroke-width="0.94" opacity="0.92"/>
<circle cx="501.6" cy="657.1" r="0.72" fill="#262626" stroke="none" opacity="0.75"/>
<path d="M476.8,661.8 L486.7,661.1" stroke="#333" stroke-width="2.00" opacity="0.3"/>
<path d="M476.8,661.8 L486.7,661.1" stroke="#333" stroke-width="1.07" opacity="0.91"/>
<circle cx="480.9" cy="660.9" r="0.85" fill="#262626" stroke="none" opacity="0.81"/>
<circle cx="514.8" cy="658.0" r="1.09" fill="#1e1e1e" stroke="none" opacity="0.95"/>
<circle cx="523.9" cy="663.4" r="1.09" fill="#1e1e1e" stroke="none" opacity="0.95"/>
<circle cx="536.0" cy="661.1" r="1.09" fill="#1e1e1e" stroke="none" opacity="0.95"/>
<circle cx="488.2" cy="667.1" r="1.09" fill="#1e1e1e" stroke="none" opacity="0.95"/>
<path d="M504.9,670.2 L514.0,670.9 L523.1,670.2" stroke="#333" stroke-width="2.00" opacity="0.3"/>
<path d="M504.9,670.2 L514.0,670.9 L523.1,670.2" stroke="#2a2a2a" stroke-width="1.07" opacity="0.88"/>
<circle cx="509.7" cy="670.9" r="0.97" fill="#262626" stroke="none" opacity="0.64"/>
<circle cx="516.6" cy="670.9" r="0.68" fill="#262626" stroke="none" opacity="0.74"/>
<circle cx="519.1" cy="671.1" r="0.71" fill="#262626" stroke="none" opacity="0.55"/>
<path d="M473.0,674.0 L479.1,674.7 L486.7,676.3 L494.3,677.0" stroke="#333" stroke-width="2.00" opacity="0.3"/>
<path d="M473.0,674.0 L479.1,674.7 L486.7,676.3 L494.3,677.0" stroke="#333" stroke-width="1.07" opacity="0.87"/>
<circle cx="476.0" cy="673.5" r="0.72" fill="#262626" stroke="none" opacity="0.76"/>
<circle cx="475.1" cy="674.9" r="0.94" fill="#262626" stroke="none" opacity="0.78"/>
<circle cx="486.2" cy="676.8" r="1.08" fill="#262626" stroke="none" opacity="0.56"/>
<circle cx="481.8" cy="675.8" r="1.21" fill="#262626" stroke="none" opacity="0.80"/>
<circle cx="488.9" cy="676.6" r="1.14" fill="#262626" stroke="none" opacity="0.68"/>
<circle cx="494.0" cy="677.5" r="1.05" fill="#262626" stroke="none" opacity="0.66"/>
<circle cx="493.7" cy="676.4" r="1.23" fill="#262626" stroke="none" opacity="0.86"/>
<circle cx="473.8" cy="674.7" r="1.40" fill="#1e1e1e" stroke="none" opacity="0.95"/>
<circle cx="480.6" cy="675.2" r="1.24" fill="#1e1e1e" stroke="none" opacity="0.95"/>
<circle cx="486.7" cy="677.0" r="1.40" fill="#1e1e1e" stroke="none" opacity="0.95"/>
<path d="M538.3,674.0 L548.9,674.7 L559.6,673.2 L568.7,672.5" stroke="#333" stroke-width="2.00" opacity="0.3"/>
<path d="M538.3,674.0 L548.9,674.7 L559.6,673.2 L568.7,672.5" stroke="#2a2a2a" stroke-width="1.07" opacity="0.90"/>
<circle cx="549.3" cy="674.6" r="0.78" fill="#262626" stroke="none" opacity="0.56"/>
<circle cx="552.8" cy="674.0" r="0.94" fill="#262626" stroke="none" opacity="0.55"/>
<circle cx="551.3" cy="674.1" r="1.26" fill="#262626" stroke="none" opacity="0.79"/>
<circle cx="564.2" cy="672.4" r="0.71" fill="#262626" stroke="none" opacity="0.74"/>
<path d="M561.1,655.8 L567.2,656.5 L574.0,656.5" stroke="#333" stroke-width="2.76" opacity="0.3"/>
<path d="M561.1,655.8 L567.2,656.5 L574.0,656.5" stroke="#222" stroke-width="1.47" opacity="0.86"/>
<circle cx="564.1" cy="656.9" r="1.60" fill="#262626" stroke="none" opacity="0.82"/>
<circle cx="504.2" cy="682.3" r="1.56" fill="#1e1e1e" stroke="none" opacity="0.95"/>
<circle cx="501.1" cy="689.9" r="1.71" fill="#1e1e1e" stroke="none" opacity="0.95"/>
<path d="M526.2,686.9 L535.3,688.4 L542.9,687.6" stroke="#333" stroke-width="1.75" opacity="0.3"/>
<path d="M526.2,686.9 L535.3,688.4 L542.9,687.6" stroke="#2a2a2a" stroke-width="0.94" opacity="0.87"/>
<circle cx="533.7" cy="687.8" r="1.10" fill="#262626" stroke="none" opacity="0.56"/>
<circle cx="533.9" cy="687.6" r="0.95" fill="#262626" stroke="none" opacity="0.64"/>
<path d="M567.2,636.8 L574.0,637.5" stroke="#333" stroke-width="1.75" opacity="0.3"/>
<path d="M567.2,636.8 L574.0,637.5" stroke="#2a2a2a" stroke-width="0.94" opacity="0.83"/>
<path d="M508.0,695.2 L520.1,695.2" stroke="#333" stroke-width="2.25" opacity="0.3"/>
<path d="M508.0,695.2 L520.1,695.2" stroke="#333" stroke-width="1.20" opacity="0.85"/>
<circle cx="508.7" cy="694.9" r="1.38" fill="#262626" stroke="none" opacity="0.64"/>
<circle cx="510.6" cy="695.2" r="1.06" fill="#262626" stroke="none" opacity="0.58"/>
<circle cx="511.2" cy="694.8" r="1.33" fill="#262626" stroke="none" opacity="0.61"/>
<circle cx="510.4" cy="694.5" r="1.03" fill="#262626" stroke="none" opacity="0.71"/>
<path d="M564.1,689.9 L568.7,690.7" stroke="#333" stroke-width="2.50" opacity="0.3"/>
<path d="M564.1,689.9 L568.7,690.7" stroke="#222" stroke-width="1.34" opacity="0.87"/>
<path d="M526.2,677.8 L532.2,679.3" stroke="#333" stroke-width="1.50" opacity="0.3"/>
<path d="M526.2,677.8 L532.2,679.3" stroke="#222" stroke-width="0.80" opacity="0.90"/>
<circle cx="527.2" cy="677.7" r="0.86" fill="#262626" stroke="none" opacity="0.79"/>
<circle cx="527.8" cy="677.9" r="0.94" fill="#262626" stroke="none" opacity="0.80"/>
<circle cx="536.8" cy="678.5" r="1.09" fill="#1e1e1e" stroke="none" opacity="0.95"/>
<path d="M474.6,598.1 L485.2,598.8" stroke="#333" stroke-width="1.50" opacity="0.3"/>
<path d="M474.6,598.1 L485.2,598.8" stroke="#1c1c1c" stroke-width="0.80" opacity="0.90"/>
<circle cx="475.8" cy="598.5" r="0.69" fill="#262626" stroke="none" opacity="0.81"/>
<circle cx="475.8" cy="597.8" r="0.55" fill="#262626" stroke="none" opacity="0.63"/>
<circle cx="489.7" cy="598.1" r="0.93" fill="#1e1e1e" stroke="none" opacity="0.95"/>
<path d="M625.6,593.5 L637.8,594.3 L646.9,594.3" stroke="#333" stroke-width="2.00" opacity="0.3"/>
<path d="M625.6,593.5 L637.8,594.3 L646.9,594.3" stroke="#333" stroke-width="1.07" opacity="0.81"/>
<circle cx="626.8" cy="594.4" r="1.03" fill="#262626" stroke="none" opacity="0.52"/>
<circle cx="630.6" cy="593.8" r="1.00" fill="#262626" stroke="none" opacity="0.63"/>
<circle cx="642.7" cy="593.5" r="0.87" fill="#262626" stroke="none" opacity="0.80"/>
<circle cx="610.4" cy="594.7" r="1.40" fill="#1e1e1e" stroke="none" opacity="0.95"/>
<path d="M633.2,607.2 L640.8,607.2 L646.9,606.4" stroke="#333" stroke-width="2.25" opacity="0.3"/>
<path d="M633.2,607.2 L640.8,607.2 L646.9,606.4" stroke="#1c1c1c" stroke-width="1.20" opacity="0.93"/>
<circle cx="638.9" cy="607.8" r="1.13" fill="#262626" stroke="none" opacity="0.62"/>
<circle cx="639.9" cy="606.7" r="1.17" fill="#262626" stroke="none" opacity="0.69"/>
<circle cx="637.9" cy="606.5" r="0.76" fill="#262626" stroke="none" opacity="0.58"/>
<circle cx="643.0" cy="606.9" r="1.08" fill="#262626" stroke="none" opacity="0.68"/>
<circle cx="640.8" cy="600.3" r="1.56" fill="#1e1e1e" stroke="none" opacity="0.95"/>
<path d="M665.1,609.5 L674.2,611.0" stroke="#333" stroke-width="2.00" opacity="0.3"/>
<path d="M665.1,609.5 L674.2,611.0" stroke="#333" stroke-width="1.07" opacity="0.85"/>
<path d="M657.5,613.3 L663.6,614.8" stroke="#333" stroke-width="2.00" opacity="0.3"/>
<path d="M657.5,613.3 L663.6,614.8" stroke="#222" stroke-width="1.07" opacity="0.95"/>
<circle cx="663.5" cy="615.3" r="1.11" fill="#262626" stroke="none" opacity="0.70"/>
<circle cx="579.3" cy="624.6" r="2.18" fill="#1e1e1e" stroke="none" opacity="0.95"/>
<circle cx="584.6" cy="619.3" r="1.24" fill="#1e1e1e" stroke="none" opacity="0.95"/>
<circle cx="587.7" cy="622.4" r="1.24" fill="#1e1e1e" stroke="none" opacity="0.95"/>
<circle cx="591.5" cy="618.6" r="1.40" fill="#1e1e1e" stroke="none" opacity="0.95"/>
<circle cx="596.0" cy="618.6" r="1.24" fill="#1e1e1e" stroke="none" opacity="0.95"/>
<circle cx="603.6" cy="618.6" r="1.24" fill="#1e1e1e" stroke="none" opacity="0.95"/>
<path d="M599.8,623.9 L613.5,624.2" stroke="#333" stroke-width="1.75" opacity="0.3"/>
<path d="M599.8,623.9 L613.5,624.2" stroke="#333" stroke-width="0.94" opacity="0.85"/>
<circle cx="606.4" cy="623.4" r="0.95" fill="#262626" stroke="none" opacity="0.61"/>
<circle cx="606.8" cy="624.0" r="1.10" fill="#262626" stroke="none" opacity="0.73"/>
<circle cx="602.2" cy="623.5" r="0.66" fill="#262626" stroke="none" opacity="0.65"/>
<path d="M624.1,625.1 L634.7,625.1 L645.4,625.7 L652.9,627.7" stroke="#333" stroke-width="2.00" opacity="0.3"/>
<path d="M624.1,625.1 L634.7,625.1 L645.4,625.7 L652.9,627.7" stroke="#333" stroke-width="1.07" opacity="0.85"/>
<circle cx="633.9" cy="625.0" r="1.11" fill="#262626" stroke="none" opacity="0.59"/>
<circle cx="633.0" cy="624.9" r="0.99" fill="#262626" stroke="none" opacity="0.56"/>
<circle cx="632.4" cy="625.4" r="1.10" fill="#262626" stroke="none" opacity="0.65"/>
<circle cx="640.8" cy="625.9" r="0.97" fill="#262626" stroke="none" opacity="0.58"/>
<circle cx="636.9" cy="624.9" r="1.18" fill="#262626" stroke="none" opacity="0.52"/>
<circle cx="646.9" cy="626.0" r="0.95" fill="#262626" stroke="none" opacity="0.74"/>
<circle cx="633.2" cy="624.6" r="1.56" fill="#1e1e1e" stroke="none" opacity="0.95"/>
<path d="M634.7,617.0 L640.8,617.8" stroke="#333" stroke-width="1.75" opacity="0.3"/>
<path d="M634.7,617.0 L640.8,617.8" stroke="#222" stroke-width="0.94" opacity="0.89"/>
<path d="M608.9,632.2 L625.6,632.7" stroke="#333" stroke-width="1.75" opacity="0.3"/>
<path d="M608.9,632.2 L625.6,632.7" stroke="#222" stroke-width="0.94" opacity="0.82"/>
<circle cx="619.8" cy="633.1" r="0.96" fill="#262626" stroke="none" opacity="0.59"/>
<circle cx="621.9" cy="632.5" r="0.77" fill="#262626" stroke="none" opacity="0.55"/>
<path d="M640.8,633.7 L648.4,634.5 L654.5,636.3" stroke="#333" stroke-width="2.25" opacity="0.3"/>
<path d="M640.8,633.7 L648.4,634.5 L654.5,636.3" stroke="#2a2a2a" stroke-width="1.20" opacity="0.85"/>
<circle cx="642.7" cy="633.7" r="1.03" fill="#262626" stroke="none" opacity="0.73"/>
<circle cx="645.3" cy="634.7" r="0.85" fill="#262626" stroke="none" opacity="0.87"/>
<circle cx="644.4" cy="634.1" r="0.95" fill="#262626" stroke="none" opacity="0.76"/>
<circle cx="648.3" cy="634.1" r="1.26" fill="#262626" stroke="none" opacity="0.81"/>
<circle cx="605.1" cy="639.8" r="1.87" fill="#1e1e1e" stroke="none" opacity="0.95"/>
<circle cx="592.2" cy="640.6" r="1.24" fill="#1e1e1e" stroke="none" opacity="0.95"/>
<circle cx="589.2" cy="645.1" r="1.40" fill="#1e1e1e" stroke="none" opacity="0.95"/>
<circle cx="639.3" cy="639.8" r="1.40" fill="#1e1e1e" stroke="none" opacity="0.95"/>
<circle cx="655.2" cy="644.4" r="1.71" fill="#1e1e1e" stroke="none" opacity="0.95"/>
<path d="M605.9,647.0 L624.1,647.9" stroke="#333" stroke-width="1.75" opacity="0.3"/>
<path d="M605.9,647.0 L624.1,647.9" stroke="#222" stroke-width="0.94" opacity="0.84"/>
<circle cx="614.6" cy="646.7" r="0.89" fill="#262626" stroke="none" opacity="0.84"/>
<circle cx="621.5" cy="648.5" r="0.97" fill="#262626" stroke="none" opacity="0.64"/>
<circle cx="621.4" cy="647.9" r="0.91" fill="#262626" stroke="none" opacity="0.76"/>
<circle cx="622.8" cy="648.3" r="0.84" fill="#262626" stroke="none" opacity="0.65"/>
<path d="M619.5,653.9 L631.7,653.5 L642.3,653.5" stroke="#333" stroke-width="2.00" opacity="0.3"/>
<path d="M619.5,653.9 L631.7,653.5 L642.3,653.5" stroke="#333" stroke-width="1.07" opacity="0.86"/>
<circle cx="620.6" cy="653.8" r="1.01" fill="#262626" stroke="none" opacity="0.76"/>
<circle cx="641.0" cy="654.2" r="0.80" fill="#262626" stroke="none" opacity="0.80"/>
<circle cx="637.1" cy="654.0" r="0.82" fill="#262626" stroke="none" opacity="0.56"/>
<path d="M575.5,655.8 L583.1,656.5 L589.2,655.8" stroke="#333" stroke-width="2.50" opacity="0.3"/>
<path d="M575.5,655.8 L583.1,656.5 L589.2,655.8" stroke="#1c1c1c" stroke-width="1.34" opacity="0.82"/>
<circle cx="580.1" cy="656.1" r="1.03" fill="#262626" stroke="none" opacity="0.84"/>
<circle cx="576.9" cy="656.6" r="1.31" fill="#262626" stroke="none" opacity="0.60"/>
<path d="M593.7,655.8 L601.3,655.8" stroke="#333" stroke-width="1.50" opacity="0.3"/>
<path d="M593.7,655.8 L601.3,655.8" stroke="#2a2a2a" stroke-width="0.80" opacity="0.84"/>
<circle cx="599.9" cy="656.2" r="0.90" fill="#262626" stroke="none" opacity="0.78"/>
<circle cx="595.6" cy="656.3" r="0.78" fill="#262626" stroke="none" opacity="0.83"/>
<circle cx="600.9" cy="655.6" r="0.71" fill="#262626" stroke="none" opacity="0.50"/>
<path d="M668.1,658.8 L674.2,661.8 L671.2,665.6" stroke="#333" stroke-width="2.50" opacity="0.3"/>
<path d="M668.1,658.8 L674.2,661.8 L671.2,665.6" stroke="#333" stroke-width="1.34" opacity="0.87"/>
<circle cx="673.1" cy="661.2" r="1.50" fill="#262626" stroke="none" opacity="0.71"/>
<circle cx="672.5" cy="662.7" r="1.48" fill="#262626" stroke="none" opacity="0.87"/>
<path d="M605.9,661.8 L615.0,662.1" stroke="#333" stroke-width="1.50" opacity="0.3"/>
<path d="M605.9,661.8 L615.0,662.1" stroke="#222" stroke-width="0.80" opacity="0.91"/>
<circle cx="609.3" cy="662.2" r="0.53" fill="#262626" stroke="none" opacity="0.73"/>
<circle cx="593.0" cy="665.6" r="1.24" fill="#1e1e1e" stroke="none" opacity="0.95"/>
<path d="M584.6,675.5 L593.7,676.7 L599.8,679.3" stroke="#333" stroke-width="2.25" opacity="0.3"/>
<path d="M584.6,675.5 L593.7,676.7 L599.8,679.3" stroke="#222" stroke-width="1.20" opacity="0.92"/>
<circle cx="590.4" cy="677.1" r="1.02" fill="#262626" stroke="none" opacity="0.58"/>
<circle cx="597.6" cy="678.4" r="0.88" fill="#262626" stroke="none" opacity="0.89"/>
<circle cx="594.4" cy="677.3" r="1.37" fill="#262626" stroke="none" opacity="0.60"/>
<circle cx="611.2" cy="679.3" r="2.49" fill="#1e1e1e" stroke="none" opacity="0.95"/>
<circle cx="601.3" cy="683.1" r="1.24" fill="#1e1e1e" stroke="none" opacity="0.95"/>
<circle cx="582.3" cy="683.8" r="1.09" fill="#1e1e1e" stroke="none" opacity="0.95"/>
<path d="M633.2,681.6 L648.4,681.9" stroke="#333" stroke-width="1.75" opacity="0.3"/>
<path d="M633.2,681.6 L648.4,681.9" stroke="#333" stroke-width="0.94" opacity="0.92"/>
<circle cx="635.6" cy="681.9" r="0.66" fill="#262626" stroke="none" opacity="0.81"/>
<circle cx="639.9" cy="681.8" r="1.03" fill="#262626" stroke="none" opacity="0.53"/>
<path d="M640.8,686.9 L652.9,686.1 L668.1,683.1" stroke="#333" stroke-width="1.75" opacity="0.3"/>
<path d="M640.8,686.9 L652.9,686.1 L668.1,683.1" stroke="#333" stroke-width="0.94" opacity="0.91"/>
<circle cx="643.6" cy="686.5" r="0.89" fill="#262626" stroke="none" opacity="0.68"/>
<circle cx="649.2" cy="685.8" r="1.10" fill="#262626" stroke="none" opacity="0.70"/>
<circle cx="663.4" cy="683.6" r="0.88" fill="#262626" stroke="none" opacity="0.64"/>
<circle cx="654.8" cy="685.8" r="1.06" fill="#262626" stroke="none" opacity="0.74"/>
<circle cx="664.1" cy="683.8" r="0.69" fill="#262626" stroke="none" opacity="0.81"/>
<circle cx="656.7" cy="685.3" r="0.84" fill="#262626" stroke="none" opacity="0.88"/>
<path d="M595.3,688.9 L608.9,689.5" stroke="#333" stroke-width="1.75" opacity="0.3"/>
<path d="M595.3,688.9 L608.9,689.5" stroke="#1c1c1c" stroke-width="0.94" opacity="0.95"/>
<circle cx="604.8" cy="689.0" r="0.95" fill="#262626" stroke="none" opacity="0.51"/>
<circle cx="605.4" cy="689.5" r="0.64" fill="#262626" stroke="none" opacity="0.56"/>
<circle cx="607.6" cy="689.1" r="0.73" fill="#262626" stroke="none" opacity="0.90"/>
<path d="M578.6,692.2 L593.7,692.5" stroke="#333" stroke-width="1.75" opacity="0.3"/>
<path d="M578.6,692.2 L593.7,692.5" stroke="#333" stroke-width="0.94" opacity="0.92"/>
<circle cx="589.3" cy="693.0" r="0.68" fill="#262626" stroke="none" opacity="0.79"/>
<circle cx="593.4" cy="692.6" r="1.03" fill="#262626" stroke="none" opacity="0.77"/>
<circle cx="584.0" cy="692.7" r="0.80" fill="#262626" stroke="none" opacity="0.53"/>
<circle cx="581.7" cy="693.0" r="0.92" fill="#262626" stroke="none" opacity="0.64"/>
<path d="M625.6,689.9 L634.7,691.4" stroke="#333" stroke-width="2.76" opacity="0.3"/>
<path d="M625.6,689.9 L634.7,691.4" stroke="#333" stroke-width="1.47" opacity="0.91"/>
<circle cx="632.0" cy="691.3" r="1.37" fill="#262626" stroke="none" opacity="0.66"/>
<circle cx="628.7" cy="687.6" r="1.09" fill="#1e1e1e" stroke="none" opacity="0.95"/>
<path d="M616.5,670.2 L622.6,670.2" stroke="#333" stroke-width="1.25" opacity="0.3"/>
<path d="M616.5,670.2 L622.6,670.2" stroke="#1c1c1c" stroke-width="0.67" opacity="0.86"/>
<circle cx="619.7" cy="669.8" r="0.59" fill="#262626" stroke="none" opacity="0.79"/>
<circle cx="659.0" cy="659.6" r="1.09" fill="#1e1e1e" stroke="none" opacity="0.95"/>
<circle cx="649.9" cy="653.5" r="1.09" fill="#1e1e1e" stroke="none" opacity="0.95"/>
<circle cx="675.7" cy="626.2" r="1.09" fill="#1e1e1e" stroke="none" opacity="0.95"/>
<path d="M471.5,700.6 L482.1,699.0 L492.8,699.0 L500.4,698.3" stroke="#333" stroke-width="2.00" opacity="0.3"/>
<path d="M471.5,700.6 L482.1,699.0 L492.8,699.0 L500.4,698.3" stroke="#1c1c1c" stroke-width="1.07" opacity="0.81"/>
<circle cx="479.1" cy="699.6" r="0.90" fill="#262626" stroke="none" opacity="0.89"/>
<circle cx="473.2" cy="700.0" r="1.13" fill="#262626" stroke="none" opacity="0.66"/>
<circle cx="496.1" cy="698.6" r="0.97" fill="#262626" stroke="none" opacity="0.87"/>
<circle cx="494.9" cy="699.2" r="0.73" fill="#262626" stroke="none" opacity="0.56"/>
<circle cx="514.8" cy="698.3" r="2.18" fill="#1e1e1e" stroke="none" opacity="0.95"/>
<circle cx="544.4" cy="702.1" r="2.18" fill="#1e1e1e" stroke="none" opacity="0.95"/>
<path d="M553.5,701.3 L561.1,702.1 L567.2,704.3 L574.0,705.1" stroke="#333" stroke-width="2.25" opacity="0.3"/>
<path d="M553.5,701.3 L561.1,702.1 L567.2,704.3 L574.0,705.1" stroke="#333" stroke-width="1.20" opacity="0.93"/>
<circle cx="558.7" cy="701.1" r="1.36" fill="#262626" stroke="none" opacity="0.56"/>
<circle cx="557.5" cy="702.0" r="1.14" fill="#262626" stroke="none" opacity="0.87"/>
<circle cx="562.6" cy="701.7" r="1.42" fill="#262626" stroke="none" opacity="0.57"/>
<circle cx="563.9" cy="704.1" r="0.86" fill="#262626" stroke="none" opacity="0.87"/>
<circle cx="569.3" cy="704.7" r="1.26" fill="#262626" stroke="none" opacity="0.80"/>
<circle cx="481.4" cy="706.3" r="1.24" fill="#1e1e1e" stroke="none" opacity="0.95"/>
<circle cx="499.6" cy="711.9" r="1.56" fill="#1e1e1e" stroke="none" opacity="0.95"/>
<path d="M475.3,711.9 L483.7,710.4" stroke="#333" stroke-width="1.75" opacity="0.3"/>
<path d="M475.3,711.9 L483.7,710.4" stroke="#1c1c1c" stroke-width="0.94" opacity="0.88"/>
<circle cx="477.4" cy="711.4" r="0.70" fill="#262626" stroke="none" opacity="0.60"/>
<circle cx="480.7" cy="710.3" r="0.65" fill="#262626" stroke="none" opacity="0.67"/>
<circle cx="495.0" cy="715.7" r="1.09" fill="#1e1e1e" stroke="none" opacity="0.95"/>
<circle cx="522.4" cy="719.1" r="1.40" fill="#1e1e1e" stroke="none" opacity="0.95"/>
<circle cx="535.3" cy="714.2" r="1.24" fill="#1e1e1e" stroke="none" opacity="0.95"/>
<path d="M542.9,722.6 L552.0,723.0 L561.1,723.6" stroke="#333" stroke-width="1.75" opacity="0.3"/>
<path d="M542.9,722.6 L552.0,723.0 L561.1,723.6" stroke="#2a2a2a" stroke-width="0.94" opacity="0.85"/>
<circle cx="545.8" cy="722.4" r="1.00" fill="#262626" stroke="none" opacity="0.85"/>
<circle cx="542.7" cy="723.1" r="0.59" fill="#262626" stroke="none" opacity="0.82"/>
<circle cx="553.5" cy="722.4" r="1.11" fill="#262626" stroke="none" opacity="0.78"/>
<circle cx="554.2" cy="722.7" r="0.61" fill="#262626" stroke="none" opacity="0.79"/>
<circle cx="555.5" cy="723.0" r="0.92" fill="#262626" stroke="none" opacity="0.83"/>
<circle cx="558.8" cy="728.6" r="2.02" fill="#1e1e1e" stroke="none" opacity="0.95"/>
<path d="M525.4,727.6 L536.8,728.2" stroke="#333" stroke-width="1.75" opacity="0.3"/>
<path d="M525.4,727.6 L536.8,728.2" stroke="#1c1c1c" stroke-width="0.94" opacity="0.81"/>
<circle cx="535.7" cy="727.4" r="0.67" fill="#262626" stroke="none" opacity="0.80"/>
<path d="M471.5,724.8 L479.1,725.6" stroke="#333" stroke-width="1.50" opacity="0.3"/>
<path d="M471.5,724.8 L479.1,725.6" stroke="#2a2a2a" stroke-width="0.80" opacity="0.93"/>
<circle cx="475.5" cy="725.5" r="0.50" fill="#262626" stroke="none" opacity="0.88"/>
<circle cx="476.7" cy="726.0" r="0.66" fill="#262626" stroke="none" opacity="0.60"/>
<path d="M508.0,724.8 L517.1,724.8" stroke="#333" stroke-width="1.50" opacity="0.3"/>
<path d="M508.0,724.8 L517.1,724.8" stroke="#333" stroke-width="0.80" opacity="0.91"/>
<circle cx="513.2" cy="724.1" r="0.94" fill="#262626" stroke="none" opacity="0.82"/>
<circle cx="509.9" cy="725.4" r="0.59" fill="#262626" stroke="none" opacity="0.74"/>
<path d="M471.5,733.2 L479.1,734.0" stroke="#333" stroke-width="2.00" opacity="0.3"/>
<path d="M471.5,733.2 L479.1,734.0" stroke="#2a2a2a" stroke-width="1.07" opacity="0.91"/>
<circle cx="478.3" cy="734.2" r="0.71" fill="#262626" stroke="none" opacity="0.66"/>
<circle cx="484.4" cy="736.2" r="1.40" fill="#1e1e1e" stroke="none" opacity="0.95"/>
<circle cx="511.7" cy="732.1" r="1.24" fill="#1e1e1e" stroke="none" opacity="0.95"/>
<circle cx="518.6" cy="732.4" r="1.24" fill="#1e1e1e" stroke="none" opacity="0.95"/>
<path d="M485.2,740.8 L494.3,741.2 L501.9,741.2" stroke="#333" stroke-width="2.00" opacity="0.3"/>
<path d="M485.2,740.8 L494.3,741.2 L501.9,741.2" stroke="#333" stroke-width="1.07" opacity="0.89"/>
<circle cx="484.6" cy="741.5" r="0.68" fill="#262626" stroke="none" opacity="0.64"/>
<circle cx="496.2" cy="740.9" r="1.19" fill="#262626" stroke="none" opacity="0.63"/>
<circle cx="501.3" cy="740.8" r="1.12" fill="#262626" stroke="none" opacity="0.81"/>
<circle cx="498.4" cy="741.5" r="1.26" fill="#262626" stroke="none" opacity="0.81"/>
<path d="M497.3,744.6 L506.4,744.9" stroke="#333" stroke-width="1.50" opacity="0.3"/>
<path d="M497.3,744.6 L506.4,744.9" stroke="#222" stroke-width="0.80" opacity="0.83"/>
<circle cx="505.0" cy="744.8" r="0.88" fill="#262626" stroke="none" opacity="0.89"/>
<path d="M515.5,741.5 L523.1,742.3 L529.2,742.8" stroke="#333" stroke-width="2.00" opacity="0.3"/>
<path d="M515.5,741.5 L523.1,742.3 L529.2,742.8" stroke="#1c1c1c" stroke-width="1.07" opacity="0.82"/>
<circle cx="519.5" cy="741.7" r="1.04" fill="#262626" stroke="none" opacity="0.88"/>
<circle cx="521.8" cy="741.4" r="0.89" fill="#262626" stroke="none" opacity="0.73"/>
<circle cx="524.6" cy="743.1" r="1.04" fill="#262626" stroke="none" opacity="0.81"/>
<circle cx="527.7" cy="743.2" r="0.97" fill="#262626" stroke="none" opacity="0.80"/>
<path d="M540.6,740.8 L548.9,741.5 L558.8,742.3" stroke="#333" stroke-width="2.25" opacity="0.3"/>
<path d="M540.6,740.8 L548.9,741.5 L558.8,742.3" stroke="#222" stroke-width="1.20" opacity="0.94"/>
<circle cx="543.8" cy="741.9" r="1.29" fill="#262626" stroke="none" opacity="0.74"/>
<circle cx="545.5" cy="741.6" r="1.10" fill="#262626" stroke="none" opacity="0.87"/>
<circle cx="557.3" cy="742.2" r="1.08" fill="#262626" stroke="none" opacity="0.67"/>
<circle cx="555.9" cy="742.1" r="0.78" fill="#262626" stroke="none" opacity="0.77"/>
<circle cx="543.3" cy="740.0" r="1.40" fill="#1e1e1e" stroke="none" opacity="0.95"/>
<circle cx="570.2" cy="741.5" r="1.87" fill="#1e1e1e" stroke="none" opacity="0.95"/>
<path d="M471.5,748.4 L477.6,749.4 L483.7,749.9" stroke="#333" stroke-width="2.50" opacity="0.3"/>
<path d="M471.5,748.4 L477.6,749.4 L483.7,749.9" stroke="#1c1c1c" stroke-width="1.34" opacity="0.85"/>
<circle cx="472.0" cy="747.9" r="1.20" fill="#262626" stroke="none" opacity="0.71"/>
<circle cx="495.0" cy="749.1" r="1.24" fill="#1e1e1e" stroke="none" opacity="0.95"/>
<circle cx="499.6" cy="748.4" r="1.24" fill="#1e1e1e" stroke="none" opacity="0.95"/>
<path d="M513.3,754.0 L517.1,753.4" stroke="#333" stroke-width="1.75" opacity="0.3"/>
<path d="M513.3,754.0 L517.1,753.4" stroke="#222" stroke-width="0.94" opacity="0.85"/>
<circle cx="515.9" cy="752.8" r="0.64" fill="#262626" stroke="none" opacity="0.80"/>
<path d="M549.7,752.9 L558.1,753.4 L567.2,752.5 L574.0,752.5" stroke="#333" stroke-width="2.25" opacity="0.3"/>
<path d="M549.7,752.9 L558.1,753.4 L567.2,752.5 L574.0,752.5" stroke="#1c1c1c" stroke-width="1.20" opacity="0.88"/>
<circle cx="556.2" cy="752.9" r="1.22" fill="#262626" stroke="none" opacity="0.51"/>
<circle cx="552.9" cy="752.7" r="1.27" fill="#262626" stroke="none" opacity="0.51"/>
<circle cx="562.3" cy="752.7" r="1.09" fill="#262626" stroke="none" opacity="0.78"/>
<circle cx="550.5" cy="752.9" r="1.56" fill="#1e1e1e" stroke="none" opacity="0.95"/>
<circle cx="503.4" cy="757.2" r="1.56" fill="#1e1e1e" stroke="none" opacity="0.95"/>
<circle cx="479.1" cy="758.2" r="1.24" fill="#1e1e1e" stroke="none" opacity="0.95"/>
<path d="M523.1,759.8 L530.7,759.0 L536.8,759.8" stroke="#333" stroke-width="2.00" opacity="0.3"/>
<path d="M523.1,759.8 L530.7,759.0 L536.8,759.8" stroke="#2a2a2a" stroke-width="1.07" opacity="0.92"/>
<circle cx="525.0" cy="759.1" r="0.89" fill="#262626" stroke="none" opacity="0.68"/>
<circle cx="525.6" cy="759.5" r="0.85" fill="#262626" stroke="none" opacity="0.52"/>
<circle cx="536.2" cy="760.4" r="1.14" fill="#262626" stroke="none" opacity="0.61"/>
<path d="M471.5,761.3 L479.1,762.0 L488.2,762.5 L495.8,763.1" stroke="#333" stroke-width="2.76" opacity="0.3"/>
<path d="M471.5,761.3 L479.1,762.0 L488.2,762.5 L495.8,763.1" stroke="#2a2a2a" stroke-width="1.47" opacity="0.86"/>
<circle cx="474.1" cy="762.0" r="1.51" fill="#262626" stroke="none" opacity="0.76"/>
<circle cx="479.9" cy="762.0" r="1.54" fill="#262626" stroke="none" opacity="0.63"/>
<circle cx="479.4" cy="761.8" r="1.61" fill="#262626" stroke="none" opacity="0.71"/>
<circle cx="494.0" cy="763.6" r="1.66" fill="#262626" stroke="none" opacity="0.88"/>
<circle cx="501.1" cy="766.6" r="1.56" fill="#1e1e1e" stroke="none" opacity="0.95"/>
<circle cx="508.7" cy="768.9" r="2.33" fill="#1e1e1e" stroke="none" opacity="0.95"/>
<circle cx="487.5" cy="770.4" r="1.24" fill="#1e1e1e" stroke="none" opacity="0.95"/>
<path d="M538.3,756.0 L547.4,756.7" stroke="#333" stroke-width="1.50" opacity="0.3"/>
<path d="M538.3,756.0 L547.4,756.7" stroke="#222" stroke-width="0.80" opacity="0.81"/>
<circle cx="539.2" cy="756.4" r="0.52" fill="#262626" stroke="none" opacity="0.69"/>
<circle cx="564.9" cy="772.7" r="1.24" fill="#1e1e1e" stroke="none" opacity="0.95"/>
<circle cx="548.9" cy="771.9" r="1.09" fill="#1e1e1e" stroke="none" opacity="0.95"/>
<circle cx="477.6" cy="776.5" r="1.09" fill="#1e1e1e" stroke="none" opacity="0.95"/>
<circle cx="501.1" cy="779.5" r="1.40" fill="#1e1e1e" stroke="none" opacity="0.95"/>
<path d="M479.1,782.5 L488.2,783.3" stroke="#333" stroke-width="1.75" opacity="0.3"/>
<path d="M479.1,782.5 L488.2,783.3" stroke="#222" stroke-width="0.94" opacity="0.83"/>
<circle cx="484.0" cy="782.2" r="1.03" fill="#262626" stroke="none" opacity="0.88"/>
<circle cx="480.0" cy="782.7" r="0.80" fill="#262626" stroke="none" opacity="0.76"/>
<path d="M492.8,787.1 L508.0,787.8" stroke="#333" stroke-width="1.75" opacity="0.3"/>
<path d="M492.8,787.1 L508.0,787.8" stroke="#333" stroke-width="0.94" opacity="0.88"/>
<path d="M515.5,785.6 L520.1,785.6" stroke="#333" stroke-width="2.76" opacity="0.3"/>
<path d="M515.5,785.6 L520.1,785.6" stroke="#1c1c1c" stroke-width="1.47" opacity="0.91"/>
<circle cx="516.6" cy="786.1" r="1.52" fill="#262626" stroke="none" opacity="0.62"/>
<path d="M520.1,786.3 L533.8,787.1" stroke="#333" stroke-width="1.75" opacity="0.3"/>
<path d="M520.1,786.3 L533.8,787.1" stroke="#1c1c1c" stroke-width="0.94" opacity="0.91"/>
<circle cx="533.0" cy="786.4" r="0.62" fill="#262626" stroke="none" opacity="0.59"/>
<circle cx="520.9" cy="786.5" r="0.73" fill="#262626" stroke="none" opacity="0.59"/>
<circle cx="528.9" cy="786.3" r="0.64" fill="#262626" stroke="none" opacity="0.55"/>
<path d="M539.1,782.5 L553.5,783.3" stroke="#333" stroke-width="1.75" opacity="0.3"/>
<path d="M539.1,782.5 L553.5,783.3" stroke="#333" stroke-width="0.94" opacity="0.88"/>
<circle cx="550.2" cy="783.3" r="0.76" fill="#262626" stroke="none" opacity="0.77"/>
<circle cx="553.5" cy="783.1" r="0.61" fill="#262626" stroke="none" opacity="0.85"/>
<circle cx="539.2" cy="783.0" r="0.62" fill="#262626" stroke="none" opacity="0.61"/>
<circle cx="542.9" cy="783.5" r="1.09" fill="#262626" stroke="none" opacity="0.58"/>
<circle cx="533.8" cy="791.6" r="2.18" fill="#1e1e1e" stroke="none" opacity="0.95"/>
<circle cx="513.3" cy="790.4" r="1.24" fill="#1e1e1e" stroke="none" opacity="0.95"/>
<circle cx="489.7" cy="787.5" r="1.24" fill="#1e1e1e" stroke="none" opacity="0.95"/>
<circle cx="545.9" cy="796.2" r="1.56" fill="#1e1e1e" stroke="none" opacity="0.95"/>
<circle cx="558.8" cy="796.2" r="1.24" fill="#1e1e1e" stroke="none" opacity="0.95"/>
<circle cx="571.7" cy="792.4" r="1.24" fill="#1e1e1e" stroke="none" opacity="0.95"/>
<path d="M471.5,795.4 L476.1,795.9" stroke="#333" stroke-width="1.50" opacity="0.3"/>
<path d="M471.5,795.4 L476.1,795.9" stroke="#1c1c1c" stroke-width="0.80" opacity="0.89"/>
<circle cx="474.1" cy="795.2" r="0.76" fill="#262626" stroke="none" opacity="0.66"/>
<path d="M575.5,705.1 L581.6,705.4 L589.2,705.9" stroke="#333" stroke-width="2.25" opacity="0.3"/>
<path d="M575.5,705.1 L581.6,705.4 L589.2,705.9" stroke="#1c1c1c" stroke-width="1.20" opacity="0.83"/>
<circle cx="581.7" cy="706.0" r="1.04" fill="#262626" stroke="none" opacity="0.89"/>
<circle cx="582.6" cy="705.3" r="1.08" fill="#262626" stroke="none" opacity="0.78"/>
<path d="M604.4,707.4 L612.0,708.9" stroke="#333" stroke-width="2.00" opacity="0.3"/>
<path d="M604.4,707.4 L612.0,708.9" stroke="#1c1c1c" stroke-width="1.07" opacity="0.93"/>
<circle cx="612.7" cy="711.2" r="1.56" fill="#1e1e1e" stroke="none" opacity="0.95"/>
<circle cx="616.5" cy="698.3" r="1.56" fill="#1e1e1e" stroke="none" opacity="0.95"/>
<circle cx="651.4" cy="701.3" r="1.56" fill="#1e1e1e" stroke="none" opacity="0.95"/>
<circle cx="674.2" cy="696.8" r="1.24" fill="#1e1e1e" stroke="none" opacity="0.95"/>
<path d="M634.7,706.9 L640.8,707.4 L649.9,707.4" stroke="#333" stroke-width="2.00" opacity="0.3"/>
<path d="M634.7,706.9 L640.8,707.4 L649.9,707.4" stroke="#222" stroke-width="1.07" opacity="0.92"/>
<circle cx="635.9" cy="706.3" r="0.95" fill="#262626" stroke="none" opacity="0.57"/>
<circle cx="642.1" cy="707.5" r="0.98" fill="#262626" stroke="none" opacity="0.74"/>
<circle cx="629.4" cy="706.6" r="1.09" fill="#1e1e1e" stroke="none" opacity="0.95"/>
<circle cx="638.5" cy="718.0" r="1.09" fill="#1e1e1e" stroke="none" opacity="0.95"/>
<path d="M621.1,713.5 L628.7,714.2" stroke="#333" stroke-width="1.50" opacity="0.3"/>
<path d="M621.1,713.5 L628.7,714.2" stroke="#2a2a2a" stroke-width="0.80" opacity="0.84"/>
<circle cx="621.5" cy="714.0" r="0.74" fill="#262626" stroke="none" opacity="0.67"/>
<circle cx="622.2" cy="713.7" r="0.66" fill="#262626" stroke="none" opacity="0.85"/>
<path d="M649.9,718.0 L660.5,718.8 L672.7,719.5" stroke="#333" stroke-width="1.75" opacity="0.3"/>
<path d="M649.9,718.0 L660.5,718.8 L672.7,719.5" stroke="#222" stroke-width="0.94" opacity="0.91"/>
<circle cx="652.7" cy="717.9" r="0.69" fill="#262626" stroke="none" opacity="0.69"/>
<circle cx="660.7" cy="719.0" r="1.04" fill="#262626" stroke="none" opacity="0.59"/>
<circle cx="661.4" cy="719.0" r="0.65" fill="#262626" stroke="none" opacity="0.63"/>
<circle cx="666.6" cy="724.1" r="1.87" fill="#1e1e1e" stroke="none" opacity="0.95"/>
<path d="M613.5,724.1 L625.6,724.5" stroke="#333" stroke-width="1.75" opacity="0.3"/>
<path d="M613.5,724.1 L625.6,724.5" stroke="#222" stroke-width="0.94" opacity="0.93"/>
<circle cx="620.9" cy="723.9" r="0.60" fill="#262626" stroke="none" opacity="0.82"/>
<path d="M630.2,724.1 L637.8,724.1" stroke="#333" stroke-width="1.50" opacity="0.3"/>
<path d="M630.2,724.1 L637.8,724.1" stroke="#2a2a2a" stroke-width="0.80" opacity="0.92"/>
<circle cx="632.6" cy="723.9" r="0.82" fill="#262626" stroke="none" opacity="0.86"/>
<circle cx="633.0" cy="723.7" r="0.54" fill="#262626" stroke="none" opacity="0.60"/>
<path d="M577.0,727.9 L589.2,728.2" stroke="#333" stroke-width="1.50" opacity="0.3"/>
<path d="M577.0,727.9 L589.2,728.2" stroke="#1c1c1c" stroke-width="0.80" opacity="0.89"/>
<path d="M590.7,731.7 L598.3,732.4 L605.9,732.4" stroke="#333" stroke-width="2.00" opacity="0.3"/>
<path d="M590.7,731.7 L598.3,732.4 L605.9,732.4" stroke="#222" stroke-width="1.07" opacity="0.88"/>
<circle cx="593.5" cy="732.3" r="1.05" fill="#262626" stroke="none" opacity="0.90"/>
<circle cx="598.4" cy="732.4" r="1.18" fill="#262626" stroke="none" opacity="0.80"/>
<circle cx="600.0" cy="732.3" r="1.11" fill="#262626" stroke="none" opacity="0.88"/>
<path d="M602.1,734.7 L601.3,739.3" stroke="#333" stroke-width="1.75" opacity="0.3"/>
<path d="M602.1,734.7 L601.3,739.3" stroke="#2a2a2a" stroke-width="0.94" opacity="0.90"/>
<circle cx="635.5" cy="730.2" r="1.56" fill="#1e1e1e" stroke="none" opacity="0.95"/>
<path d="M669.6,732.4 L675.7,732.4" stroke="#333" stroke-width="1.50" opacity="0.3"/>
<path d="M669.6,732.4 L675.7,732.4" stroke="#2a2a2a" stroke-width="0.80" opacity="0.93"/>
<circle cx="580.8" cy="738.5" r="1.56" fill="#1e1e1e" stroke="none" opacity="0.95"/>
<path d="M636.2,738.5 L642.3,738.8" stroke="#333" stroke-width="1.75" opacity="0.3"/>
<path d="M636.2,738.5 L642.3,738.8" stroke="#333" stroke-width="0.94" opacity="0.91"/>
<circle cx="638.5" cy="738.4" r="1.02" fill="#262626" stroke="none" opacity="0.58"/>
<circle cx="639.9" cy="738.4" r="0.88" fill="#262626" stroke="none" opacity="0.54"/>
<path d="M625.6,743.1 L633.2,744.3" stroke="#333" stroke-width="1.75" opacity="0.3"/>
<path d="M625.6,743.1 L633.2,744.3" stroke="#2a2a2a" stroke-width="0.94" opacity="0.82"/>
<circle cx="626.3" cy="743.1" r="1.01" fill="#262626" stroke="none" opacity="0.58"/>
<circle cx="617.3" cy="744.6" r="1.40" fill="#1e1e1e" stroke="none" opacity="0.95"/>
<path d="M648.4,743.8 L656.0,744.3 L665.1,744.6" stroke="#333" stroke-width="2.00" opacity="0.3"/>
<path d="M648.4,743.8 L656.0,744.3 L665.1,744.6" stroke="#1c1c1c" stroke-width="1.07" opacity="0.81"/>
<circle cx="649.5" cy="744.0" r="0.99" fill="#262626" stroke="none" opacity="0.52"/>
<circle cx="651.6" cy="743.4" r="0.89" fill="#262626" stroke="none" opacity="0.62"/>
<circle cx="655.3" cy="744.8" r="0.72" fill="#262626" stroke="none" opacity="0.76"/>
<circle cx="657.0" cy="744.9" r="0.87" fill="#262626" stroke="none" opacity="0.61"/>
<circle cx="655.6" cy="743.7" r="1.04" fill="#262626" stroke="none" opacity="0.59"/>
<circle cx="664.3" cy="746.4" r="2.02" fill="#1e1e1e" stroke="none" opacity="0.95"/>
<path d="M575.5,752.9 L581.6,751.4 L589.2,749.4 L598.3,749.4" stroke="#333" stroke-width="2.25" opacity="0.3"/>
<path d="M575.5,752.9 L581.6,751.4 L589.2,749.4 L598.3,749.4" stroke="#333" stroke-width="1.20" opacity="0.92"/>
<circle cx="584.6" cy="750.2" r="1.06" fill="#262626" stroke="none" opacity="0.85"/>
<circle cx="596.1" cy="749.1" r="0.87" fill="#262626" stroke="none" opacity="0.90"/>
<circle cx="612.0" cy="751.4" r="1.40" fill="#1e1e1e" stroke="none" opacity="0.95"/>
<path d="M593.7,753.7 L602.8,754.4" stroke="#333" stroke-width="1.75" opacity="0.3"/>
<path d="M593.7,753.7 L602.8,754.4" stroke="#333" stroke-width="0.94" opacity="0.90"/>
<circle cx="601.7" cy="754.9" r="0.69" fill="#262626" stroke="none" opacity="0.56"/>
<circle cx="594.1" cy="754.2" r="0.86" fill="#262626" stroke="none" opacity="0.69"/>
<path d="M587.7,757.5 L593.7,757.9" stroke="#333" stroke-width="1.50" opacity="0.3"/>
<path d="M587.7,757.5 L593.7,757.9" stroke="#2a2a2a" stroke-width="0.80" opacity="0.93"/>
<circle cx="592.9" cy="757.8" r="0.57" fill="#262626" stroke="none" opacity="0.74"/>
<circle cx="588.0" cy="757.8" r="0.57" fill="#262626" stroke="none" opacity="0.68"/>
<path d="M602.8,759.0 L613.5,759.5 L624.1,759.5" stroke="#333" stroke-width="1.50" opacity="0.3"/>
<path d="M602.8,759.0 L613.5,759.5 L624.1,759.5" stroke="#222" stroke-width="0.80" opacity="0.83"/>
<circle cx="603.5" cy="759.7" r="0.67" fill="#262626" stroke="none" opacity="0.80"/>
<circle cx="609.6" cy="759.9" r="0.66" fill="#262626" stroke="none" opacity="0.65"/>
<circle cx="603.1" cy="758.7" r="0.81" fill="#262626" stroke="none" opacity="0.71"/>
<circle cx="618.3" cy="758.8" r="0.56" fill="#262626" stroke="none" opacity="0.66"/>
<circle cx="620.4" cy="759.4" r="0.60" fill="#262626" stroke="none" opacity="0.88"/>
<circle cx="616.4" cy="759.9" r="0.88" fill="#262626" stroke="none" opacity="0.86"/>
<circle cx="614.7" cy="758.8" r="0.68" fill="#262626" stroke="none" opacity="0.79"/>
<path d="M649.9,759.0 L654.5,760.5" stroke="#333" stroke-width="2.76" opacity="0.3"/>
<path d="M649.9,759.0 L654.5,760.5" stroke="#333" stroke-width="1.47" opacity="0.91"/>
<circle cx="653.9" cy="760.6" r="1.59" fill="#262626" stroke="none" opacity="0.68"/>
<path d="M656.0,758.2 L665.1,758.5" stroke="#333" stroke-width="1.75" opacity="0.3"/>
<path d="M656.0,758.2 L665.1,758.5" stroke="#1c1c1c" stroke-width="0.94" opacity="0.87"/>
<circle cx="658.9" cy="758.5" r="0.87" fill="#262626" stroke="none" opacity="0.82"/>
<circle cx="656.4" cy="758.5" r="0.79" fill="#262626" stroke="none" opacity="0.60"/>
<circle cx="667.4" cy="756.0" r="1.09" fill="#1e1e1e" stroke="none" opacity="0.95"/>
<circle cx="643.8" cy="757.9" r="1.09" fill="#1e1e1e" stroke="none" opacity="0.95"/>
<circle cx="631.7" cy="756.7" r="0.93" fill="#1e1e1e" stroke="none" opacity="0.95"/>
<circle cx="593.0" cy="765.1" r="1.40" fill="#1e1e1e" stroke="none" opacity="0.95"/>
<path d="M586.9,774.2 L596.8,774.6 L604.4,774.6" stroke="#333" stroke-width="1.75" opacity="0.3"/>
<path d="M586.9,774.2 L596.8,774.6 L604.4,774.6" stroke="#1c1c1c" stroke-width="0.94" opacity="0.92"/>
<circle cx="592.7" cy="774.1" r="1.10" fill="#262626" stroke="none" opacity="0.89"/>
<circle cx="598.0" cy="774.8" r="0.73" fill="#262626" stroke="none" opacity="0.60"/>
<circle cx="597.3" cy="775.3" r="0.73" fill="#262626" stroke="none" opacity="0.78"/>
<circle cx="620.3" cy="775.7" r="2.49" fill="#1e1e1e" stroke="none" opacity="0.95"/>
<path d="M630.2,770.4 L642.3,771.1 L652.9,771.9 L660.5,774.2" stroke="#333" stroke-width="2.00" opacity="0.3"/>
<path d="M630.2,770.4 L642.3,771.1 L652.9,771.9 L660.5,774.2" stroke="#1c1c1c" stroke-width="1.07" opacity="0.94"/>
<circle cx="637.3" cy="771.6" r="0.99" fill="#262626" stroke="none" opacity="0.55"/>
<circle cx="633.0" cy="770.1" r="1.03" fill="#262626" stroke="none" opacity="0.89"/>
<circle cx="654.9" cy="771.9" r="0.92" fill="#262626" stroke="none" opacity="0.66"/>
<circle cx="657.7" cy="772.6" r="0.86" fill="#262626" stroke="none" opacity="0.62"/>
<circle cx="672.7" cy="770.4" r="1.09" fill="#1e1e1e" stroke="none" opacity="0.95"/>
<circle cx="647.6" cy="782.5" r="1.09" fill="#1e1e1e" stroke="none" opacity="0.95"/>
<path d="M631.7,790.1 L642.3,789.8 L652.9,791.3 L665.1,792.4 L675.7,791.9" stroke="#333" stroke-width="2.00" opacity="0.3"/>
<path d="M631.7,790.1 L642.3,789.8 L652.9,791.3 L665.1,792.4 L675.7,791.9" stroke="#1c1c1c" stroke-width="1.07" opacity="0.81"/>
<circle cx="633.1" cy="789.6" r="1.00" fill="#262626" stroke="none" opacity="0.74"/>
<circle cx="633.7" cy="790.1" r="0.96" fill="#262626" stroke="none" opacity="0.82"/>
<circle cx="639.7" cy="789.8" r="0.83" fill="#262626" stroke="none" opacity="0.77"/>
<circle cx="644.6" cy="790.5" r="1.26" fill="#262626" stroke="none" opacity="0.77"/>
<circle cx="663.8" cy="791.6" r="1.01" fill="#262626" stroke="none" opacity="0.65"/>
<circle cx="657.0" cy="791.6" r="1.22" fill="#262626" stroke="none" opacity="0.60"/>
<circle cx="632.4" cy="790.4" r="1.40" fill="#1e1e1e" stroke="none" opacity="0.95"/>
<path d="M605.9,791.6 L616.5,792.4" stroke="#333" stroke-width="1.50" opacity="0.3"/>
<path d="M605.9,791.6 L616.5,792.4" stroke="#1c1c1c" stroke-width="0.80" opacity="0.90"/>
<circle cx="606.7" cy="791.1" r="0.62" fill="#262626" stroke="none" opacity="0.69"/>
<circle cx="613.2" cy="792.2" r="0.86" fill="#262626" stroke="none" opacity="0.61"/>
<circle cx="581.6" cy="790.1" r="1.24" fill="#1e1e1e" stroke="none" opacity="0.95"/>
<circle cx="600.6" cy="796.2" r="1.71" fill="#1e1e1e" stroke="none" opacity="0.95"/>
<circle cx="574.8" cy="793.9" r="1.24" fill="#1e1e1e" stroke="none" opacity="0.95"/>
<circle cx="665.1" cy="796.2" r="1.09" fill="#1e1e1e" stroke="none" opacity="0.95"/>
</g></g>
<rect x="66.50" y="597.20" width="116.50" height="19.40" fill="#c4c4c4" />
<text x="123.85" y="611.60" font-size="17.35" fill="#000" text-anchor="middle" font-weight="bold" font-style="normal" >Tilt angle = 0°</text>
<rect x="284.90" y="597.00" width="122.10" height="19.80" fill="#c4c4c4" />
<text x="345.05" y="611.60" font-size="17.35" fill="#000" text-anchor="middle" font-weight="bold" font-style="normal" >Tilt angle = 45°</text>
<rect x="508.70" y="597.00" width="122.60" height="19.80" fill="#bfbfbf" />
<text x="569.10" y="611.60" font-size="17.35" fill="#000" text-anchor="middle" font-weight="bold" font-style="normal" >Tilt angle = 90°</text>
<rect x="153.90" y="778.50" width="38.20" height="4.40" fill="#fff" />
<text x="176.10" y="770.50" font-size="17.5" fill="#fff" text-anchor="middle" font-weight="normal" font-style="normal" >200 μm</text>
<rect x="381.30" y="780.40" width="38.20" height="4.40" fill="#fff" />
<text x="403.80" y="772.60" font-size="17.5" fill="#fff" text-anchor="middle" font-weight="normal" font-style="normal" >200 μm</text>
<rect x="608.40" y="780.70" width="38.20" height="4.40" fill="#fff" />
<text x="630.60" y="772.80" font-size="17.5" fill="#fff" text-anchor="middle" font-weight="normal" font-style="normal" >200 μm</text>
</g>
</svg>
</body></html>
